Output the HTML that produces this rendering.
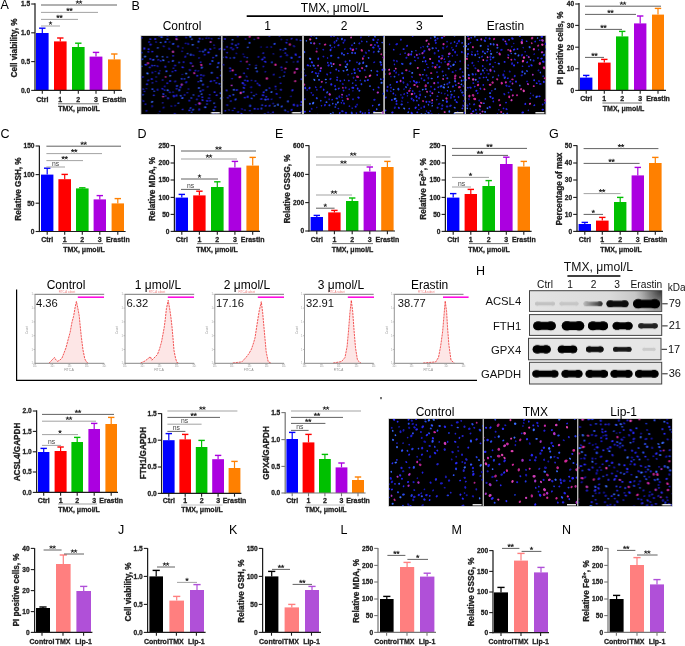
<!DOCTYPE html>
<html><head><meta charset="utf-8"><style>
html,body{margin:0;padding:0;background:#fff;overflow:hidden}
svg{display:block;font-family:"Liberation Sans",sans-serif;will-change:transform}
</style></head><body>
<svg width="685" height="646" viewBox="0 0 685 646" font-family="Liberation Sans, sans-serif"><defs><filter id="mb" x="-5%" y="-5%" width="110%" height="110%"><feGaussianBlur stdDeviation="0.3"/></filter><filter id="bl1" x="-30%" y="-80%" width="160%" height="260%"><feGaussianBlur stdDeviation="0.75"/></filter><filter id="bl2" x="-30%" y="-80%" width="160%" height="260%"><feGaussianBlur stdDeviation="1.4"/></filter><linearGradient id="acg" x1="0" y1="0" x2="1" y2="0"><stop offset="0" stop-color="#e4e4e4"/><stop offset="0.6" stop-color="#dadada"/><stop offset="1" stop-color="#b4b4b4"/></linearGradient><radialGradient id="acr" cx="661" cy="291" r="26" gradientUnits="userSpaceOnUse"><stop offset="0" stop-color="#303030" stop-opacity="0.95"/><stop offset="0.5" stop-color="#505050" stop-opacity="0.5"/><stop offset="1" stop-color="#808080" stop-opacity="0"/></radialGradient><linearGradient id="b2g" gradientUnits="userSpaceOnUse" x1="584" y1="0" x2="602" y2="0"><stop offset="0" stop-color="#b8b8b8"/><stop offset="1" stop-color="#303030"/></linearGradient></defs><rect x="36" y="33" width="12.6" height="57.4" fill="#0000ff"/>
<line x1="42.3" y1="33" x2="42.3" y2="28.2" stroke="#0000ff" stroke-width="1.2"/>
<line x1="39.1" y1="28.2" x2="45.5" y2="28.2" stroke="#0000ff" stroke-width="1.4"/>
<rect x="54" y="41.4" width="12.6" height="49" fill="#ff0000"/>
<line x1="60.3" y1="41.4" x2="60.3" y2="38" stroke="#ff0000" stroke-width="1.2"/>
<line x1="57.1" y1="38" x2="63.5" y2="38" stroke="#ff0000" stroke-width="1.4"/>
<rect x="72" y="47" width="12.6" height="43.4" fill="#00c000"/>
<line x1="78.3" y1="47" x2="78.3" y2="43.2" stroke="#00c000" stroke-width="1.2"/>
<line x1="75.1" y1="43.2" x2="81.5" y2="43.2" stroke="#00c000" stroke-width="1.4"/>
<rect x="89.6" y="56.6" width="12.8" height="33.8" fill="#ab00e0"/>
<line x1="96" y1="56.6" x2="96" y2="52.4" stroke="#ab00e0" stroke-width="1.2"/>
<line x1="92.8" y1="52.4" x2="99.2" y2="52.4" stroke="#ab00e0" stroke-width="1.4"/>
<rect x="108" y="59.4" width="12.6" height="31" fill="#ff8000"/>
<line x1="114.3" y1="59.4" x2="114.3" y2="54" stroke="#ff8000" stroke-width="1.2"/>
<line x1="111.1" y1="54" x2="117.5" y2="54" stroke="#ff8000" stroke-width="1.4"/>
<line x1="35" y1="3.3" x2="35" y2="91" stroke="#1e1e1e" stroke-width="1.25"/>
<line x1="34.4" y1="90.4" x2="122" y2="90.4" stroke="#1e1e1e" stroke-width="1.2"/>
<line x1="31.2" y1="4" x2="35" y2="4" stroke="#1e1e1e" stroke-width="1.1"/>
<text x="30.1" y="6.3" font-size="6.6" text-anchor="end" font-weight="bold" fill="#222" stroke="#222" stroke-width="0.28">1.5</text>
<line x1="31.2" y1="32.8" x2="35" y2="32.8" stroke="#1e1e1e" stroke-width="1.1"/>
<text x="30.1" y="35.1" font-size="6.6" text-anchor="end" font-weight="bold" fill="#222" stroke="#222" stroke-width="0.28">1.0</text>
<line x1="31.2" y1="61.6" x2="35" y2="61.6" stroke="#1e1e1e" stroke-width="1.1"/>
<text x="30.1" y="63.9" font-size="6.6" text-anchor="end" font-weight="bold" fill="#222" stroke="#222" stroke-width="0.28">0.5</text>
<line x1="31.2" y1="90.4" x2="35" y2="90.4" stroke="#1e1e1e" stroke-width="1.1"/>
<text x="30.1" y="92.7" font-size="6.6" text-anchor="end" font-weight="bold" fill="#222" stroke="#222" stroke-width="0.28">0.0</text>
<line x1="42.3" y1="90.4" x2="42.3" y2="93.7" stroke="#1e1e1e" stroke-width="1.1"/>
<line x1="60.3" y1="90.4" x2="60.3" y2="93.7" stroke="#1e1e1e" stroke-width="1.1"/>
<line x1="78.3" y1="90.4" x2="78.3" y2="93.7" stroke="#1e1e1e" stroke-width="1.1"/>
<line x1="96" y1="90.4" x2="96" y2="93.7" stroke="#1e1e1e" stroke-width="1.1"/>
<line x1="114.3" y1="90.4" x2="114.3" y2="93.7" stroke="#1e1e1e" stroke-width="1.1"/>
<text x="42.3" y="101.8" font-size="7" text-anchor="middle" font-weight="bold" fill="#222" stroke="#222" stroke-width="0.28">Ctrl</text>
<text x="60.3" y="101.8" font-size="7" text-anchor="middle" font-weight="bold" fill="#222" stroke="#222" stroke-width="0.28">1</text>
<text x="78.3" y="101.8" font-size="7" text-anchor="middle" font-weight="bold" fill="#222" stroke="#222" stroke-width="0.28">2</text>
<text x="96" y="101.8" font-size="7" text-anchor="middle" font-weight="bold" fill="#222" stroke="#222" stroke-width="0.28">3</text>
<text x="114.3" y="101.8" font-size="7" text-anchor="middle" font-weight="bold" fill="#222" stroke="#222" stroke-width="0.28">Erastin</text>
<line x1="41" y1="5" x2="117" y2="5" stroke="#505050" stroke-width="0.9"/>
<path d="M77.45 2.2 L77.45 0.85 M77.45 2.2 L78.73 1.78 M77.45 2.2 L76.17 1.78 M77.45 2.2 L76.66 3.29 M77.45 2.2 L78.24 3.29 " stroke="#2a2a2a" stroke-width="0.95" stroke-linecap="round" fill="none"/>
<path d="M80.55 2.2 L80.55 0.85 M80.55 2.2 L81.83 1.78 M80.55 2.2 L79.27 1.78 M80.55 2.2 L79.76 3.29 M80.55 2.2 L81.34 3.29 " stroke="#2a2a2a" stroke-width="0.95" stroke-linecap="round" fill="none"/>
<line x1="41" y1="12.4" x2="98" y2="12.4" stroke="#999" stroke-width="0.9"/>
<path d="M67.95 9.6 L67.95 8.25 M67.95 9.6 L69.23 9.18 M67.95 9.6 L66.67 9.18 M67.95 9.6 L67.16 10.69 M67.95 9.6 L68.74 10.69 " stroke="#2a2a2a" stroke-width="0.95" stroke-linecap="round" fill="none"/>
<path d="M71.05 9.6 L71.05 8.25 M71.05 9.6 L72.33 9.18 M71.05 9.6 L69.77 9.18 M71.05 9.6 L70.26 10.69 M71.05 9.6 L71.84 10.69 " stroke="#2a2a2a" stroke-width="0.95" stroke-linecap="round" fill="none"/>
<line x1="41" y1="19.4" x2="78" y2="19.4" stroke="#999" stroke-width="0.9"/>
<path d="M57.95 16.6 L57.95 15.25 M57.95 16.6 L59.23 16.18 M57.95 16.6 L56.67 16.18 M57.95 16.6 L57.16 17.69 M57.95 16.6 L58.74 17.69 " stroke="#2a2a2a" stroke-width="0.95" stroke-linecap="round" fill="none"/>
<path d="M61.05 16.6 L61.05 15.25 M61.05 16.6 L62.33 16.18 M61.05 16.6 L59.77 16.18 M61.05 16.6 L60.26 17.69 M61.05 16.6 L61.84 17.69 " stroke="#2a2a2a" stroke-width="0.95" stroke-linecap="round" fill="none"/>
<line x1="41" y1="26" x2="60" y2="26" stroke="#999" stroke-width="0.9"/>
<path d="M50.5 23.2 L50.5 21.85 M50.5 23.2 L51.78 22.78 M50.5 23.2 L49.22 22.78 M50.5 23.2 L49.71 24.29 M50.5 23.2 L51.29 24.29 " stroke="#2a2a2a" stroke-width="0.95" stroke-linecap="round" fill="none"/>
<line x1="58" y1="103.8" x2="99" y2="103.8" stroke="#666" stroke-width="0.9"/>
<text x="79" y="110.5" font-size="7" text-anchor="middle" font-weight="bold" fill="#222" stroke="#222" stroke-width="0.28">TMX, μmol/L</text>
<text x="16.5" y="48" font-size="8.2" text-anchor="middle" font-weight="bold" fill="#222" stroke="#222" stroke-width="0.3" transform="rotate(-90 16.5 48)">Cell viability, %</text>
<rect x="580" y="77.6" width="12.4" height="12.8" fill="#0000ff"/>
<line x1="586.2" y1="77.6" x2="586.2" y2="75.4" stroke="#0000ff" stroke-width="1.2"/>
<line x1="583" y1="75.4" x2="589.4" y2="75.4" stroke="#0000ff" stroke-width="1.4"/>
<rect x="598" y="62.6" width="12.6" height="27.8" fill="#ff0000"/>
<line x1="604.3" y1="62.6" x2="604.3" y2="59.4" stroke="#ff0000" stroke-width="1.2"/>
<line x1="601.1" y1="59.4" x2="607.5" y2="59.4" stroke="#ff0000" stroke-width="1.4"/>
<rect x="616" y="36.4" width="12.4" height="54" fill="#00c000"/>
<line x1="622.2" y1="36.4" x2="622.2" y2="31.4" stroke="#00c000" stroke-width="1.2"/>
<line x1="619" y1="31.4" x2="625.4" y2="31.4" stroke="#00c000" stroke-width="1.4"/>
<rect x="634" y="23.4" width="12.4" height="67" fill="#ab00e0"/>
<line x1="640.2" y1="23.4" x2="640.2" y2="16" stroke="#ab00e0" stroke-width="1.2"/>
<line x1="637" y1="16" x2="643.4" y2="16" stroke="#ab00e0" stroke-width="1.4"/>
<rect x="652" y="14.6" width="12" height="75.8" fill="#ff8000"/>
<line x1="658" y1="14.6" x2="658" y2="8.4" stroke="#ff8000" stroke-width="1.2"/>
<line x1="654.8" y1="8.4" x2="661.2" y2="8.4" stroke="#ff8000" stroke-width="1.4"/>
<line x1="579" y1="3.1" x2="579" y2="91" stroke="#1e1e1e" stroke-width="1.25"/>
<line x1="578.4" y1="90.4" x2="666" y2="90.4" stroke="#1e1e1e" stroke-width="1.2"/>
<line x1="575.2" y1="4" x2="579" y2="4" stroke="#1e1e1e" stroke-width="1.1"/>
<text x="574.1" y="6.3" font-size="6.6" text-anchor="end" font-weight="bold" fill="#222" stroke="#222" stroke-width="0.28">40</text>
<line x1="575.2" y1="25.4" x2="579" y2="25.4" stroke="#1e1e1e" stroke-width="1.1"/>
<text x="574.1" y="27.7" font-size="6.6" text-anchor="end" font-weight="bold" fill="#222" stroke="#222" stroke-width="0.28">30</text>
<line x1="575.2" y1="47.2" x2="579" y2="47.2" stroke="#1e1e1e" stroke-width="1.1"/>
<text x="574.1" y="49.5" font-size="6.6" text-anchor="end" font-weight="bold" fill="#222" stroke="#222" stroke-width="0.28">20</text>
<line x1="575.2" y1="68.8" x2="579" y2="68.8" stroke="#1e1e1e" stroke-width="1.1"/>
<text x="574.1" y="71.1" font-size="6.6" text-anchor="end" font-weight="bold" fill="#222" stroke="#222" stroke-width="0.28">10</text>
<line x1="575.2" y1="90.4" x2="579" y2="90.4" stroke="#1e1e1e" stroke-width="1.1"/>
<text x="574.1" y="92.7" font-size="6.6" text-anchor="end" font-weight="bold" fill="#222" stroke="#222" stroke-width="0.28">0</text>
<line x1="586.2" y1="90.4" x2="586.2" y2="93.7" stroke="#1e1e1e" stroke-width="1.1"/>
<line x1="604.3" y1="90.4" x2="604.3" y2="93.7" stroke="#1e1e1e" stroke-width="1.1"/>
<line x1="622.2" y1="90.4" x2="622.2" y2="93.7" stroke="#1e1e1e" stroke-width="1.1"/>
<line x1="640.2" y1="90.4" x2="640.2" y2="93.7" stroke="#1e1e1e" stroke-width="1.1"/>
<line x1="658" y1="90.4" x2="658" y2="93.7" stroke="#1e1e1e" stroke-width="1.1"/>
<text x="586.2" y="101.4" font-size="7" text-anchor="middle" font-weight="bold" fill="#222" stroke="#222" stroke-width="0.28">Ctrl</text>
<text x="604.3" y="101.4" font-size="7" text-anchor="middle" font-weight="bold" fill="#222" stroke="#222" stroke-width="0.28">1</text>
<text x="622.2" y="101.4" font-size="7" text-anchor="middle" font-weight="bold" fill="#222" stroke="#222" stroke-width="0.28">2</text>
<text x="640.2" y="101.4" font-size="7" text-anchor="middle" font-weight="bold" fill="#222" stroke="#222" stroke-width="0.28">3</text>
<text x="658" y="101.4" font-size="7" text-anchor="middle" font-weight="bold" fill="#222" stroke="#222" stroke-width="0.28">Erastin</text>
<line x1="585" y1="6.2" x2="661" y2="6.2" stroke="#505050" stroke-width="0.9"/>
<path d="M621.45 3.4 L621.45 2.05 M621.45 3.4 L622.73 2.98 M621.45 3.4 L620.17 2.98 M621.45 3.4 L620.66 4.49 M621.45 3.4 L622.24 4.49 " stroke="#2a2a2a" stroke-width="0.95" stroke-linecap="round" fill="none"/>
<path d="M624.55 3.4 L624.55 2.05 M624.55 3.4 L625.83 2.98 M624.55 3.4 L623.27 2.98 M624.55 3.4 L623.76 4.49 M624.55 3.4 L625.34 4.49 " stroke="#2a2a2a" stroke-width="0.95" stroke-linecap="round" fill="none"/>
<line x1="585" y1="14.4" x2="636" y2="14.4" stroke="#505050" stroke-width="0.9"/>
<path d="M608.95 11.6 L608.95 10.25 M608.95 11.6 L610.23 11.18 M608.95 11.6 L607.67 11.18 M608.95 11.6 L608.16 12.69 M608.95 11.6 L609.74 12.69 " stroke="#2a2a2a" stroke-width="0.95" stroke-linecap="round" fill="none"/>
<path d="M612.05 11.6 L612.05 10.25 M612.05 11.6 L613.33 11.18 M612.05 11.6 L610.77 11.18 M612.05 11.6 L611.26 12.69 M612.05 11.6 L612.84 12.69 " stroke="#2a2a2a" stroke-width="0.95" stroke-linecap="round" fill="none"/>
<line x1="585" y1="29.4" x2="622" y2="29.4" stroke="#505050" stroke-width="0.9"/>
<path d="M601.95 26.6 L601.95 25.25 M601.95 26.6 L603.23 26.18 M601.95 26.6 L600.67 26.18 M601.95 26.6 L601.16 27.69 M601.95 26.6 L602.74 27.69 " stroke="#2a2a2a" stroke-width="0.95" stroke-linecap="round" fill="none"/>
<path d="M605.05 26.6 L605.05 25.25 M605.05 26.6 L606.33 26.18 M605.05 26.6 L603.77 26.18 M605.05 26.6 L604.26 27.69 M605.05 26.6 L605.84 27.69 " stroke="#2a2a2a" stroke-width="0.95" stroke-linecap="round" fill="none"/>
<line x1="585" y1="57.4" x2="604" y2="57.4" stroke="#505050" stroke-width="0.9"/>
<path d="M592.95 54.6 L592.95 53.25 M592.95 54.6 L594.23 54.18 M592.95 54.6 L591.67 54.18 M592.95 54.6 L592.16 55.69 M592.95 54.6 L593.74 55.69 " stroke="#2a2a2a" stroke-width="0.95" stroke-linecap="round" fill="none"/>
<path d="M596.05 54.6 L596.05 53.25 M596.05 54.6 L597.33 54.18 M596.05 54.6 L594.77 54.18 M596.05 54.6 L595.26 55.69 M596.05 54.6 L596.84 55.69 " stroke="#2a2a2a" stroke-width="0.95" stroke-linecap="round" fill="none"/>
<line x1="602.4" y1="103" x2="642" y2="103" stroke="#666" stroke-width="0.9"/>
<text x="623.6" y="110.5" font-size="7" text-anchor="middle" font-weight="bold" fill="#222" stroke="#222" stroke-width="0.28">TMX, μmol/L</text>
<text x="562.9" y="48" font-size="8.2" text-anchor="middle" font-weight="bold" fill="#222" stroke="#222" stroke-width="0.3" transform="rotate(-90 562.9 48)">PI positive cells, %</text>
<rect x="41" y="174.6" width="12.4" height="56.9" fill="#0000ff"/>
<line x1="47.2" y1="174.6" x2="47.2" y2="168.2" stroke="#0000ff" stroke-width="1.2"/>
<line x1="44" y1="168.2" x2="50.4" y2="168.2" stroke="#0000ff" stroke-width="1.4"/>
<rect x="58.4" y="179.2" width="12.6" height="52.3" fill="#ff0000"/>
<line x1="64.7" y1="179.2" x2="64.7" y2="174.4" stroke="#ff0000" stroke-width="1.2"/>
<line x1="61.5" y1="174.4" x2="67.9" y2="174.4" stroke="#ff0000" stroke-width="1.4"/>
<rect x="76" y="188.4" width="12.6" height="43.1" fill="#00c000"/>
<line x1="82.3" y1="188.4" x2="82.3" y2="187.8" stroke="#00c000" stroke-width="1.2"/>
<line x1="79.1" y1="187.8" x2="85.5" y2="187.8" stroke="#00c000" stroke-width="1.4"/>
<rect x="93.6" y="199.4" width="12.4" height="32.1" fill="#ab00e0"/>
<line x1="99.8" y1="199.4" x2="99.8" y2="195.6" stroke="#ab00e0" stroke-width="1.2"/>
<line x1="96.6" y1="195.6" x2="103" y2="195.6" stroke="#ab00e0" stroke-width="1.4"/>
<rect x="111.6" y="203.4" width="12.4" height="28.1" fill="#ff8000"/>
<line x1="117.8" y1="203.4" x2="117.8" y2="198.6" stroke="#ff8000" stroke-width="1.2"/>
<line x1="114.6" y1="198.6" x2="121" y2="198.6" stroke="#ff8000" stroke-width="1.4"/>
<line x1="39.4" y1="145.7" x2="39.4" y2="232.1" stroke="#1e1e1e" stroke-width="1.25"/>
<line x1="38.8" y1="231.5" x2="125.6" y2="231.5" stroke="#1e1e1e" stroke-width="1.2"/>
<line x1="35.6" y1="146" x2="39.4" y2="146" stroke="#1e1e1e" stroke-width="1.1"/>
<text x="34.5" y="148.3" font-size="6.6" text-anchor="end" font-weight="bold" fill="#222" stroke="#222" stroke-width="0.28">150</text>
<line x1="35.6" y1="174.6" x2="39.4" y2="174.6" stroke="#1e1e1e" stroke-width="1.1"/>
<text x="34.5" y="176.9" font-size="6.6" text-anchor="end" font-weight="bold" fill="#222" stroke="#222" stroke-width="0.28">100</text>
<line x1="35.6" y1="203.2" x2="39.4" y2="203.2" stroke="#1e1e1e" stroke-width="1.1"/>
<text x="34.5" y="205.5" font-size="6.6" text-anchor="end" font-weight="bold" fill="#222" stroke="#222" stroke-width="0.28">50</text>
<line x1="35.6" y1="231.5" x2="39.4" y2="231.5" stroke="#1e1e1e" stroke-width="1.1"/>
<text x="34.5" y="233.8" font-size="6.6" text-anchor="end" font-weight="bold" fill="#222" stroke="#222" stroke-width="0.28">0</text>
<line x1="47.2" y1="231.5" x2="47.2" y2="234.8" stroke="#1e1e1e" stroke-width="1.1"/>
<line x1="64.7" y1="231.5" x2="64.7" y2="234.8" stroke="#1e1e1e" stroke-width="1.1"/>
<line x1="82.3" y1="231.5" x2="82.3" y2="234.8" stroke="#1e1e1e" stroke-width="1.1"/>
<line x1="99.8" y1="231.5" x2="99.8" y2="234.8" stroke="#1e1e1e" stroke-width="1.1"/>
<line x1="117.8" y1="231.5" x2="117.8" y2="234.8" stroke="#1e1e1e" stroke-width="1.1"/>
<text x="47.2" y="242.4" font-size="7" text-anchor="middle" font-weight="bold" fill="#222" stroke="#222" stroke-width="0.28">Ctrl</text>
<text x="64.7" y="242.4" font-size="7" text-anchor="middle" font-weight="bold" fill="#222" stroke="#222" stroke-width="0.28">1</text>
<text x="82.3" y="242.4" font-size="7" text-anchor="middle" font-weight="bold" fill="#222" stroke="#222" stroke-width="0.28">2</text>
<text x="99.8" y="242.4" font-size="7" text-anchor="middle" font-weight="bold" fill="#222" stroke="#222" stroke-width="0.28">3</text>
<text x="117.8" y="242.4" font-size="7" text-anchor="middle" font-weight="bold" fill="#222" stroke="#222" stroke-width="0.28">Erastin</text>
<line x1="46.4" y1="146.2" x2="121" y2="146.2" stroke="#505050" stroke-width="0.9"/>
<path d="M82.15 143.4 L82.15 142.05 M82.15 143.4 L83.43 142.98 M82.15 143.4 L80.87 142.98 M82.15 143.4 L81.36 144.49 M82.15 143.4 L82.94 144.49 " stroke="#2a2a2a" stroke-width="0.95" stroke-linecap="round" fill="none"/>
<path d="M85.25 143.4 L85.25 142.05 M85.25 143.4 L86.53 142.98 M85.25 143.4 L83.97 142.98 M85.25 143.4 L84.46 144.49 M85.25 143.4 L86.04 144.49 " stroke="#2a2a2a" stroke-width="0.95" stroke-linecap="round" fill="none"/>
<line x1="46.4" y1="153.6" x2="102" y2="153.6" stroke="#999" stroke-width="0.9"/>
<path d="M72.65 150.8 L72.65 149.45 M72.65 150.8 L73.93 150.38 M72.65 150.8 L71.37 150.38 M72.65 150.8 L71.86 151.89 M72.65 150.8 L73.44 151.89 " stroke="#2a2a2a" stroke-width="0.95" stroke-linecap="round" fill="none"/>
<path d="M75.75 150.8 L75.75 149.45 M75.75 150.8 L77.03 150.38 M75.75 150.8 L74.47 150.38 M75.75 150.8 L74.96 151.89 M75.75 150.8 L76.54 151.89 " stroke="#2a2a2a" stroke-width="0.95" stroke-linecap="round" fill="none"/>
<line x1="46.4" y1="160.6" x2="83" y2="160.6" stroke="#999" stroke-width="0.9"/>
<path d="M63.15 157.8 L63.15 156.45 M63.15 157.8 L64.43 157.38 M63.15 157.8 L61.87 157.38 M63.15 157.8 L62.36 158.89 M63.15 157.8 L63.94 158.89 " stroke="#2a2a2a" stroke-width="0.95" stroke-linecap="round" fill="none"/>
<path d="M66.25 157.8 L66.25 156.45 M66.25 157.8 L67.53 157.38 M66.25 157.8 L64.97 157.38 M66.25 157.8 L65.46 158.89 M66.25 157.8 L67.04 158.89 " stroke="#2a2a2a" stroke-width="0.95" stroke-linecap="round" fill="none"/>
<line x1="46.4" y1="167" x2="65" y2="167" stroke="#999" stroke-width="0.9"/>
<text x="55.7" y="166" font-size="6.8" text-anchor="middle" font-weight="normal" fill="#444">ns</text>
<line x1="62" y1="243.6" x2="103" y2="243.6" stroke="#666" stroke-width="0.9"/>
<text x="84" y="251.5" font-size="7" text-anchor="middle" font-weight="bold" fill="#222" stroke="#222" stroke-width="0.28">TMX, μmol/L</text>
<text x="20.5" y="189" font-size="8.2" text-anchor="middle" font-weight="bold" fill="#222" stroke="#222" stroke-width="0.3" transform="rotate(-90 20.5 189)">Relative GSH, %</text>
<rect x="175.6" y="197.6" width="12.4" height="33.8" fill="#0000ff"/>
<line x1="181.8" y1="197.6" x2="181.8" y2="194.4" stroke="#0000ff" stroke-width="1.2"/>
<line x1="178.6" y1="194.4" x2="185" y2="194.4" stroke="#0000ff" stroke-width="1.4"/>
<rect x="193.2" y="195.4" width="12.4" height="36" fill="#ff0000"/>
<line x1="199.4" y1="195.4" x2="199.4" y2="191.2" stroke="#ff0000" stroke-width="1.2"/>
<line x1="196.2" y1="191.2" x2="202.6" y2="191.2" stroke="#ff0000" stroke-width="1.4"/>
<rect x="211" y="187" width="12.6" height="44.4" fill="#00c000"/>
<line x1="217.3" y1="187" x2="217.3" y2="181.8" stroke="#00c000" stroke-width="1.2"/>
<line x1="214.1" y1="181.8" x2="220.5" y2="181.8" stroke="#00c000" stroke-width="1.4"/>
<rect x="228.6" y="167.6" width="12.6" height="63.8" fill="#ab00e0"/>
<line x1="234.9" y1="167.6" x2="234.9" y2="161.4" stroke="#ab00e0" stroke-width="1.2"/>
<line x1="231.7" y1="161.4" x2="238.1" y2="161.4" stroke="#ab00e0" stroke-width="1.4"/>
<rect x="246.4" y="165.6" width="12.6" height="65.8" fill="#ff8000"/>
<line x1="252.7" y1="165.6" x2="252.7" y2="157.4" stroke="#ff8000" stroke-width="1.2"/>
<line x1="249.5" y1="157.4" x2="255.9" y2="157.4" stroke="#ff8000" stroke-width="1.4"/>
<line x1="174.4" y1="145.3" x2="174.4" y2="232" stroke="#1e1e1e" stroke-width="1.25"/>
<line x1="173.8" y1="231.4" x2="260" y2="231.4" stroke="#1e1e1e" stroke-width="1.2"/>
<line x1="170.6" y1="145.6" x2="174.4" y2="145.6" stroke="#1e1e1e" stroke-width="1.1"/>
<text x="169.5" y="147.9" font-size="6.6" text-anchor="end" font-weight="bold" fill="#222" stroke="#222" stroke-width="0.28">250</text>
<line x1="170.6" y1="163" x2="174.4" y2="163" stroke="#1e1e1e" stroke-width="1.1"/>
<text x="169.5" y="165.3" font-size="6.6" text-anchor="end" font-weight="bold" fill="#222" stroke="#222" stroke-width="0.28">200</text>
<line x1="170.6" y1="180" x2="174.4" y2="180" stroke="#1e1e1e" stroke-width="1.1"/>
<text x="169.5" y="182.3" font-size="6.6" text-anchor="end" font-weight="bold" fill="#222" stroke="#222" stroke-width="0.28">150</text>
<line x1="170.6" y1="197.4" x2="174.4" y2="197.4" stroke="#1e1e1e" stroke-width="1.1"/>
<text x="169.5" y="199.7" font-size="6.6" text-anchor="end" font-weight="bold" fill="#222" stroke="#222" stroke-width="0.28">100</text>
<line x1="170.6" y1="214.4" x2="174.4" y2="214.4" stroke="#1e1e1e" stroke-width="1.1"/>
<text x="169.5" y="216.7" font-size="6.6" text-anchor="end" font-weight="bold" fill="#222" stroke="#222" stroke-width="0.28">50</text>
<line x1="170.6" y1="231.4" x2="174.4" y2="231.4" stroke="#1e1e1e" stroke-width="1.1"/>
<text x="169.5" y="233.7" font-size="6.6" text-anchor="end" font-weight="bold" fill="#222" stroke="#222" stroke-width="0.28">0</text>
<line x1="181.8" y1="231.4" x2="181.8" y2="234.7" stroke="#1e1e1e" stroke-width="1.1"/>
<line x1="199.4" y1="231.4" x2="199.4" y2="234.7" stroke="#1e1e1e" stroke-width="1.1"/>
<line x1="217.3" y1="231.4" x2="217.3" y2="234.7" stroke="#1e1e1e" stroke-width="1.1"/>
<line x1="234.9" y1="231.4" x2="234.9" y2="234.7" stroke="#1e1e1e" stroke-width="1.1"/>
<line x1="252.7" y1="231.4" x2="252.7" y2="234.7" stroke="#1e1e1e" stroke-width="1.1"/>
<text x="181.8" y="242.4" font-size="7" text-anchor="middle" font-weight="bold" fill="#222" stroke="#222" stroke-width="0.28">Ctrl</text>
<text x="199.4" y="242.4" font-size="7" text-anchor="middle" font-weight="bold" fill="#222" stroke="#222" stroke-width="0.28">1</text>
<text x="217.3" y="242.4" font-size="7" text-anchor="middle" font-weight="bold" fill="#222" stroke="#222" stroke-width="0.28">2</text>
<text x="234.9" y="242.4" font-size="7" text-anchor="middle" font-weight="bold" fill="#222" stroke="#222" stroke-width="0.28">3</text>
<text x="252.7" y="242.4" font-size="7" text-anchor="middle" font-weight="bold" fill="#222" stroke="#222" stroke-width="0.28">Erastin</text>
<line x1="181" y1="151" x2="256" y2="151" stroke="#505050" stroke-width="0.9"/>
<path d="M216.95 148.2 L216.95 146.85 M216.95 148.2 L218.23 147.78 M216.95 148.2 L215.67 147.78 M216.95 148.2 L216.16 149.29 M216.95 148.2 L217.74 149.29 " stroke="#2a2a2a" stroke-width="0.95" stroke-linecap="round" fill="none"/>
<path d="M220.05 148.2 L220.05 146.85 M220.05 148.2 L221.33 147.78 M220.05 148.2 L218.77 147.78 M220.05 148.2 L219.26 149.29 M220.05 148.2 L220.84 149.29 " stroke="#2a2a2a" stroke-width="0.95" stroke-linecap="round" fill="none"/>
<line x1="181" y1="159" x2="237" y2="159" stroke="#999" stroke-width="0.9"/>
<path d="M207.45 156.2 L207.45 154.85 M207.45 156.2 L208.73 155.78 M207.45 156.2 L206.17 155.78 M207.45 156.2 L206.66 157.29 M207.45 156.2 L208.24 157.29 " stroke="#2a2a2a" stroke-width="0.95" stroke-linecap="round" fill="none"/>
<path d="M210.55 156.2 L210.55 154.85 M210.55 156.2 L211.83 155.78 M210.55 156.2 L209.27 155.78 M210.55 156.2 L209.76 157.29 M210.55 156.2 L211.34 157.29 " stroke="#2a2a2a" stroke-width="0.95" stroke-linecap="round" fill="none"/>
<line x1="181" y1="179" x2="218" y2="179" stroke="#505050" stroke-width="0.9"/>
<path d="M199.5 176.2 L199.5 174.85 M199.5 176.2 L200.78 175.78 M199.5 176.2 L198.22 175.78 M199.5 176.2 L198.71 177.29 M199.5 176.2 L200.29 177.29 " stroke="#2a2a2a" stroke-width="0.95" stroke-linecap="round" fill="none"/>
<line x1="181" y1="189.4" x2="200" y2="189.4" stroke="#505050" stroke-width="0.9"/>
<text x="190.5" y="188.4" font-size="6.8" text-anchor="middle" font-weight="normal" fill="#444">ns</text>
<line x1="197" y1="243.6" x2="238" y2="243.6" stroke="#666" stroke-width="0.9"/>
<text x="217" y="251.5" font-size="7" text-anchor="middle" font-weight="bold" fill="#222" stroke="#222" stroke-width="0.28">TMX, μmol/L</text>
<text x="154.9" y="189" font-size="8.2" text-anchor="middle" font-weight="bold" fill="#222" stroke="#222" stroke-width="0.3" transform="rotate(-90 154.9 189)">Relative MDA, %</text>
<rect x="310.6" y="217" width="12.4" height="14" fill="#0000ff"/>
<line x1="316.8" y1="217" x2="316.8" y2="215.4" stroke="#0000ff" stroke-width="1.2"/>
<line x1="313.6" y1="215.4" x2="320" y2="215.4" stroke="#0000ff" stroke-width="1.4"/>
<rect x="328.2" y="212.4" width="12.4" height="18.6" fill="#ff0000"/>
<line x1="334.4" y1="212.4" x2="334.4" y2="210.4" stroke="#ff0000" stroke-width="1.2"/>
<line x1="331.2" y1="210.4" x2="337.6" y2="210.4" stroke="#ff0000" stroke-width="1.4"/>
<rect x="346" y="201" width="12.4" height="30" fill="#00c000"/>
<line x1="352.2" y1="201" x2="352.2" y2="198" stroke="#00c000" stroke-width="1.2"/>
<line x1="349" y1="198" x2="355.4" y2="198" stroke="#00c000" stroke-width="1.4"/>
<rect x="363.6" y="171.6" width="12.4" height="59.4" fill="#ab00e0"/>
<line x1="369.8" y1="171.6" x2="369.8" y2="167" stroke="#ab00e0" stroke-width="1.2"/>
<line x1="366.6" y1="167" x2="373" y2="167" stroke="#ab00e0" stroke-width="1.4"/>
<rect x="381.2" y="167" width="12.4" height="64" fill="#ff8000"/>
<line x1="387.4" y1="167" x2="387.4" y2="161.4" stroke="#ff8000" stroke-width="1.2"/>
<line x1="384.2" y1="161.4" x2="390.6" y2="161.4" stroke="#ff8000" stroke-width="1.4"/>
<line x1="309" y1="145.3" x2="309" y2="231.6" stroke="#1e1e1e" stroke-width="1.25"/>
<line x1="308.4" y1="231" x2="395" y2="231" stroke="#1e1e1e" stroke-width="1.2"/>
<line x1="305.2" y1="145.6" x2="309" y2="145.6" stroke="#1e1e1e" stroke-width="1.1"/>
<text x="304.1" y="147.9" font-size="6.6" text-anchor="end" font-weight="bold" fill="#222" stroke="#222" stroke-width="0.28">600</text>
<line x1="305.2" y1="174.4" x2="309" y2="174.4" stroke="#1e1e1e" stroke-width="1.1"/>
<text x="304.1" y="176.7" font-size="6.6" text-anchor="end" font-weight="bold" fill="#222" stroke="#222" stroke-width="0.28">400</text>
<line x1="305.2" y1="202.6" x2="309" y2="202.6" stroke="#1e1e1e" stroke-width="1.1"/>
<text x="304.1" y="204.9" font-size="6.6" text-anchor="end" font-weight="bold" fill="#222" stroke="#222" stroke-width="0.28">200</text>
<line x1="305.2" y1="231" x2="309" y2="231" stroke="#1e1e1e" stroke-width="1.1"/>
<text x="304.1" y="233.3" font-size="6.6" text-anchor="end" font-weight="bold" fill="#222" stroke="#222" stroke-width="0.28">0</text>
<line x1="316.8" y1="231" x2="316.8" y2="234.3" stroke="#1e1e1e" stroke-width="1.1"/>
<line x1="334.4" y1="231" x2="334.4" y2="234.3" stroke="#1e1e1e" stroke-width="1.1"/>
<line x1="352.2" y1="231" x2="352.2" y2="234.3" stroke="#1e1e1e" stroke-width="1.1"/>
<line x1="369.8" y1="231" x2="369.8" y2="234.3" stroke="#1e1e1e" stroke-width="1.1"/>
<line x1="387.4" y1="231" x2="387.4" y2="234.3" stroke="#1e1e1e" stroke-width="1.1"/>
<text x="316.8" y="242.4" font-size="7" text-anchor="middle" font-weight="bold" fill="#222" stroke="#222" stroke-width="0.28">Ctrl</text>
<text x="334.4" y="242.4" font-size="7" text-anchor="middle" font-weight="bold" fill="#222" stroke="#222" stroke-width="0.28">1</text>
<text x="352.2" y="242.4" font-size="7" text-anchor="middle" font-weight="bold" fill="#222" stroke="#222" stroke-width="0.28">2</text>
<text x="369.8" y="242.4" font-size="7" text-anchor="middle" font-weight="bold" fill="#222" stroke="#222" stroke-width="0.28">3</text>
<text x="387.4" y="242.4" font-size="7" text-anchor="middle" font-weight="bold" fill="#222" stroke="#222" stroke-width="0.28">Erastin</text>
<line x1="316" y1="157" x2="390.4" y2="157" stroke="#999" stroke-width="0.9"/>
<path d="M351.65 154.2 L351.65 152.85 M351.65 154.2 L352.93 153.78 M351.65 154.2 L350.37 153.78 M351.65 154.2 L350.86 155.29 M351.65 154.2 L352.44 155.29 " stroke="#2a2a2a" stroke-width="0.95" stroke-linecap="round" fill="none"/>
<path d="M354.75 154.2 L354.75 152.85 M354.75 154.2 L356.03 153.78 M354.75 154.2 L353.47 153.78 M354.75 154.2 L353.96 155.29 M354.75 154.2 L355.54 155.29 " stroke="#2a2a2a" stroke-width="0.95" stroke-linecap="round" fill="none"/>
<line x1="316" y1="165" x2="371" y2="165" stroke="#999" stroke-width="0.9"/>
<path d="M341.95 162.2 L341.95 160.85 M341.95 162.2 L343.23 161.78 M341.95 162.2 L340.67 161.78 M341.95 162.2 L341.16 163.29 M341.95 162.2 L342.74 163.29 " stroke="#2a2a2a" stroke-width="0.95" stroke-linecap="round" fill="none"/>
<path d="M345.05 162.2 L345.05 160.85 M345.05 162.2 L346.33 161.78 M345.05 162.2 L343.77 161.78 M345.05 162.2 L344.26 163.29 M345.05 162.2 L345.84 163.29 " stroke="#2a2a2a" stroke-width="0.95" stroke-linecap="round" fill="none"/>
<line x1="316" y1="195" x2="352" y2="195" stroke="#999" stroke-width="0.9"/>
<path d="M332.45 192.2 L332.45 190.85 M332.45 192.2 L333.73 191.78 M332.45 192.2 L331.17 191.78 M332.45 192.2 L331.66 193.29 M332.45 192.2 L333.24 193.29 " stroke="#2a2a2a" stroke-width="0.95" stroke-linecap="round" fill="none"/>
<path d="M335.55 192.2 L335.55 190.85 M335.55 192.2 L336.83 191.78 M335.55 192.2 L334.27 191.78 M335.55 192.2 L334.76 193.29 M335.55 192.2 L336.34 193.29 " stroke="#2a2a2a" stroke-width="0.95" stroke-linecap="round" fill="none"/>
<line x1="316" y1="208.2" x2="334.6" y2="208.2" stroke="#505050" stroke-width="0.9"/>
<path d="M325.3 205.4 L325.3 204.05 M325.3 205.4 L326.58 204.98 M325.3 205.4 L324.02 204.98 M325.3 205.4 L324.51 206.49 M325.3 205.4 L326.09 206.49 " stroke="#2a2a2a" stroke-width="0.95" stroke-linecap="round" fill="none"/>
<line x1="332" y1="243.6" x2="373" y2="243.6" stroke="#666" stroke-width="0.9"/>
<text x="352.5" y="251.5" font-size="7" text-anchor="middle" font-weight="bold" fill="#222" stroke="#222" stroke-width="0.28">TMX, μmol/L</text>
<text x="289.9" y="189" font-size="8.2" text-anchor="middle" font-weight="bold" fill="#222" stroke="#222" stroke-width="0.3" transform="rotate(-90 289.9 189)">Relative GSSG, %</text>
<rect x="447" y="197.6" width="12.4" height="33.8" fill="#0000ff"/>
<line x1="453.2" y1="197.6" x2="453.2" y2="193.6" stroke="#0000ff" stroke-width="1.2"/>
<line x1="450" y1="193.6" x2="456.4" y2="193.6" stroke="#0000ff" stroke-width="1.4"/>
<rect x="464.6" y="194" width="12.4" height="37.4" fill="#ff0000"/>
<line x1="470.8" y1="194" x2="470.8" y2="189.4" stroke="#ff0000" stroke-width="1.2"/>
<line x1="467.6" y1="189.4" x2="474" y2="189.4" stroke="#ff0000" stroke-width="1.4"/>
<rect x="482.4" y="186" width="12.6" height="45.4" fill="#00c000"/>
<line x1="488.7" y1="186" x2="488.7" y2="180.6" stroke="#00c000" stroke-width="1.2"/>
<line x1="485.5" y1="180.6" x2="491.9" y2="180.6" stroke="#00c000" stroke-width="1.4"/>
<rect x="500" y="164" width="12.6" height="67.4" fill="#ab00e0"/>
<line x1="506.3" y1="164" x2="506.3" y2="157.2" stroke="#ab00e0" stroke-width="1.2"/>
<line x1="503.1" y1="157.2" x2="509.5" y2="157.2" stroke="#ab00e0" stroke-width="1.4"/>
<rect x="517.6" y="166.6" width="12.4" height="64.8" fill="#ff8000"/>
<line x1="523.8" y1="166.6" x2="523.8" y2="161.4" stroke="#ff8000" stroke-width="1.2"/>
<line x1="520.6" y1="161.4" x2="527" y2="161.4" stroke="#ff8000" stroke-width="1.4"/>
<line x1="445.4" y1="145.3" x2="445.4" y2="232" stroke="#1e1e1e" stroke-width="1.25"/>
<line x1="444.8" y1="231.4" x2="531.6" y2="231.4" stroke="#1e1e1e" stroke-width="1.2"/>
<line x1="441.6" y1="145.6" x2="445.4" y2="145.6" stroke="#1e1e1e" stroke-width="1.1"/>
<text x="440.5" y="147.9" font-size="6.6" text-anchor="end" font-weight="bold" fill="#222" stroke="#222" stroke-width="0.28">250</text>
<line x1="441.6" y1="163" x2="445.4" y2="163" stroke="#1e1e1e" stroke-width="1.1"/>
<text x="440.5" y="165.3" font-size="6.6" text-anchor="end" font-weight="bold" fill="#222" stroke="#222" stroke-width="0.28">200</text>
<line x1="441.6" y1="180" x2="445.4" y2="180" stroke="#1e1e1e" stroke-width="1.1"/>
<text x="440.5" y="182.3" font-size="6.6" text-anchor="end" font-weight="bold" fill="#222" stroke="#222" stroke-width="0.28">150</text>
<line x1="441.6" y1="197.4" x2="445.4" y2="197.4" stroke="#1e1e1e" stroke-width="1.1"/>
<text x="440.5" y="199.7" font-size="6.6" text-anchor="end" font-weight="bold" fill="#222" stroke="#222" stroke-width="0.28">100</text>
<line x1="441.6" y1="214.4" x2="445.4" y2="214.4" stroke="#1e1e1e" stroke-width="1.1"/>
<text x="440.5" y="216.7" font-size="6.6" text-anchor="end" font-weight="bold" fill="#222" stroke="#222" stroke-width="0.28">50</text>
<line x1="441.6" y1="231.4" x2="445.4" y2="231.4" stroke="#1e1e1e" stroke-width="1.1"/>
<text x="440.5" y="233.7" font-size="6.6" text-anchor="end" font-weight="bold" fill="#222" stroke="#222" stroke-width="0.28">0</text>
<line x1="453.2" y1="231.4" x2="453.2" y2="234.7" stroke="#1e1e1e" stroke-width="1.1"/>
<line x1="470.8" y1="231.4" x2="470.8" y2="234.7" stroke="#1e1e1e" stroke-width="1.1"/>
<line x1="488.7" y1="231.4" x2="488.7" y2="234.7" stroke="#1e1e1e" stroke-width="1.1"/>
<line x1="506.3" y1="231.4" x2="506.3" y2="234.7" stroke="#1e1e1e" stroke-width="1.1"/>
<line x1="523.8" y1="231.4" x2="523.8" y2="234.7" stroke="#1e1e1e" stroke-width="1.1"/>
<text x="453.2" y="242.4" font-size="7" text-anchor="middle" font-weight="bold" fill="#222" stroke="#222" stroke-width="0.28">Ctrl</text>
<text x="470.8" y="242.4" font-size="7" text-anchor="middle" font-weight="bold" fill="#222" stroke="#222" stroke-width="0.28">1</text>
<text x="488.7" y="242.4" font-size="7" text-anchor="middle" font-weight="bold" fill="#222" stroke="#222" stroke-width="0.28">2</text>
<text x="506.3" y="242.4" font-size="7" text-anchor="middle" font-weight="bold" fill="#222" stroke="#222" stroke-width="0.28">3</text>
<text x="523.8" y="242.4" font-size="7" text-anchor="middle" font-weight="bold" fill="#222" stroke="#222" stroke-width="0.28">Erastin</text>
<line x1="452" y1="148.4" x2="527" y2="148.4" stroke="#505050" stroke-width="0.9"/>
<path d="M487.95 145.6 L487.95 144.25 M487.95 145.6 L489.23 145.18 M487.95 145.6 L486.67 145.18 M487.95 145.6 L487.16 146.69 M487.95 145.6 L488.74 146.69 " stroke="#2a2a2a" stroke-width="0.95" stroke-linecap="round" fill="none"/>
<path d="M491.05 145.6 L491.05 144.25 M491.05 145.6 L492.33 145.18 M491.05 145.6 L489.77 145.18 M491.05 145.6 L490.26 146.69 M491.05 145.6 L491.84 146.69 " stroke="#2a2a2a" stroke-width="0.95" stroke-linecap="round" fill="none"/>
<line x1="452" y1="155.4" x2="508" y2="155.4" stroke="#505050" stroke-width="0.9"/>
<path d="M478.45 152.6 L478.45 151.25 M478.45 152.6 L479.73 152.18 M478.45 152.6 L477.17 152.18 M478.45 152.6 L477.66 153.69 M478.45 152.6 L479.24 153.69 " stroke="#2a2a2a" stroke-width="0.95" stroke-linecap="round" fill="none"/>
<path d="M481.55 152.6 L481.55 151.25 M481.55 152.6 L482.83 152.18 M481.55 152.6 L480.27 152.18 M481.55 152.6 L480.76 153.69 M481.55 152.6 L482.34 153.69 " stroke="#2a2a2a" stroke-width="0.95" stroke-linecap="round" fill="none"/>
<line x1="452" y1="177.4" x2="489" y2="177.4" stroke="#999" stroke-width="0.9"/>
<path d="M470.5 174.6 L470.5 173.25 M470.5 174.6 L471.78 174.18 M470.5 174.6 L469.22 174.18 M470.5 174.6 L469.71 175.69 M470.5 174.6 L471.29 175.69 " stroke="#2a2a2a" stroke-width="0.95" stroke-linecap="round" fill="none"/>
<line x1="452" y1="187" x2="471" y2="187" stroke="#999" stroke-width="0.9"/>
<text x="461.5" y="186" font-size="6.8" text-anchor="middle" font-weight="normal" fill="#444">ns</text>
<line x1="469" y1="243.6" x2="509" y2="243.6" stroke="#666" stroke-width="0.9"/>
<text x="489" y="251.5" font-size="7" text-anchor="middle" font-weight="bold" fill="#222" stroke="#222" stroke-width="0.28">TMX, μmol/L</text>
<text x="425.9" y="189" font-size="8.2" text-anchor="middle" font-weight="bold" fill="#222" stroke="#222" stroke-width="0.3" transform="rotate(-90 425.9 189)">Relative Fe<tspan font-size="5.5" dy="-3">2+</tspan><tspan dy="3">, %</tspan></text>
<rect x="578.6" y="224" width="12.4" height="7.4" fill="#0000ff"/>
<line x1="584.8" y1="224" x2="584.8" y2="222.4" stroke="#0000ff" stroke-width="1.2"/>
<line x1="581.6" y1="222.4" x2="588" y2="222.4" stroke="#0000ff" stroke-width="1.4"/>
<rect x="596" y="220.6" width="12.6" height="10.8" fill="#ff0000"/>
<line x1="602.3" y1="220.6" x2="602.3" y2="217.4" stroke="#ff0000" stroke-width="1.2"/>
<line x1="599.1" y1="217.4" x2="605.5" y2="217.4" stroke="#ff0000" stroke-width="1.4"/>
<rect x="614" y="202" width="12.4" height="29.4" fill="#00c000"/>
<line x1="620.2" y1="202" x2="620.2" y2="197.4" stroke="#00c000" stroke-width="1.2"/>
<line x1="617" y1="197.4" x2="623.4" y2="197.4" stroke="#00c000" stroke-width="1.4"/>
<rect x="631.6" y="175.4" width="12.4" height="56" fill="#ab00e0"/>
<line x1="637.8" y1="175.4" x2="637.8" y2="167.4" stroke="#ab00e0" stroke-width="1.2"/>
<line x1="634.6" y1="167.4" x2="641" y2="167.4" stroke="#ab00e0" stroke-width="1.4"/>
<rect x="649" y="163" width="12.6" height="68.4" fill="#ff8000"/>
<line x1="655.3" y1="163" x2="655.3" y2="157.4" stroke="#ff8000" stroke-width="1.2"/>
<line x1="652.1" y1="157.4" x2="658.5" y2="157.4" stroke="#ff8000" stroke-width="1.4"/>
<line x1="577" y1="145.3" x2="577" y2="232" stroke="#1e1e1e" stroke-width="1.25"/>
<line x1="576.4" y1="231.4" x2="663" y2="231.4" stroke="#1e1e1e" stroke-width="1.2"/>
<line x1="573.2" y1="145.6" x2="577" y2="145.6" stroke="#1e1e1e" stroke-width="1.1"/>
<text x="572.1" y="147.9" font-size="6.6" text-anchor="end" font-weight="bold" fill="#222" stroke="#222" stroke-width="0.28">50</text>
<line x1="573.2" y1="163" x2="577" y2="163" stroke="#1e1e1e" stroke-width="1.1"/>
<text x="572.1" y="165.3" font-size="6.6" text-anchor="end" font-weight="bold" fill="#222" stroke="#222" stroke-width="0.28">40</text>
<line x1="573.2" y1="180" x2="577" y2="180" stroke="#1e1e1e" stroke-width="1.1"/>
<text x="572.1" y="182.3" font-size="6.6" text-anchor="end" font-weight="bold" fill="#222" stroke="#222" stroke-width="0.28">30</text>
<line x1="573.2" y1="197.4" x2="577" y2="197.4" stroke="#1e1e1e" stroke-width="1.1"/>
<text x="572.1" y="199.7" font-size="6.6" text-anchor="end" font-weight="bold" fill="#222" stroke="#222" stroke-width="0.28">20</text>
<line x1="573.2" y1="214.4" x2="577" y2="214.4" stroke="#1e1e1e" stroke-width="1.1"/>
<text x="572.1" y="216.7" font-size="6.6" text-anchor="end" font-weight="bold" fill="#222" stroke="#222" stroke-width="0.28">10</text>
<line x1="573.2" y1="231.4" x2="577" y2="231.4" stroke="#1e1e1e" stroke-width="1.1"/>
<text x="572.1" y="233.7" font-size="6.6" text-anchor="end" font-weight="bold" fill="#222" stroke="#222" stroke-width="0.28">0</text>
<line x1="584.8" y1="231.4" x2="584.8" y2="234.7" stroke="#1e1e1e" stroke-width="1.1"/>
<line x1="602.3" y1="231.4" x2="602.3" y2="234.7" stroke="#1e1e1e" stroke-width="1.1"/>
<line x1="620.2" y1="231.4" x2="620.2" y2="234.7" stroke="#1e1e1e" stroke-width="1.1"/>
<line x1="637.8" y1="231.4" x2="637.8" y2="234.7" stroke="#1e1e1e" stroke-width="1.1"/>
<line x1="655.3" y1="231.4" x2="655.3" y2="234.7" stroke="#1e1e1e" stroke-width="1.1"/>
<text x="584.8" y="242.4" font-size="7" text-anchor="middle" font-weight="bold" fill="#222" stroke="#222" stroke-width="0.28">Ctrl</text>
<text x="602.3" y="242.4" font-size="7" text-anchor="middle" font-weight="bold" fill="#222" stroke="#222" stroke-width="0.28">1</text>
<text x="620.2" y="242.4" font-size="7" text-anchor="middle" font-weight="bold" fill="#222" stroke="#222" stroke-width="0.28">2</text>
<text x="637.8" y="242.4" font-size="7" text-anchor="middle" font-weight="bold" fill="#222" stroke="#222" stroke-width="0.28">3</text>
<text x="655.3" y="242.4" font-size="7" text-anchor="middle" font-weight="bold" fill="#222" stroke="#222" stroke-width="0.28">Erastin</text>
<line x1="583.6" y1="148.6" x2="658.4" y2="148.6" stroke="#505050" stroke-width="0.9"/>
<path d="M619.45 145.8 L619.45 144.45 M619.45 145.8 L620.73 145.38 M619.45 145.8 L618.17 145.38 M619.45 145.8 L618.66 146.89 M619.45 145.8 L620.24 146.89 " stroke="#2a2a2a" stroke-width="0.95" stroke-linecap="round" fill="none"/>
<path d="M622.55 145.8 L622.55 144.45 M622.55 145.8 L623.83 145.38 M622.55 145.8 L621.27 145.38 M622.55 145.8 L621.76 146.89 M622.55 145.8 L623.34 146.89 " stroke="#2a2a2a" stroke-width="0.95" stroke-linecap="round" fill="none"/>
<line x1="583.6" y1="163.4" x2="639.6" y2="163.4" stroke="#505050" stroke-width="0.9"/>
<path d="M610.05 160.6 L610.05 159.25 M610.05 160.6 L611.33 160.18 M610.05 160.6 L608.77 160.18 M610.05 160.6 L609.26 161.69 M610.05 160.6 L610.84 161.69 " stroke="#2a2a2a" stroke-width="0.95" stroke-linecap="round" fill="none"/>
<path d="M613.15 160.6 L613.15 159.25 M613.15 160.6 L614.43 160.18 M613.15 160.6 L611.87 160.18 M613.15 160.6 L612.36 161.69 M613.15 160.6 L613.94 161.69 " stroke="#2a2a2a" stroke-width="0.95" stroke-linecap="round" fill="none"/>
<line x1="583.6" y1="193.6" x2="620.6" y2="193.6" stroke="#999" stroke-width="0.9"/>
<path d="M600.55 190.8 L600.55 189.45 M600.55 190.8 L601.83 190.38 M600.55 190.8 L599.27 190.38 M600.55 190.8 L599.76 191.89 M600.55 190.8 L601.34 191.89 " stroke="#2a2a2a" stroke-width="0.95" stroke-linecap="round" fill="none"/>
<path d="M603.65 190.8 L603.65 189.45 M603.65 190.8 L604.93 190.38 M603.65 190.8 L602.37 190.38 M603.65 190.8 L602.86 191.89 M603.65 190.8 L604.44 191.89 " stroke="#2a2a2a" stroke-width="0.95" stroke-linecap="round" fill="none"/>
<line x1="583.6" y1="214.4" x2="603" y2="214.4" stroke="#505050" stroke-width="0.9"/>
<path d="M593.3 211.6 L593.3 210.25 M593.3 211.6 L594.58 211.18 M593.3 211.6 L592.02 211.18 M593.3 211.6 L592.51 212.69 M593.3 211.6 L594.09 212.69 " stroke="#2a2a2a" stroke-width="0.95" stroke-linecap="round" fill="none"/>
<line x1="601" y1="243.6" x2="641" y2="243.6" stroke="#666" stroke-width="0.9"/>
<text x="621" y="251.5" font-size="7" text-anchor="middle" font-weight="bold" fill="#222" stroke="#222" stroke-width="0.28">TMX, μmol/L</text>
<text x="561.5" y="189" font-size="8.2" text-anchor="middle" font-weight="bold" fill="#222" stroke="#222" stroke-width="0.3" transform="rotate(-90 561.5 189)">Percentage of max</text>
<rect x="38" y="452" width="11.4" height="40.4" fill="#0000ff"/>
<line x1="43.7" y1="452" x2="43.7" y2="448.4" stroke="#0000ff" stroke-width="1.2"/>
<line x1="40.5" y1="448.4" x2="46.9" y2="448.4" stroke="#0000ff" stroke-width="1.4"/>
<rect x="54.6" y="451" width="12" height="41.4" fill="#ff0000"/>
<line x1="60.6" y1="451" x2="60.6" y2="447" stroke="#ff0000" stroke-width="1.2"/>
<line x1="57.4" y1="447" x2="63.8" y2="447" stroke="#ff0000" stroke-width="1.4"/>
<rect x="71.4" y="442" width="11.6" height="50.4" fill="#00c000"/>
<line x1="77.2" y1="442" x2="77.2" y2="437.4" stroke="#00c000" stroke-width="1.2"/>
<line x1="74" y1="437.4" x2="80.4" y2="437.4" stroke="#00c000" stroke-width="1.4"/>
<rect x="88.4" y="429" width="11.6" height="63.4" fill="#ab00e0"/>
<line x1="94.2" y1="429" x2="94.2" y2="423.4" stroke="#ab00e0" stroke-width="1.2"/>
<line x1="91" y1="423.4" x2="97.4" y2="423.4" stroke="#ab00e0" stroke-width="1.4"/>
<rect x="105.4" y="424" width="11.6" height="68.4" fill="#ff8000"/>
<line x1="111.2" y1="424" x2="111.2" y2="417.4" stroke="#ff8000" stroke-width="1.2"/>
<line x1="108" y1="417.4" x2="114.4" y2="417.4" stroke="#ff8000" stroke-width="1.4"/>
<line x1="36.6" y1="410.3" x2="36.6" y2="493" stroke="#1e1e1e" stroke-width="1.25"/>
<line x1="36" y1="492.4" x2="118" y2="492.4" stroke="#1e1e1e" stroke-width="1.2"/>
<line x1="32.8" y1="411" x2="36.6" y2="411" stroke="#1e1e1e" stroke-width="1.1"/>
<text x="31.7" y="413.3" font-size="6.6" text-anchor="end" font-weight="bold" fill="#222" stroke="#222" stroke-width="0.28">2.0</text>
<line x1="32.8" y1="431.4" x2="36.6" y2="431.4" stroke="#1e1e1e" stroke-width="1.1"/>
<text x="31.7" y="433.7" font-size="6.6" text-anchor="end" font-weight="bold" fill="#222" stroke="#222" stroke-width="0.28">1.5</text>
<line x1="32.8" y1="451.8" x2="36.6" y2="451.8" stroke="#1e1e1e" stroke-width="1.1"/>
<text x="31.7" y="454.1" font-size="6.6" text-anchor="end" font-weight="bold" fill="#222" stroke="#222" stroke-width="0.28">1.0</text>
<line x1="32.8" y1="472" x2="36.6" y2="472" stroke="#1e1e1e" stroke-width="1.1"/>
<text x="31.7" y="474.3" font-size="6.6" text-anchor="end" font-weight="bold" fill="#222" stroke="#222" stroke-width="0.28">0.5</text>
<line x1="32.8" y1="492.4" x2="36.6" y2="492.4" stroke="#1e1e1e" stroke-width="1.1"/>
<text x="31.7" y="494.7" font-size="6.6" text-anchor="end" font-weight="bold" fill="#222" stroke="#222" stroke-width="0.28">0.0</text>
<line x1="43.7" y1="492.4" x2="43.7" y2="495.7" stroke="#1e1e1e" stroke-width="1.1"/>
<line x1="60.6" y1="492.4" x2="60.6" y2="495.7" stroke="#1e1e1e" stroke-width="1.1"/>
<line x1="77.2" y1="492.4" x2="77.2" y2="495.7" stroke="#1e1e1e" stroke-width="1.1"/>
<line x1="94.2" y1="492.4" x2="94.2" y2="495.7" stroke="#1e1e1e" stroke-width="1.1"/>
<line x1="111.2" y1="492.4" x2="111.2" y2="495.7" stroke="#1e1e1e" stroke-width="1.1"/>
<text x="43.7" y="503" font-size="7" text-anchor="middle" font-weight="bold" fill="#222" stroke="#222" stroke-width="0.28">Ctrl</text>
<text x="60.6" y="503" font-size="7" text-anchor="middle" font-weight="bold" fill="#222" stroke="#222" stroke-width="0.28">1</text>
<text x="77.2" y="503" font-size="7" text-anchor="middle" font-weight="bold" fill="#222" stroke="#222" stroke-width="0.28">2</text>
<text x="94.2" y="503" font-size="7" text-anchor="middle" font-weight="bold" fill="#222" stroke="#222" stroke-width="0.28">3</text>
<text x="111.2" y="503" font-size="7" text-anchor="middle" font-weight="bold" fill="#222" stroke="#222" stroke-width="0.28">Erastin</text>
<line x1="42" y1="414.4" x2="114" y2="414.4" stroke="#505050" stroke-width="0.9"/>
<path d="M76.45 411.6 L76.45 410.25 M76.45 411.6 L77.73 411.18 M76.45 411.6 L75.17 411.18 M76.45 411.6 L75.66 412.69 M76.45 411.6 L77.24 412.69 " stroke="#2a2a2a" stroke-width="0.95" stroke-linecap="round" fill="none"/>
<path d="M79.55 411.6 L79.55 410.25 M79.55 411.6 L80.83 411.18 M79.55 411.6 L78.27 411.18 M79.55 411.6 L78.76 412.69 M79.55 411.6 L80.34 412.69 " stroke="#2a2a2a" stroke-width="0.95" stroke-linecap="round" fill="none"/>
<line x1="42" y1="421.2" x2="96" y2="421.2" stroke="#999" stroke-width="0.9"/>
<path d="M67.45 418.4 L67.45 417.05 M67.45 418.4 L68.73 417.98 M67.45 418.4 L66.17 417.98 M67.45 418.4 L66.66 419.49 M67.45 418.4 L68.24 419.49 " stroke="#2a2a2a" stroke-width="0.95" stroke-linecap="round" fill="none"/>
<path d="M70.55 418.4 L70.55 417.05 M70.55 418.4 L71.83 417.98 M70.55 418.4 L69.27 417.98 M70.55 418.4 L69.76 419.49 M70.55 418.4 L71.34 419.49 " stroke="#2a2a2a" stroke-width="0.95" stroke-linecap="round" fill="none"/>
<line x1="42" y1="434.6" x2="78" y2="434.6" stroke="#999" stroke-width="0.9"/>
<path d="M60 431.8 L60 430.45 M60 431.8 L61.28 431.38 M60 431.8 L58.72 431.38 M60 431.8 L59.21 432.89 M60 431.8 L60.79 432.89 " stroke="#2a2a2a" stroke-width="0.95" stroke-linecap="round" fill="none"/>
<line x1="42" y1="445.4" x2="61" y2="445.4" stroke="#999" stroke-width="0.9"/>
<text x="51.5" y="444.4" font-size="6.8" text-anchor="middle" font-weight="normal" fill="#444">ns</text>
<line x1="58" y1="504" x2="97" y2="504" stroke="#999" stroke-width="0.9"/>
<text x="79" y="511.5" font-size="7" text-anchor="middle" font-weight="bold" fill="#222" stroke="#222" stroke-width="0.28">TMX, μmol/L</text>
<text x="19.9" y="452" font-size="8.2" text-anchor="middle" font-weight="bold" fill="#222" stroke="#222" stroke-width="0.3" transform="rotate(-90 19.9 452)">ACSL4/GAPDH</text>
<rect x="163" y="440.2" width="11.6" height="53.2" fill="#0000ff"/>
<line x1="168.8" y1="440.2" x2="168.8" y2="433.6" stroke="#0000ff" stroke-width="1.2"/>
<line x1="165.6" y1="433.6" x2="172" y2="433.6" stroke="#0000ff" stroke-width="1.4"/>
<rect x="179.4" y="439.4" width="11.6" height="54" fill="#ff0000"/>
<line x1="185.2" y1="439.4" x2="185.2" y2="434.4" stroke="#ff0000" stroke-width="1.2"/>
<line x1="182" y1="434.4" x2="188.4" y2="434.4" stroke="#ff0000" stroke-width="1.4"/>
<rect x="195.8" y="447" width="11.6" height="46.4" fill="#00c000"/>
<line x1="201.6" y1="447" x2="201.6" y2="440.4" stroke="#00c000" stroke-width="1.2"/>
<line x1="198.4" y1="440.4" x2="204.8" y2="440.4" stroke="#00c000" stroke-width="1.4"/>
<rect x="212.2" y="459.2" width="11.8" height="34.2" fill="#ab00e0"/>
<line x1="218.1" y1="459.2" x2="218.1" y2="455.4" stroke="#ab00e0" stroke-width="1.2"/>
<line x1="214.9" y1="455.4" x2="221.3" y2="455.4" stroke="#ab00e0" stroke-width="1.4"/>
<rect x="228.6" y="468" width="11.8" height="25.4" fill="#ff8000"/>
<line x1="234.5" y1="468" x2="234.5" y2="461.4" stroke="#ff8000" stroke-width="1.2"/>
<line x1="231.3" y1="461.4" x2="237.7" y2="461.4" stroke="#ff8000" stroke-width="1.4"/>
<line x1="161.6" y1="413.3" x2="161.6" y2="494" stroke="#1e1e1e" stroke-width="1.25"/>
<line x1="161" y1="493.4" x2="241.4" y2="493.4" stroke="#1e1e1e" stroke-width="1.2"/>
<line x1="157.8" y1="413.6" x2="161.6" y2="413.6" stroke="#1e1e1e" stroke-width="1.1"/>
<text x="156.7" y="415.9" font-size="6.6" text-anchor="end" font-weight="bold" fill="#222" stroke="#222" stroke-width="0.28">1.5</text>
<line x1="157.8" y1="440.2" x2="161.6" y2="440.2" stroke="#1e1e1e" stroke-width="1.1"/>
<text x="156.7" y="442.5" font-size="6.6" text-anchor="end" font-weight="bold" fill="#222" stroke="#222" stroke-width="0.28">1.0</text>
<line x1="157.8" y1="467" x2="161.6" y2="467" stroke="#1e1e1e" stroke-width="1.1"/>
<text x="156.7" y="469.3" font-size="6.6" text-anchor="end" font-weight="bold" fill="#222" stroke="#222" stroke-width="0.28">0.5</text>
<line x1="157.8" y1="493.4" x2="161.6" y2="493.4" stroke="#1e1e1e" stroke-width="1.1"/>
<text x="156.7" y="495.7" font-size="6.6" text-anchor="end" font-weight="bold" fill="#222" stroke="#222" stroke-width="0.28">0.0</text>
<line x1="168.8" y1="493.4" x2="168.8" y2="496.7" stroke="#1e1e1e" stroke-width="1.1"/>
<line x1="185.2" y1="493.4" x2="185.2" y2="496.7" stroke="#1e1e1e" stroke-width="1.1"/>
<line x1="201.6" y1="493.4" x2="201.6" y2="496.7" stroke="#1e1e1e" stroke-width="1.1"/>
<line x1="218.1" y1="493.4" x2="218.1" y2="496.7" stroke="#1e1e1e" stroke-width="1.1"/>
<line x1="234.5" y1="493.4" x2="234.5" y2="496.7" stroke="#1e1e1e" stroke-width="1.1"/>
<text x="168.8" y="503.4" font-size="7" text-anchor="middle" font-weight="bold" fill="#222" stroke="#222" stroke-width="0.28">Ctrl</text>
<text x="185.2" y="503.4" font-size="7" text-anchor="middle" font-weight="bold" fill="#222" stroke="#222" stroke-width="0.28">1</text>
<text x="201.6" y="503.4" font-size="7" text-anchor="middle" font-weight="bold" fill="#222" stroke="#222" stroke-width="0.28">2</text>
<text x="218.1" y="503.4" font-size="7" text-anchor="middle" font-weight="bold" fill="#222" stroke="#222" stroke-width="0.28">3</text>
<text x="234.5" y="503.4" font-size="7" text-anchor="middle" font-weight="bold" fill="#222" stroke="#222" stroke-width="0.28">Erastin</text>
<line x1="167.4" y1="411" x2="237.4" y2="411" stroke="#999" stroke-width="0.9"/>
<path d="M200.85 408.2 L200.85 406.85 M200.85 408.2 L202.13 407.78 M200.85 408.2 L199.57 407.78 M200.85 408.2 L200.06 409.29 M200.85 408.2 L201.64 409.29 " stroke="#2a2a2a" stroke-width="0.95" stroke-linecap="round" fill="none"/>
<path d="M203.95 408.2 L203.95 406.85 M203.95 408.2 L205.23 407.78 M203.95 408.2 L202.67 407.78 M203.95 408.2 L203.16 409.29 M203.95 408.2 L204.74 409.29 " stroke="#2a2a2a" stroke-width="0.95" stroke-linecap="round" fill="none"/>
<line x1="167.4" y1="417.4" x2="220" y2="417.4" stroke="#505050" stroke-width="0.9"/>
<path d="M192.15 414.6 L192.15 413.25 M192.15 414.6 L193.43 414.18 M192.15 414.6 L190.87 414.18 M192.15 414.6 L191.36 415.69 M192.15 414.6 L192.94 415.69 " stroke="#2a2a2a" stroke-width="0.95" stroke-linecap="round" fill="none"/>
<path d="M195.25 414.6 L195.25 413.25 M195.25 414.6 L196.53 414.18 M195.25 414.6 L193.97 414.18 M195.25 414.6 L194.46 415.69 M195.25 414.6 L196.04 415.69 " stroke="#2a2a2a" stroke-width="0.95" stroke-linecap="round" fill="none"/>
<line x1="167.4" y1="424.2" x2="201.6" y2="424.2" stroke="#999" stroke-width="0.9"/>
<text x="184.5" y="423.2" font-size="6.8" text-anchor="middle" font-weight="normal" fill="#444">ns</text>
<line x1="167.4" y1="431.4" x2="185.4" y2="431.4" stroke="#505050" stroke-width="0.9"/>
<text x="176.4" y="430.4" font-size="6.8" text-anchor="middle" font-weight="normal" fill="#444">ns</text>
<line x1="181" y1="505" x2="222.6" y2="505" stroke="#bbb" stroke-width="0.9"/>
<text x="202" y="511.9" font-size="7" text-anchor="middle" font-weight="bold" fill="#222" stroke="#222" stroke-width="0.28">TMX, μmol/L</text>
<text x="145.9" y="453" font-size="8.2" text-anchor="middle" font-weight="bold" fill="#222" stroke="#222" stroke-width="0.3" transform="rotate(-90 145.9 453)">FTH1/GAPDH</text>
<rect x="286.4" y="439" width="11.6" height="54" fill="#0000ff"/>
<line x1="292.2" y1="439" x2="292.2" y2="432.4" stroke="#0000ff" stroke-width="1.2"/>
<line x1="289" y1="432.4" x2="295.4" y2="432.4" stroke="#0000ff" stroke-width="1.4"/>
<rect x="302.6" y="442.4" width="11.8" height="50.6" fill="#ff0000"/>
<line x1="308.5" y1="442.4" x2="308.5" y2="434.4" stroke="#ff0000" stroke-width="1.2"/>
<line x1="305.3" y1="434.4" x2="311.7" y2="434.4" stroke="#ff0000" stroke-width="1.4"/>
<rect x="319" y="459" width="11.8" height="34" fill="#00c000"/>
<line x1="324.9" y1="459" x2="324.9" y2="454.4" stroke="#00c000" stroke-width="1.2"/>
<line x1="321.7" y1="454.4" x2="328.1" y2="454.4" stroke="#00c000" stroke-width="1.4"/>
<rect x="335.6" y="467.4" width="11.8" height="25.6" fill="#ab00e0"/>
<line x1="341.5" y1="467.4" x2="341.5" y2="463" stroke="#ab00e0" stroke-width="1.2"/>
<line x1="338.3" y1="463" x2="344.7" y2="463" stroke="#ab00e0" stroke-width="1.4"/>
<rect x="352" y="480" width="12" height="13" fill="#ff8000"/>
<line x1="358" y1="480" x2="358" y2="477" stroke="#ff8000" stroke-width="1.2"/>
<line x1="354.8" y1="477" x2="361.2" y2="477" stroke="#ff8000" stroke-width="1.4"/>
<line x1="285.2" y1="412.3" x2="285.2" y2="493.6" stroke="#777" stroke-width="1.25"/>
<line x1="284.6" y1="493" x2="365.6" y2="493" stroke="#777" stroke-width="1.2"/>
<line x1="281.4" y1="412.6" x2="285.2" y2="412.6" stroke="#777" stroke-width="1.1"/>
<text x="280.3" y="414.9" font-size="6.6" text-anchor="end" font-weight="bold" fill="#222" stroke="#222" stroke-width="0.28">1.5</text>
<line x1="281.4" y1="439.6" x2="285.2" y2="439.6" stroke="#777" stroke-width="1.1"/>
<text x="280.3" y="441.9" font-size="6.6" text-anchor="end" font-weight="bold" fill="#222" stroke="#222" stroke-width="0.28">1.0</text>
<line x1="281.4" y1="466.4" x2="285.2" y2="466.4" stroke="#777" stroke-width="1.1"/>
<text x="280.3" y="468.7" font-size="6.6" text-anchor="end" font-weight="bold" fill="#222" stroke="#222" stroke-width="0.28">0.5</text>
<line x1="281.4" y1="493" x2="285.2" y2="493" stroke="#777" stroke-width="1.1"/>
<text x="280.3" y="495.3" font-size="6.6" text-anchor="end" font-weight="bold" fill="#222" stroke="#222" stroke-width="0.28">0.0</text>
<line x1="292.2" y1="493" x2="292.2" y2="496.3" stroke="#777" stroke-width="1.1"/>
<line x1="308.5" y1="493" x2="308.5" y2="496.3" stroke="#777" stroke-width="1.1"/>
<line x1="324.9" y1="493" x2="324.9" y2="496.3" stroke="#777" stroke-width="1.1"/>
<line x1="341.5" y1="493" x2="341.5" y2="496.3" stroke="#777" stroke-width="1.1"/>
<line x1="358" y1="493" x2="358" y2="496.3" stroke="#777" stroke-width="1.1"/>
<text x="292.2" y="503.4" font-size="7" text-anchor="middle" font-weight="bold" fill="#222" stroke="#222" stroke-width="0.28">Ctrl</text>
<text x="308.5" y="503.4" font-size="7" text-anchor="middle" font-weight="bold" fill="#222" stroke="#222" stroke-width="0.28">1</text>
<text x="324.9" y="503.4" font-size="7" text-anchor="middle" font-weight="bold" fill="#222" stroke="#222" stroke-width="0.28">2</text>
<text x="341.5" y="503.4" font-size="7" text-anchor="middle" font-weight="bold" fill="#222" stroke="#222" stroke-width="0.28">3</text>
<text x="358" y="503.4" font-size="7" text-anchor="middle" font-weight="bold" fill="#222" stroke="#222" stroke-width="0.28">Erastin</text>
<line x1="291" y1="411" x2="361" y2="411" stroke="#999" stroke-width="0.9"/>
<path d="M324.45 408.2 L324.45 406.85 M324.45 408.2 L325.73 407.78 M324.45 408.2 L323.17 407.78 M324.45 408.2 L323.66 409.29 M324.45 408.2 L325.24 409.29 " stroke="#2a2a2a" stroke-width="0.95" stroke-linecap="round" fill="none"/>
<path d="M327.55 408.2 L327.55 406.85 M327.55 408.2 L328.83 407.78 M327.55 408.2 L326.27 407.78 M327.55 408.2 L326.76 409.29 M327.55 408.2 L328.34 409.29 " stroke="#2a2a2a" stroke-width="0.95" stroke-linecap="round" fill="none"/>
<line x1="291" y1="417.4" x2="343" y2="417.4" stroke="#505050" stroke-width="0.9"/>
<path d="M315.45 414.6 L315.45 413.25 M315.45 414.6 L316.73 414.18 M315.45 414.6 L314.17 414.18 M315.45 414.6 L314.66 415.69 M315.45 414.6 L316.24 415.69 " stroke="#2a2a2a" stroke-width="0.95" stroke-linecap="round" fill="none"/>
<path d="M318.55 414.6 L318.55 413.25 M318.55 414.6 L319.83 414.18 M318.55 414.6 L317.27 414.18 M318.55 414.6 L317.76 415.69 M318.55 414.6 L319.34 415.69 " stroke="#2a2a2a" stroke-width="0.95" stroke-linecap="round" fill="none"/>
<line x1="291" y1="423.4" x2="325.4" y2="423.4" stroke="#505050" stroke-width="0.9"/>
<path d="M306.65 420.6 L306.65 419.25 M306.65 420.6 L307.93 420.18 M306.65 420.6 L305.37 420.18 M306.65 420.6 L305.86 421.69 M306.65 420.6 L307.44 421.69 " stroke="#2a2a2a" stroke-width="0.95" stroke-linecap="round" fill="none"/>
<path d="M309.75 420.6 L309.75 419.25 M309.75 420.6 L311.03 420.18 M309.75 420.6 L308.47 420.18 M309.75 420.6 L308.96 421.69 M309.75 420.6 L310.54 421.69 " stroke="#2a2a2a" stroke-width="0.95" stroke-linecap="round" fill="none"/>
<line x1="291" y1="430.4" x2="308.6" y2="430.4" stroke="#505050" stroke-width="0.9"/>
<text x="299.8" y="429.4" font-size="6.8" text-anchor="middle" font-weight="normal" fill="#444">ns</text>
<line x1="305.7" y1="505" x2="345" y2="505" stroke="#bbb" stroke-width="0.9"/>
<text x="325.8" y="511.9" font-size="7" text-anchor="middle" font-weight="bold" fill="#222" stroke="#222" stroke-width="0.28">TMX, μmol/L</text>
<text x="268.9" y="453" font-size="8.2" text-anchor="middle" font-weight="bold" fill="#222" stroke="#222" stroke-width="0.3" transform="rotate(-90 268.9 453)">GPX4/GAPDH</text>
<rect x="36" y="608" width="14" height="24.4" fill="#000000"/>
<line x1="43" y1="608" x2="43" y2="607" stroke="#000000" stroke-width="1.2"/>
<line x1="39.4" y1="607" x2="46.6" y2="607" stroke="#000000" stroke-width="1.4"/>
<rect x="56" y="564" width="14.6" height="68.4" fill="#ff7f7f"/>
<line x1="63.3" y1="564" x2="63.3" y2="555" stroke="#ff7f7f" stroke-width="1.2"/>
<line x1="59.7" y1="555" x2="66.9" y2="555" stroke="#ff7f7f" stroke-width="1.4"/>
<rect x="76.4" y="591" width="14.6" height="41.4" fill="#b050d8"/>
<line x1="83.7" y1="591" x2="83.7" y2="586.4" stroke="#b050d8" stroke-width="1.2"/>
<line x1="80.1" y1="586.4" x2="87.3" y2="586.4" stroke="#b050d8" stroke-width="1.4"/>
<line x1="34.6" y1="548.1" x2="34.6" y2="633" stroke="#1e1e1e" stroke-width="1.25"/>
<line x1="34" y1="632.4" x2="92.4" y2="632.4" stroke="#1e1e1e" stroke-width="1.2"/>
<line x1="30.8" y1="548.4" x2="34.6" y2="548.4" stroke="#1e1e1e" stroke-width="1.1"/>
<text x="29.7" y="550.7" font-size="6.6" text-anchor="end" font-weight="bold" fill="#222" stroke="#222" stroke-width="0.28">40</text>
<line x1="30.8" y1="569.6" x2="34.6" y2="569.6" stroke="#1e1e1e" stroke-width="1.1"/>
<text x="29.7" y="571.9" font-size="6.6" text-anchor="end" font-weight="bold" fill="#222" stroke="#222" stroke-width="0.28">30</text>
<line x1="30.8" y1="590.6" x2="34.6" y2="590.6" stroke="#1e1e1e" stroke-width="1.1"/>
<text x="29.7" y="592.9" font-size="6.6" text-anchor="end" font-weight="bold" fill="#222" stroke="#222" stroke-width="0.28">20</text>
<line x1="30.8" y1="611.6" x2="34.6" y2="611.6" stroke="#1e1e1e" stroke-width="1.1"/>
<text x="29.7" y="613.9" font-size="6.6" text-anchor="end" font-weight="bold" fill="#222" stroke="#222" stroke-width="0.28">10</text>
<line x1="30.8" y1="632.4" x2="34.6" y2="632.4" stroke="#1e1e1e" stroke-width="1.1"/>
<text x="29.7" y="634.7" font-size="6.6" text-anchor="end" font-weight="bold" fill="#222" stroke="#222" stroke-width="0.28">0</text>
<line x1="42" y1="632.4" x2="42" y2="635.7" stroke="#1e1e1e" stroke-width="1.1"/>
<line x1="63" y1="632.4" x2="63" y2="635.7" stroke="#1e1e1e" stroke-width="1.1"/>
<line x1="83.6" y1="632.4" x2="83.6" y2="635.7" stroke="#1e1e1e" stroke-width="1.1"/>
<text x="42" y="643.8" font-size="7" text-anchor="middle" font-weight="bold" fill="#222" stroke="#222" stroke-width="0.28">Control</text>
<text x="63" y="643.8" font-size="7" text-anchor="middle" font-weight="bold" fill="#222" stroke="#222" stroke-width="0.28">TMX</text>
<text x="83.6" y="643.8" font-size="7" text-anchor="middle" font-weight="bold" fill="#222" stroke="#222" stroke-width="0.28">Lip-1</text>
<line x1="43.6" y1="550" x2="61.6" y2="550" stroke="#505050" stroke-width="0.9"/>
<path d="M51.05 547.2 L51.05 545.85 M51.05 547.2 L52.33 546.78 M51.05 547.2 L49.77 546.78 M51.05 547.2 L50.26 548.29 M51.05 547.2 L51.84 548.29 " stroke="#2a2a2a" stroke-width="0.95" stroke-linecap="round" fill="none"/>
<path d="M54.15 547.2 L54.15 545.85 M54.15 547.2 L55.43 546.78 M54.15 547.2 L52.87 546.78 M54.15 547.2 L53.36 548.29 M54.15 547.2 L54.94 548.29 " stroke="#2a2a2a" stroke-width="0.95" stroke-linecap="round" fill="none"/>
<line x1="64" y1="554" x2="84" y2="554" stroke="#505050" stroke-width="0.9"/>
<path d="M72.45 551.2 L72.45 549.85 M72.45 551.2 L73.73 550.78 M72.45 551.2 L71.17 550.78 M72.45 551.2 L71.66 552.29 M72.45 551.2 L73.24 552.29 " stroke="#2a2a2a" stroke-width="0.95" stroke-linecap="round" fill="none"/>
<path d="M75.55 551.2 L75.55 549.85 M75.55 551.2 L76.83 550.78 M75.55 551.2 L74.27 550.78 M75.55 551.2 L74.76 552.29 M75.55 551.2 L76.34 552.29 " stroke="#2a2a2a" stroke-width="0.95" stroke-linecap="round" fill="none"/>
<text x="18.9" y="590" font-size="8.2" text-anchor="middle" font-weight="bold" fill="#222" stroke="#222" stroke-width="0.3" transform="rotate(-90 18.9 590)">PI positive cells, %</text>
<rect x="149.4" y="576.4" width="13.6" height="56" fill="#000000"/>
<line x1="156.2" y1="576.4" x2="156.2" y2="570.4" stroke="#000000" stroke-width="1.2"/>
<line x1="152.6" y1="570.4" x2="159.8" y2="570.4" stroke="#000000" stroke-width="1.4"/>
<rect x="169.4" y="600.6" width="14.6" height="31.8" fill="#ff7f7f"/>
<line x1="176.7" y1="600.6" x2="176.7" y2="596.4" stroke="#ff7f7f" stroke-width="1.2"/>
<line x1="173.1" y1="596.4" x2="180.3" y2="596.4" stroke="#ff7f7f" stroke-width="1.4"/>
<rect x="190" y="590" width="14" height="42.4" fill="#b050d8"/>
<line x1="197" y1="590" x2="197" y2="584.6" stroke="#b050d8" stroke-width="1.2"/>
<line x1="193.4" y1="584.6" x2="200.6" y2="584.6" stroke="#b050d8" stroke-width="1.4"/>
<line x1="147.6" y1="548.1" x2="147.6" y2="633" stroke="#1e1e1e" stroke-width="1.25"/>
<line x1="147" y1="632.4" x2="205.6" y2="632.4" stroke="#1e1e1e" stroke-width="1.2"/>
<line x1="143.8" y1="548.4" x2="147.6" y2="548.4" stroke="#1e1e1e" stroke-width="1.1"/>
<text x="142.7" y="550.7" font-size="6.6" text-anchor="end" font-weight="bold" fill="#222" stroke="#222" stroke-width="0.28">1.5</text>
<line x1="143.8" y1="576.4" x2="147.6" y2="576.4" stroke="#1e1e1e" stroke-width="1.1"/>
<text x="142.7" y="578.7" font-size="6.6" text-anchor="end" font-weight="bold" fill="#222" stroke="#222" stroke-width="0.28">1.0</text>
<line x1="143.8" y1="604.4" x2="147.6" y2="604.4" stroke="#1e1e1e" stroke-width="1.1"/>
<text x="142.7" y="606.7" font-size="6.6" text-anchor="end" font-weight="bold" fill="#222" stroke="#222" stroke-width="0.28">0.5</text>
<line x1="143.8" y1="632.4" x2="147.6" y2="632.4" stroke="#1e1e1e" stroke-width="1.1"/>
<text x="142.7" y="634.7" font-size="6.6" text-anchor="end" font-weight="bold" fill="#222" stroke="#222" stroke-width="0.28">0.0</text>
<line x1="156.4" y1="632.4" x2="156.4" y2="635.7" stroke="#1e1e1e" stroke-width="1.1"/>
<line x1="176.4" y1="632.4" x2="176.4" y2="635.7" stroke="#1e1e1e" stroke-width="1.1"/>
<line x1="196.4" y1="632.4" x2="196.4" y2="635.7" stroke="#1e1e1e" stroke-width="1.1"/>
<text x="156.4" y="643.8" font-size="7" text-anchor="middle" font-weight="bold" fill="#222" stroke="#222" stroke-width="0.28">Control</text>
<text x="176.4" y="643.8" font-size="7" text-anchor="middle" font-weight="bold" fill="#222" stroke="#222" stroke-width="0.28">TMX</text>
<text x="196.4" y="643.8" font-size="7" text-anchor="middle" font-weight="bold" fill="#222" stroke="#222" stroke-width="0.28">Lip-1</text>
<line x1="157" y1="567" x2="175" y2="567" stroke="#505050" stroke-width="0.9"/>
<path d="M164.45 564.2 L164.45 562.85 M164.45 564.2 L165.73 563.78 M164.45 564.2 L163.17 563.78 M164.45 564.2 L163.66 565.29 M164.45 564.2 L165.24 565.29 " stroke="#2a2a2a" stroke-width="0.95" stroke-linecap="round" fill="none"/>
<path d="M167.55 564.2 L167.55 562.85 M167.55 564.2 L168.83 563.78 M167.55 564.2 L166.27 563.78 M167.55 564.2 L166.76 565.29 M167.55 564.2 L168.34 565.29 " stroke="#2a2a2a" stroke-width="0.95" stroke-linecap="round" fill="none"/>
<line x1="177" y1="582.4" x2="197" y2="582.4" stroke="#999" stroke-width="0.9"/>
<path d="M187 579.6 L187 578.25 M187 579.6 L188.28 579.18 M187 579.6 L185.72 579.18 M187 579.6 L186.21 580.69 M187 579.6 L187.79 580.69 " stroke="#2a2a2a" stroke-width="0.95" stroke-linecap="round" fill="none"/>
<text x="131.3" y="592" font-size="8.2" text-anchor="middle" font-weight="bold" fill="#222" stroke="#222" stroke-width="0.3" transform="rotate(-90 131.3 592)">Cell viability, %</text>
<rect x="265" y="576.4" width="13.4" height="56" fill="#000000"/>
<line x1="271.7" y1="576.4" x2="271.7" y2="571.4" stroke="#000000" stroke-width="1.2"/>
<line x1="268.1" y1="571.4" x2="275.3" y2="571.4" stroke="#000000" stroke-width="1.4"/>
<rect x="284.6" y="607.4" width="14.4" height="25" fill="#ff7f7f"/>
<line x1="291.8" y1="607.4" x2="291.8" y2="604.4" stroke="#ff7f7f" stroke-width="1.2"/>
<line x1="288.2" y1="604.4" x2="295.4" y2="604.4" stroke="#ff7f7f" stroke-width="1.4"/>
<rect x="305" y="590" width="14" height="42.4" fill="#b050d8"/>
<line x1="312" y1="590" x2="312" y2="586.4" stroke="#b050d8" stroke-width="1.2"/>
<line x1="308.4" y1="586.4" x2="315.6" y2="586.4" stroke="#b050d8" stroke-width="1.4"/>
<line x1="262.6" y1="548.1" x2="262.6" y2="633" stroke="#1e1e1e" stroke-width="1.25"/>
<line x1="262" y1="632.4" x2="321" y2="632.4" stroke="#1e1e1e" stroke-width="1.2"/>
<line x1="258.8" y1="548.4" x2="262.6" y2="548.4" stroke="#1e1e1e" stroke-width="1.1"/>
<text x="257.7" y="550.7" font-size="6.6" text-anchor="end" font-weight="bold" fill="#222" stroke="#222" stroke-width="0.28">150</text>
<line x1="258.8" y1="576.4" x2="262.6" y2="576.4" stroke="#1e1e1e" stroke-width="1.1"/>
<text x="257.7" y="578.7" font-size="6.6" text-anchor="end" font-weight="bold" fill="#222" stroke="#222" stroke-width="0.28">100</text>
<line x1="258.8" y1="604.4" x2="262.6" y2="604.4" stroke="#1e1e1e" stroke-width="1.1"/>
<text x="257.7" y="606.7" font-size="6.6" text-anchor="end" font-weight="bold" fill="#222" stroke="#222" stroke-width="0.28">50</text>
<line x1="258.8" y1="632.4" x2="262.6" y2="632.4" stroke="#1e1e1e" stroke-width="1.1"/>
<text x="257.7" y="634.7" font-size="6.6" text-anchor="end" font-weight="bold" fill="#222" stroke="#222" stroke-width="0.28">0</text>
<line x1="271.5" y1="632.4" x2="271.5" y2="635.7" stroke="#1e1e1e" stroke-width="1.1"/>
<line x1="291.5" y1="632.4" x2="291.5" y2="635.7" stroke="#1e1e1e" stroke-width="1.1"/>
<line x1="311.5" y1="632.4" x2="311.5" y2="635.7" stroke="#1e1e1e" stroke-width="1.1"/>
<text x="271.5" y="643.8" font-size="7" text-anchor="middle" font-weight="bold" fill="#222" stroke="#222" stroke-width="0.28">Control</text>
<text x="291.5" y="643.8" font-size="7" text-anchor="middle" font-weight="bold" fill="#222" stroke="#222" stroke-width="0.28">TMX</text>
<text x="311.5" y="643.8" font-size="7" text-anchor="middle" font-weight="bold" fill="#222" stroke="#222" stroke-width="0.28">Lip-1</text>
<line x1="272" y1="569.4" x2="290" y2="569.4" stroke="#505050" stroke-width="0.9"/>
<path d="M279.45 566.6 L279.45 565.25 M279.45 566.6 L280.73 566.18 M279.45 566.6 L278.17 566.18 M279.45 566.6 L278.66 567.69 M279.45 566.6 L280.24 567.69 " stroke="#2a2a2a" stroke-width="0.95" stroke-linecap="round" fill="none"/>
<path d="M282.55 566.6 L282.55 565.25 M282.55 566.6 L283.83 566.18 M282.55 566.6 L281.27 566.18 M282.55 566.6 L281.76 567.69 M282.55 566.6 L283.34 567.69 " stroke="#2a2a2a" stroke-width="0.95" stroke-linecap="round" fill="none"/>
<line x1="292.6" y1="584.4" x2="312" y2="584.4" stroke="#505050" stroke-width="0.9"/>
<path d="M300.75 581.6 L300.75 580.25 M300.75 581.6 L302.03 581.18 M300.75 581.6 L299.47 581.18 M300.75 581.6 L299.96 582.69 M300.75 581.6 L301.54 582.69 " stroke="#2a2a2a" stroke-width="0.95" stroke-linecap="round" fill="none"/>
<path d="M303.85 581.6 L303.85 580.25 M303.85 581.6 L305.13 581.18 M303.85 581.6 L302.57 581.18 M303.85 581.6 L303.06 582.69 M303.85 581.6 L304.64 582.69 " stroke="#2a2a2a" stroke-width="0.95" stroke-linecap="round" fill="none"/>
<text x="243.9" y="591" font-size="8.2" text-anchor="middle" font-weight="bold" fill="#222" stroke="#222" stroke-width="0.3" transform="rotate(-90 243.9 591)">Relative GSH, %</text>
<rect x="380" y="599" width="13.6" height="33.4" fill="#000000"/>
<line x1="386.8" y1="599" x2="386.8" y2="596.4" stroke="#000000" stroke-width="1.2"/>
<line x1="383.2" y1="596.4" x2="390.4" y2="596.4" stroke="#000000" stroke-width="1.4"/>
<rect x="400" y="567" width="14.2" height="65.4" fill="#ff7f7f"/>
<line x1="407.1" y1="567" x2="407.1" y2="562.4" stroke="#ff7f7f" stroke-width="1.2"/>
<line x1="403.5" y1="562.4" x2="410.7" y2="562.4" stroke="#ff7f7f" stroke-width="1.4"/>
<rect x="420" y="576.6" width="14.4" height="55.8" fill="#b050d8"/>
<line x1="427.2" y1="576.6" x2="427.2" y2="573.2" stroke="#b050d8" stroke-width="1.2"/>
<line x1="423.6" y1="573.2" x2="430.8" y2="573.2" stroke="#b050d8" stroke-width="1.4"/>
<line x1="378" y1="548.1" x2="378" y2="633" stroke="#777" stroke-width="1.25"/>
<line x1="377.4" y1="632.4" x2="436" y2="632.4" stroke="#777" stroke-width="1.2"/>
<line x1="374.2" y1="548.4" x2="378" y2="548.4" stroke="#777" stroke-width="1.1"/>
<text x="373.1" y="550.7" font-size="6.6" text-anchor="end" font-weight="bold" fill="#222" stroke="#222" stroke-width="0.28">250</text>
<line x1="374.2" y1="565.4" x2="378" y2="565.4" stroke="#777" stroke-width="1.1"/>
<text x="373.1" y="567.7" font-size="6.6" text-anchor="end" font-weight="bold" fill="#222" stroke="#222" stroke-width="0.28">200</text>
<line x1="374.2" y1="582" x2="378" y2="582" stroke="#777" stroke-width="1.1"/>
<text x="373.1" y="584.3" font-size="6.6" text-anchor="end" font-weight="bold" fill="#222" stroke="#222" stroke-width="0.28">150</text>
<line x1="374.2" y1="599" x2="378" y2="599" stroke="#777" stroke-width="1.1"/>
<text x="373.1" y="601.3" font-size="6.6" text-anchor="end" font-weight="bold" fill="#222" stroke="#222" stroke-width="0.28">100</text>
<line x1="374.2" y1="615.6" x2="378" y2="615.6" stroke="#777" stroke-width="1.1"/>
<text x="373.1" y="617.9" font-size="6.6" text-anchor="end" font-weight="bold" fill="#222" stroke="#222" stroke-width="0.28">50</text>
<line x1="374.2" y1="632.4" x2="378" y2="632.4" stroke="#777" stroke-width="1.1"/>
<text x="373.1" y="634.7" font-size="6.6" text-anchor="end" font-weight="bold" fill="#222" stroke="#222" stroke-width="0.28">0</text>
<line x1="386.6" y1="632.4" x2="386.6" y2="635.7" stroke="#777" stroke-width="1.1"/>
<line x1="407" y1="632.4" x2="407" y2="635.7" stroke="#777" stroke-width="1.1"/>
<line x1="427" y1="632.4" x2="427" y2="635.7" stroke="#777" stroke-width="1.1"/>
<text x="386.6" y="643.8" font-size="7" text-anchor="middle" font-weight="bold" fill="#222" stroke="#222" stroke-width="0.28">Control</text>
<text x="407" y="643.8" font-size="7" text-anchor="middle" font-weight="bold" fill="#222" stroke="#222" stroke-width="0.28">TMX</text>
<text x="427" y="643.8" font-size="7" text-anchor="middle" font-weight="bold" fill="#222" stroke="#222" stroke-width="0.28">Lip-1</text>
<line x1="387.4" y1="555.4" x2="405.4" y2="555.4" stroke="#505050" stroke-width="0.9"/>
<path d="M394.85 552.6 L394.85 551.25 M394.85 552.6 L396.13 552.18 M394.85 552.6 L393.57 552.18 M394.85 552.6 L394.06 553.69 M394.85 552.6 L395.64 553.69 " stroke="#2a2a2a" stroke-width="0.95" stroke-linecap="round" fill="none"/>
<path d="M397.95 552.6 L397.95 551.25 M397.95 552.6 L399.23 552.18 M397.95 552.6 L396.67 552.18 M397.95 552.6 L397.16 553.69 M397.95 552.6 L398.74 553.69 " stroke="#2a2a2a" stroke-width="0.95" stroke-linecap="round" fill="none"/>
<line x1="407.4" y1="559.4" x2="428" y2="559.4" stroke="#505050" stroke-width="0.9"/>
<path d="M417.7 556.6 L417.7 555.25 M417.7 556.6 L418.98 556.18 M417.7 556.6 L416.42 556.18 M417.7 556.6 L416.91 557.69 M417.7 556.6 L418.49 557.69 " stroke="#2a2a2a" stroke-width="0.95" stroke-linecap="round" fill="none"/>
<text x="358.9" y="591" font-size="8.2" text-anchor="middle" font-weight="bold" fill="#222" stroke="#222" stroke-width="0.3" transform="rotate(-90 358.9 591)">Relative MDA, %</text>
<rect x="494" y="592.4" width="14" height="40.2" fill="#000000"/>
<line x1="501" y1="592.4" x2="501" y2="587.4" stroke="#000000" stroke-width="1.2"/>
<line x1="497.4" y1="587.4" x2="504.6" y2="587.4" stroke="#000000" stroke-width="1.4"/>
<rect x="514" y="560.6" width="14" height="72" fill="#ff7f7f"/>
<line x1="521" y1="560.6" x2="521" y2="553.4" stroke="#ff7f7f" stroke-width="1.2"/>
<line x1="517.4" y1="553.4" x2="524.6" y2="553.4" stroke="#ff7f7f" stroke-width="1.4"/>
<rect x="534" y="572.4" width="14" height="60.2" fill="#b050d8"/>
<line x1="541" y1="572.4" x2="541" y2="567.4" stroke="#b050d8" stroke-width="1.2"/>
<line x1="537.4" y1="567.4" x2="544.6" y2="567.4" stroke="#b050d8" stroke-width="1.4"/>
<line x1="493" y1="550.3" x2="493" y2="633.2" stroke="#1e1e1e" stroke-width="1.25"/>
<line x1="492.4" y1="632.6" x2="549" y2="632.6" stroke="#1e1e1e" stroke-width="1.2"/>
<line x1="489.2" y1="550.6" x2="493" y2="550.6" stroke="#1e1e1e" stroke-width="1.1"/>
<text x="488.1" y="552.9" font-size="6.6" text-anchor="end" font-weight="bold" fill="#222" stroke="#222" stroke-width="0.28">200</text>
<line x1="489.2" y1="571.4" x2="493" y2="571.4" stroke="#1e1e1e" stroke-width="1.1"/>
<text x="488.1" y="573.7" font-size="6.6" text-anchor="end" font-weight="bold" fill="#222" stroke="#222" stroke-width="0.28">150</text>
<line x1="489.2" y1="592" x2="493" y2="592" stroke="#1e1e1e" stroke-width="1.1"/>
<text x="488.1" y="594.3" font-size="6.6" text-anchor="end" font-weight="bold" fill="#222" stroke="#222" stroke-width="0.28">100</text>
<line x1="489.2" y1="612.6" x2="493" y2="612.6" stroke="#1e1e1e" stroke-width="1.1"/>
<text x="488.1" y="614.9" font-size="6.6" text-anchor="end" font-weight="bold" fill="#222" stroke="#222" stroke-width="0.28">50</text>
<line x1="489.2" y1="632.6" x2="493" y2="632.6" stroke="#1e1e1e" stroke-width="1.1"/>
<text x="488.1" y="634.9" font-size="6.6" text-anchor="end" font-weight="bold" fill="#222" stroke="#222" stroke-width="0.28">0</text>
<line x1="501" y1="632.6" x2="501" y2="635.9" stroke="#1e1e1e" stroke-width="1.1"/>
<line x1="521" y1="632.6" x2="521" y2="635.9" stroke="#1e1e1e" stroke-width="1.1"/>
<line x1="540.6" y1="632.6" x2="540.6" y2="635.9" stroke="#1e1e1e" stroke-width="1.1"/>
<text x="501" y="643.8" font-size="7" text-anchor="middle" font-weight="bold" fill="#222" stroke="#222" stroke-width="0.28">Control</text>
<text x="521" y="643.8" font-size="7" text-anchor="middle" font-weight="bold" fill="#222" stroke="#222" stroke-width="0.28">TMX</text>
<text x="540.6" y="643.8" font-size="7" text-anchor="middle" font-weight="bold" fill="#222" stroke="#222" stroke-width="0.28">Lip-1</text>
<line x1="502" y1="548.4" x2="519.4" y2="548.4" stroke="#505050" stroke-width="0.9"/>
<path d="M509.15 545.6 L509.15 544.25 M509.15 545.6 L510.43 545.18 M509.15 545.6 L507.87 545.18 M509.15 545.6 L508.36 546.69 M509.15 545.6 L509.94 546.69 " stroke="#2a2a2a" stroke-width="0.95" stroke-linecap="round" fill="none"/>
<path d="M512.25 545.6 L512.25 544.25 M512.25 545.6 L513.53 545.18 M512.25 545.6 L510.97 545.18 M512.25 545.6 L511.46 546.69 M512.25 545.6 L513.04 546.69 " stroke="#2a2a2a" stroke-width="0.95" stroke-linecap="round" fill="none"/>
<line x1="521.6" y1="551.4" x2="541.4" y2="551.4" stroke="#505050" stroke-width="0.9"/>
<path d="M531.5 548.6 L531.5 547.25 M531.5 548.6 L532.78 548.18 M531.5 548.6 L530.22 548.18 M531.5 548.6 L530.71 549.69 M531.5 548.6 L532.29 549.69 " stroke="#2a2a2a" stroke-width="0.95" stroke-linecap="round" fill="none"/>
<text x="473.9" y="592" font-size="8.2" text-anchor="middle" font-weight="bold" fill="#222" stroke="#222" stroke-width="0.3" transform="rotate(-90 473.9 592)">Relative GSSG, %</text>
<rect x="609.6" y="599" width="14" height="33.4" fill="#000000"/>
<line x1="616.6" y1="599" x2="616.6" y2="595.4" stroke="#000000" stroke-width="1.2"/>
<line x1="613" y1="595.4" x2="620.2" y2="595.4" stroke="#000000" stroke-width="1.4"/>
<rect x="630" y="565" width="14" height="67.4" fill="#ff7f7f"/>
<line x1="637" y1="565" x2="637" y2="557.6" stroke="#ff7f7f" stroke-width="1.2"/>
<line x1="633.4" y1="557.6" x2="640.6" y2="557.6" stroke="#ff7f7f" stroke-width="1.4"/>
<rect x="650" y="584.4" width="14" height="48" fill="#b050d8"/>
<line x1="657" y1="584.4" x2="657" y2="579.6" stroke="#b050d8" stroke-width="1.2"/>
<line x1="653.4" y1="579.6" x2="660.6" y2="579.6" stroke="#b050d8" stroke-width="1.4"/>
<line x1="608" y1="548.1" x2="608" y2="633" stroke="#777" stroke-width="1.25"/>
<line x1="607.4" y1="632.4" x2="666" y2="632.4" stroke="#777" stroke-width="1.2"/>
<line x1="604.2" y1="548.4" x2="608" y2="548.4" stroke="#777" stroke-width="1.1"/>
<text x="603.1" y="550.7" font-size="6.6" text-anchor="end" font-weight="bold" fill="#222" stroke="#222" stroke-width="0.28">250</text>
<line x1="604.2" y1="565.4" x2="608" y2="565.4" stroke="#777" stroke-width="1.1"/>
<text x="603.1" y="567.7" font-size="6.6" text-anchor="end" font-weight="bold" fill="#222" stroke="#222" stroke-width="0.28">200</text>
<line x1="604.2" y1="582" x2="608" y2="582" stroke="#777" stroke-width="1.1"/>
<text x="603.1" y="584.3" font-size="6.6" text-anchor="end" font-weight="bold" fill="#222" stroke="#222" stroke-width="0.28">150</text>
<line x1="604.2" y1="599" x2="608" y2="599" stroke="#777" stroke-width="1.1"/>
<text x="603.1" y="601.3" font-size="6.6" text-anchor="end" font-weight="bold" fill="#222" stroke="#222" stroke-width="0.28">100</text>
<line x1="604.2" y1="615.6" x2="608" y2="615.6" stroke="#777" stroke-width="1.1"/>
<text x="603.1" y="617.9" font-size="6.6" text-anchor="end" font-weight="bold" fill="#222" stroke="#222" stroke-width="0.28">50</text>
<line x1="604.2" y1="632.4" x2="608" y2="632.4" stroke="#777" stroke-width="1.1"/>
<text x="603.1" y="634.7" font-size="6.6" text-anchor="end" font-weight="bold" fill="#222" stroke="#222" stroke-width="0.28">0</text>
<line x1="616.4" y1="632.4" x2="616.4" y2="635.7" stroke="#777" stroke-width="1.1"/>
<line x1="637" y1="632.4" x2="637" y2="635.7" stroke="#777" stroke-width="1.1"/>
<line x1="657" y1="632.4" x2="657" y2="635.7" stroke="#777" stroke-width="1.1"/>
<text x="616.4" y="643.8" font-size="7" text-anchor="middle" font-weight="bold" fill="#222" stroke="#222" stroke-width="0.28">Control</text>
<text x="637" y="643.8" font-size="7" text-anchor="middle" font-weight="bold" fill="#222" stroke="#222" stroke-width="0.28">TMX</text>
<text x="657" y="643.8" font-size="7" text-anchor="middle" font-weight="bold" fill="#222" stroke="#222" stroke-width="0.28">Lip-1</text>
<line x1="617" y1="550.4" x2="635.4" y2="550.4" stroke="#505050" stroke-width="0.9"/>
<path d="M624.65 547.6 L624.65 546.25 M624.65 547.6 L625.93 547.18 M624.65 547.6 L623.37 547.18 M624.65 547.6 L623.86 548.69 M624.65 547.6 L625.44 548.69 " stroke="#2a2a2a" stroke-width="0.95" stroke-linecap="round" fill="none"/>
<path d="M627.75 547.6 L627.75 546.25 M627.75 547.6 L629.03 547.18 M627.75 547.6 L626.47 547.18 M627.75 547.6 L626.96 548.69 M627.75 547.6 L628.54 548.69 " stroke="#2a2a2a" stroke-width="0.95" stroke-linecap="round" fill="none"/>
<line x1="637" y1="555" x2="657.6" y2="555" stroke="#505050" stroke-width="0.9"/>
<path d="M645.75 552.2 L645.75 550.85 M645.75 552.2 L647.03 551.78 M645.75 552.2 L644.47 551.78 M645.75 552.2 L644.96 553.29 M645.75 552.2 L646.54 553.29 " stroke="#2a2a2a" stroke-width="0.95" stroke-linecap="round" fill="none"/>
<path d="M648.85 552.2 L648.85 550.85 M648.85 552.2 L650.13 551.78 M648.85 552.2 L647.57 551.78 M648.85 552.2 L648.06 553.29 M648.85 552.2 L649.64 553.29 " stroke="#2a2a2a" stroke-width="0.95" stroke-linecap="round" fill="none"/>
<text x="588.9" y="591" font-size="8.2" text-anchor="middle" font-weight="bold" fill="#222" stroke="#222" stroke-width="0.3" transform="rotate(-90 588.9 591)">Relative Fe<tspan font-size="5.5" dy="-3">2+</tspan><tspan dy="3">, %</tspan></text>
<text x="0.4" y="9.2" font-size="12.5" text-anchor="start" font-weight="normal" fill="#000">A</text>
<text x="131.6" y="10" font-size="12.5" text-anchor="start" font-weight="normal" fill="#000">B</text>
<text x="0.6" y="138" font-size="12.5" text-anchor="start" font-weight="normal" fill="#000">C</text>
<text x="137.6" y="138.4" font-size="12.5" text-anchor="start" font-weight="normal" fill="#000">D</text>
<text x="275" y="138.4" font-size="12.5" text-anchor="start" font-weight="normal" fill="#000">E</text>
<text x="412.6" y="138" font-size="12.5" text-anchor="start" font-weight="normal" fill="#000">F</text>
<text x="549" y="138" font-size="12.5" text-anchor="start" font-weight="normal" fill="#000">G</text>
<text x="476" y="275" font-size="12.5" text-anchor="start" font-weight="normal" fill="#000">H</text>
<text x="118" y="534.4" font-size="12.5" text-anchor="start" font-weight="normal" fill="#000">J</text>
<text x="229" y="534.4" font-size="12.5" text-anchor="start" font-weight="normal" fill="#000">K</text>
<text x="340.6" y="534.4" font-size="12.5" text-anchor="start" font-weight="normal" fill="#000">L</text>
<text x="451.6" y="534" font-size="12.5" text-anchor="start" font-weight="normal" fill="#000">M</text>
<text x="562" y="534" font-size="12.5" text-anchor="start" font-weight="normal" fill="#000">N</text>
<rect x="380.2" y="397" width="1.6" height="2.2" fill="#555"/>
<rect x="140.6" y="35.4" width="405.6" height="79.2" fill="#b4b4b4"/>
<rect x="141.4" y="36" width="79.6" height="78" fill="#000"/>
<svg x="141.4" y="36" width="79.6" height="78" overflow="hidden"><g filter="url(#mb)">
<ellipse cx="18.36" cy="34.86" rx="0.74" ry="0.77" fill="#1616b0" transform="rotate(10 18.36 34.86)"/>
<ellipse cx="72.63" cy="9.13" rx="0.77" ry="0.79" fill="#2020e0" transform="rotate(29 72.63 9.13)"/>
<ellipse cx="78.03" cy="47.73" rx="0.9" ry="1.13" fill="#2038e0" transform="rotate(120 78.03 47.73)"/>
<ellipse cx="62.24" cy="39.57" rx="1.03" ry="1.23" fill="#1212a0" transform="rotate(64 62.24 39.57)"/>
<ellipse cx="47.17" cy="41.25" rx="0.83" ry="1.13" fill="#3050f8" transform="rotate(45 47.17 41.25)"/>
<ellipse cx="68.7" cy="28.04" rx="0.86" ry="0.95" fill="#2c2cf8" transform="rotate(1 68.7 28.04)"/>
<ellipse cx="61.14" cy="64.11" rx="0.9" ry="1.1" fill="#2c2cf8" transform="rotate(129 61.14 64.11)"/>
<ellipse cx="52.16" cy="19.2" rx="0.88" ry="1.2" fill="#1212a0" transform="rotate(122 52.16 19.2)"/>
<ellipse cx="73.2" cy="56.18" rx="0.87" ry="1.01" fill="#2c2cf8" transform="rotate(112 73.2 56.18)"/>
<ellipse cx="40.91" cy="38.48" rx="0.74" ry="0.86" fill="#1212a0" transform="rotate(43 40.91 38.48)"/>
<ellipse cx="11.01" cy="53.08" rx="0.84" ry="1.06" fill="#2848e8" transform="rotate(79 11.01 53.08)"/>
<ellipse cx="12.44" cy="59.31" rx="0.8" ry="0.91" fill="#2a2aff" transform="rotate(77 12.44 59.31)"/>
<ellipse cx="8.87" cy="3.06" rx="0.87" ry="1.12" fill="#2222c8" transform="rotate(108 8.87 3.06)"/>
<ellipse cx="16.88" cy="23.79" rx="0.73" ry="0.97" fill="#2020e0" transform="rotate(50 16.88 23.79)"/>
<ellipse cx="52.11" cy="58.9" rx="0.82" ry="0.84" fill="#2848e8" transform="rotate(113 52.11 58.9)"/>
<ellipse cx="26.23" cy="0" rx="0.88" ry="1.13" fill="#1212a0" transform="rotate(23 26.23 0)"/>
<ellipse cx="14.73" cy="41.02" rx="0.79" ry="1.03" fill="#1818a8" transform="rotate(95 14.73 41.02)"/>
<ellipse cx="16.07" cy="30.19" rx="0.97" ry="1.31" fill="#1212a0" transform="rotate(116 16.07 30.19)"/>
<ellipse cx="31.69" cy="56.06" rx="0.76" ry="0.93" fill="#1a1ac0" transform="rotate(179 31.69 56.06)"/>
<ellipse cx="52.83" cy="37.14" rx="0.99" ry="1.13" fill="#c828a8" transform="rotate(141 52.83 37.14)"/>
<ellipse cx="56.19" cy="11.89" rx="0.75" ry="0.93" fill="#1818a8" transform="rotate(166 56.19 11.89)"/>
<ellipse cx="70.23" cy="2.77" rx="0.92" ry="1.02" fill="#1212a0" transform="rotate(113 70.23 2.77)"/>
<ellipse cx="19.3" cy="6.55" rx="0.79" ry="0.87" fill="#3a6aff" transform="rotate(97 19.3 6.55)"/>
<ellipse cx="51.34" cy="8.84" rx="0.84" ry="1.13" fill="#3a6aff" transform="rotate(91 51.34 8.84)"/>
<ellipse cx="76.18" cy="31.16" rx="0.85" ry="1.09" fill="#2848e8" transform="rotate(38 76.18 31.16)"/>
<ellipse cx="37.69" cy="26.49" rx="0.84" ry="0.96" fill="#2038e0" transform="rotate(1 37.69 26.49)"/>
<ellipse cx="14.85" cy="45.38" rx="0.78" ry="1" fill="#1818a8" transform="rotate(150 14.85 45.38)"/>
<ellipse cx="10.86" cy="15.69" rx="0.85" ry="1.1" fill="#2020e0" transform="rotate(94 10.86 15.69)"/>
<ellipse cx="74.92" cy="46.83" rx="0.85" ry="0.87" fill="#2a2aff" transform="rotate(51 74.92 46.83)"/>
<ellipse cx="31.7" cy="19.84" rx="0.9" ry="0.94" fill="#2c2cf8" transform="rotate(166 31.7 19.84)"/>
<ellipse cx="14.54" cy="78.85" rx="0.84" ry="0.91" fill="#1818a8" transform="rotate(44 14.54 78.85)"/>
<ellipse cx="21.15" cy="20.7" rx="0.72" ry="0.86" fill="#3a6aff" transform="rotate(155 21.15 20.7)"/>
<ellipse cx="75.44" cy="78.37" rx="0.9" ry="1.2" fill="#2020e0" transform="rotate(153 75.44 78.37)"/>
<ellipse cx="17.93" cy="-0.22" rx="0.93" ry="1.02" fill="#2a2aff" transform="rotate(78 17.93 -0.22)"/>
<ellipse cx="23.32" cy="50.42" rx="0.88" ry="1.11" fill="#1616b0" transform="rotate(159 23.32 50.42)"/>
<ellipse cx="68.63" cy="64.68" rx="0.86" ry="1.2" fill="#1a1ac0" transform="rotate(65 68.63 64.68)"/>
<ellipse cx="53.98" cy="34.55" rx="1" ry="1.21" fill="#1818a8" transform="rotate(58 53.98 34.55)"/>
<ellipse cx="49.4" cy="27.2" rx="1.02" ry="1.39" fill="#2222c8" transform="rotate(122 49.4 27.2)"/>
<ellipse cx="10.72" cy="70.27" rx="0.9" ry="1.2" fill="#1818a8" transform="rotate(7 10.72 70.27)"/>
<ellipse cx="58.99" cy="55.28" rx="1.04" ry="1.15" fill="#2038e0" transform="rotate(2 58.99 55.28)"/>
<ellipse cx="13.24" cy="29.57" rx="0.74" ry="0.75" fill="#3050f8" transform="rotate(25 13.24 29.57)"/>
<ellipse cx="16.35" cy="11.88" rx="0.8" ry="1.06" fill="#3050f8" transform="rotate(66 16.35 11.88)"/>
<ellipse cx="43.85" cy="20.66" rx="0.96" ry="1.3" fill="#1a1ac0" transform="rotate(26 43.85 20.66)"/>
<ellipse cx="46.69" cy="7.88" rx="1" ry="1.39" fill="#1212a0" transform="rotate(153 46.69 7.88)"/>
<ellipse cx="69.44" cy="45.32" rx="0.95" ry="1.25" fill="#2626ee" transform="rotate(69 69.44 45.32)"/>
<ellipse cx="31.11" cy="35.67" rx="0.88" ry="0.95" fill="#1a1ac0" transform="rotate(68 31.11 35.67)"/>
<ellipse cx="69.24" cy="6" rx="0.99" ry="1.03" fill="#a030c0" transform="rotate(138 69.24 6)"/>
<ellipse cx="35.03" cy="0.6" rx="0.89" ry="1.21" fill="#1212a0" transform="rotate(103 35.03 0.6)"/>
<ellipse cx="7.67" cy="6.08" rx="0.78" ry="1.08" fill="#2020e0" transform="rotate(22 7.67 6.08)"/>
<ellipse cx="6.79" cy="44.33" rx="0.91" ry="1.26" fill="#1a1ac0" transform="rotate(44 6.79 44.33)"/>
<ellipse cx="29.96" cy="70.07" rx="0.77" ry="0.93" fill="#1a1ac0" transform="rotate(125 29.96 70.07)"/>
<ellipse cx="21.97" cy="58.07" rx="0.98" ry="1.11" fill="#2038e0" transform="rotate(153 21.97 58.07)"/>
<ellipse cx="40.34" cy="42.84" rx="0.93" ry="1.04" fill="#2038e0" transform="rotate(138 40.34 42.84)"/>
<ellipse cx="50.49" cy="3.17" rx="0.78" ry="1.01" fill="#3050f8" transform="rotate(16 50.49 3.17)"/>
<ellipse cx="40.67" cy="15.28" rx="0.82" ry="0.94" fill="#1818a8" transform="rotate(52 40.67 15.28)"/>
<ellipse cx="72.69" cy="67.2" rx="0.75" ry="0.94" fill="#3050f8" transform="rotate(25 72.69 67.2)"/>
<ellipse cx="1.4" cy="41.03" rx="0.97" ry="1.12" fill="#1616b0" transform="rotate(79 1.4 41.03)"/>
<ellipse cx="61.59" cy="54.08" rx="1.04" ry="1.17" fill="#1818a8" transform="rotate(43 61.59 54.08)"/>
<ellipse cx="46.19" cy="17.61" rx="0.81" ry="0.83" fill="#2848e8" transform="rotate(10 46.19 17.61)"/>
<ellipse cx="-0.11" cy="16.82" rx="0.97" ry="1.24" fill="#2038e0" transform="rotate(52 -0.11 16.82)"/>
<ellipse cx="8.8" cy="23" rx="0.98" ry="1.13" fill="#1c1cd0" transform="rotate(174 8.8 23)"/>
<ellipse cx="14.67" cy="6.06" rx="0.9" ry="0.95" fill="#1818a8" transform="rotate(15 14.67 6.06)"/>
<ellipse cx="61.52" cy="48.53" rx="1.01" ry="1.14" fill="#2038e0" transform="rotate(7 61.52 48.53)"/>
<ellipse cx="57.17" cy="5.55" rx="1.03" ry="1.15" fill="#2848e8" transform="rotate(9 57.17 5.55)"/>
<ellipse cx="15.62" cy="20.42" rx="0.88" ry="1.11" fill="#3050f8" transform="rotate(24 15.62 20.42)"/>
<ellipse cx="35.2" cy="59.53" rx="0.88" ry="1.17" fill="#2020e0" transform="rotate(8 35.2 59.53)"/>
<ellipse cx="73.16" cy="11.98" rx="0.84" ry="0.99" fill="#1212a0" transform="rotate(93 73.16 11.98)"/>
<ellipse cx="78.56" cy="-0.41" rx="0.76" ry="0.93" fill="#2848e8" transform="rotate(24 78.56 -0.41)"/>
<ellipse cx="33.7" cy="29.52" rx="1.03" ry="1.16" fill="#1a1ac0" transform="rotate(89 33.7 29.52)"/>
<ellipse cx="20.2" cy="1.2" rx="0.92" ry="1.29" fill="#2848e8" transform="rotate(96 20.2 1.2)"/>
<ellipse cx="68.9" cy="13.08" rx="0.85" ry="1.09" fill="#2a2aff" transform="rotate(151 68.9 13.08)"/>
<ellipse cx="6.58" cy="27.19" rx="1.19" ry="1.27" fill="#b02088" transform="rotate(135 6.58 27.19)"/>
<ellipse cx="41.28" cy="31.3" rx="0.91" ry="1.26" fill="#2a2aff" transform="rotate(119 41.28 31.3)"/>
<ellipse cx="67.43" cy="2.13" rx="0.79" ry="0.82" fill="#1818a8" transform="rotate(48 67.43 2.13)"/>
<ellipse cx="79.61" cy="62.25" rx="0.93" ry="1.14" fill="#3a6aff" transform="rotate(22 79.61 62.25)"/>
<ellipse cx="74.87" cy="19.66" rx="1" ry="1.01" fill="#3050f8" transform="rotate(159 74.87 19.66)"/>
<ellipse cx="45.95" cy="56.68" rx="0.72" ry="0.87" fill="#2020e0" transform="rotate(89 45.95 56.68)"/>
<ellipse cx="31.45" cy="24.96" rx="0.92" ry="1.1" fill="#3050f8" transform="rotate(33 31.45 24.96)"/>
<ellipse cx="59.22" cy="26.19" rx="0.74" ry="0.8" fill="#2a2aff" transform="rotate(38 59.22 26.19)"/>
<ellipse cx="49.41" cy="18.75" rx="1" ry="1.25" fill="#2848e8" transform="rotate(179 49.41 18.75)"/>
<ellipse cx="6.97" cy="15.91" rx="0.84" ry="0.99" fill="#2020e0" transform="rotate(126 6.97 15.91)"/>
<ellipse cx="5.59" cy="48.24" rx="0.95" ry="0.95" fill="#2c2cf8" transform="rotate(137 5.59 48.24)"/>
<ellipse cx="67.11" cy="16.53" rx="0.94" ry="1.24" fill="#2a2aff" transform="rotate(82 67.11 16.53)"/>
<ellipse cx="26.33" cy="54.31" rx="0.98" ry="1.02" fill="#3a6aff" transform="rotate(157 26.33 54.31)"/>
<ellipse cx="37.85" cy="54.16" rx="0.99" ry="1.24" fill="#2848e8" transform="rotate(10 37.85 54.16)"/>
<ellipse cx="55.79" cy="39.73" rx="0.99" ry="1.02" fill="#2626ee" transform="rotate(98 55.79 39.73)"/>
<ellipse cx="59.88" cy="28.95" rx="1.04" ry="1.23" fill="#d02898" transform="rotate(138 59.88 28.95)"/>
<ellipse cx="75.92" cy="41.83" rx="0.97" ry="1.11" fill="#1c1cd0" transform="rotate(125 75.92 41.83)"/>
<ellipse cx="50.24" cy="76.23" rx="0.76" ry="0.89" fill="#2038e0" transform="rotate(92 50.24 76.23)"/>
<ellipse cx="21.67" cy="60.58" rx="0.86" ry="1.03" fill="#d03cb8" transform="rotate(87 21.67 60.58)"/>
<ellipse cx="39.03" cy="51.27" rx="0.87" ry="1.22" fill="#2020e0" transform="rotate(19 39.03 51.27)"/>
<ellipse cx="42.22" cy="26.11" rx="0.94" ry="1.13" fill="#1a1ac0" transform="rotate(171 42.22 26.11)"/>
<ellipse cx="79.63" cy="39.51" rx="0.87" ry="1.01" fill="#2626ee" transform="rotate(146 79.63 39.51)"/>
<ellipse cx="78.06" cy="13.2" rx="0.97" ry="1.16" fill="#1616b0" transform="rotate(13 78.06 13.2)"/>
<ellipse cx="67.51" cy="62.24" rx="0.99" ry="1.24" fill="#1616b0" transform="rotate(113 67.51 62.24)"/>
<ellipse cx="-0.87" cy="32.88" rx="0.73" ry="0.99" fill="#1212a0" transform="rotate(145 -0.87 32.88)"/>
<ellipse cx="57.59" cy="22" rx="0.77" ry="0.96" fill="#1a1ac0" transform="rotate(20 57.59 22)"/>
<ellipse cx="35.55" cy="49.89" rx="0.95" ry="1.17" fill="#2038e0" transform="rotate(38 35.55 49.89)"/>
<ellipse cx="70.38" cy="36.82" rx="1.02" ry="1.08" fill="#2848e8" transform="rotate(83 70.38 36.82)"/>
<ellipse cx="51.39" cy="30.15" rx="0.85" ry="0.91" fill="#b030c8" transform="rotate(52 51.39 30.15)"/>
<ellipse cx="31.73" cy="7.86" rx="1.01" ry="1.27" fill="#2848e8" transform="rotate(58 31.73 7.86)"/>
<ellipse cx="10.67" cy="65.84" rx="0.94" ry="1.15" fill="#3a6aff" transform="rotate(46 10.67 65.84)"/>
<ellipse cx="24.24" cy="40.95" rx="0.93" ry="0.99" fill="#b02088" transform="rotate(23 24.24 40.95)"/>
<ellipse cx="1.63" cy="58.76" rx="0.77" ry="0.95" fill="#2038e0" transform="rotate(21 1.63 58.76)"/>
<ellipse cx="5.07" cy="52.61" rx="0.78" ry="0.93" fill="#1212a0" transform="rotate(112 5.07 52.61)"/>
<ellipse cx="41.36" cy="12.02" rx="0.73" ry="0.78" fill="#1c1cd0" transform="rotate(167 41.36 12.02)"/>
<ellipse cx="75.3" cy="59.21" rx="0.86" ry="1.03" fill="#2c2cf8" transform="rotate(67 75.3 59.21)"/>
<ellipse cx="77.16" cy="27.02" rx="0.98" ry="1.24" fill="#2038e0" transform="rotate(42 77.16 27.02)"/>
<ellipse cx="33.45" cy="77.8" rx="0.89" ry="1.18" fill="#1a1ac0" transform="rotate(146 33.45 77.8)"/>
<ellipse cx="39.34" cy="59.86" rx="0.83" ry="1.01" fill="#3050f8" transform="rotate(143 39.34 59.86)"/>
<ellipse cx="-0.08" cy="30.32" rx="0.87" ry="1.07" fill="#3a6aff" transform="rotate(104 -0.08 30.32)"/>
<ellipse cx="31.56" cy="15.78" rx="1.05" ry="1.3" fill="#d03cb8" transform="rotate(172 31.56 15.78)"/>
<ellipse cx="3.05" cy="55.49" rx="0.79" ry="0.87" fill="#1c1cd0" transform="rotate(164 3.05 55.49)"/>
<ellipse cx="65.58" cy="68.08" rx="0.8" ry="0.89" fill="#2038e0" transform="rotate(76 65.58 68.08)"/>
<ellipse cx="63.81" cy="71.23" rx="1" ry="1.27" fill="#3050f8" transform="rotate(104 63.81 71.23)"/>
<ellipse cx="68.31" cy="58.71" rx="0.75" ry="0.92" fill="#1c1cd0" transform="rotate(117 68.31 58.71)"/>
<ellipse cx="41.28" cy="73.49" rx="0.79" ry="0.92" fill="#2626ee" transform="rotate(57 41.28 73.49)"/>
<ellipse cx="51.62" cy="73.72" rx="0.89" ry="1.2" fill="#2848e8" transform="rotate(38 51.62 73.72)"/>
<ellipse cx="11.79" cy="23.85" rx="0.92" ry="1.23" fill="#3050f8" transform="rotate(70 11.79 23.85)"/>
<ellipse cx="10.96" cy="36.66" rx="1" ry="1.04" fill="#1616b0" transform="rotate(175 10.96 36.66)"/>
<ellipse cx="27.78" cy="12.79" rx="1.02" ry="1.34" fill="#1212a0" transform="rotate(152 27.78 12.79)"/>
<ellipse cx="22.2" cy="71.54" rx="0.92" ry="1.19" fill="#1212a0" transform="rotate(53 22.2 71.54)"/>
<ellipse cx="44.81" cy="46.21" rx="1.04" ry="1.33" fill="#1a1ac0" transform="rotate(43 44.81 46.21)"/>
<ellipse cx="26.63" cy="62.27" rx="1.01" ry="1.17" fill="#2222c8" transform="rotate(150 26.63 62.27)"/>
<ellipse cx="44.75" cy="37.56" rx="0.91" ry="0.98" fill="#3a6aff" transform="rotate(149 44.75 37.56)"/>
<ellipse cx="25.78" cy="21.14" rx="0.79" ry="0.86" fill="#2038e0" transform="rotate(100 25.78 21.14)"/>
<ellipse cx="33.74" cy="45.4" rx="1.03" ry="1.17" fill="#1818a8" transform="rotate(48 33.74 45.4)"/>
<ellipse cx="9.2" cy="8.53" rx="1.04" ry="1.25" fill="#1c1cd0" transform="rotate(63 9.2 8.53)"/>
<ellipse cx="23.92" cy="30.68" rx="1.04" ry="1.15" fill="#2222c8" transform="rotate(154 23.92 30.68)"/>
<ellipse cx="59.59" cy="44.69" rx="0.95" ry="1.26" fill="#3a6aff" transform="rotate(147 59.59 44.69)"/>
<ellipse cx="0.31" cy="1.8" rx="0.8" ry="0.85" fill="#2626ee" transform="rotate(138 0.31 1.8)"/>
<ellipse cx="44.21" cy="7.41" rx="0.8" ry="1.02" fill="#1818a8" transform="rotate(46 44.21 7.41)"/>
<ellipse cx="58.06" cy="67.49" rx="1.2" ry="1.46" fill="#b030c8" transform="rotate(105 58.06 67.49)"/>
<ellipse cx="48.9" cy="0.78" rx="0.96" ry="1.15" fill="#3a6aff" transform="rotate(86 48.9 0.78)"/>
<ellipse cx="13.82" cy="3.01" rx="0.97" ry="1.04" fill="#2a2aff" transform="rotate(168 13.82 3.01)"/>
<ellipse cx="43.1" cy="42.84" rx="0.82" ry="0.9" fill="#2038e0" transform="rotate(24 43.1 42.84)"/>
<ellipse cx="59.65" cy="38.99" rx="0.98" ry="1" fill="#2222c8" transform="rotate(67 59.65 38.99)"/>
<ellipse cx="79.34" cy="57.26" rx="0.91" ry="1.27" fill="#2848e8" transform="rotate(117 79.34 57.26)"/>
<ellipse cx="-0.98" cy="63.77" rx="0.96" ry="1.27" fill="#3050f8" transform="rotate(103 -0.98 63.77)"/>
<ellipse cx="72.98" cy="44.61" rx="0.76" ry="0.86" fill="#2a2aff" transform="rotate(158 72.98 44.61)"/>
<ellipse cx="56.94" cy="45.72" rx="0.77" ry="0.87" fill="#2c2cf8" transform="rotate(112 56.94 45.72)"/>
<ellipse cx="72.08" cy="77.09" rx="1.03" ry="1.43" fill="#1616b0" transform="rotate(2 72.08 77.09)"/>
<ellipse cx="26.01" cy="3.19" rx="0.86" ry="0.9" fill="#2848e8" transform="rotate(177 26.01 3.19)"/>
<ellipse cx="1.92" cy="53.21" rx="0.83" ry="0.98" fill="#2222c8" transform="rotate(149 1.92 53.21)"/>
<ellipse cx="60.2" cy="58.15" rx="0.73" ry="0.96" fill="#3a6aff" transform="rotate(30 60.2 58.15)"/>
<ellipse cx="4.1" cy="68.19" rx="0.83" ry="1.03" fill="#1c1cd0" transform="rotate(9 4.1 68.19)"/>
<ellipse cx="36.94" cy="67.2" rx="0.77" ry="0.96" fill="#3050f8" transform="rotate(68 36.94 67.2)"/>
<ellipse cx="66.34" cy="50.85" rx="0.89" ry="1.2" fill="#1212a0" transform="rotate(34 66.34 50.85)"/>
<ellipse cx="2.89" cy="12.48" rx="0.97" ry="1.33" fill="#2c2cf8" transform="rotate(1 2.89 12.48)"/>
<ellipse cx="28.44" cy="56.36" rx="0.81" ry="1.12" fill="#2222c8" transform="rotate(127 28.44 56.36)"/>
<ellipse cx="1.98" cy="65.07" rx="0.84" ry="1.15" fill="#1212a0" transform="rotate(123 1.98 65.07)"/>
<ellipse cx="34.06" cy="34.53" rx="0.87" ry="1.2" fill="#1c1cd0" transform="rotate(86 34.06 34.53)"/>
<ellipse cx="47.07" cy="53.1" rx="0.76" ry="0.96" fill="#1616b0" transform="rotate(96 47.07 53.1)"/>
<ellipse cx="4.39" cy="28.67" rx="1.02" ry="1.41" fill="#2c2cf8" transform="rotate(97 4.39 28.67)"/>
<ellipse cx="16.17" cy="53.82" rx="1.04" ry="1.28" fill="#1818a8" transform="rotate(177 16.17 53.82)"/>
<ellipse cx="56.82" cy="34.89" rx="0.76" ry="0.95" fill="#1616b0" transform="rotate(34 56.82 34.89)"/>
<ellipse cx="65.68" cy="64.88" rx="1.05" ry="1.07" fill="#2020e0" transform="rotate(120 65.68 64.88)"/>
<ellipse cx="65.03" cy="-0.84" rx="0.92" ry="1.27" fill="#3a6aff" transform="rotate(132 65.03 -0.84)"/>
<ellipse cx="48.48" cy="33.98" rx="1.02" ry="1.36" fill="#1616b0" transform="rotate(157 48.48 33.98)"/>
<ellipse cx="23.19" cy="54.13" rx="0.81" ry="0.85" fill="#2020e0" transform="rotate(171 23.19 54.13)"/>
<ellipse cx="28.75" cy="39.75" rx="0.94" ry="0.97" fill="#3a6aff" transform="rotate(40 28.75 39.75)"/>
<ellipse cx="19.24" cy="24.82" rx="0.75" ry="0.97" fill="#2020e0" transform="rotate(125 19.24 24.82)"/>
<ellipse cx="7.22" cy="13.2" rx="0.99" ry="1" fill="#2a2aff" transform="rotate(112 7.22 13.2)"/>
<ellipse cx="73.76" cy="70.95" rx="0.92" ry="0.93" fill="#2626ee" transform="rotate(126 73.76 70.95)"/>
<ellipse cx="25.86" cy="47.14" rx="0.9" ry="0.99" fill="#2020e0" transform="rotate(0 25.86 47.14)"/>
<ellipse cx="70.96" cy="24.97" rx="0.94" ry="1.09" fill="#2848e8" transform="rotate(133 70.96 24.97)"/>
<ellipse cx="25.07" cy="35.31" rx="0.97" ry="1.06" fill="#2848e8" transform="rotate(83 25.07 35.31)"/>
<ellipse cx="32.04" cy="32.19" rx="0.78" ry="0.82" fill="#2020e0" transform="rotate(165 32.04 32.19)"/>
<ellipse cx="57.5" cy="52.04" rx="1.02" ry="1.02" fill="#3050f8" transform="rotate(109 57.5 52.04)"/>
<ellipse cx="40.92" cy="62.04" rx="0.95" ry="1.23" fill="#3050f8" transform="rotate(65 40.92 62.04)"/>
<ellipse cx="35.29" cy="52.73" rx="1.02" ry="1.11" fill="#1818a8" transform="rotate(85 35.29 52.73)"/>
<ellipse cx="11.06" cy="46.89" rx="0.75" ry="0.77" fill="#2c2cf8" transform="rotate(67 11.06 46.89)"/>
<ellipse cx="5.16" cy="74.82" rx="0.89" ry="1.13" fill="#1212a0" transform="rotate(53 5.16 74.82)"/>
<ellipse cx="32.5" cy="60.08" rx="1.04" ry="1.4" fill="#2c2cf8" transform="rotate(162 32.5 60.08)"/>
<ellipse cx="21.28" cy="43.98" rx="0.96" ry="1.01" fill="#1818a8" transform="rotate(59 21.28 43.98)"/>
<ellipse cx="12.85" cy="-0.64" rx="0.8" ry="1.03" fill="#2020e0" transform="rotate(96 12.85 -0.64)"/>
<ellipse cx="14.04" cy="35.51" rx="0.82" ry="0.82" fill="#1616b0" transform="rotate(23 14.04 35.51)"/>
<ellipse cx="63.7" cy="13.83" rx="0.97" ry="1.32" fill="#2038e0" transform="rotate(25 63.7 13.83)"/>
<ellipse cx="49.92" cy="62.01" rx="0.84" ry="0.97" fill="#2038e0" transform="rotate(147 49.92 62.01)"/>
<ellipse cx="60.89" cy="61.32" rx="1" ry="1.05" fill="#2020e0" transform="rotate(179 60.89 61.32)"/>
<ellipse cx="17.48" cy="37.39" rx="0.87" ry="1.08" fill="#2848e8" transform="rotate(177 17.48 37.39)"/>
<ellipse cx="47.87" cy="64.63" rx="0.95" ry="1.14" fill="#1a1ac0" transform="rotate(33 47.87 64.63)"/>
<ellipse cx="10.4" cy="43" rx="0.93" ry="1.12" fill="#2a2aff" transform="rotate(123 10.4 43)"/>
<ellipse cx="24.05" cy="5.93" rx="0.95" ry="1.14" fill="#2038e0" transform="rotate(18 24.05 5.93)"/>
<ellipse cx="62.08" cy="78.9" rx="0.99" ry="1.03" fill="#2222c8" transform="rotate(165 62.08 78.9)"/>
<ellipse cx="57.42" cy="59.98" rx="0.92" ry="1.05" fill="#1c1cd0" transform="rotate(47 57.42 59.98)"/>
<ellipse cx="49.13" cy="71.97" rx="0.88" ry="1.1" fill="#2038e0" transform="rotate(39 49.13 71.97)"/>
<ellipse cx="58.39" cy="15.36" rx="0.9" ry="1.07" fill="#1616b0" transform="rotate(78 58.39 15.36)"/>
<ellipse cx="77.47" cy="2.55" rx="0.78" ry="0.88" fill="#3050f8" transform="rotate(75 77.47 2.55)"/>
<ellipse cx="21" cy="52.78" rx="0.9" ry="1.22" fill="#1c1cd0" transform="rotate(121 21 52.78)"/>
<ellipse cx="61.58" cy="15.55" rx="0.85" ry="1.16" fill="#2848e8" transform="rotate(138 61.58 15.55)"/>
<ellipse cx="0.94" cy="23.28" rx="0.87" ry="1.09" fill="#2038e0" transform="rotate(22 0.94 23.28)"/>
<ellipse cx="80.45" cy="2.62" rx="0.91" ry="1.03" fill="#1c1cd0" transform="rotate(159 80.45 2.62)"/>
<ellipse cx="44.74" cy="1.57" rx="0.96" ry="1.1" fill="#1212a0" transform="rotate(154 44.74 1.57)"/>
<ellipse cx="36.66" cy="10.4" rx="0.94" ry="1.08" fill="#2222c8" transform="rotate(15 36.66 10.4)"/>
<ellipse cx="10.73" cy="29.61" rx="0.91" ry="1.05" fill="#2626ee" transform="rotate(132 10.73 29.61)"/>
<ellipse cx="28.23" cy="6.01" rx="0.77" ry="1.02" fill="#1212a0" transform="rotate(94 28.23 6.01)"/>
<ellipse cx="47.87" cy="74.32" rx="0.91" ry="1.05" fill="#2c2cf8" transform="rotate(49 47.87 74.32)"/>
<ellipse cx="8.38" cy="31.35" rx="0.98" ry="0.99" fill="#2020e0" transform="rotate(47 8.38 31.35)"/>
<ellipse cx="18.34" cy="75.39" rx="0.75" ry="0.96" fill="#1212a0" transform="rotate(179 18.34 75.39)"/>
<ellipse cx="45.4" cy="78.37" rx="0.73" ry="0.86" fill="#1a1ac0" transform="rotate(147 45.4 78.37)"/>
<ellipse cx="59.56" cy="42.14" rx="0.81" ry="1" fill="#1a1ac0" transform="rotate(85 59.56 42.14)"/>
<ellipse cx="21.38" cy="66.81" rx="0.73" ry="0.88" fill="#2222c8" transform="rotate(45 21.38 66.81)"/>
<ellipse cx="22.38" cy="10.27" rx="0.88" ry="1.15" fill="#1a1ac0" transform="rotate(133 22.38 10.27)"/>
<ellipse cx="24.25" cy="60.09" rx="0.74" ry="0.78" fill="#2626ee" transform="rotate(90 24.25 60.09)"/>
<ellipse cx="63.33" cy="18.69" rx="0.99" ry="1.02" fill="#1a1ac0" transform="rotate(131 63.33 18.69)"/>
<ellipse cx="71.69" cy="21.66" rx="0.79" ry="0.88" fill="#2c2cf8" transform="rotate(49 71.69 21.66)"/>
<ellipse cx="57.76" cy="73.42" rx="0.93" ry="1.29" fill="#2020e0" transform="rotate(15 57.76 73.42)"/>
<ellipse cx="33.76" cy="69.62" rx="0.95" ry="1" fill="#1212a0" transform="rotate(166 33.76 69.62)"/>
<ellipse cx="3.66" cy="20.57" rx="0.97" ry="1.1" fill="#3a6aff" transform="rotate(56 3.66 20.57)"/>
<ellipse cx="17.09" cy="78.59" rx="0.93" ry="1.02" fill="#2038e0" transform="rotate(165 17.09 78.59)"/>
<ellipse cx="72.44" cy="73.9" rx="0.99" ry="1.15" fill="#2848e8" transform="rotate(124 72.44 73.9)"/>
<ellipse cx="28.7" cy="45.09" rx="0.9" ry="1.01" fill="#2c2cf8" transform="rotate(174 28.7 45.09)"/>
<ellipse cx="80.13" cy="50.61" rx="0.88" ry="0.89" fill="#2038e0" transform="rotate(161 80.13 50.61)"/>
<ellipse cx="6.03" cy="37.39" rx="1.02" ry="1.19" fill="#3a6aff" transform="rotate(118 6.03 37.39)"/>
<ellipse cx="21.86" cy="24.26" rx="0.9" ry="1.12" fill="#3a6aff" transform="rotate(126 21.86 24.26)"/>
<ellipse cx="35.13" cy="3.19" rx="1.01" ry="1.28" fill="#a030c0" transform="rotate(110 35.13 3.19)"/>
<ellipse cx="80.55" cy="53.34" rx="0.76" ry="0.85" fill="#1818a8" transform="rotate(165 80.55 53.34)"/>
<ellipse cx="55.51" cy="63.38" rx="0.92" ry="1.04" fill="#2222c8" transform="rotate(160 55.51 63.38)"/>
<ellipse cx="58.31" cy="2.62" rx="0.85" ry="1.02" fill="#2c2cf8" transform="rotate(146 58.31 2.62)"/>
<ellipse cx="60.42" cy="31.63" rx="0.94" ry="1.23" fill="#3050f8" transform="rotate(35 60.42 31.63)"/>
<ellipse cx="40.34" cy="48.62" rx="1.13" ry="1.33" fill="#a030c0" transform="rotate(22 40.34 48.62)"/>
<ellipse cx="12.72" cy="55.25" rx="0.73" ry="0.86" fill="#2848e8" transform="rotate(116 12.72 55.25)"/>
<ellipse cx="80.08" cy="34.19" rx="0.72" ry="0.92" fill="#2c2cf8" transform="rotate(62 80.08 34.19)"/>
<ellipse cx="54.44" cy="68.66" rx="0.81" ry="0.89" fill="#1616b0" transform="rotate(112 54.44 68.66)"/>
<ellipse cx="27.29" cy="25.92" rx="0.77" ry="0.91" fill="#2222c8" transform="rotate(126 27.29 25.92)"/>
<ellipse cx="64.89" cy="2.14" rx="0.76" ry="0.85" fill="#1c1cd0" transform="rotate(41 64.89 2.14)"/>
<ellipse cx="80.41" cy="12.3" rx="1.03" ry="1.21" fill="#2c2cf8" transform="rotate(36 80.41 12.3)"/>
<ellipse cx="61.25" cy="3.03" rx="0.82" ry="0.85" fill="#1818a8" transform="rotate(97 61.25 3.03)"/>
<ellipse cx="43.18" cy="58.94" rx="0.95" ry="1.06" fill="#1818a8" transform="rotate(169 43.18 58.94)"/>
</g><rect x="69.6" y="76" width="9" height="1.5" fill="#ddd"/>
</svg>
<rect x="222.6" y="36" width="79.4" height="78" fill="#000"/>
<svg x="222.6" y="36" width="79.4" height="78" overflow="hidden"><g filter="url(#mb)">
<ellipse cx="27.12" cy="0.75" rx="1.03" ry="1.11" fill="#c02890" transform="rotate(80 27.12 0.75)"/>
<ellipse cx="-0.23" cy="44.15" rx="0.72" ry="0.83" fill="#1212a0" transform="rotate(80 -0.23 44.15)"/>
<ellipse cx="1.81" cy="13.47" rx="0.85" ry="0.93" fill="#2c2cf8" transform="rotate(40 1.81 13.47)"/>
<ellipse cx="11.27" cy="53.79" rx="0.92" ry="1.05" fill="#3a6aff" transform="rotate(166 11.27 53.79)"/>
<ellipse cx="28.53" cy="51.19" rx="0.98" ry="1.22" fill="#1212a0" transform="rotate(40 28.53 51.19)"/>
<ellipse cx="39.57" cy="69.07" rx="0.92" ry="0.94" fill="#2038e0" transform="rotate(85 39.57 69.07)"/>
<ellipse cx="69.82" cy="54.29" rx="0.98" ry="1.31" fill="#2626ee" transform="rotate(31 69.82 54.29)"/>
<ellipse cx="-0.52" cy="5.72" rx="0.74" ry="1.03" fill="#2038e0" transform="rotate(65 -0.52 5.72)"/>
<ellipse cx="27.15" cy="74.69" rx="0.76" ry="0.8" fill="#2626ee" transform="rotate(39 27.15 74.69)"/>
<ellipse cx="67.26" cy="8.51" rx="1.1" ry="1.28" fill="#c02890" transform="rotate(169 67.26 8.51)"/>
<ellipse cx="10.42" cy="13.31" rx="1.04" ry="1.39" fill="#1818a8" transform="rotate(68 10.42 13.31)"/>
<ellipse cx="59.09" cy="70.4" rx="0.89" ry="1.24" fill="#2848e8" transform="rotate(36 59.09 70.4)"/>
<ellipse cx="71.41" cy="10.15" rx="1" ry="1.36" fill="#1818a8" transform="rotate(134 71.41 10.15)"/>
<ellipse cx="71" cy="26" rx="0.75" ry="0.8" fill="#1818a8" transform="rotate(170 71 26)"/>
<ellipse cx="43.65" cy="54.14" rx="1.02" ry="1.1" fill="#2848e8" transform="rotate(69 43.65 54.14)"/>
<ellipse cx="3.68" cy="21.29" rx="0.99" ry="1.3" fill="#2020e0" transform="rotate(124 3.68 21.29)"/>
<ellipse cx="6.38" cy="73.98" rx="0.74" ry="0.95" fill="#1818a8" transform="rotate(139 6.38 73.98)"/>
<ellipse cx="15.64" cy="7.98" rx="1" ry="1.33" fill="#1818a8" transform="rotate(11 15.64 7.98)"/>
<ellipse cx="52.18" cy="70.01" rx="0.75" ry="0.96" fill="#3a6aff" transform="rotate(44 52.18 70.01)"/>
<ellipse cx="50.53" cy="67.54" rx="0.92" ry="0.96" fill="#1818a8" transform="rotate(129 50.53 67.54)"/>
<ellipse cx="45.35" cy="63.34" rx="0.96" ry="1.03" fill="#2a2aff" transform="rotate(6 45.35 63.34)"/>
<ellipse cx="21.24" cy="51.83" rx="0.97" ry="1.24" fill="#2626ee" transform="rotate(135 21.24 51.83)"/>
<ellipse cx="42.58" cy="25.75" rx="0.93" ry="1.3" fill="#2a2aff" transform="rotate(124 42.58 25.75)"/>
<ellipse cx="31.62" cy="3.35" rx="0.81" ry="0.93" fill="#1818a8" transform="rotate(19 31.62 3.35)"/>
<ellipse cx="4.4" cy="10.85" rx="0.93" ry="1.18" fill="#1a1ac0" transform="rotate(2 4.4 10.85)"/>
<ellipse cx="26.88" cy="28.59" rx="0.81" ry="0.89" fill="#2222c8" transform="rotate(134 26.88 28.59)"/>
<ellipse cx="53.14" cy="53.14" rx="0.72" ry="0.84" fill="#1212a0" transform="rotate(121 53.14 53.14)"/>
<ellipse cx="9.38" cy="42.67" rx="0.79" ry="0.92" fill="#2020e0" transform="rotate(84 9.38 42.67)"/>
<ellipse cx="54.02" cy="57.78" rx="1.03" ry="1.21" fill="#1a1ac0" transform="rotate(124 54.02 57.78)"/>
<ellipse cx="34.42" cy="35.39" rx="0.89" ry="1.01" fill="#2848e8" transform="rotate(11 34.42 35.39)"/>
<ellipse cx="2.3" cy="2.97" rx="0.98" ry="1.01" fill="#2626ee" transform="rotate(177 2.3 2.97)"/>
<ellipse cx="59.23" cy="34.1" rx="0.72" ry="0.81" fill="#1616b0" transform="rotate(62 59.23 34.1)"/>
<ellipse cx="20.9" cy="55.83" rx="0.99" ry="1.14" fill="#2038e0" transform="rotate(58 20.9 55.83)"/>
<ellipse cx="61.94" cy="36.21" rx="1" ry="1.01" fill="#1212a0" transform="rotate(164 61.94 36.21)"/>
<ellipse cx="74.06" cy="3.66" rx="0.86" ry="1.14" fill="#1c1cd0" transform="rotate(157 74.06 3.66)"/>
<ellipse cx="35.8" cy="20.93" rx="0.95" ry="1.13" fill="#1818a8" transform="rotate(24 35.8 20.93)"/>
<ellipse cx="10.68" cy="58.77" rx="0.83" ry="1" fill="#3050f8" transform="rotate(53 10.68 58.77)"/>
<ellipse cx="4.01" cy="54.37" rx="0.87" ry="1.18" fill="#2020e0" transform="rotate(170 4.01 54.37)"/>
<ellipse cx="63.96" cy="26.12" rx="0.74" ry="0.76" fill="#2038e0" transform="rotate(138 63.96 26.12)"/>
<ellipse cx="20.59" cy="18.08" rx="0.78" ry="0.94" fill="#1212a0" transform="rotate(118 20.59 18.08)"/>
<ellipse cx="63.82" cy="6.69" rx="0.91" ry="1.08" fill="#2020e0" transform="rotate(124 63.82 6.69)"/>
<ellipse cx="14.65" cy="11.64" rx="0.8" ry="0.88" fill="#2a2aff" transform="rotate(44 14.65 11.64)"/>
<ellipse cx="46.81" cy="52.18" rx="0.89" ry="1.11" fill="#1a1ac0" transform="rotate(161 46.81 52.18)"/>
<ellipse cx="35.53" cy="2.03" rx="1.1" ry="1.13" fill="#b02088" transform="rotate(162 35.53 2.03)"/>
<ellipse cx="41.05" cy="56.22" rx="0.9" ry="1.05" fill="#2a2aff" transform="rotate(29 41.05 56.22)"/>
<ellipse cx="40.61" cy="17.14" rx="0.86" ry="1.1" fill="#2222c8" transform="rotate(49 40.61 17.14)"/>
<ellipse cx="75.09" cy="25.64" rx="0.92" ry="1.18" fill="#2222c8" transform="rotate(21 75.09 25.64)"/>
<ellipse cx="72.57" cy="45.15" rx="1.09" ry="1.16" fill="#c02890" transform="rotate(39 72.57 45.15)"/>
<ellipse cx="9.49" cy="7.84" rx="0.99" ry="1.1" fill="#2222c8" transform="rotate(169 9.49 7.84)"/>
<ellipse cx="48.77" cy="56.02" rx="0.86" ry="0.98" fill="#3a6aff" transform="rotate(48 48.77 56.02)"/>
<ellipse cx="48.04" cy="78.5" rx="0.98" ry="1.29" fill="#1212a0" transform="rotate(175 48.04 78.5)"/>
<ellipse cx="9.9" cy="3.77" rx="0.8" ry="0.92" fill="#3a6aff" transform="rotate(72 9.9 3.77)"/>
<ellipse cx="42.2" cy="77.9" rx="0.73" ry="0.99" fill="#2038e0" transform="rotate(95 42.2 77.9)"/>
<ellipse cx="18.14" cy="56.86" rx="1.12" ry="1.28" fill="#d03cb8" transform="rotate(30 18.14 56.86)"/>
<ellipse cx="44.45" cy="11.11" rx="0.91" ry="1" fill="#1212a0" transform="rotate(103 44.45 11.11)"/>
<ellipse cx="72.08" cy="36.55" rx="1.09" ry="1.48" fill="#b02088" transform="rotate(27 72.08 36.55)"/>
<ellipse cx="60.55" cy="14.27" rx="0.78" ry="0.86" fill="#1818a8" transform="rotate(109 60.55 14.27)"/>
<ellipse cx="17.24" cy="41.05" rx="1.1" ry="1.47" fill="#d02898" transform="rotate(64 17.24 41.05)"/>
<ellipse cx="52.9" cy="50.52" rx="0.89" ry="1.06" fill="#2020e0" transform="rotate(168 52.9 50.52)"/>
<ellipse cx="29.06" cy="62.38" rx="0.9" ry="1.07" fill="#2038e0" transform="rotate(132 29.06 62.38)"/>
<ellipse cx="52.83" cy="28.7" rx="1.17" ry="1.25" fill="#d02898" transform="rotate(9 52.83 28.7)"/>
<ellipse cx="2.64" cy="74.72" rx="0.87" ry="0.93" fill="#1c1cd0" transform="rotate(37 2.64 74.72)"/>
<ellipse cx="3.62" cy="-0.79" rx="0.92" ry="1.27" fill="#2c2cf8" transform="rotate(119 3.62 -0.79)"/>
<ellipse cx="14.17" cy="54.01" rx="0.99" ry="1.36" fill="#1c1cd0" transform="rotate(80 14.17 54.01)"/>
<ellipse cx="58.17" cy="20.57" rx="0.89" ry="1.21" fill="#1a1ac0" transform="rotate(66 58.17 20.57)"/>
<ellipse cx="58.28" cy="53.75" rx="1.04" ry="1.1" fill="#2222c8" transform="rotate(130 58.28 53.75)"/>
<ellipse cx="31.34" cy="59.63" rx="0.85" ry="1.05" fill="#2848e8" transform="rotate(120 31.34 59.63)"/>
<ellipse cx="38.72" cy="72.58" rx="0.9" ry="1.21" fill="#2038e0" transform="rotate(173 38.72 72.58)"/>
<ellipse cx="68.92" cy="2.74" rx="0.74" ry="0.99" fill="#2c2cf8" transform="rotate(25 68.92 2.74)"/>
<ellipse cx="57.04" cy="-0.14" rx="0.81" ry="1.04" fill="#2020e0" transform="rotate(59 57.04 -0.14)"/>
<ellipse cx="22.28" cy="49.05" rx="0.98" ry="1.28" fill="#1212a0" transform="rotate(84 22.28 49.05)"/>
<ellipse cx="10.11" cy="74.5" rx="0.77" ry="0.86" fill="#2020e0" transform="rotate(69 10.11 74.5)"/>
<ellipse cx="10.11" cy="34.42" rx="1.16" ry="1.18" fill="#d02898" transform="rotate(98 10.11 34.42)"/>
<ellipse cx="7.24" cy="59.92" rx="0.93" ry="1.14" fill="#2020e0" transform="rotate(137 7.24 59.92)"/>
<ellipse cx="43.06" cy="69.84" rx="0.85" ry="1.04" fill="#2626ee" transform="rotate(43 43.06 69.84)"/>
<ellipse cx="65.3" cy="65.42" rx="0.88" ry="1.21" fill="#3050f8" transform="rotate(6 65.3 65.42)"/>
<ellipse cx="5.23" cy="61.74" rx="1.04" ry="1.15" fill="#1818a8" transform="rotate(74 5.23 61.74)"/>
<ellipse cx="46.56" cy="0.02" rx="0.9" ry="1.09" fill="#2222c8" transform="rotate(141 46.56 0.02)"/>
<ellipse cx="57.28" cy="41.33" rx="0.79" ry="0.82" fill="#2038e0" transform="rotate(161 57.28 41.33)"/>
<ellipse cx="22.39" cy="44.35" rx="0.92" ry="0.94" fill="#2626ee" transform="rotate(122 22.39 44.35)"/>
<ellipse cx="78.77" cy="43.19" rx="0.85" ry="1" fill="#2c2cf8" transform="rotate(5 78.77 43.19)"/>
<ellipse cx="39.69" cy="23.4" rx="0.94" ry="1.31" fill="#2a2aff" transform="rotate(42 39.69 23.4)"/>
<ellipse cx="12.95" cy="63.47" rx="0.98" ry="1.35" fill="#2038e0" transform="rotate(40 12.95 63.47)"/>
<ellipse cx="25.22" cy="11.36" rx="0.8" ry="0.91" fill="#2848e8" transform="rotate(70 25.22 11.36)"/>
<ellipse cx="73.09" cy="18.69" rx="0.97" ry="1.34" fill="#2626ee" transform="rotate(157 73.09 18.69)"/>
<ellipse cx="25.09" cy="60.82" rx="1.02" ry="1.33" fill="#2020e0" transform="rotate(179 25.09 60.82)"/>
<ellipse cx="27.53" cy="69.89" rx="1.04" ry="1.41" fill="#2038e0" transform="rotate(179 27.53 69.89)"/>
<ellipse cx="24.98" cy="44.87" rx="1.02" ry="1.19" fill="#2020e0" transform="rotate(0 24.98 44.87)"/>
<ellipse cx="22.26" cy="74.07" rx="0.82" ry="0.86" fill="#1a1ac0" transform="rotate(144 22.26 74.07)"/>
<ellipse cx="11.85" cy="72.32" rx="0.8" ry="0.84" fill="#2626ee" transform="rotate(108 11.85 72.32)"/>
<ellipse cx="71.24" cy="68.89" rx="1.04" ry="1.34" fill="#2626ee" transform="rotate(158 71.24 68.89)"/>
<ellipse cx="35.26" cy="73.02" rx="0.9" ry="1" fill="#1c1cd0" transform="rotate(54 35.26 73.02)"/>
<ellipse cx="7.52" cy="32.19" rx="0.89" ry="1.02" fill="#2626ee" transform="rotate(124 7.52 32.19)"/>
<ellipse cx="13.28" cy="9.27" rx="0.91" ry="1.01" fill="#2038e0" transform="rotate(155 13.28 9.27)"/>
<ellipse cx="32.03" cy="72.79" rx="0.94" ry="0.94" fill="#2a2aff" transform="rotate(13 32.03 72.79)"/>
<ellipse cx="62.69" cy="12.8" rx="0.93" ry="1.16" fill="#3050f8" transform="rotate(115 62.69 12.8)"/>
<ellipse cx="28.71" cy="56.35" rx="0.73" ry="0.87" fill="#2222c8" transform="rotate(53 28.71 56.35)"/>
<ellipse cx="38.41" cy="11.04" rx="0.75" ry="0.88" fill="#1212a0" transform="rotate(21 38.41 11.04)"/>
<ellipse cx="13.06" cy="38.68" rx="0.91" ry="0.98" fill="#2a2aff" transform="rotate(152 13.06 38.68)"/>
<ellipse cx="50.73" cy="17.87" rx="0.76" ry="0.91" fill="#1818a8" transform="rotate(115 50.73 17.87)"/>
<ellipse cx="25.1" cy="32.62" rx="0.74" ry="0.96" fill="#2a2aff" transform="rotate(117 25.1 32.62)"/>
<ellipse cx="38.7" cy="63.07" rx="0.99" ry="1.2" fill="#1c1cd0" transform="rotate(74 38.7 63.07)"/>
<ellipse cx="45.5" cy="76.41" rx="0.87" ry="0.94" fill="#1818a8" transform="rotate(65 45.5 76.41)"/>
<ellipse cx="15.49" cy="75.98" rx="0.86" ry="1.13" fill="#1a1ac0" transform="rotate(62 15.49 75.98)"/>
<ellipse cx="22.21" cy="61.65" rx="0.85" ry="1.15" fill="#2020e0" transform="rotate(80 22.21 61.65)"/>
<ellipse cx="24.49" cy="21.61" rx="0.78" ry="0.87" fill="#2038e0" transform="rotate(122 24.49 21.61)"/>
<ellipse cx="62.65" cy="17.09" rx="0.91" ry="0.92" fill="#2222c8" transform="rotate(44 62.65 17.09)"/>
<ellipse cx="0.92" cy="28.67" rx="0.78" ry="1.02" fill="#1616b0" transform="rotate(161 0.92 28.67)"/>
<ellipse cx="18.15" cy="25.46" rx="0.85" ry="0.86" fill="#1a1ac0" transform="rotate(88 18.15 25.46)"/>
<ellipse cx="78.31" cy="69.09" rx="0.86" ry="0.96" fill="#2c2cf8" transform="rotate(18 78.31 69.09)"/>
<ellipse cx="26.87" cy="6.85" rx="0.96" ry="1.12" fill="#2848e8" transform="rotate(4 26.87 6.85)"/>
<ellipse cx="32.81" cy="45.02" rx="0.93" ry="1.03" fill="#1818a8" transform="rotate(77 32.81 45.02)"/>
<ellipse cx="43.54" cy="60.79" rx="0.89" ry="0.94" fill="#2626ee" transform="rotate(126 43.54 60.79)"/>
<ellipse cx="15.18" cy="0.63" rx="0.74" ry="0.96" fill="#1212a0" transform="rotate(54 15.18 0.63)"/>
<ellipse cx="41.8" cy="21.56" rx="0.96" ry="1.18" fill="#2222c8" transform="rotate(130 41.8 21.56)"/>
<ellipse cx="65.38" cy="75.75" rx="0.89" ry="0.99" fill="#1818a8" transform="rotate(106 65.38 75.75)"/>
<ellipse cx="78.79" cy="75.65" rx="0.85" ry="0.99" fill="#1616b0" transform="rotate(69 78.79 75.65)"/>
<ellipse cx="57.76" cy="13.67" rx="0.78" ry="0.82" fill="#2c2cf8" transform="rotate(13 57.76 13.67)"/>
<ellipse cx="58.69" cy="3.46" rx="0.8" ry="0.96" fill="#1212a0" transform="rotate(164 58.69 3.46)"/>
<ellipse cx="74.8" cy="69.67" rx="1.02" ry="1.32" fill="#1c1cd0" transform="rotate(176 74.8 69.67)"/>
<ellipse cx="33.47" cy="29.42" rx="0.84" ry="1.06" fill="#1818a8" transform="rotate(62 33.47 29.42)"/>
<ellipse cx="48.9" cy="63.31" rx="0.74" ry="0.9" fill="#1c1cd0" transform="rotate(40 48.9 63.31)"/>
<ellipse cx="61.29" cy="40.1" rx="0.73" ry="1" fill="#2848e8" transform="rotate(34 61.29 40.1)"/>
<ellipse cx="42.64" cy="35.8" rx="0.86" ry="0.98" fill="#1818a8" transform="rotate(41 42.64 35.8)"/>
<ellipse cx="7.59" cy="35.07" rx="0.97" ry="1.14" fill="#1212a0" transform="rotate(46 7.59 35.07)"/>
<ellipse cx="58" cy="47.28" rx="0.84" ry="0.98" fill="#1a1ac0" transform="rotate(79 58 47.28)"/>
<ellipse cx="24.25" cy="25.69" rx="0.88" ry="1.16" fill="#b02088" transform="rotate(40 24.25 25.69)"/>
<ellipse cx="8.99" cy="49.38" rx="0.93" ry="0.94" fill="#b030c8" transform="rotate(143 8.99 49.38)"/>
<ellipse cx="51.15" cy="38.55" rx="0.87" ry="1.15" fill="#1a1ac0" transform="rotate(14 51.15 38.55)"/>
<ellipse cx="8.21" cy="65.15" rx="1.01" ry="1.02" fill="#1818a8" transform="rotate(173 8.21 65.15)"/>
<ellipse cx="68.3" cy="60.39" rx="0.81" ry="0.87" fill="#1818a8" transform="rotate(27 68.3 60.39)"/>
<ellipse cx="22.93" cy="3.08" rx="0.74" ry="0.76" fill="#2626ee" transform="rotate(98 22.93 3.08)"/>
<ellipse cx="68.98" cy="73.93" rx="0.98" ry="1.23" fill="#2020e0" transform="rotate(24 68.98 73.93)"/>
<ellipse cx="4.56" cy="69.12" rx="1.02" ry="1.11" fill="#1818a8" transform="rotate(118 4.56 69.12)"/>
<ellipse cx="68.87" cy="21.8" rx="1.05" ry="1.24" fill="#2038e0" transform="rotate(138 68.87 21.8)"/>
<ellipse cx="64.41" cy="3.89" rx="0.77" ry="0.98" fill="#1616b0" transform="rotate(111 64.41 3.89)"/>
<ellipse cx="51.92" cy="7.82" rx="0.99" ry="1.16" fill="#2848e8" transform="rotate(68 51.92 7.82)"/>
<ellipse cx="34.79" cy="47.45" rx="0.84" ry="1.07" fill="#1c1cd0" transform="rotate(175 34.79 47.45)"/>
<ellipse cx="33.63" cy="58.28" rx="0.78" ry="0.85" fill="#1a1ac0" transform="rotate(64 33.63 58.28)"/>
<ellipse cx="44.24" cy="42.49" rx="1.18" ry="1.24" fill="#d02898" transform="rotate(79 44.24 42.49)"/>
<ellipse cx="33.3" cy="32.09" rx="0.88" ry="1.01" fill="#3a6aff" transform="rotate(27 33.3 32.09)"/>
<ellipse cx="13.68" cy="17.55" rx="0.76" ry="1.02" fill="#1212a0" transform="rotate(138 13.68 17.55)"/>
<ellipse cx="64.42" cy="19.15" rx="1.02" ry="1.2" fill="#1818a8" transform="rotate(0 64.42 19.15)"/>
<ellipse cx="74.32" cy="32.9" rx="1.17" ry="1.39" fill="#b030c8" transform="rotate(74 74.32 32.9)"/>
<ellipse cx="19.39" cy="73.03" rx="0.91" ry="1.06" fill="#1212a0" transform="rotate(156 19.39 73.03)"/>
<ellipse cx="-0.27" cy="21.41" rx="0.83" ry="0.96" fill="#3a6aff" transform="rotate(76 -0.27 21.41)"/>
<ellipse cx="42.74" cy="63.58" rx="1.05" ry="1.19" fill="#3050f8" transform="rotate(116 42.74 63.58)"/>
<ellipse cx="62.53" cy="74.39" rx="0.88" ry="1.12" fill="#2038e0" transform="rotate(159 62.53 74.39)"/>
<ellipse cx="7.62" cy="22.08" rx="0.77" ry="0.78" fill="#2038e0" transform="rotate(172 7.62 22.08)"/>
<ellipse cx="77.87" cy="4.4" rx="0.78" ry="0.84" fill="#2038e0" transform="rotate(99 77.87 4.4)"/>
<ellipse cx="36.79" cy="49.23" rx="0.99" ry="1.28" fill="#1c1cd0" transform="rotate(124 36.79 49.23)"/>
<ellipse cx="76.84" cy="21.03" rx="0.94" ry="1.16" fill="#2020e0" transform="rotate(68 76.84 21.03)"/>
<ellipse cx="49.28" cy="26.28" rx="0.84" ry="1.15" fill="#2038e0" transform="rotate(5 49.28 26.28)"/>
<ellipse cx="18.91" cy="77.87" rx="0.94" ry="1.22" fill="#2626ee" transform="rotate(149 18.91 77.87)"/>
<ellipse cx="21.39" cy="37.29" rx="0.74" ry="0.92" fill="#2c2cf8" transform="rotate(152 21.39 37.29)"/>
<ellipse cx="29.07" cy="78.36" rx="0.94" ry="0.95" fill="#1616b0" transform="rotate(173 29.07 78.36)"/>
<ellipse cx="57.45" cy="61.53" rx="0.8" ry="0.82" fill="#2626ee" transform="rotate(38 57.45 61.53)"/>
<ellipse cx="23.96" cy="40.55" rx="0.84" ry="1.13" fill="#1616b0" transform="rotate(147 23.96 40.55)"/>
<ellipse cx="80.12" cy="36.15" rx="0.87" ry="0.91" fill="#1c1cd0" transform="rotate(81 80.12 36.15)"/>
<ellipse cx="28.82" cy="44.39" rx="0.79" ry="0.91" fill="#1818a8" transform="rotate(32 28.82 44.39)"/>
<ellipse cx="11.5" cy="21.77" rx="1" ry="1.03" fill="#2038e0" transform="rotate(27 11.5 21.77)"/>
<ellipse cx="40.75" cy="30.46" rx="0.83" ry="0.91" fill="#1c1cd0" transform="rotate(42 40.75 30.46)"/>
<ellipse cx="40.38" cy="59.26" rx="1.01" ry="1.33" fill="#2020e0" transform="rotate(101 40.38 59.26)"/>
<ellipse cx="58.72" cy="31.29" rx="1.02" ry="1.1" fill="#1c1cd0" transform="rotate(126 58.72 31.29)"/>
<ellipse cx="-0.4" cy="61.98" rx="0.94" ry="1.09" fill="#1616b0" transform="rotate(23 -0.4 61.98)"/>
<ellipse cx="50.39" cy="76.28" rx="0.8" ry="0.9" fill="#2a2aff" transform="rotate(19 50.39 76.28)"/>
<ellipse cx="46.94" cy="69.71" rx="0.94" ry="1.19" fill="#2222c8" transform="rotate(56 46.94 69.71)"/>
<ellipse cx="78.88" cy="66.03" rx="0.97" ry="1.26" fill="#2a2aff" transform="rotate(177 78.88 66.03)"/>
<ellipse cx="55.27" cy="68.7" rx="0.85" ry="1.18" fill="#3a6aff" transform="rotate(175 55.27 68.7)"/>
<ellipse cx="8.4" cy="11.72" rx="0.92" ry="1.24" fill="#1a1ac0" transform="rotate(59 8.4 11.72)"/>
<ellipse cx="62.73" cy="32.57" rx="0.99" ry="1.11" fill="#d02898" transform="rotate(78 62.73 32.57)"/>
<ellipse cx="4.41" cy="16.72" rx="0.83" ry="0.84" fill="#2c2cf8" transform="rotate(39 4.41 16.72)"/>
<ellipse cx="48.56" cy="11.01" rx="0.77" ry="0.83" fill="#1c1cd0" transform="rotate(122 48.56 11.01)"/>
<ellipse cx="21.75" cy="20.75" rx="0.96" ry="1.1" fill="#1212a0" transform="rotate(159 21.75 20.75)"/>
<ellipse cx="20.22" cy="47.17" rx="1.04" ry="1.38" fill="#2c2cf8" transform="rotate(121 20.22 47.17)"/>
</g><rect x="69.4" y="76" width="9" height="1.5" fill="#ddd"/>
</svg>
<rect x="304" y="36" width="79.2" height="78" fill="#000"/>
<svg x="304" y="36" width="79.2" height="78" overflow="hidden"><g filter="url(#mb)">
<ellipse cx="12.56" cy="15.59" rx="1" ry="1.06" fill="#b02088" transform="rotate(92 12.56 15.59)"/>
<ellipse cx="50.27" cy="33.63" rx="1" ry="1.3" fill="#2626ee" transform="rotate(155 50.27 33.63)"/>
<ellipse cx="34.78" cy="52.49" rx="0.8" ry="1.06" fill="#2626ee" transform="rotate(64 34.78 52.49)"/>
<ellipse cx="65.99" cy="50.14" rx="0.8" ry="0.91" fill="#2848e8" transform="rotate(100 65.99 50.14)"/>
<ellipse cx="69.52" cy="53.67" rx="0.78" ry="0.9" fill="#2c2cf8" transform="rotate(137 69.52 53.67)"/>
<ellipse cx="49.59" cy="41.69" rx="0.91" ry="1.09" fill="#1818a8" transform="rotate(166 49.59 41.69)"/>
<ellipse cx="41.84" cy="30.87" rx="1.04" ry="1.18" fill="#3a6aff" transform="rotate(120 41.84 30.87)"/>
<ellipse cx="75.66" cy="12.76" rx="0.95" ry="1.04" fill="#2c2cf8" transform="rotate(51 75.66 12.76)"/>
<ellipse cx="68.67" cy="69.62" rx="0.74" ry="0.85" fill="#2c2cf8" transform="rotate(51 68.67 69.62)"/>
<ellipse cx="19.68" cy="53.76" rx="0.89" ry="1.14" fill="#2626ee" transform="rotate(14 19.68 53.76)"/>
<ellipse cx="16.3" cy="34.83" rx="1" ry="1.17" fill="#2a2aff" transform="rotate(173 16.3 34.83)"/>
<ellipse cx="16.93" cy="32.19" rx="1.06" ry="1.16" fill="#a030c0" transform="rotate(48 16.93 32.19)"/>
<ellipse cx="37.95" cy="17.39" rx="1.03" ry="1.24" fill="#2038e0" transform="rotate(165 37.95 17.39)"/>
<ellipse cx="30.6" cy="11.02" rx="0.84" ry="0.89" fill="#1616b0" transform="rotate(14 30.6 11.02)"/>
<ellipse cx="11.23" cy="32.42" rx="0.82" ry="0.95" fill="#1a1ac0" transform="rotate(65 11.23 32.42)"/>
<ellipse cx="58.14" cy="32.15" rx="1.01" ry="1.15" fill="#c02890" transform="rotate(114 58.14 32.15)"/>
<ellipse cx="14.27" cy="22.77" rx="0.88" ry="1.23" fill="#2626ee" transform="rotate(1 14.27 22.77)"/>
<ellipse cx="51.16" cy="17.15" rx="0.99" ry="1.1" fill="#2038e0" transform="rotate(9 51.16 17.15)"/>
<ellipse cx="12.81" cy="62.21" rx="0.96" ry="1.12" fill="#2038e0" transform="rotate(133 12.81 62.21)"/>
<ellipse cx="37.1" cy="-0.39" rx="0.8" ry="0.81" fill="#1616b0" transform="rotate(118 37.1 -0.39)"/>
<ellipse cx="16.78" cy="50.92" rx="1.01" ry="1.33" fill="#1818a8" transform="rotate(51 16.78 50.92)"/>
<ellipse cx="50.81" cy="36.98" rx="1.01" ry="1.11" fill="#2038e0" transform="rotate(115 50.81 36.98)"/>
<ellipse cx="21.25" cy="61.28" rx="0.92" ry="1.11" fill="#1212a0" transform="rotate(91 21.25 61.28)"/>
<ellipse cx="69.39" cy="3.83" rx="1.05" ry="1.24" fill="#2c2cf8" transform="rotate(146 69.39 3.83)"/>
<ellipse cx="47.86" cy="37.57" rx="0.73" ry="0.83" fill="#2020e0" transform="rotate(35 47.86 37.57)"/>
<ellipse cx="76.58" cy="26.31" rx="1.02" ry="1.32" fill="#3050f8" transform="rotate(139 76.58 26.31)"/>
<ellipse cx="73.26" cy="35.29" rx="0.89" ry="1.19" fill="#2038e0" transform="rotate(121 73.26 35.29)"/>
<ellipse cx="10.23" cy="-0.28" rx="0.82" ry="0.9" fill="#1616b0" transform="rotate(73 10.23 -0.28)"/>
<ellipse cx="21.82" cy="43.51" rx="0.81" ry="1.09" fill="#3a6aff" transform="rotate(93 21.82 43.51)"/>
<ellipse cx="38.33" cy="75.27" rx="0.99" ry="1.36" fill="#2222c8" transform="rotate(107 38.33 75.27)"/>
<ellipse cx="1.51" cy="39.53" rx="0.88" ry="1.12" fill="#1818a8" transform="rotate(62 1.51 39.53)"/>
<ellipse cx="76.89" cy="43.28" rx="0.79" ry="1.02" fill="#3050f8" transform="rotate(161 76.89 43.28)"/>
<ellipse cx="55.35" cy="7.39" rx="1" ry="1.01" fill="#1a1ac0" transform="rotate(165 55.35 7.39)"/>
<ellipse cx="17.51" cy="69.72" rx="0.75" ry="0.76" fill="#2020e0" transform="rotate(54 17.51 69.72)"/>
<ellipse cx="26.5" cy="36.78" rx="0.96" ry="0.96" fill="#1a1ac0" transform="rotate(85 26.5 36.78)"/>
<ellipse cx="77.31" cy="18.21" rx="0.9" ry="0.92" fill="#c02890" transform="rotate(125 77.31 18.21)"/>
<ellipse cx="15.66" cy="7.73" rx="0.75" ry="0.96" fill="#2222c8" transform="rotate(120 15.66 7.73)"/>
<ellipse cx="6.21" cy="3.36" rx="1.08" ry="1.17" fill="#e040b0" transform="rotate(144 6.21 3.36)"/>
<ellipse cx="79.69" cy="0.48" rx="0.83" ry="0.88" fill="#3050f8" transform="rotate(86 79.69 0.48)"/>
<ellipse cx="41.97" cy="76.74" rx="1.04" ry="1.25" fill="#1c1cd0" transform="rotate(86 41.97 76.74)"/>
<ellipse cx="37.32" cy="66.83" rx="0.74" ry="0.81" fill="#2020e0" transform="rotate(28 37.32 66.83)"/>
<ellipse cx="34.78" cy="34.92" rx="0.74" ry="1" fill="#2c2cf8" transform="rotate(132 34.78 34.92)"/>
<ellipse cx="65.01" cy="76.82" rx="1.03" ry="1.07" fill="#2626ee" transform="rotate(96 65.01 76.82)"/>
<ellipse cx="25.18" cy="63.31" rx="0.9" ry="1.03" fill="#1616b0" transform="rotate(154 25.18 63.31)"/>
<ellipse cx="5.91" cy="67.8" rx="0.94" ry="1.03" fill="#3050f8" transform="rotate(31 5.91 67.8)"/>
<ellipse cx="74.56" cy="15.54" rx="1.02" ry="1.06" fill="#3a6aff" transform="rotate(108 74.56 15.54)"/>
<ellipse cx="78.45" cy="76.78" rx="1.16" ry="1.56" fill="#a030c0" transform="rotate(12 78.45 76.78)"/>
<ellipse cx="73.83" cy="56.52" rx="0.96" ry="1.18" fill="#b030c8" transform="rotate(72 73.83 56.52)"/>
<ellipse cx="46.53" cy="12.64" rx="0.92" ry="1.22" fill="#2626ee" transform="rotate(138 46.53 12.64)"/>
<ellipse cx="65.02" cy="-0.21" rx="0.73" ry="0.96" fill="#3050f8" transform="rotate(51 65.02 -0.21)"/>
<ellipse cx="34.38" cy="21.64" rx="0.85" ry="1.15" fill="#2038e0" transform="rotate(102 34.38 21.64)"/>
<ellipse cx="41.5" cy="25.68" rx="1.04" ry="1.09" fill="#1a1ac0" transform="rotate(150 41.5 25.68)"/>
<ellipse cx="31.6" cy="53.35" rx="0.94" ry="0.98" fill="#2848e8" transform="rotate(48 31.6 53.35)"/>
<ellipse cx="62.76" cy="5.66" rx="0.74" ry="0.92" fill="#2038e0" transform="rotate(4 62.76 5.66)"/>
<ellipse cx="28.77" cy="67.59" rx="0.8" ry="0.96" fill="#2848e8" transform="rotate(11 28.77 67.59)"/>
<ellipse cx="58.86" cy="22.54" rx="0.98" ry="1.37" fill="#d02898" transform="rotate(176 58.86 22.54)"/>
<ellipse cx="65.98" cy="39.79" rx="1.08" ry="1.41" fill="#e040b0" transform="rotate(49 65.98 39.79)"/>
<ellipse cx="57.78" cy="14.34" rx="1.04" ry="1.34" fill="#c02890" transform="rotate(145 57.78 14.34)"/>
<ellipse cx="21.99" cy="46.66" rx="0.72" ry="0.75" fill="#3050f8" transform="rotate(40 21.99 46.66)"/>
<ellipse cx="59.21" cy="26.75" rx="0.97" ry="1.24" fill="#3050f8" transform="rotate(21 59.21 26.75)"/>
<ellipse cx="43.18" cy="28.44" rx="1.02" ry="1.13" fill="#3050f8" transform="rotate(38 43.18 28.44)"/>
<ellipse cx="51.68" cy="70.7" rx="1.02" ry="1.04" fill="#2020e0" transform="rotate(142 51.68 70.7)"/>
<ellipse cx="27.9" cy="11.66" rx="0.8" ry="0.86" fill="#1616b0" transform="rotate(57 27.9 11.66)"/>
<ellipse cx="30.54" cy="6.49" rx="1.03" ry="1.39" fill="#1616b0" transform="rotate(170 30.54 6.49)"/>
<ellipse cx="58.6" cy="77.37" rx="0.87" ry="1.07" fill="#2020e0" transform="rotate(15 58.6 77.37)"/>
<ellipse cx="29.07" cy="76.72" rx="0.74" ry="0.93" fill="#2848e8" transform="rotate(156 29.07 76.72)"/>
<ellipse cx="25.46" cy="69.35" rx="1" ry="1.03" fill="#2038e0" transform="rotate(102 25.46 69.35)"/>
<ellipse cx="13.6" cy="78.42" rx="0.79" ry="0.85" fill="#2626ee" transform="rotate(90 13.6 78.42)"/>
<ellipse cx="48.69" cy="47.12" rx="0.73" ry="0.89" fill="#2038e0" transform="rotate(65 48.69 47.12)"/>
<ellipse cx="12.71" cy="71.45" rx="0.73" ry="0.87" fill="#1212a0" transform="rotate(47 12.71 71.45)"/>
<ellipse cx="36.09" cy="28.98" rx="1.04" ry="1.25" fill="#b02088" transform="rotate(107 36.09 28.98)"/>
<ellipse cx="26.24" cy="9.44" rx="0.92" ry="1.03" fill="#2848e8" transform="rotate(141 26.24 9.44)"/>
<ellipse cx="70.24" cy="75.79" rx="0.85" ry="1.18" fill="#2020e0" transform="rotate(100 70.24 75.79)"/>
<ellipse cx="40.85" cy="13.06" rx="0.84" ry="1.05" fill="#1616b0" transform="rotate(39 40.85 13.06)"/>
<ellipse cx="25.75" cy="58.37" rx="1.17" ry="1.24" fill="#b030c8" transform="rotate(123 25.75 58.37)"/>
<ellipse cx="38.88" cy="51.77" rx="0.87" ry="1.01" fill="#b02088" transform="rotate(144 38.88 51.77)"/>
<ellipse cx="22.49" cy="66.17" rx="0.93" ry="0.99" fill="#3050f8" transform="rotate(91 22.49 66.17)"/>
<ellipse cx="27.3" cy="48.42" rx="1.04" ry="1.18" fill="#2c2cf8" transform="rotate(166 27.3 48.42)"/>
<ellipse cx="55.38" cy="54.68" rx="0.97" ry="1.01" fill="#3050f8" transform="rotate(71 55.38 54.68)"/>
<ellipse cx="7.64" cy="72.8" rx="0.93" ry="1.03" fill="#1616b0" transform="rotate(153 7.64 72.8)"/>
<ellipse cx="26.44" cy="42.92" rx="1.03" ry="1.26" fill="#2222c8" transform="rotate(41 26.44 42.92)"/>
<ellipse cx="45.44" cy="70.13" rx="0.9" ry="0.97" fill="#1a1ac0" transform="rotate(134 45.44 70.13)"/>
<ellipse cx="67.91" cy="78.18" rx="0.82" ry="0.82" fill="#1616b0" transform="rotate(159 67.91 78.18)"/>
<ellipse cx="9.04" cy="59.01" rx="0.92" ry="1.01" fill="#1a1ac0" transform="rotate(63 9.04 59.01)"/>
<ellipse cx="9.13" cy="67.13" rx="1" ry="1.32" fill="#3a6aff" transform="rotate(37 9.13 67.13)"/>
<ellipse cx="32.75" cy="62.44" rx="0.92" ry="1.27" fill="#2038e0" transform="rotate(108 32.75 62.44)"/>
<ellipse cx="38.09" cy="58.67" rx="0.84" ry="1.04" fill="#a030c0" transform="rotate(104 38.09 58.67)"/>
<ellipse cx="14.44" cy="37.48" rx="0.89" ry="1.1" fill="#1a1ac0" transform="rotate(49 14.44 37.48)"/>
<ellipse cx="73.18" cy="6.53" rx="0.87" ry="1.05" fill="#2c2cf8" transform="rotate(133 73.18 6.53)"/>
<ellipse cx="23.15" cy="38.39" rx="0.89" ry="1.08" fill="#1a1ac0" transform="rotate(138 23.15 38.39)"/>
<ellipse cx="63.83" cy="44.05" rx="0.9" ry="1.13" fill="#2c2cf8" transform="rotate(69 63.83 44.05)"/>
<ellipse cx="57.84" cy="5.39" rx="0.85" ry="0.95" fill="#2222c8" transform="rotate(155 57.84 5.39)"/>
<ellipse cx="48.8" cy="51.77" rx="1.05" ry="1.46" fill="#2c2cf8" transform="rotate(95 48.8 51.77)"/>
<ellipse cx="38.6" cy="64.57" rx="0.83" ry="0.88" fill="#2626ee" transform="rotate(78 38.6 64.57)"/>
<ellipse cx="19.28" cy="13.67" rx="0.85" ry="0.99" fill="#1a1ac0" transform="rotate(108 19.28 13.67)"/>
<ellipse cx="69.8" cy="15.94" rx="0.97" ry="1.23" fill="#1818a8" transform="rotate(34 69.8 15.94)"/>
<ellipse cx="41.69" cy="51.64" rx="0.98" ry="1.05" fill="#2222c8" transform="rotate(165 41.69 51.64)"/>
<ellipse cx="52.34" cy="12.77" rx="0.89" ry="1.02" fill="#1818a8" transform="rotate(57 52.34 12.77)"/>
<ellipse cx="14.04" cy="29.59" rx="0.93" ry="0.93" fill="#b030c8" transform="rotate(49 14.04 29.59)"/>
<ellipse cx="51.94" cy="49.27" rx="0.89" ry="1.16" fill="#1a1ac0" transform="rotate(88 51.94 49.27)"/>
<ellipse cx="2.4" cy="4.81" rx="0.72" ry="0.77" fill="#3a6aff" transform="rotate(120 2.4 4.81)"/>
<ellipse cx="45.79" cy="24.82" rx="0.89" ry="0.92" fill="#2c2cf8" transform="rotate(31 45.79 24.82)"/>
<ellipse cx="55.75" cy="34.9" rx="0.96" ry="1.19" fill="#2626ee" transform="rotate(117 55.75 34.9)"/>
<ellipse cx="75.08" cy="68.79" rx="0.91" ry="1.26" fill="#3050f8" transform="rotate(51 75.08 68.79)"/>
<ellipse cx="61.88" cy="16.65" rx="1.01" ry="1.3" fill="#1818a8" transform="rotate(141 61.88 16.65)"/>
<ellipse cx="79.63" cy="57.81" rx="0.99" ry="1.21" fill="#2848e8" transform="rotate(145 79.63 57.81)"/>
<ellipse cx="43.15" cy="33.96" rx="0.86" ry="1.2" fill="#3a6aff" transform="rotate(46 43.15 33.96)"/>
<ellipse cx="70.43" cy="63.85" rx="1.01" ry="1.28" fill="#1a1ac0" transform="rotate(78 70.43 63.85)"/>
<ellipse cx="31.3" cy="71.03" rx="0.82" ry="0.95" fill="#2038e0" transform="rotate(82 31.3 71.03)"/>
<ellipse cx="45.1" cy="58.71" rx="0.96" ry="0.99" fill="#1616b0" transform="rotate(104 45.1 58.71)"/>
<ellipse cx="32.23" cy="33.5" rx="0.99" ry="1.01" fill="#2c2cf8" transform="rotate(1 32.23 33.5)"/>
<ellipse cx="16.81" cy="64.72" rx="0.82" ry="0.91" fill="#2038e0" transform="rotate(52 16.81 64.72)"/>
<ellipse cx="61.8" cy="40.97" rx="0.96" ry="1" fill="#c02890" transform="rotate(58 61.8 40.97)"/>
<ellipse cx="19.4" cy="20.56" rx="0.79" ry="1.01" fill="#1a1ac0" transform="rotate(117 19.4 20.56)"/>
<ellipse cx="79.63" cy="21.29" rx="1.02" ry="1.27" fill="#a030c0" transform="rotate(36 79.63 21.29)"/>
<ellipse cx="52.44" cy="77.06" rx="0.86" ry="0.86" fill="#2020e0" transform="rotate(178 52.44 77.06)"/>
<ellipse cx="17.78" cy="45.77" rx="0.92" ry="1.08" fill="#c828a8" transform="rotate(73 17.78 45.77)"/>
<ellipse cx="36.32" cy="44.81" rx="0.98" ry="1.05" fill="#2222c8" transform="rotate(143 36.32 44.81)"/>
<ellipse cx="29.62" cy="28.02" rx="1" ry="1.07" fill="#d03cb8" transform="rotate(51 29.62 28.02)"/>
<ellipse cx="31.24" cy="78.98" rx="0.85" ry="1.15" fill="#2038e0" transform="rotate(122 31.24 78.98)"/>
<ellipse cx="39.54" cy="34.85" rx="0.81" ry="1.09" fill="#3050f8" transform="rotate(118 39.54 34.85)"/>
<ellipse cx="27.76" cy="30.2" rx="0.75" ry="0.89" fill="#3a6aff" transform="rotate(76 27.76 30.2)"/>
<ellipse cx="64.97" cy="14.71" rx="0.86" ry="0.91" fill="#2c2cf8" transform="rotate(132 64.97 14.71)"/>
<ellipse cx="27.04" cy="27.43" rx="1.02" ry="1.34" fill="#2038e0" transform="rotate(149 27.04 27.43)"/>
<ellipse cx="34.38" cy="72.48" rx="0.82" ry="0.98" fill="#1a1ac0" transform="rotate(105 34.38 72.48)"/>
<ellipse cx="49" cy="63.23" rx="0.91" ry="1.09" fill="#1a1ac0" transform="rotate(15 49 63.23)"/>
<ellipse cx="-0.06" cy="48.64" rx="1.07" ry="1.4" fill="#b02088" transform="rotate(95 -0.06 48.64)"/>
<ellipse cx="28.15" cy="63.69" rx="0.79" ry="0.93" fill="#2020e0" transform="rotate(39 28.15 63.69)"/>
<ellipse cx="6.4" cy="29.99" rx="0.82" ry="0.87" fill="#2038e0" transform="rotate(16 6.4 29.99)"/>
<ellipse cx="23.21" cy="56.34" rx="0.97" ry="1.21" fill="#2848e8" transform="rotate(28 23.21 56.34)"/>
<ellipse cx="20.94" cy="69.06" rx="0.92" ry="1.26" fill="#1c1cd0" transform="rotate(24 20.94 69.06)"/>
<ellipse cx="67.28" cy="34.62" rx="0.76" ry="0.84" fill="#3a6aff" transform="rotate(28 67.28 34.62)"/>
<ellipse cx="70.92" cy="0.63" rx="0.86" ry="1.06" fill="#2848e8" transform="rotate(104 70.92 0.63)"/>
<ellipse cx="10.34" cy="43.79" rx="0.91" ry="1.18" fill="#3a6aff" transform="rotate(141 10.34 43.79)"/>
<ellipse cx="-0.6" cy="60.07" rx="0.95" ry="1.05" fill="#1212a0" transform="rotate(157 -0.6 60.07)"/>
<ellipse cx="31.06" cy="49.93" rx="0.96" ry="1.24" fill="#1a1ac0" transform="rotate(178 31.06 49.93)"/>
<ellipse cx="32.5" cy="4.71" rx="0.87" ry="0.97" fill="#2038e0" transform="rotate(22 32.5 4.71)"/>
<ellipse cx="33.94" cy="66.43" rx="0.89" ry="1.17" fill="#3a6aff" transform="rotate(28 33.94 66.43)"/>
<ellipse cx="44.88" cy="44.68" rx="0.82" ry="0.83" fill="#2c2cf8" transform="rotate(5 44.88 44.68)"/>
<ellipse cx="21.07" cy="8.57" rx="0.96" ry="1.29" fill="#c02890" transform="rotate(72 21.07 8.57)"/>
<ellipse cx="48.17" cy="16.94" rx="0.89" ry="1.16" fill="#2848e8" transform="rotate(104 48.17 16.94)"/>
<ellipse cx="69.33" cy="11.47" rx="1" ry="1.21" fill="#2c2cf8" transform="rotate(114 69.33 11.47)"/>
<ellipse cx="3.91" cy="29.3" rx="0.97" ry="1.3" fill="#2626ee" transform="rotate(108 3.91 29.3)"/>
<ellipse cx="51.72" cy="44.33" rx="0.81" ry="0.92" fill="#1c1cd0" transform="rotate(140 51.72 44.33)"/>
<ellipse cx="12.42" cy="2.22" rx="0.92" ry="0.98" fill="#3a6aff" transform="rotate(114 12.42 2.22)"/>
<ellipse cx="78.17" cy="6.53" rx="0.78" ry="0.84" fill="#3050f8" transform="rotate(135 78.17 6.53)"/>
<ellipse cx="10.24" cy="7.44" rx="1.09" ry="1.09" fill="#a030c0" transform="rotate(54 10.24 7.44)"/>
<ellipse cx="44.03" cy="38.65" rx="0.86" ry="0.86" fill="#1616b0" transform="rotate(25 44.03 38.65)"/>
<ellipse cx="7.88" cy="26.35" rx="1.04" ry="1.18" fill="#2a2aff" transform="rotate(135 7.88 26.35)"/>
<ellipse cx="7.37" cy="56.81" rx="0.86" ry="0.92" fill="#1616b0" transform="rotate(58 7.37 56.81)"/>
<ellipse cx="73.98" cy="3.81" rx="0.75" ry="0.94" fill="#2020e0" transform="rotate(56 73.98 3.81)"/>
<ellipse cx="35.33" cy="60.67" rx="0.99" ry="1.39" fill="#1616b0" transform="rotate(175 35.33 60.67)"/>
<ellipse cx="67.11" cy="8.98" rx="1.08" ry="1.35" fill="#b02088" transform="rotate(83 67.11 8.98)"/>
<ellipse cx="3.24" cy="54.04" rx="0.76" ry="0.91" fill="#1616b0" transform="rotate(83 3.24 54.04)"/>
<ellipse cx="24.59" cy="29.42" rx="1.03" ry="1.2" fill="#2020e0" transform="rotate(59 24.59 29.42)"/>
<ellipse cx="70.25" cy="26.25" rx="0.85" ry="1.13" fill="#1616b0" transform="rotate(69 70.25 26.25)"/>
<ellipse cx="39.4" cy="6.71" rx="0.95" ry="0.95" fill="#1a1ac0" transform="rotate(178 39.4 6.71)"/>
<ellipse cx="77.25" cy="28.78" rx="0.88" ry="0.98" fill="#2c2cf8" transform="rotate(99 77.25 28.78)"/>
<ellipse cx="48.29" cy="72.2" rx="0.87" ry="0.91" fill="#1818a8" transform="rotate(117 48.29 72.2)"/>
<ellipse cx="79.54" cy="43" rx="0.76" ry="0.83" fill="#2626ee" transform="rotate(33 79.54 43)"/>
<ellipse cx="60.69" cy="34.18" rx="0.95" ry="1.12" fill="#1818a8" transform="rotate(147 60.69 34.18)"/>
<ellipse cx="48.83" cy="13.79" rx="1.19" ry="1.41" fill="#c828a8" transform="rotate(47 48.83 13.79)"/>
<ellipse cx="27.08" cy="0.45" rx="0.91" ry="1.11" fill="#1212a0" transform="rotate(99 27.08 0.45)"/>
<ellipse cx="6.16" cy="22.71" rx="0.99" ry="1.26" fill="#3a6aff" transform="rotate(129 6.16 22.71)"/>
<ellipse cx="0.77" cy="63.26" rx="1.01" ry="1.28" fill="#1212a0" transform="rotate(89 0.77 63.26)"/>
<ellipse cx="56.41" cy="75.8" rx="0.9" ry="1.01" fill="#2c2cf8" transform="rotate(23 56.41 75.8)"/>
<ellipse cx="5.77" cy="75.28" rx="0.8" ry="0.89" fill="#2a2aff" transform="rotate(73 5.77 75.28)"/>
<ellipse cx="8.31" cy="35.97" rx="0.86" ry="1.2" fill="#2c2cf8" transform="rotate(48 8.31 35.97)"/>
<ellipse cx="47.09" cy="1.44" rx="0.87" ry="0.99" fill="#d03cb8" transform="rotate(17 47.09 1.44)"/>
<ellipse cx="12.86" cy="12.52" rx="0.8" ry="0.94" fill="#1818a8" transform="rotate(32 12.86 12.52)"/>
<ellipse cx="62.46" cy="30.15" rx="1.03" ry="1.17" fill="#3a6aff" transform="rotate(56 62.46 30.15)"/>
<ellipse cx="53.55" cy="40.81" rx="1.18" ry="1.64" fill="#b02088" transform="rotate(111 53.55 40.81)"/>
<ellipse cx="37.97" cy="3.03" rx="1" ry="1.31" fill="#2848e8" transform="rotate(12 37.97 3.03)"/>
<ellipse cx="39.94" cy="67.41" rx="0.96" ry="1.24" fill="#1a1ac0" transform="rotate(122 39.94 67.41)"/>
<ellipse cx="55.44" cy="27.58" rx="1" ry="1.35" fill="#2848e8" transform="rotate(38 55.44 27.58)"/>
<ellipse cx="70.82" cy="8.91" rx="0.92" ry="1.02" fill="#1a1ac0" transform="rotate(118 70.82 8.91)"/>
<ellipse cx="74.54" cy="51.44" rx="0.8" ry="1.12" fill="#2c2cf8" transform="rotate(128 74.54 51.44)"/>
<ellipse cx="33.08" cy="44.05" rx="0.88" ry="0.99" fill="#2626ee" transform="rotate(160 33.08 44.05)"/>
<ellipse cx="40.66" cy="4.38" rx="1" ry="1.36" fill="#1616b0" transform="rotate(30 40.66 4.38)"/>
<ellipse cx="-0.15" cy="33.29" rx="0.88" ry="0.88" fill="#2038e0" transform="rotate(117 -0.15 33.29)"/>
<ellipse cx="61.1" cy="77.01" rx="0.8" ry="0.88" fill="#2c2cf8" transform="rotate(164 61.1 77.01)"/>
<ellipse cx="54.49" cy="61.59" rx="1.01" ry="1.28" fill="#2626ee" transform="rotate(113 54.49 61.59)"/>
<ellipse cx="43.72" cy="17.46" rx="0.74" ry="0.99" fill="#2c2cf8" transform="rotate(96 43.72 17.46)"/>
<ellipse cx="52.95" cy="26.31" rx="0.9" ry="0.99" fill="#1616b0" transform="rotate(73 52.95 26.31)"/>
<ellipse cx="33.8" cy="2.51" rx="0.91" ry="1.21" fill="#1212a0" transform="rotate(144 33.8 2.51)"/>
<ellipse cx="39.97" cy="18.88" rx="0.81" ry="1" fill="#3050f8" transform="rotate(94 39.97 18.88)"/>
<ellipse cx="54.14" cy="32.8" rx="0.84" ry="0.96" fill="#1c1cd0" transform="rotate(71 54.14 32.8)"/>
<ellipse cx="50.43" cy="7.15" rx="0.83" ry="0.85" fill="#3a6aff" transform="rotate(31 50.43 7.15)"/>
<ellipse cx="9.72" cy="29.66" rx="0.95" ry="1.3" fill="#3050f8" transform="rotate(120 9.72 29.66)"/>
<ellipse cx="7.08" cy="-0.04" rx="0.98" ry="1.21" fill="#1616b0" transform="rotate(119 7.08 -0.04)"/>
<ellipse cx="40.39" cy="44.1" rx="0.77" ry="0.83" fill="#2c2cf8" transform="rotate(115 40.39 44.1)"/>
<ellipse cx="0.9" cy="75.71" rx="0.93" ry="1.03" fill="#2a2aff" transform="rotate(76 0.9 75.71)"/>
<ellipse cx="42.68" cy="60.05" rx="0.96" ry="0.99" fill="#1616b0" transform="rotate(61 42.68 60.05)"/>
<ellipse cx="53.11" cy="68.6" rx="1" ry="1.03" fill="#1212a0" transform="rotate(158 53.11 68.6)"/>
<ellipse cx="11.76" cy="51.27" rx="0.75" ry="1.03" fill="#2020e0" transform="rotate(134 11.76 51.27)"/>
<ellipse cx="73.18" cy="39" rx="0.82" ry="0.93" fill="#2a2aff" transform="rotate(176 73.18 39)"/>
<ellipse cx="38.74" cy="47.96" rx="0.96" ry="1.14" fill="#1212a0" transform="rotate(128 38.74 47.96)"/>
<ellipse cx="48.91" cy="54.83" rx="0.73" ry="0.8" fill="#1212a0" transform="rotate(10 48.91 54.83)"/>
<ellipse cx="34.47" cy="9.26" rx="0.93" ry="1.19" fill="#2626ee" transform="rotate(66 34.47 9.26)"/>
<ellipse cx="39.51" cy="54.52" rx="0.81" ry="1.09" fill="#2020e0" transform="rotate(140 39.51 54.52)"/>
<ellipse cx="26.79" cy="78.02" rx="0.91" ry="1.14" fill="#3a6aff" transform="rotate(110 26.79 78.02)"/>
<ellipse cx="30" cy="-0.29" rx="0.98" ry="1.28" fill="#2a2aff" transform="rotate(89 30 -0.29)"/>
<ellipse cx="56.95" cy="1.44" rx="0.84" ry="1.07" fill="#1a1ac0" transform="rotate(20 56.95 1.44)"/>
<ellipse cx="15.06" cy="43.9" rx="0.82" ry="0.99" fill="#3050f8" transform="rotate(94 15.06 43.9)"/>
<ellipse cx="33.25" cy="41.41" rx="0.76" ry="0.98" fill="#2020e0" transform="rotate(103 33.25 41.41)"/>
<ellipse cx="31.93" cy="68.46" rx="0.94" ry="1.1" fill="#2038e0" transform="rotate(156 31.93 68.46)"/>
<ellipse cx="26.55" cy="13.97" rx="0.96" ry="1.33" fill="#2c2cf8" transform="rotate(14 26.55 13.97)"/>
<ellipse cx="60.93" cy="44.85" rx="0.82" ry="1.03" fill="#2848e8" transform="rotate(165 60.93 44.85)"/>
<ellipse cx="57.42" cy="48.18" rx="0.91" ry="1.09" fill="#2038e0" transform="rotate(159 57.42 48.18)"/>
<ellipse cx="12.91" cy="53.84" rx="0.94" ry="1" fill="#1616b0" transform="rotate(16 12.91 53.84)"/>
<ellipse cx="11.92" cy="37.25" rx="0.98" ry="1.28" fill="#1c1cd0" transform="rotate(133 11.92 37.25)"/>
<ellipse cx="64.61" cy="21.95" rx="0.85" ry="0.93" fill="#3050f8" transform="rotate(134 64.61 21.95)"/>
<ellipse cx="64.88" cy="74.04" rx="0.85" ry="0.87" fill="#1818a8" transform="rotate(152 64.88 74.04)"/>
<ellipse cx="74.28" cy="10.16" rx="1" ry="1.26" fill="#2020e0" transform="rotate(4 74.28 10.16)"/>
<ellipse cx="47.76" cy="76.94" rx="0.99" ry="1.36" fill="#2038e0" transform="rotate(162 47.76 76.94)"/>
<ellipse cx="53.69" cy="52.59" rx="0.92" ry="1.2" fill="#2a2aff" transform="rotate(179 53.69 52.59)"/>
<ellipse cx="7.01" cy="6.95" rx="0.9" ry="1.04" fill="#2848e8" transform="rotate(131 7.01 6.95)"/>
<ellipse cx="13.66" cy="40.05" rx="0.86" ry="0.92" fill="#3a6aff" transform="rotate(13 13.66 40.05)"/>
<ellipse cx="37.95" cy="61.32" rx="0.85" ry="1.12" fill="#1212a0" transform="rotate(80 37.95 61.32)"/>
<ellipse cx="-0.29" cy="36.85" rx="0.76" ry="0.84" fill="#2222c8" transform="rotate(162 -0.29 36.85)"/>
<ellipse cx="77.59" cy="46.86" rx="0.99" ry="1.09" fill="#3a6aff" transform="rotate(85 77.59 46.86)"/>
<ellipse cx="43.77" cy="62.96" rx="1.1" ry="1.23" fill="#c02890" transform="rotate(134 43.77 62.96)"/>
<ellipse cx="72.74" cy="73.26" rx="0.84" ry="0.91" fill="#3050f8" transform="rotate(169 72.74 73.26)"/>
<ellipse cx="35.73" cy="76.97" rx="0.84" ry="1.03" fill="#2a2aff" transform="rotate(28 35.73 76.97)"/>
<ellipse cx="0.37" cy="16.03" rx="0.95" ry="1.1" fill="#2848e8" transform="rotate(171 0.37 16.03)"/>
<ellipse cx="1.29" cy="52.03" rx="1" ry="1.3" fill="#2626ee" transform="rotate(176 1.29 52.03)"/>
<ellipse cx="56.36" cy="44.47" rx="0.77" ry="0.91" fill="#1a1ac0" transform="rotate(47 56.36 44.47)"/>
<ellipse cx="23.57" cy="21.92" rx="0.76" ry="0.81" fill="#1c1cd0" transform="rotate(158 23.57 21.92)"/>
<ellipse cx="5.54" cy="52.08" rx="0.94" ry="1.27" fill="#2c2cf8" transform="rotate(36 5.54 52.08)"/>
<ellipse cx="27.22" cy="19.73" rx="1" ry="1.23" fill="#2038e0" transform="rotate(65 27.22 19.73)"/>
<ellipse cx="78.53" cy="33.75" rx="1.01" ry="1.05" fill="#2a2aff" transform="rotate(168 78.53 33.75)"/>
<ellipse cx="45.2" cy="53.25" rx="0.83" ry="0.88" fill="#1a1ac0" transform="rotate(30 45.2 53.25)"/>
<ellipse cx="47.98" cy="9.18" rx="0.87" ry="0.97" fill="#1c1cd0" transform="rotate(53 47.98 9.18)"/>
<ellipse cx="23.82" cy="26.75" rx="0.8" ry="0.86" fill="#2c2cf8" transform="rotate(21 23.82 26.75)"/>
<ellipse cx="59.99" cy="20.12" rx="0.82" ry="1.05" fill="#1616b0" transform="rotate(73 59.99 20.12)"/>
</g><rect x="69.2" y="76" width="9" height="1.5" fill="#ddd"/>
</svg>
<rect x="385" y="36" width="79.4" height="78" fill="#000"/>
<svg x="385" y="36" width="79.4" height="78" overflow="hidden"><g filter="url(#mb)">
<ellipse cx="42.03" cy="55.67" rx="0.85" ry="1.04" fill="#d03cb8" transform="rotate(162 42.03 55.67)"/>
<ellipse cx="38.2" cy="10.64" rx="0.76" ry="1.05" fill="#1818a8" transform="rotate(120 38.2 10.64)"/>
<ellipse cx="6.87" cy="64.03" rx="0.91" ry="0.98" fill="#2626ee" transform="rotate(11 6.87 64.03)"/>
<ellipse cx="79.33" cy="44.06" rx="0.84" ry="1.13" fill="#2848e8" transform="rotate(17 79.33 44.06)"/>
<ellipse cx="56.69" cy="22.34" rx="1.03" ry="1.41" fill="#c02890" transform="rotate(66 56.69 22.34)"/>
<ellipse cx="47.59" cy="30.52" rx="0.91" ry="1.06" fill="#1616b0" transform="rotate(122 47.59 30.52)"/>
<ellipse cx="35.16" cy="58.96" rx="1" ry="1.39" fill="#1a1ac0" transform="rotate(5 35.16 58.96)"/>
<ellipse cx="70.03" cy="42.48" rx="1.16" ry="1.17" fill="#b02088" transform="rotate(90 70.03 42.48)"/>
<ellipse cx="49.67" cy="17.32" rx="1.04" ry="1.23" fill="#1818a8" transform="rotate(179 49.67 17.32)"/>
<ellipse cx="46.09" cy="50.7" rx="1.01" ry="1.09" fill="#1818a8" transform="rotate(82 46.09 50.7)"/>
<ellipse cx="37.86" cy="25.46" rx="0.73" ry="0.83" fill="#3a6aff" transform="rotate(7 37.86 25.46)"/>
<ellipse cx="54.02" cy="25.22" rx="1.01" ry="1.41" fill="#2626ee" transform="rotate(162 54.02 25.22)"/>
<ellipse cx="24.19" cy="72.57" rx="0.79" ry="0.82" fill="#2a2aff" transform="rotate(4 24.19 72.57)"/>
<ellipse cx="28.58" cy="64.35" rx="1.02" ry="1.25" fill="#2020e0" transform="rotate(144 28.58 64.35)"/>
<ellipse cx="50.37" cy="4.34" rx="1.02" ry="1.15" fill="#2c2cf8" transform="rotate(25 50.37 4.34)"/>
<ellipse cx="70.77" cy="49.15" rx="0.85" ry="0.98" fill="#2626ee" transform="rotate(86 70.77 49.15)"/>
<ellipse cx="22.3" cy="56.95" rx="0.82" ry="1.09" fill="#2c2cf8" transform="rotate(139 22.3 56.95)"/>
<ellipse cx="31.54" cy="46.52" rx="1.04" ry="1.39" fill="#2a2aff" transform="rotate(65 31.54 46.52)"/>
<ellipse cx="63.67" cy="32.62" rx="0.94" ry="1.03" fill="#3050f8" transform="rotate(91 63.67 32.62)"/>
<ellipse cx="62.05" cy="70.6" rx="0.99" ry="1.32" fill="#1a1ac0" transform="rotate(97 62.05 70.6)"/>
<ellipse cx="43.49" cy="68.74" rx="0.77" ry="0.91" fill="#2038e0" transform="rotate(174 43.49 68.74)"/>
<ellipse cx="-0.25" cy="38.02" rx="1.01" ry="1.07" fill="#1a1ac0" transform="rotate(37 -0.25 38.02)"/>
<ellipse cx="26.15" cy="18.35" rx="0.98" ry="1.16" fill="#2a2aff" transform="rotate(17 26.15 18.35)"/>
<ellipse cx="54.13" cy="67.87" rx="1.03" ry="1.39" fill="#1212a0" transform="rotate(65 54.13 67.87)"/>
<ellipse cx="43.8" cy="7.99" rx="0.9" ry="1.19" fill="#b02088" transform="rotate(151 43.8 7.99)"/>
<ellipse cx="75.04" cy="41.35" rx="0.85" ry="1.01" fill="#c02890" transform="rotate(137 75.04 41.35)"/>
<ellipse cx="62.79" cy="59.09" rx="0.78" ry="0.82" fill="#2626ee" transform="rotate(145 62.79 59.09)"/>
<ellipse cx="61.49" cy="62.54" rx="1.01" ry="1.21" fill="#d02898" transform="rotate(132 61.49 62.54)"/>
<ellipse cx="46.17" cy="37.14" rx="0.84" ry="1.15" fill="#b02088" transform="rotate(82 46.17 37.14)"/>
<ellipse cx="53.26" cy="51.29" rx="0.98" ry="0.99" fill="#2222c8" transform="rotate(34 53.26 51.29)"/>
<ellipse cx="41.48" cy="75.22" rx="0.82" ry="1" fill="#1212a0" transform="rotate(2 41.48 75.22)"/>
<ellipse cx="25.46" cy="27.53" rx="0.98" ry="1.32" fill="#2848e8" transform="rotate(43 25.46 27.53)"/>
<ellipse cx="24.55" cy="35.29" rx="0.81" ry="1.09" fill="#1818a8" transform="rotate(80 24.55 35.29)"/>
<ellipse cx="21.31" cy="34.18" rx="0.95" ry="1.19" fill="#c02890" transform="rotate(92 21.31 34.18)"/>
<ellipse cx="25.38" cy="52.3" rx="0.8" ry="0.82" fill="#2c2cf8" transform="rotate(105 25.38 52.3)"/>
<ellipse cx="23.25" cy="76.2" rx="0.78" ry="1" fill="#3050f8" transform="rotate(41 23.25 76.2)"/>
<ellipse cx="52.88" cy="40.9" rx="0.85" ry="1.17" fill="#2c2cf8" transform="rotate(26 52.88 40.9)"/>
<ellipse cx="56.04" cy="50.29" rx="1.05" ry="1.45" fill="#2038e0" transform="rotate(68 56.04 50.29)"/>
<ellipse cx="10.55" cy="59.07" rx="0.81" ry="0.96" fill="#1212a0" transform="rotate(130 10.55 59.07)"/>
<ellipse cx="78.42" cy="49.86" rx="0.99" ry="0.99" fill="#1616b0" transform="rotate(29 78.42 49.86)"/>
<ellipse cx="59.66" cy="76.05" rx="0.86" ry="1.07" fill="#e040b0" transform="rotate(87 59.66 76.05)"/>
<ellipse cx="75.33" cy="33.06" rx="0.97" ry="1.33" fill="#1c1cd0" transform="rotate(34 75.33 33.06)"/>
<ellipse cx="52.57" cy="2.47" rx="0.98" ry="1.08" fill="#1c1cd0" transform="rotate(46 52.57 2.47)"/>
<ellipse cx="36.49" cy="42.56" rx="0.8" ry="1.03" fill="#1c1cd0" transform="rotate(176 36.49 42.56)"/>
<ellipse cx="58.04" cy="64.47" rx="0.82" ry="0.99" fill="#3a6aff" transform="rotate(112 58.04 64.47)"/>
<ellipse cx="53.36" cy="14.78" rx="0.88" ry="0.9" fill="#2a2aff" transform="rotate(126 53.36 14.78)"/>
<ellipse cx="76.84" cy="16.07" rx="1.04" ry="1.16" fill="#2222c8" transform="rotate(165 76.84 16.07)"/>
<ellipse cx="16.72" cy="68.46" rx="0.97" ry="1.27" fill="#2038e0" transform="rotate(97 16.72 68.46)"/>
<ellipse cx="47.1" cy="67.08" rx="0.75" ry="1.04" fill="#2c2cf8" transform="rotate(59 47.1 67.08)"/>
<ellipse cx="73.56" cy="61.16" rx="0.81" ry="1.13" fill="#2020e0" transform="rotate(175 73.56 61.16)"/>
<ellipse cx="18.21" cy="41.98" rx="0.89" ry="1.17" fill="#2a2aff" transform="rotate(179 18.21 41.98)"/>
<ellipse cx="63.29" cy="51.18" rx="0.76" ry="0.92" fill="#3050f8" transform="rotate(4 63.29 51.18)"/>
<ellipse cx="47.32" cy="57.18" rx="0.92" ry="1.02" fill="#b030c8" transform="rotate(107 47.32 57.18)"/>
<ellipse cx="8.9" cy="24.5" rx="0.91" ry="1.14" fill="#1616b0" transform="rotate(102 8.9 24.5)"/>
<ellipse cx="59.02" cy="-0.1" rx="0.97" ry="1.27" fill="#b02088" transform="rotate(105 59.02 -0.1)"/>
<ellipse cx="80.32" cy="54.67" rx="0.79" ry="1.07" fill="#2848e8" transform="rotate(27 80.32 54.67)"/>
<ellipse cx="15.26" cy="18.23" rx="0.75" ry="0.84" fill="#1a1ac0" transform="rotate(111 15.26 18.23)"/>
<ellipse cx="41.72" cy="28.26" rx="0.77" ry="0.84" fill="#1c1cd0" transform="rotate(122 41.72 28.26)"/>
<ellipse cx="74.42" cy="51.21" rx="1.14" ry="1.41" fill="#c02890" transform="rotate(83 74.42 51.21)"/>
<ellipse cx="4.13" cy="33.68" rx="0.88" ry="1.04" fill="#e040b0" transform="rotate(33 4.13 33.68)"/>
<ellipse cx="50.33" cy="31.23" rx="1.2" ry="1.26" fill="#d02898" transform="rotate(34 50.33 31.23)"/>
<ellipse cx="45.07" cy="22.95" rx="0.99" ry="1.11" fill="#d03cb8" transform="rotate(115 45.07 22.95)"/>
<ellipse cx="29.08" cy="45.2" rx="0.97" ry="1.35" fill="#2626ee" transform="rotate(136 29.08 45.2)"/>
<ellipse cx="29.59" cy="57.55" rx="0.92" ry="0.93" fill="#1c1cd0" transform="rotate(3 29.59 57.55)"/>
<ellipse cx="66.59" cy="58.73" rx="1.01" ry="1.1" fill="#2038e0" transform="rotate(67 66.59 58.73)"/>
<ellipse cx="11.54" cy="67.89" rx="1.05" ry="1.12" fill="#1a1ac0" transform="rotate(152 11.54 67.89)"/>
<ellipse cx="13.85" cy="71.91" rx="0.97" ry="1.1" fill="#2c2cf8" transform="rotate(137 13.85 71.91)"/>
<ellipse cx="64.3" cy="17.69" rx="1.1" ry="1.46" fill="#a030c0" transform="rotate(63 64.3 17.69)"/>
<ellipse cx="2.09" cy="54.71" rx="1.01" ry="1.38" fill="#1a1ac0" transform="rotate(160 2.09 54.71)"/>
<ellipse cx="69.76" cy="71.65" rx="0.8" ry="1.12" fill="#3050f8" transform="rotate(107 69.76 71.65)"/>
<ellipse cx="67.66" cy="36.1" rx="0.98" ry="1.09" fill="#1a1ac0" transform="rotate(92 67.66 36.1)"/>
<ellipse cx="31.9" cy="64.59" rx="0.77" ry="0.87" fill="#3050f8" transform="rotate(168 31.9 64.59)"/>
<ellipse cx="11.97" cy="45.99" rx="0.96" ry="1.18" fill="#2c2cf8" transform="rotate(69 11.97 45.99)"/>
<ellipse cx="62.37" cy="42.27" rx="1.01" ry="1.04" fill="#2038e0" transform="rotate(106 62.37 42.27)"/>
<ellipse cx="52.51" cy="60.24" rx="0.8" ry="1.1" fill="#2222c8" transform="rotate(91 52.51 60.24)"/>
<ellipse cx="47.7" cy="26.97" rx="0.88" ry="1.18" fill="#2a2aff" transform="rotate(117 47.7 26.97)"/>
<ellipse cx="26.74" cy="77.09" rx="1.01" ry="1.37" fill="#2626ee" transform="rotate(147 26.74 77.09)"/>
<ellipse cx="40.4" cy="60.81" rx="0.81" ry="0.83" fill="#2848e8" transform="rotate(147 40.4 60.81)"/>
<ellipse cx="47.67" cy="12.18" rx="0.96" ry="1.19" fill="#2848e8" transform="rotate(99 47.67 12.18)"/>
<ellipse cx="49.28" cy="47.14" rx="1.05" ry="1.17" fill="#b030c8" transform="rotate(7 49.28 47.14)"/>
<ellipse cx="9.54" cy="40.6" rx="0.9" ry="0.93" fill="#2848e8" transform="rotate(64 9.54 40.6)"/>
<ellipse cx="26.65" cy="62.59" rx="0.89" ry="1.18" fill="#2020e0" transform="rotate(40 26.65 62.59)"/>
<ellipse cx="58.14" cy="42.95" rx="0.92" ry="0.97" fill="#d03cb8" transform="rotate(145 58.14 42.95)"/>
<ellipse cx="77.66" cy="36.17" rx="0.87" ry="0.89" fill="#1818a8" transform="rotate(157 77.66 36.17)"/>
<ellipse cx="67.95" cy="50.42" rx="1.01" ry="1.13" fill="#2038e0" transform="rotate(48 67.95 50.42)"/>
<ellipse cx="25.3" cy="45.62" rx="0.77" ry="0.95" fill="#1212a0" transform="rotate(137 25.3 45.62)"/>
<ellipse cx="70.81" cy="34.74" rx="0.76" ry="0.91" fill="#1212a0" transform="rotate(85 70.81 34.74)"/>
<ellipse cx="58.21" cy="12.11" rx="1.03" ry="1.35" fill="#1818a8" transform="rotate(160 58.21 12.11)"/>
<ellipse cx="13.67" cy="38.64" rx="0.93" ry="0.97" fill="#1212a0" transform="rotate(15 13.67 38.64)"/>
<ellipse cx="72.76" cy="75.99" rx="0.84" ry="1.1" fill="#1212a0" transform="rotate(144 72.76 75.99)"/>
<ellipse cx="68.5" cy="28.79" rx="1" ry="1.35" fill="#3a6aff" transform="rotate(58 68.5 28.79)"/>
<ellipse cx="71.32" cy="10.02" rx="0.89" ry="1.1" fill="#1c1cd0" transform="rotate(21 71.32 10.02)"/>
<ellipse cx="5.29" cy="48.85" rx="0.76" ry="0.97" fill="#2038e0" transform="rotate(51 5.29 48.85)"/>
<ellipse cx="17.53" cy="61.69" rx="1.04" ry="1.27" fill="#1616b0" transform="rotate(9 17.53 61.69)"/>
<ellipse cx="7.36" cy="76.44" rx="0.96" ry="1.2" fill="#2c2cf8" transform="rotate(81 7.36 76.44)"/>
<ellipse cx="62.39" cy="54.72" rx="0.72" ry="0.79" fill="#2a2aff" transform="rotate(13 62.39 54.72)"/>
<ellipse cx="29.57" cy="21" rx="0.83" ry="0.93" fill="#1c1cd0" transform="rotate(177 29.57 21)"/>
<ellipse cx="49.76" cy="0.84" rx="1.03" ry="1.35" fill="#3a6aff" transform="rotate(165 49.76 0.84)"/>
<ellipse cx="78.16" cy="40.22" rx="0.87" ry="1.12" fill="#2a2aff" transform="rotate(122 78.16 40.22)"/>
<ellipse cx="33.66" cy="69.04" rx="0.82" ry="1.09" fill="#2626ee" transform="rotate(171 33.66 69.04)"/>
<ellipse cx="70.09" cy="64.01" rx="0.82" ry="1.02" fill="#2038e0" transform="rotate(62 70.09 64.01)"/>
<ellipse cx="35.85" cy="11.57" rx="0.75" ry="0.93" fill="#1a1ac0" transform="rotate(169 35.85 11.57)"/>
<ellipse cx="17.25" cy="27.87" rx="1.03" ry="1.33" fill="#2038e0" transform="rotate(112 17.25 27.87)"/>
<ellipse cx="9.3" cy="34.8" rx="0.87" ry="1.01" fill="#2a2aff" transform="rotate(92 9.3 34.8)"/>
<ellipse cx="36.24" cy="72.03" rx="0.84" ry="0.97" fill="#1212a0" transform="rotate(98 36.24 72.03)"/>
<ellipse cx="59.89" cy="57.65" rx="0.72" ry="0.9" fill="#1212a0" transform="rotate(51 59.89 57.65)"/>
<ellipse cx="0.75" cy="61.6" rx="0.91" ry="1.21" fill="#1a1ac0" transform="rotate(70 0.75 61.6)"/>
<ellipse cx="19.19" cy="72.42" rx="0.81" ry="1.13" fill="#3a6aff" transform="rotate(130 19.19 72.42)"/>
<ellipse cx="56.5" cy="57.14" rx="0.86" ry="0.88" fill="#1818a8" transform="rotate(9 56.5 57.14)"/>
<ellipse cx="60.84" cy="39.04" rx="0.78" ry="1.07" fill="#1616b0" transform="rotate(168 60.84 39.04)"/>
<ellipse cx="37.73" cy="53.55" rx="0.78" ry="1" fill="#3a6aff" transform="rotate(59 37.73 53.55)"/>
<ellipse cx="63.46" cy="20.52" rx="0.82" ry="0.86" fill="#2626ee" transform="rotate(46 63.46 20.52)"/>
<ellipse cx="67.41" cy="19.87" rx="0.78" ry="0.85" fill="#1616b0" transform="rotate(100 67.41 19.87)"/>
<ellipse cx="22.1" cy="9.83" rx="0.9" ry="1.12" fill="#2626ee" transform="rotate(33 22.1 9.83)"/>
<ellipse cx="-0.81" cy="16.56" rx="1.04" ry="1.04" fill="#2c2cf8" transform="rotate(163 -0.81 16.56)"/>
<ellipse cx="4.59" cy="8.38" rx="0.79" ry="0.92" fill="#1212a0" transform="rotate(17 4.59 8.38)"/>
<ellipse cx="66.8" cy="11.73" rx="0.82" ry="0.86" fill="#1212a0" transform="rotate(66 66.8 11.73)"/>
<ellipse cx="62.01" cy="10.6" rx="0.95" ry="1.15" fill="#1212a0" transform="rotate(47 62.01 10.6)"/>
<ellipse cx="41.37" cy="65.85" rx="0.99" ry="1" fill="#2c2cf8" transform="rotate(132 41.37 65.85)"/>
<ellipse cx="30.92" cy="14.7" rx="0.73" ry="0.9" fill="#2222c8" transform="rotate(118 30.92 14.7)"/>
<ellipse cx="38.1" cy="65.11" rx="0.95" ry="1.03" fill="#b02088" transform="rotate(137 38.1 65.11)"/>
<ellipse cx="9.76" cy="71.68" rx="1.02" ry="1.27" fill="#1818a8" transform="rotate(31 9.76 71.68)"/>
<ellipse cx="20.08" cy="17.24" rx="0.75" ry="0.88" fill="#2020e0" transform="rotate(33 20.08 17.24)"/>
<ellipse cx="57" cy="1.66" rx="1.01" ry="1.22" fill="#2c2cf8" transform="rotate(89 57 1.66)"/>
<ellipse cx="8.36" cy="57.51" rx="0.84" ry="0.96" fill="#2a2aff" transform="rotate(1 8.36 57.51)"/>
<ellipse cx="57.61" cy="35.53" rx="0.98" ry="1.04" fill="#2222c8" transform="rotate(5 57.61 35.53)"/>
<ellipse cx="30.12" cy="24.64" rx="0.81" ry="1.06" fill="#1c1cd0" transform="rotate(116 30.12 24.64)"/>
<ellipse cx="76.41" cy="48.32" rx="0.79" ry="0.93" fill="#3a6aff" transform="rotate(60 76.41 48.32)"/>
<ellipse cx="65.94" cy="61.5" rx="1.05" ry="1.38" fill="#1212a0" transform="rotate(171 65.94 61.5)"/>
<ellipse cx="36.51" cy="78.19" rx="0.91" ry="1.07" fill="#3050f8" transform="rotate(105 36.51 78.19)"/>
<ellipse cx="77.37" cy="72.4" rx="0.91" ry="0.92" fill="#2a2aff" transform="rotate(21 77.37 72.4)"/>
<ellipse cx="18.66" cy="13.08" rx="0.88" ry="1.12" fill="#2c2cf8" transform="rotate(91 18.66 13.08)"/>
<ellipse cx="61.87" cy="65.64" rx="1.04" ry="1.27" fill="#2c2cf8" transform="rotate(17 61.87 65.64)"/>
<ellipse cx="59.35" cy="23.19" rx="0.77" ry="0.93" fill="#2020e0" transform="rotate(23 59.35 23.19)"/>
<ellipse cx="56.2" cy="26.59" rx="0.8" ry="0.88" fill="#1616b0" transform="rotate(120 56.2 26.59)"/>
<ellipse cx="69.41" cy="54.88" rx="0.76" ry="0.89" fill="#2848e8" transform="rotate(64 69.41 54.88)"/>
<ellipse cx="11.13" cy="36.57" rx="0.87" ry="1.19" fill="#1a1ac0" transform="rotate(15 11.13 36.57)"/>
<ellipse cx="23.52" cy="18.61" rx="1.17" ry="1.36" fill="#b030c8" transform="rotate(19 23.52 18.61)"/>
<ellipse cx="21.03" cy="51.16" rx="0.8" ry="1.1" fill="#3050f8" transform="rotate(151 21.03 51.16)"/>
<ellipse cx="52.11" cy="28.94" rx="0.91" ry="1.01" fill="#1616b0" transform="rotate(76 52.11 28.94)"/>
<ellipse cx="13.36" cy="53.2" rx="1.04" ry="1.39" fill="#2848e8" transform="rotate(162 13.36 53.2)"/>
<ellipse cx="31.4" cy="60.57" rx="1.04" ry="1.43" fill="#2626ee" transform="rotate(168 31.4 60.57)"/>
<ellipse cx="63.13" cy="28.31" rx="1.2" ry="1.47" fill="#d02898" transform="rotate(58 63.13 28.31)"/>
<ellipse cx="39.06" cy="21.57" rx="1.05" ry="1.07" fill="#2020e0" transform="rotate(169 39.06 21.57)"/>
<ellipse cx="32.43" cy="50.6" rx="0.93" ry="1" fill="#c02890" transform="rotate(21 32.43 50.6)"/>
<ellipse cx="39.63" cy="33.92" rx="0.83" ry="0.85" fill="#2a2aff" transform="rotate(160 39.63 33.92)"/>
<ellipse cx="65.71" cy="30.26" rx="0.88" ry="1.1" fill="#2222c8" transform="rotate(127 65.71 30.26)"/>
<ellipse cx="64.44" cy="46.46" rx="0.93" ry="1.03" fill="#2038e0" transform="rotate(166 64.44 46.46)"/>
<ellipse cx="22.59" cy="48.66" rx="1.02" ry="1.41" fill="#1616b0" transform="rotate(165 22.59 48.66)"/>
<ellipse cx="9.47" cy="28.4" rx="0.72" ry="0.88" fill="#2020e0" transform="rotate(162 9.47 28.4)"/>
<ellipse cx="78.58" cy="59.36" rx="0.95" ry="1.32" fill="#2020e0" transform="rotate(118 78.58 59.36)"/>
<ellipse cx="52.62" cy="71.66" rx="0.93" ry="1.06" fill="#2222c8" transform="rotate(62 52.62 71.66)"/>
<ellipse cx="52" cy="36.22" rx="0.92" ry="0.94" fill="#1818a8" transform="rotate(94 52 36.22)"/>
<ellipse cx="54.05" cy="20.76" rx="1.03" ry="1.05" fill="#2a2aff" transform="rotate(96 54.05 20.76)"/>
<ellipse cx="43.36" cy="42.14" rx="0.96" ry="1.29" fill="#1212a0" transform="rotate(1 43.36 42.14)"/>
<ellipse cx="75.14" cy="25.31" rx="0.83" ry="1.05" fill="#1a1ac0" transform="rotate(12 75.14 25.31)"/>
<ellipse cx="27.7" cy="55.18" rx="0.85" ry="1.1" fill="#1c1cd0" transform="rotate(157 27.7 55.18)"/>
<ellipse cx="44.28" cy="13.45" rx="1.14" ry="1.27" fill="#a030c0" transform="rotate(148 44.28 13.45)"/>
<ellipse cx="40.72" cy="49.82" rx="1.18" ry="1.47" fill="#b02088" transform="rotate(7 40.72 49.82)"/>
<ellipse cx="11.5" cy="65.1" rx="0.91" ry="1.24" fill="#2c2cf8" transform="rotate(17 11.5 65.1)"/>
<ellipse cx="73.98" cy="5.09" rx="1.02" ry="1.32" fill="#1c1cd0" transform="rotate(19 73.98 5.09)"/>
<ellipse cx="4.78" cy="37.62" rx="1.09" ry="1.4" fill="#b02088" transform="rotate(35 4.78 37.62)"/>
<ellipse cx="71.69" cy="66.14" rx="0.97" ry="1.3" fill="#2626ee" transform="rotate(133 71.69 66.14)"/>
<ellipse cx="46.74" cy="42.48" rx="0.81" ry="1.13" fill="#3050f8" transform="rotate(97 46.74 42.48)"/>
<ellipse cx="34.17" cy="62.12" rx="1.01" ry="1.31" fill="#1a1ac0" transform="rotate(21 34.17 62.12)"/>
<ellipse cx="65.48" cy="69.78" rx="1.02" ry="1.41" fill="#2222c8" transform="rotate(54 65.48 69.78)"/>
<ellipse cx="65.91" cy="7.27" rx="0.82" ry="1.12" fill="#1616b0" transform="rotate(52 65.91 7.27)"/>
<ellipse cx="17.23" cy="37.3" rx="0.96" ry="1.2" fill="#2038e0" transform="rotate(87 17.23 37.3)"/>
<ellipse cx="37.52" cy="17.13" rx="1.04" ry="1.25" fill="#a030c0" transform="rotate(35 37.52 17.13)"/>
<ellipse cx="49.66" cy="53.28" rx="0.97" ry="0.98" fill="#2c2cf8" transform="rotate(126 49.66 53.28)"/>
<ellipse cx="70.13" cy="16.13" rx="1.02" ry="1.37" fill="#1c1cd0" transform="rotate(174 70.13 16.13)"/>
<ellipse cx="40.53" cy="25.21" rx="0.94" ry="1.29" fill="#2a2aff" transform="rotate(13 40.53 25.21)"/>
<ellipse cx="24.36" cy="54.78" rx="1.07" ry="1.41" fill="#b02088" transform="rotate(44 24.36 54.78)"/>
<ellipse cx="45.77" cy="2.09" rx="0.86" ry="0.86" fill="#1818a8" transform="rotate(162 45.77 2.09)"/>
<ellipse cx="54.43" cy="31.01" rx="0.95" ry="1.3" fill="#2626ee" transform="rotate(52 54.43 31.01)"/>
<ellipse cx="10.07" cy="62.82" rx="1.02" ry="1.42" fill="#3a6aff" transform="rotate(77 10.07 62.82)"/>
<ellipse cx="27.24" cy="36.93" rx="0.85" ry="1.02" fill="#3a6aff" transform="rotate(73 27.24 36.93)"/>
<ellipse cx="35.08" cy="38.77" rx="0.97" ry="1.35" fill="#b02088" transform="rotate(114 35.08 38.77)"/>
<ellipse cx="69.53" cy="6.01" rx="0.89" ry="0.9" fill="#2038e0" transform="rotate(68 69.53 6.01)"/>
<ellipse cx="44.51" cy="65.8" rx="0.91" ry="1.24" fill="#2222c8" transform="rotate(114 44.51 65.8)"/>
<ellipse cx="53.8" cy="56.28" rx="0.78" ry="0.82" fill="#3050f8" transform="rotate(125 53.8 56.28)"/>
<ellipse cx="5.83" cy="55.19" rx="0.76" ry="0.93" fill="#1a1ac0" transform="rotate(132 5.83 55.19)"/>
<ellipse cx="43.53" cy="76.75" rx="0.93" ry="1.26" fill="#3050f8" transform="rotate(114 43.53 76.75)"/>
<ellipse cx="39.3" cy="44.19" rx="0.95" ry="1.15" fill="#2020e0" transform="rotate(80 39.3 44.19)"/>
<ellipse cx="16.92" cy="65.31" rx="0.76" ry="1.02" fill="#1212a0" transform="rotate(154 16.92 65.31)"/>
<ellipse cx="8.62" cy="53.47" rx="0.79" ry="0.88" fill="#3a6aff" transform="rotate(86 8.62 53.47)"/>
<ellipse cx="45.42" cy="59.63" rx="0.86" ry="0.94" fill="#2038e0" transform="rotate(154 45.42 59.63)"/>
<ellipse cx="65.68" cy="55.5" rx="0.72" ry="0.84" fill="#3050f8" transform="rotate(3 65.68 55.5)"/>
<ellipse cx="34.5" cy="18.11" rx="0.85" ry="0.97" fill="#1a1ac0" transform="rotate(92 34.5 18.11)"/>
<ellipse cx="29.54" cy="49.09" rx="0.99" ry="1.19" fill="#d02898" transform="rotate(84 29.54 49.09)"/>
<ellipse cx="47.2" cy="69.76" rx="0.77" ry="0.82" fill="#3a6aff" transform="rotate(30 47.2 69.76)"/>
<ellipse cx="53.09" cy="46.67" rx="1.03" ry="1.16" fill="#1616b0" transform="rotate(144 53.09 46.67)"/>
<ellipse cx="56.84" cy="72.73" rx="0.99" ry="1.27" fill="#1a1ac0" transform="rotate(81 56.84 72.73)"/>
<ellipse cx="27.66" cy="-0.09" rx="0.91" ry="1.17" fill="#2020e0" transform="rotate(179 27.66 -0.09)"/>
<ellipse cx="18.99" cy="53.16" rx="0.78" ry="1.02" fill="#1212a0" transform="rotate(30 18.99 53.16)"/>
<ellipse cx="41.62" cy="4.66" rx="0.94" ry="1.28" fill="#d03cb8" transform="rotate(45 41.62 4.66)"/>
<ellipse cx="45.29" cy="55.49" rx="0.97" ry="1.01" fill="#1c1cd0" transform="rotate(83 45.29 55.49)"/>
<ellipse cx="78.78" cy="65" rx="0.92" ry="1.18" fill="#1212a0" transform="rotate(116 78.78 65)"/>
<ellipse cx="70.29" cy="39.99" rx="1.14" ry="1.54" fill="#b02088" transform="rotate(19 70.29 39.99)"/>
<ellipse cx="46.43" cy="77.8" rx="0.92" ry="1.1" fill="#1212a0" transform="rotate(75 46.43 77.8)"/>
<ellipse cx="64.47" cy="25.49" rx="0.98" ry="1.33" fill="#2222c8" transform="rotate(78 64.47 25.49)"/>
<ellipse cx="33.81" cy="73.47" rx="0.79" ry="1.04" fill="#1212a0" transform="rotate(83 33.81 73.47)"/>
<ellipse cx="15.6" cy="44.94" rx="0.93" ry="1.29" fill="#b030c8" transform="rotate(2 15.6 44.94)"/>
<ellipse cx="58.38" cy="39.8" rx="0.74" ry="0.74" fill="#3050f8" transform="rotate(83 58.38 39.8)"/>
<ellipse cx="42.98" cy="31.58" rx="0.74" ry="0.89" fill="#1a1ac0" transform="rotate(103 42.98 31.58)"/>
<ellipse cx="64.29" cy="75.49" rx="0.9" ry="1.2" fill="#3a6aff" transform="rotate(10 64.29 75.49)"/>
<ellipse cx="78.99" cy="10.37" rx="0.86" ry="1.09" fill="#2848e8" transform="rotate(76 78.99 10.37)"/>
<ellipse cx="41.54" cy="39.3" rx="0.98" ry="1.09" fill="#1616b0" transform="rotate(125 41.54 39.3)"/>
<ellipse cx="72.25" cy="7.47" rx="0.8" ry="1.08" fill="#1c1cd0" transform="rotate(52 72.25 7.47)"/>
<ellipse cx="72.16" cy="19.06" rx="0.83" ry="0.89" fill="#1616b0" transform="rotate(49 72.16 19.06)"/>
<ellipse cx="26.98" cy="58.1" rx="1.02" ry="1.23" fill="#e040b0" transform="rotate(83 26.98 58.1)"/>
<ellipse cx="59.42" cy="48.64" rx="0.79" ry="0.82" fill="#3a6aff" transform="rotate(87 59.42 48.64)"/>
<ellipse cx="57.33" cy="69.43" rx="0.97" ry="1.18" fill="#2222c8" transform="rotate(149 57.33 69.43)"/>
<ellipse cx="79.93" cy="26.27" rx="0.89" ry="1.09" fill="#c02890" transform="rotate(23 79.93 26.27)"/>
<ellipse cx="69.49" cy="77.61" rx="0.93" ry="1.08" fill="#2848e8" transform="rotate(152 69.49 77.61)"/>
<ellipse cx="39.28" cy="15.15" rx="1.04" ry="1.42" fill="#1c1cd0" transform="rotate(38 39.28 15.15)"/>
<ellipse cx="8.73" cy="13.7" rx="0.81" ry="0.89" fill="#2626ee" transform="rotate(121 8.73 13.7)"/>
<ellipse cx="22.41" cy="59.71" rx="0.78" ry="0.94" fill="#1212a0" transform="rotate(23 22.41 59.71)"/>
<ellipse cx="40.81" cy="53.17" rx="0.85" ry="1.05" fill="#3050f8" transform="rotate(86 40.81 53.17)"/>
<ellipse cx="51.73" cy="63.62" rx="0.83" ry="0.93" fill="#2222c8" transform="rotate(121 51.73 63.62)"/>
<ellipse cx="43.04" cy="46.92" rx="0.89" ry="0.97" fill="#2848e8" transform="rotate(42 43.04 46.92)"/>
<ellipse cx="11.88" cy="25.27" rx="0.9" ry="1.24" fill="#1616b0" transform="rotate(151 11.88 25.27)"/>
<ellipse cx="80.34" cy="4.43" rx="1.02" ry="1.02" fill="#3050f8" transform="rotate(23 80.34 4.43)"/>
<ellipse cx="70.12" cy="45.17" rx="1.02" ry="1.21" fill="#3050f8" transform="rotate(147 70.12 45.17)"/>
<ellipse cx="70.4" cy="25.99" rx="0.8" ry="0.94" fill="#1c1cd0" transform="rotate(146 70.4 25.99)"/>
<ellipse cx="26.97" cy="40.95" rx="0.86" ry="1.18" fill="#1818a8" transform="rotate(134 26.97 40.95)"/>
<ellipse cx="78.15" cy="69.73" rx="0.91" ry="1.24" fill="#1a1ac0" transform="rotate(137 78.15 69.73)"/>
<ellipse cx="34.25" cy="46.29" rx="0.8" ry="0.81" fill="#1616b0" transform="rotate(2 34.25 46.29)"/>
<ellipse cx="40.41" cy="78.13" rx="0.8" ry="1.03" fill="#3a6aff" transform="rotate(133 40.41 78.13)"/>
<ellipse cx="0.61" cy="78.44" rx="0.9" ry="1.07" fill="#1a1ac0" transform="rotate(92 0.61 78.44)"/>
<ellipse cx="58.56" cy="8.18" rx="1.09" ry="1.11" fill="#c828a8" transform="rotate(81 58.56 8.18)"/>
<ellipse cx="32.78" cy="31.98" rx="0.95" ry="0.97" fill="#e040b0" transform="rotate(22 32.78 31.98)"/>
<ellipse cx="69.43" cy="-0.52" rx="1" ry="1.18" fill="#2848e8" transform="rotate(150 69.43 -0.52)"/>
<ellipse cx="5.82" cy="40.7" rx="0.78" ry="0.83" fill="#1212a0" transform="rotate(100 5.82 40.7)"/>
<ellipse cx="10.74" cy="32.62" rx="0.83" ry="0.94" fill="#e040b0" transform="rotate(134 10.74 32.62)"/>
<ellipse cx="0.19" cy="74.53" rx="0.96" ry="1.22" fill="#2c2cf8" transform="rotate(67 0.19 74.53)"/>
<ellipse cx="51.05" cy="12.2" rx="0.81" ry="1.06" fill="#2222c8" transform="rotate(125 51.05 12.2)"/>
<ellipse cx="5.97" cy="51.7" rx="0.89" ry="1.06" fill="#1616b0" transform="rotate(31 5.97 51.7)"/>
<ellipse cx="77.32" cy="56.49" rx="0.96" ry="1.25" fill="#2848e8" transform="rotate(73 77.32 56.49)"/>
<ellipse cx="79.92" cy="76.69" rx="1" ry="1.08" fill="#2020e0" transform="rotate(47 79.92 76.69)"/>
<ellipse cx="69.23" cy="60.81" rx="0.87" ry="1.06" fill="#2020e0" transform="rotate(63 69.23 60.81)"/>
<ellipse cx="32.3" cy="76.37" rx="0.8" ry="0.99" fill="#2c2cf8" transform="rotate(85 32.3 76.37)"/>
<ellipse cx="31.82" cy="18.94" rx="0.89" ry="1.1" fill="#b030c8" transform="rotate(158 31.82 18.94)"/>
<ellipse cx="75.82" cy="54.35" rx="0.96" ry="1.04" fill="#1616b0" transform="rotate(33 75.82 54.35)"/>
<ellipse cx="47.23" cy="64.33" rx="0.88" ry="0.97" fill="#e040b0" transform="rotate(171 47.23 64.33)"/>
<ellipse cx="15.92" cy="58.83" rx="0.83" ry="0.89" fill="#1818a8" transform="rotate(173 15.92 58.83)"/>
<ellipse cx="33.08" cy="21.95" rx="0.96" ry="1.06" fill="#1616b0" transform="rotate(134 33.08 21.95)"/>
<ellipse cx="11.7" cy="8.16" rx="1.02" ry="1.38" fill="#1c1cd0" transform="rotate(68 11.7 8.16)"/>
<ellipse cx="2.56" cy="50.88" rx="0.91" ry="1.23" fill="#1c1cd0" transform="rotate(17 2.56 50.88)"/>
<ellipse cx="68.1" cy="13.93" rx="0.99" ry="1.1" fill="#2222c8" transform="rotate(65 68.1 13.93)"/>
<ellipse cx="45.39" cy="75.01" rx="0.77" ry="1.03" fill="#1616b0" transform="rotate(154 45.39 75.01)"/>
<ellipse cx="42.56" cy="10.48" rx="0.88" ry="0.96" fill="#3050f8" transform="rotate(127 42.56 10.48)"/>
<ellipse cx="18.43" cy="46.4" rx="0.97" ry="1.27" fill="#1a1ac0" transform="rotate(170 18.43 46.4)"/>
<ellipse cx="73.7" cy="47.23" rx="0.83" ry="1.06" fill="#c828a8" transform="rotate(82 73.7 47.23)"/>
<ellipse cx="39.22" cy="70.76" rx="0.93" ry="1.26" fill="#2020e0" transform="rotate(171 39.22 70.76)"/>
<ellipse cx="11.43" cy="-0.85" rx="0.82" ry="0.99" fill="#1c1cd0" transform="rotate(54 11.43 -0.85)"/>
<ellipse cx="77.1" cy="6.89" rx="0.9" ry="0.91" fill="#2038e0" transform="rotate(26 77.1 6.89)"/>
<ellipse cx="22.84" cy="66.47" rx="0.81" ry="0.85" fill="#1212a0" transform="rotate(46 22.84 66.47)"/>
<ellipse cx="0.18" cy="33.5" rx="1.02" ry="1.2" fill="#1818a8" transform="rotate(121 0.18 33.5)"/>
<ellipse cx="26.81" cy="15.69" rx="0.83" ry="0.87" fill="#3050f8" transform="rotate(167 26.81 15.69)"/>
<ellipse cx="21.44" cy="21.75" rx="0.91" ry="1.04" fill="#1c1cd0" transform="rotate(94 21.44 21.75)"/>
<ellipse cx="15.96" cy="3.66" rx="0.88" ry="1.04" fill="#2020e0" transform="rotate(21 15.96 3.66)"/>
<ellipse cx="34.66" cy="55.49" rx="0.83" ry="1.1" fill="#1616b0" transform="rotate(105 34.66 55.49)"/>
<ellipse cx="58.76" cy="51.41" rx="0.95" ry="1.26" fill="#3a6aff" transform="rotate(115 58.76 51.41)"/>
<ellipse cx="60.11" cy="25.85" rx="0.85" ry="0.97" fill="#1616b0" transform="rotate(85 60.11 25.85)"/>
<ellipse cx="37.87" cy="38.72" rx="0.81" ry="0.95" fill="#3050f8" transform="rotate(93 37.87 38.72)"/>
<ellipse cx="19.18" cy="58.16" rx="0.78" ry="1.09" fill="#1c1cd0" transform="rotate(29 19.18 58.16)"/>
<ellipse cx="53.58" cy="78.34" rx="0.79" ry="1.07" fill="#1818a8" transform="rotate(7 53.58 78.34)"/>
<ellipse cx="30.67" cy="71.72" rx="1.01" ry="1.34" fill="#2a2aff" transform="rotate(39 30.67 71.72)"/>
<ellipse cx="62.44" cy="47.97" rx="1.04" ry="1.39" fill="#1212a0" transform="rotate(40 62.44 47.97)"/>
<ellipse cx="79.65" cy="17.1" rx="0.78" ry="0.99" fill="#3050f8" transform="rotate(127 79.65 17.1)"/>
<ellipse cx="57.39" cy="19.75" rx="0.88" ry="1.14" fill="#1a1ac0" transform="rotate(113 57.39 19.75)"/>
<ellipse cx="62.1" cy="5.66" rx="0.82" ry="0.88" fill="#1a1ac0" transform="rotate(156 62.1 5.66)"/>
<ellipse cx="76.59" cy="44.65" rx="0.9" ry="1.06" fill="#3050f8" transform="rotate(21 76.59 44.65)"/>
<ellipse cx="50.91" cy="6.92" rx="0.95" ry="1.07" fill="#1c1cd0" transform="rotate(73 50.91 6.92)"/>
</g><rect x="69.4" y="76" width="9" height="1.5" fill="#ddd"/>
</svg>
<rect x="466" y="36" width="79.4" height="78" fill="#000"/>
<svg x="466" y="36" width="79.4" height="78" overflow="hidden"><g filter="url(#mb)">
<ellipse cx="80.1" cy="13.35" rx="0.95" ry="1.07" fill="#1a1ac0" transform="rotate(172 80.1 13.35)"/>
<ellipse cx="2.25" cy="29.28" rx="0.86" ry="1" fill="#1a1ac0" transform="rotate(160 2.25 29.28)"/>
<ellipse cx="12.04" cy="48.99" rx="1.07" ry="1.24" fill="#d02898" transform="rotate(65 12.04 48.99)"/>
<ellipse cx="18.84" cy="4.78" rx="1.03" ry="1.37" fill="#2038e0" transform="rotate(150 18.84 4.78)"/>
<ellipse cx="42.52" cy="56.57" rx="0.88" ry="0.89" fill="#1c1cd0" transform="rotate(166 42.52 56.57)"/>
<ellipse cx="1.27" cy="72.35" rx="0.79" ry="0.92" fill="#3a6aff" transform="rotate(162 1.27 72.35)"/>
<ellipse cx="38.43" cy="35.19" rx="0.77" ry="0.91" fill="#1212a0" transform="rotate(133 38.43 35.19)"/>
<ellipse cx="48.83" cy="23.53" rx="0.88" ry="1.13" fill="#2222c8" transform="rotate(138 48.83 23.53)"/>
<ellipse cx="-0.08" cy="54.17" rx="0.72" ry="0.81" fill="#2038e0" transform="rotate(22 -0.08 54.17)"/>
<ellipse cx="12.25" cy="25.5" rx="0.74" ry="0.75" fill="#1a1ac0" transform="rotate(152 12.25 25.5)"/>
<ellipse cx="5.98" cy="15.88" rx="0.73" ry="0.8" fill="#1a1ac0" transform="rotate(108 5.98 15.88)"/>
<ellipse cx="19.3" cy="62.91" rx="0.8" ry="0.86" fill="#2038e0" transform="rotate(77 19.3 62.91)"/>
<ellipse cx="15.29" cy="3.37" rx="0.93" ry="1.2" fill="#b030c8" transform="rotate(175 15.29 3.37)"/>
<ellipse cx="17.65" cy="41.46" rx="0.79" ry="0.94" fill="#2626ee" transform="rotate(79 17.65 41.46)"/>
<ellipse cx="15" cy="38.04" rx="0.94" ry="1.21" fill="#2222c8" transform="rotate(20 15 38.04)"/>
<ellipse cx="31.08" cy="16.35" rx="0.73" ry="0.77" fill="#2848e8" transform="rotate(61 31.08 16.35)"/>
<ellipse cx="61.99" cy="48.04" rx="0.91" ry="1.14" fill="#b030c8" transform="rotate(135 61.99 48.04)"/>
<ellipse cx="72.14" cy="9.67" rx="0.9" ry="1.16" fill="#b02088" transform="rotate(42 72.14 9.67)"/>
<ellipse cx="-0.09" cy="43.87" rx="0.95" ry="1.21" fill="#2222c8" transform="rotate(124 -0.09 43.87)"/>
<ellipse cx="2.05" cy="13.24" rx="0.95" ry="1.08" fill="#2848e8" transform="rotate(109 2.05 13.24)"/>
<ellipse cx="53.96" cy="-0.04" rx="0.99" ry="1.23" fill="#2c2cf8" transform="rotate(52 53.96 -0.04)"/>
<ellipse cx="8.69" cy="62.96" rx="1.19" ry="1.54" fill="#d02898" transform="rotate(89 8.69 62.96)"/>
<ellipse cx="4.55" cy="6.59" rx="0.75" ry="0.76" fill="#1a1ac0" transform="rotate(49 4.55 6.59)"/>
<ellipse cx="24.47" cy="34.27" rx="1.08" ry="1.5" fill="#a030c0" transform="rotate(166 24.47 34.27)"/>
<ellipse cx="49.33" cy="17.69" rx="0.83" ry="1.1" fill="#3a6aff" transform="rotate(82 49.33 17.69)"/>
<ellipse cx="12.02" cy="45.73" rx="0.89" ry="0.97" fill="#1a1ac0" transform="rotate(150 12.02 45.73)"/>
<ellipse cx="16.92" cy="15.63" rx="0.99" ry="1.04" fill="#2626ee" transform="rotate(169 16.92 15.63)"/>
<ellipse cx="45.79" cy="10.66" rx="0.74" ry="0.89" fill="#1818a8" transform="rotate(55 45.79 10.66)"/>
<ellipse cx="57.26" cy="-0.94" rx="0.84" ry="1.1" fill="#2c2cf8" transform="rotate(41 57.26 -0.94)"/>
<ellipse cx="48.1" cy="13.62" rx="0.99" ry="1.23" fill="#2c2cf8" transform="rotate(74 48.1 13.62)"/>
<ellipse cx="71.92" cy="21.97" rx="0.83" ry="1.01" fill="#1c1cd0" transform="rotate(55 71.92 21.97)"/>
<ellipse cx="1.86" cy="32.41" rx="0.81" ry="0.82" fill="#2038e0" transform="rotate(168 1.86 32.41)"/>
<ellipse cx="18.92" cy="32.36" rx="0.73" ry="0.73" fill="#2038e0" transform="rotate(62 18.92 32.36)"/>
<ellipse cx="41.24" cy="77.48" rx="0.86" ry="0.97" fill="#2038e0" transform="rotate(124 41.24 77.48)"/>
<ellipse cx="37.28" cy="3.62" rx="1.04" ry="1.06" fill="#2020e0" transform="rotate(161 37.28 3.62)"/>
<ellipse cx="43.25" cy="50.29" rx="0.88" ry="1.2" fill="#1a1ac0" transform="rotate(91 43.25 50.29)"/>
<ellipse cx="1.88" cy="0.19" rx="0.92" ry="0.98" fill="#2626ee" transform="rotate(170 1.88 0.19)"/>
<ellipse cx="25.87" cy="54.83" rx="0.79" ry="0.8" fill="#1616b0" transform="rotate(152 25.87 54.83)"/>
<ellipse cx="11.47" cy="15.25" rx="0.92" ry="0.99" fill="#2020e0" transform="rotate(34 11.47 15.25)"/>
<ellipse cx="1.34" cy="69.55" rx="1.03" ry="1.23" fill="#1616b0" transform="rotate(136 1.34 69.55)"/>
<ellipse cx="61.02" cy="35" rx="0.85" ry="1.08" fill="#2848e8" transform="rotate(140 61.02 35)"/>
<ellipse cx="31.37" cy="77.89" rx="0.73" ry="0.87" fill="#1a1ac0" transform="rotate(63 31.37 77.89)"/>
<ellipse cx="22.13" cy="13.25" rx="0.83" ry="1.04" fill="#3a6aff" transform="rotate(152 22.13 13.25)"/>
<ellipse cx="15.19" cy="66.87" rx="0.98" ry="1.29" fill="#d02898" transform="rotate(108 15.19 66.87)"/>
<ellipse cx="76.35" cy="8.72" rx="1.18" ry="1.21" fill="#e040b0" transform="rotate(135 76.35 8.72)"/>
<ellipse cx="25.15" cy="17.82" rx="0.97" ry="1.07" fill="#3a6aff" transform="rotate(111 25.15 17.82)"/>
<ellipse cx="39.34" cy="5.37" rx="0.88" ry="0.93" fill="#b030c8" transform="rotate(146 39.34 5.37)"/>
<ellipse cx="55.96" cy="19.14" rx="0.99" ry="1.33" fill="#1616b0" transform="rotate(37 55.96 19.14)"/>
<ellipse cx="72.6" cy="13.65" rx="0.78" ry="0.88" fill="#1212a0" transform="rotate(178 72.6 13.65)"/>
<ellipse cx="73.12" cy="45.2" rx="1.03" ry="1.3" fill="#1212a0" transform="rotate(116 73.12 45.2)"/>
<ellipse cx="40.48" cy="73.16" rx="0.93" ry="1.16" fill="#2020e0" transform="rotate(130 40.48 73.16)"/>
<ellipse cx="6.91" cy="11.12" rx="0.93" ry="1.21" fill="#d02898" transform="rotate(2 6.91 11.12)"/>
<ellipse cx="56.53" cy="30.22" rx="0.76" ry="0.89" fill="#2222c8" transform="rotate(118 56.53 30.22)"/>
<ellipse cx="56.1" cy="4.02" rx="0.89" ry="1.03" fill="#2222c8" transform="rotate(132 56.1 4.02)"/>
<ellipse cx="24.05" cy="57.08" rx="0.91" ry="1.15" fill="#3050f8" transform="rotate(92 24.05 57.08)"/>
<ellipse cx="31.22" cy="8.96" rx="0.9" ry="1.24" fill="#b030c8" transform="rotate(156 31.22 8.96)"/>
<ellipse cx="66.11" cy="2.18" rx="1.19" ry="1.41" fill="#b02088" transform="rotate(33 66.11 2.18)"/>
<ellipse cx="23.95" cy="28.16" rx="1" ry="1.17" fill="#2020e0" transform="rotate(49 23.95 28.16)"/>
<ellipse cx="22.05" cy="10.28" rx="1.04" ry="1.07" fill="#1212a0" transform="rotate(161 22.05 10.28)"/>
<ellipse cx="78.83" cy="42.25" rx="0.86" ry="1.17" fill="#c02890" transform="rotate(66 78.83 42.25)"/>
<ellipse cx="29.17" cy="26.57" rx="0.74" ry="0.89" fill="#1a1ac0" transform="rotate(91 29.17 26.57)"/>
<ellipse cx="78.96" cy="66.86" rx="0.8" ry="0.88" fill="#2a2aff" transform="rotate(20 78.96 66.86)"/>
<ellipse cx="43.23" cy="60.95" rx="1.01" ry="1.38" fill="#d02898" transform="rotate(5 43.23 60.95)"/>
<ellipse cx="48.06" cy="29.36" rx="0.99" ry="1.07" fill="#2a2aff" transform="rotate(146 48.06 29.36)"/>
<ellipse cx="73.76" cy="4.32" rx="0.8" ry="0.93" fill="#2222c8" transform="rotate(102 73.76 4.32)"/>
<ellipse cx="73.87" cy="27.57" rx="1.2" ry="1.45" fill="#c02890" transform="rotate(27 73.87 27.57)"/>
<ellipse cx="42.33" cy="19.13" rx="0.88" ry="1.13" fill="#2222c8" transform="rotate(135 42.33 19.13)"/>
<ellipse cx="5.96" cy="18.59" rx="0.83" ry="1.13" fill="#2a2aff" transform="rotate(128 5.96 18.59)"/>
<ellipse cx="17.28" cy="48.9" rx="0.84" ry="0.99" fill="#2020e0" transform="rotate(22 17.28 48.9)"/>
<ellipse cx="68.16" cy="44.2" rx="0.96" ry="0.98" fill="#2626ee" transform="rotate(15 68.16 44.2)"/>
<ellipse cx="27.35" cy="65.42" rx="0.84" ry="0.98" fill="#2020e0" transform="rotate(25 27.35 65.42)"/>
<ellipse cx="12.28" cy="34.64" rx="1.17" ry="1.53" fill="#d03cb8" transform="rotate(141 12.28 34.64)"/>
<ellipse cx="31.39" cy="11.68" rx="0.86" ry="1.1" fill="#2848e8" transform="rotate(64 31.39 11.68)"/>
<ellipse cx="-0.86" cy="7.63" rx="1.02" ry="1.36" fill="#1818a8" transform="rotate(78 -0.86 7.63)"/>
<ellipse cx="62.79" cy="21.07" rx="0.96" ry="1.08" fill="#a030c0" transform="rotate(138 62.79 21.07)"/>
<ellipse cx="16.94" cy="34.47" rx="0.94" ry="1.16" fill="#3050f8" transform="rotate(156 16.94 34.47)"/>
<ellipse cx="13.28" cy="64.45" rx="1.04" ry="1.06" fill="#1212a0" transform="rotate(91 13.28 64.45)"/>
<ellipse cx="26.6" cy="46.59" rx="1.16" ry="1.2" fill="#c02890" transform="rotate(43 26.6 46.59)"/>
<ellipse cx="38.8" cy="41.62" rx="1.04" ry="1.38" fill="#2038e0" transform="rotate(36 38.8 41.62)"/>
<ellipse cx="51.51" cy="13" rx="0.92" ry="1" fill="#2626ee" transform="rotate(60 51.51 13)"/>
<ellipse cx="52.49" cy="19.44" rx="0.87" ry="1.22" fill="#3050f8" transform="rotate(31 52.49 19.44)"/>
<ellipse cx="74.37" cy="36.55" rx="0.73" ry="1" fill="#3050f8" transform="rotate(0 74.37 36.55)"/>
<ellipse cx="59.13" cy="15.75" rx="0.79" ry="0.84" fill="#1a1ac0" transform="rotate(118 59.13 15.75)"/>
<ellipse cx="62.99" cy="30.41" rx="0.9" ry="1.13" fill="#1a1ac0" transform="rotate(80 62.99 30.41)"/>
<ellipse cx="27.19" cy="21.49" rx="0.96" ry="1.32" fill="#2848e8" transform="rotate(62 27.19 21.49)"/>
<ellipse cx="4.34" cy="72.83" rx="0.74" ry="0.99" fill="#1616b0" transform="rotate(147 4.34 72.83)"/>
<ellipse cx="9.48" cy="32.23" rx="0.89" ry="1.12" fill="#1616b0" transform="rotate(125 9.48 32.23)"/>
<ellipse cx="28.43" cy="35.21" rx="0.79" ry="1.07" fill="#2038e0" transform="rotate(156 28.43 35.21)"/>
<ellipse cx="24.15" cy="48.8" rx="1.13" ry="1.39" fill="#d02898" transform="rotate(90 24.15 48.8)"/>
<ellipse cx="73.5" cy="60.38" rx="0.93" ry="1.12" fill="#2c2cf8" transform="rotate(98 73.5 60.38)"/>
<ellipse cx="33.14" cy="64.1" rx="0.95" ry="1.09" fill="#b02088" transform="rotate(61 33.14 64.1)"/>
<ellipse cx="21.9" cy="44.1" rx="0.83" ry="1.06" fill="#2848e8" transform="rotate(161 21.9 44.1)"/>
<ellipse cx="72.49" cy="34.38" rx="0.85" ry="1.15" fill="#1818a8" transform="rotate(52 72.49 34.38)"/>
<ellipse cx="21.56" cy="21.26" rx="0.85" ry="0.9" fill="#d03cb8" transform="rotate(137 21.56 21.26)"/>
<ellipse cx="-0.98" cy="73.43" rx="0.88" ry="1.09" fill="#1c1cd0" transform="rotate(136 -0.98 73.43)"/>
<ellipse cx="56.34" cy="35.78" rx="1.02" ry="1.24" fill="#2038e0" transform="rotate(172 56.34 35.78)"/>
<ellipse cx="23.77" cy="71.06" rx="1.05" ry="1.21" fill="#2c2cf8" transform="rotate(118 23.77 71.06)"/>
<ellipse cx="7.14" cy="75.33" rx="0.94" ry="1.2" fill="#2626ee" transform="rotate(71 7.14 75.33)"/>
<ellipse cx="26.93" cy="30.78" rx="0.83" ry="1.05" fill="#2222c8" transform="rotate(82 26.93 30.78)"/>
<ellipse cx="11.72" cy="57.3" rx="0.82" ry="1" fill="#2020e0" transform="rotate(44 11.72 57.3)"/>
<ellipse cx="76.74" cy="73.65" rx="0.99" ry="1.28" fill="#2a2aff" transform="rotate(80 76.74 73.65)"/>
<ellipse cx="67.32" cy="78.95" rx="1.05" ry="1.45" fill="#e040b0" transform="rotate(91 67.32 78.95)"/>
<ellipse cx="79.96" cy="23.91" rx="0.76" ry="0.77" fill="#2a2aff" transform="rotate(22 79.96 23.91)"/>
<ellipse cx="20.31" cy="41.34" rx="0.83" ry="0.94" fill="#2a2aff" transform="rotate(161 20.31 41.34)"/>
<ellipse cx="43" cy="3.95" rx="0.91" ry="1.08" fill="#2020e0" transform="rotate(97 43 3.95)"/>
<ellipse cx="67.61" cy="24.56" rx="0.99" ry="1.02" fill="#2222c8" transform="rotate(172 67.61 24.56)"/>
<ellipse cx="77.83" cy="45.88" rx="0.99" ry="1.06" fill="#2c2cf8" transform="rotate(168 77.83 45.88)"/>
<ellipse cx="26.94" cy="41.29" rx="0.8" ry="1.09" fill="#2848e8" transform="rotate(21 26.94 41.29)"/>
<ellipse cx="38.36" cy="58.1" rx="0.94" ry="1.18" fill="#2222c8" transform="rotate(152 38.36 58.1)"/>
<ellipse cx="58.86" cy="37.49" rx="0.79" ry="1.08" fill="#3a6aff" transform="rotate(13 58.86 37.49)"/>
<ellipse cx="10.47" cy="77.17" rx="0.77" ry="1" fill="#2222c8" transform="rotate(90 10.47 77.17)"/>
<ellipse cx="28.09" cy="3.04" rx="0.98" ry="1.26" fill="#b02088" transform="rotate(47 28.09 3.04)"/>
<ellipse cx="2.96" cy="42.16" rx="1.11" ry="1.19" fill="#d02898" transform="rotate(123 2.96 42.16)"/>
<ellipse cx="71.59" cy="2.01" rx="0.74" ry="0.84" fill="#3a6aff" transform="rotate(6 71.59 2.01)"/>
<ellipse cx="6.73" cy="38.23" rx="0.98" ry="1.33" fill="#2038e0" transform="rotate(136 6.73 38.23)"/>
<ellipse cx="51.02" cy="59.23" rx="1.01" ry="1.1" fill="#b02088" transform="rotate(107 51.02 59.23)"/>
<ellipse cx="21.38" cy="15.79" rx="0.83" ry="0.91" fill="#2c2cf8" transform="rotate(62 21.38 15.79)"/>
<ellipse cx="79.37" cy="64.07" rx="1.04" ry="1.38" fill="#a030c0" transform="rotate(28 79.37 64.07)"/>
<ellipse cx="-0.21" cy="10.18" rx="1.04" ry="1.24" fill="#3a6aff" transform="rotate(71 -0.21 10.18)"/>
<ellipse cx="75.49" cy="22.58" rx="0.96" ry="1.2" fill="#2c2cf8" transform="rotate(77 75.49 22.58)"/>
<ellipse cx="2.73" cy="2.76" rx="1.05" ry="1.1" fill="#c828a8" transform="rotate(4 2.73 2.76)"/>
<ellipse cx="14.05" cy="77.87" rx="0.88" ry="1.15" fill="#b030c8" transform="rotate(50 14.05 77.87)"/>
<ellipse cx="7.04" cy="59.33" rx="1.2" ry="1.36" fill="#b02088" transform="rotate(126 7.04 59.33)"/>
<ellipse cx="64" cy="67.81" rx="0.92" ry="1.1" fill="#e040b0" transform="rotate(51 64 67.81)"/>
<ellipse cx="18.63" cy="78.93" rx="0.74" ry="0.75" fill="#1212a0" transform="rotate(98 18.63 78.93)"/>
<ellipse cx="13.35" cy="21.45" rx="0.74" ry="0.89" fill="#3050f8" transform="rotate(104 13.35 21.45)"/>
<ellipse cx="5.24" cy="1.67" rx="0.88" ry="1.03" fill="#2020e0" transform="rotate(155 5.24 1.67)"/>
<ellipse cx="37.54" cy="72.36" rx="0.87" ry="0.91" fill="#1c1cd0" transform="rotate(139 37.54 72.36)"/>
<ellipse cx="46.4" cy="43.39" rx="0.94" ry="1.23" fill="#b02088" transform="rotate(91 46.4 43.39)"/>
<ellipse cx="27.64" cy="8.35" rx="0.94" ry="1.19" fill="#2848e8" transform="rotate(162 27.64 8.35)"/>
<ellipse cx="43.78" cy="35.54" rx="0.94" ry="1.09" fill="#1212a0" transform="rotate(111 43.78 35.54)"/>
<ellipse cx="61.17" cy="26.25" rx="0.83" ry="1.1" fill="#2a2aff" transform="rotate(40 61.17 26.25)"/>
<ellipse cx="46.82" cy="59.43" rx="1.04" ry="1.06" fill="#c828a8" transform="rotate(40 46.82 59.43)"/>
<ellipse cx="32.51" cy="39.6" rx="0.75" ry="0.98" fill="#2222c8" transform="rotate(179 32.51 39.6)"/>
<ellipse cx="35.42" cy="13.87" rx="1.04" ry="1.37" fill="#1a1ac0" transform="rotate(69 35.42 13.87)"/>
<ellipse cx="64.53" cy="23.8" rx="0.81" ry="0.85" fill="#3a6aff" transform="rotate(128 64.53 23.8)"/>
<ellipse cx="21.01" cy="34.26" rx="0.81" ry="1" fill="#1a1ac0" transform="rotate(158 21.01 34.26)"/>
<ellipse cx="39.85" cy="46.3" rx="1.09" ry="1.1" fill="#c828a8" transform="rotate(169 39.85 46.3)"/>
<ellipse cx="4.43" cy="51.57" rx="0.95" ry="1.32" fill="#2020e0" transform="rotate(113 4.43 51.57)"/>
<ellipse cx="9.88" cy="73.84" rx="0.89" ry="0.94" fill="#2c2cf8" transform="rotate(62 9.88 73.84)"/>
<ellipse cx="9.22" cy="19" rx="0.89" ry="1.24" fill="#3050f8" transform="rotate(14 9.22 19)"/>
<ellipse cx="68.32" cy="69.24" rx="0.86" ry="1.05" fill="#2626ee" transform="rotate(45 68.32 69.24)"/>
<ellipse cx="55.77" cy="39.32" rx="0.91" ry="1.17" fill="#1a1ac0" transform="rotate(65 55.77 39.32)"/>
<ellipse cx="48.74" cy="39.97" rx="0.97" ry="1.34" fill="#2222c8" transform="rotate(13 48.74 39.97)"/>
<ellipse cx="47.75" cy="7.45" rx="0.72" ry="0.81" fill="#1212a0" transform="rotate(73 47.75 7.45)"/>
<ellipse cx="63.22" cy="-0.94" rx="0.73" ry="0.89" fill="#2222c8" transform="rotate(138 63.22 -0.94)"/>
<ellipse cx="32.87" cy="73.73" rx="0.81" ry="0.82" fill="#1818a8" transform="rotate(111 32.87 73.73)"/>
<ellipse cx="7.8" cy="29.47" rx="0.81" ry="1.04" fill="#1212a0" transform="rotate(41 7.8 29.47)"/>
<ellipse cx="49.97" cy="45.64" rx="0.91" ry="1.05" fill="#2a2aff" transform="rotate(2 49.97 45.64)"/>
<ellipse cx="17.87" cy="67.22" rx="0.81" ry="1.09" fill="#3050f8" transform="rotate(90 17.87 67.22)"/>
<ellipse cx="8.13" cy="68.28" rx="0.92" ry="1.18" fill="#2222c8" transform="rotate(70 8.13 68.28)"/>
<ellipse cx="7.33" cy="47.14" rx="0.91" ry="1.01" fill="#1c1cd0" transform="rotate(81 7.33 47.14)"/>
<ellipse cx="45.53" cy="64.2" rx="0.98" ry="1.1" fill="#d03cb8" transform="rotate(50 45.53 64.2)"/>
<ellipse cx="32.81" cy="27.59" rx="0.9" ry="1.16" fill="#3050f8" transform="rotate(105 32.81 27.59)"/>
<ellipse cx="19.05" cy="75.92" rx="0.98" ry="1.01" fill="#3a6aff" transform="rotate(20 19.05 75.92)"/>
<ellipse cx="17.28" cy="24.04" rx="0.88" ry="0.99" fill="#e040b0" transform="rotate(149 17.28 24.04)"/>
<ellipse cx="31.19" cy="43.31" rx="0.96" ry="1.12" fill="#c02890" transform="rotate(128 31.19 43.31)"/>
<ellipse cx="60.67" cy="5.24" rx="0.75" ry="0.98" fill="#2c2cf8" transform="rotate(113 60.67 5.24)"/>
<ellipse cx="3.65" cy="67.96" rx="0.74" ry="0.79" fill="#2a2aff" transform="rotate(154 3.65 67.96)"/>
<ellipse cx="13.9" cy="70.18" rx="1.12" ry="1.43" fill="#d03cb8" transform="rotate(142 13.9 70.18)"/>
<ellipse cx="45.3" cy="23.68" rx="0.97" ry="0.99" fill="#c02890" transform="rotate(79 45.3 23.68)"/>
<ellipse cx="58" cy="21.56" rx="1.14" ry="1.23" fill="#e040b0" transform="rotate(148 58 21.56)"/>
<ellipse cx="77.96" cy="31.78" rx="1.14" ry="1.46" fill="#c828a8" transform="rotate(164 77.96 31.78)"/>
<ellipse cx="37.37" cy="38.99" rx="1.03" ry="1.44" fill="#1a1ac0" transform="rotate(172 37.37 38.99)"/>
<ellipse cx="42.13" cy="13.85" rx="0.84" ry="0.88" fill="#c02890" transform="rotate(140 42.13 13.85)"/>
<ellipse cx="46.4" cy="2.52" rx="1.04" ry="1.41" fill="#2626ee" transform="rotate(133 46.4 2.52)"/>
<ellipse cx="62.34" cy="74.37" rx="0.74" ry="0.89" fill="#2222c8" transform="rotate(13 62.34 74.37)"/>
<ellipse cx="41.85" cy="42.28" rx="0.8" ry="1.06" fill="#2020e0" transform="rotate(66 41.85 42.28)"/>
<ellipse cx="53.86" cy="49.55" rx="0.72" ry="0.94" fill="#3a6aff" transform="rotate(167 53.86 49.55)"/>
<ellipse cx="66.83" cy="38.73" rx="0.93" ry="1" fill="#a030c0" transform="rotate(172 66.83 38.73)"/>
<ellipse cx="34.05" cy="69.17" rx="1.01" ry="1.08" fill="#c828a8" transform="rotate(69 34.05 69.17)"/>
<ellipse cx="8.78" cy="50.59" rx="0.82" ry="1.05" fill="#2020e0" transform="rotate(68 8.78 50.59)"/>
<ellipse cx="56.99" cy="25.11" rx="1.15" ry="1.28" fill="#e040b0" transform="rotate(35 56.99 25.11)"/>
<ellipse cx="14.68" cy="9.87" rx="0.96" ry="1.05" fill="#3a6aff" transform="rotate(71 14.68 9.87)"/>
<ellipse cx="69.16" cy="5.55" rx="0.84" ry="0.96" fill="#2020e0" transform="rotate(33 69.16 5.55)"/>
<ellipse cx="37.34" cy="77.76" rx="0.87" ry="1.03" fill="#3050f8" transform="rotate(35 37.34 77.76)"/>
<ellipse cx="3.36" cy="60.13" rx="1.06" ry="1.3" fill="#c02890" transform="rotate(14 3.36 60.13)"/>
<ellipse cx="20.95" cy="24.54" rx="1" ry="1.22" fill="#1616b0" transform="rotate(81 20.95 24.54)"/>
<ellipse cx="57.76" cy="54.85" rx="1.16" ry="1.37" fill="#e040b0" transform="rotate(158 57.76 54.85)"/>
<ellipse cx="57.21" cy="11.58" rx="0.78" ry="0.91" fill="#1818a8" transform="rotate(140 57.21 11.58)"/>
<ellipse cx="5.58" cy="78.05" rx="1.08" ry="1.39" fill="#b030c8" transform="rotate(141 5.58 78.05)"/>
<ellipse cx="70.74" cy="47.19" rx="0.83" ry="1.05" fill="#2626ee" transform="rotate(107 70.74 47.19)"/>
<ellipse cx="0.8" cy="22.95" rx="0.9" ry="1.23" fill="#d02898" transform="rotate(99 0.8 22.95)"/>
<ellipse cx="79.51" cy="7.84" rx="0.96" ry="1.2" fill="#1a1ac0" transform="rotate(4 79.51 7.84)"/>
<ellipse cx="19.02" cy="17.3" rx="0.85" ry="1.02" fill="#3a6aff" transform="rotate(128 19.02 17.3)"/>
<ellipse cx="40.37" cy="7.85" rx="1.04" ry="1.35" fill="#1c1cd0" transform="rotate(140 40.37 7.85)"/>
<ellipse cx="35.78" cy="47.15" rx="1.13" ry="1.35" fill="#d02898" transform="rotate(154 35.78 47.15)"/>
<ellipse cx="24.7" cy="8.07" rx="0.96" ry="1.08" fill="#3050f8" transform="rotate(152 24.7 8.07)"/>
<ellipse cx="16.67" cy="30.02" rx="0.84" ry="1.15" fill="#2020e0" transform="rotate(162 16.67 30.02)"/>
<ellipse cx="33.66" cy="18.04" rx="1.07" ry="1.47" fill="#c828a8" transform="rotate(148 33.66 18.04)"/>
<ellipse cx="63.64" cy="11.12" rx="0.94" ry="1.21" fill="#3050f8" transform="rotate(143 63.64 11.12)"/>
<ellipse cx="59.31" cy="67.97" rx="0.95" ry="1.11" fill="#2626ee" transform="rotate(165 59.31 67.97)"/>
<ellipse cx="21.45" cy="72.21" rx="0.83" ry="0.97" fill="#3a6aff" transform="rotate(128 21.45 72.21)"/>
<ellipse cx="45.19" cy="53.71" rx="0.92" ry="1.17" fill="#2848e8" transform="rotate(128 45.19 53.71)"/>
<ellipse cx="26.81" cy="62.21" rx="0.87" ry="1.12" fill="#2a2aff" transform="rotate(62 26.81 62.21)"/>
<ellipse cx="-0.97" cy="51.8" rx="1.05" ry="1.23" fill="#3050f8" transform="rotate(28 -0.97 51.8)"/>
<ellipse cx="40.06" cy="66.6" rx="0.82" ry="0.99" fill="#2020e0" transform="rotate(66 40.06 66.6)"/>
<ellipse cx="16.52" cy="75.5" rx="0.94" ry="1.1" fill="#a030c0" transform="rotate(57 16.52 75.5)"/>
<ellipse cx="9.78" cy="43.82" rx="0.93" ry="1" fill="#3a6aff" transform="rotate(55 9.78 43.82)"/>
<ellipse cx="44.31" cy="45.5" rx="1.02" ry="1.06" fill="#1c1cd0" transform="rotate(81 44.31 45.5)"/>
<ellipse cx="-0.73" cy="62.08" rx="0.9" ry="1.13" fill="#2020e0" transform="rotate(143 -0.73 62.08)"/>
<ellipse cx="11.84" cy="17.97" rx="0.83" ry="1.09" fill="#1616b0" transform="rotate(13 11.84 17.97)"/>
<ellipse cx="55.81" cy="6.67" rx="1.19" ry="1.62" fill="#d03cb8" transform="rotate(173 55.81 6.67)"/>
<ellipse cx="75.81" cy="0.74" rx="0.93" ry="1.29" fill="#2a2aff" transform="rotate(88 75.81 0.74)"/>
<ellipse cx="24.55" cy="23.53" rx="0.84" ry="1.01" fill="#2626ee" transform="rotate(12 24.55 23.53)"/>
<ellipse cx="6.32" cy="26.96" rx="0.95" ry="1.23" fill="#1a1ac0" transform="rotate(23 6.32 26.96)"/>
<ellipse cx="56.73" cy="76.54" rx="1.01" ry="1.36" fill="#2626ee" transform="rotate(73 56.73 76.54)"/>
<ellipse cx="11.28" cy="4.02" rx="1.03" ry="1.07" fill="#2a2aff" transform="rotate(160 11.28 4.02)"/>
<ellipse cx="74.33" cy="47.95" rx="0.92" ry="1.26" fill="#2020e0" transform="rotate(92 74.33 47.95)"/>
<ellipse cx="-0.74" cy="31.82" rx="0.95" ry="1.19" fill="#a030c0" transform="rotate(99 -0.74 31.82)"/>
<ellipse cx="45.3" cy="17.61" rx="0.75" ry="0.8" fill="#2848e8" transform="rotate(89 45.3 17.61)"/>
<ellipse cx="24.43" cy="20.93" rx="1.01" ry="1.4" fill="#1616b0" transform="rotate(8 24.43 20.93)"/>
<ellipse cx="23.75" cy="-0.92" rx="0.86" ry="1.2" fill="#2222c8" transform="rotate(175 23.75 -0.92)"/>
<ellipse cx="65.5" cy="29.27" rx="0.92" ry="1.27" fill="#2a2aff" transform="rotate(127 65.5 29.27)"/>
<ellipse cx="67.87" cy="13.22" rx="1.1" ry="1.14" fill="#d03cb8" transform="rotate(58 67.87 13.22)"/>
<ellipse cx="18.44" cy="53.24" rx="0.97" ry="1.07" fill="#d02898" transform="rotate(126 18.44 53.24)"/>
<ellipse cx="42.21" cy="21.68" rx="0.86" ry="0.97" fill="#d02898" transform="rotate(151 42.21 21.68)"/>
<ellipse cx="10.43" cy="54.76" rx="0.9" ry="1.14" fill="#2a2aff" transform="rotate(48 10.43 54.76)"/>
<ellipse cx="2.95" cy="63.18" rx="0.9" ry="1.19" fill="#1212a0" transform="rotate(164 2.95 63.18)"/>
<ellipse cx="55.06" cy="53.18" rx="1.01" ry="1.17" fill="#c02890" transform="rotate(38 55.06 53.18)"/>
<ellipse cx="67.24" cy="59.42" rx="0.77" ry="0.97" fill="#1616b0" transform="rotate(157 67.24 59.42)"/>
<ellipse cx="29.21" cy="53.1" rx="0.75" ry="0.94" fill="#3a6aff" transform="rotate(88 29.21 53.1)"/>
<ellipse cx="24.49" cy="14.98" rx="0.73" ry="0.77" fill="#2a2aff" transform="rotate(26 24.49 14.98)"/>
<ellipse cx="64.61" cy="57.38" rx="0.73" ry="0.74" fill="#1818a8" transform="rotate(69 64.61 57.38)"/>
<ellipse cx="8.86" cy="0.68" rx="0.75" ry="0.8" fill="#3a6aff" transform="rotate(18 8.86 0.68)"/>
<ellipse cx="46.1" cy="27.63" rx="1.03" ry="1.32" fill="#1a1ac0" transform="rotate(10 46.1 27.63)"/>
<ellipse cx="60.81" cy="19.51" rx="0.83" ry="0.88" fill="#2222c8" transform="rotate(101 60.81 19.51)"/>
<ellipse cx="65.75" cy="7.17" rx="0.86" ry="0.96" fill="#c02890" transform="rotate(149 65.75 7.17)"/>
<ellipse cx="76.68" cy="68.52" rx="0.94" ry="1.07" fill="#1a1ac0" transform="rotate(14 76.68 68.52)"/>
<ellipse cx="13.8" cy="73.59" rx="0.88" ry="1.15" fill="#2222c8" transform="rotate(162 13.8 73.59)"/>
<ellipse cx="77.13" cy="40.19" rx="0.83" ry="1.02" fill="#1616b0" transform="rotate(58 77.13 40.19)"/>
<ellipse cx="68.24" cy="18.04" rx="0.79" ry="1.02" fill="#1212a0" transform="rotate(55 68.24 18.04)"/>
<ellipse cx="22.51" cy="37.88" rx="0.81" ry="1.12" fill="#1616b0" transform="rotate(94 22.51 37.88)"/>
<ellipse cx="2.02" cy="17.94" rx="0.97" ry="1.07" fill="#2a2aff" transform="rotate(43 2.02 17.94)"/>
<ellipse cx="1.9" cy="51.67" rx="0.83" ry="0.9" fill="#2c2cf8" transform="rotate(36 1.9 51.67)"/>
<ellipse cx="35.17" cy="75.97" rx="0.93" ry="1.07" fill="#d02898" transform="rotate(120 35.17 75.97)"/>
<ellipse cx="9.66" cy="38.31" rx="0.89" ry="1.09" fill="#2222c8" transform="rotate(178 9.66 38.31)"/>
<ellipse cx="64.25" cy="62.34" rx="0.78" ry="0.92" fill="#2020e0" transform="rotate(45 64.25 62.34)"/>
<ellipse cx="44.47" cy="14.88" rx="1.04" ry="1.37" fill="#e040b0" transform="rotate(159 44.47 14.88)"/>
<ellipse cx="24.4" cy="60.76" rx="1.03" ry="1.15" fill="#2c2cf8" transform="rotate(124 24.4 60.76)"/>
<ellipse cx="-0.86" cy="58.1" rx="0.76" ry="1.03" fill="#2848e8" transform="rotate(177 -0.86 58.1)"/>
<ellipse cx="51.68" cy="26.68" rx="0.79" ry="0.87" fill="#2a2aff" transform="rotate(37 51.68 26.68)"/>
<ellipse cx="40.46" cy="49.64" rx="0.99" ry="1.21" fill="#1c1cd0" transform="rotate(130 40.46 49.64)"/>
<ellipse cx="1.14" cy="20.38" rx="0.97" ry="1.03" fill="#1818a8" transform="rotate(149 1.14 20.38)"/>
<ellipse cx="14.39" cy="52.69" rx="0.89" ry="1.1" fill="#2626ee" transform="rotate(151 14.39 52.69)"/>
<ellipse cx="16" cy="20.53" rx="0.83" ry="1.02" fill="#2020e0" transform="rotate(47 16 20.53)"/>
<ellipse cx="18.24" cy="37.02" rx="0.75" ry="1" fill="#1212a0" transform="rotate(166 18.24 37.02)"/>
<ellipse cx="77.27" cy="25.71" rx="1.05" ry="1.3" fill="#2a2aff" transform="rotate(110 77.27 25.71)"/>
<ellipse cx="2.51" cy="8.07" rx="0.83" ry="1.07" fill="#2c2cf8" transform="rotate(46 2.51 8.07)"/>
<ellipse cx="60.83" cy="78.88" rx="0.91" ry="0.98" fill="#2848e8" transform="rotate(94 60.83 78.88)"/>
<ellipse cx="23.65" cy="2.56" rx="1.03" ry="1.07" fill="#2626ee" transform="rotate(9 23.65 2.56)"/>
<ellipse cx="7.18" cy="43.42" rx="1.16" ry="1.26" fill="#d03cb8" transform="rotate(177 7.18 43.42)"/>
<ellipse cx="73.61" cy="-0.86" rx="0.76" ry="0.91" fill="#3050f8" transform="rotate(67 73.61 -0.86)"/>
<ellipse cx="67.77" cy="50.11" rx="0.93" ry="1.01" fill="#c828a8" transform="rotate(114 67.77 50.11)"/>
<ellipse cx="76.13" cy="16.36" rx="1.01" ry="1.27" fill="#b030c8" transform="rotate(86 76.13 16.36)"/>
<ellipse cx="13.64" cy="42.02" rx="0.98" ry="1.22" fill="#1616b0" transform="rotate(103 13.64 42.02)"/>
<ellipse cx="2.85" cy="39.1" rx="0.96" ry="1.12" fill="#3050f8" transform="rotate(154 2.85 39.1)"/>
<ellipse cx="-0.93" cy="67.66" rx="1.01" ry="1.17" fill="#2c2cf8" transform="rotate(120 -0.93 67.66)"/>
<ellipse cx="46.53" cy="47.57" rx="0.88" ry="0.96" fill="#a030c0" transform="rotate(175 46.53 47.57)"/>
<ellipse cx="77.96" cy="18.9" rx="1.04" ry="1.29" fill="#2038e0" transform="rotate(34 77.96 18.9)"/>
<ellipse cx="38.58" cy="25.85" rx="0.91" ry="1.02" fill="#2626ee" transform="rotate(111 38.58 25.85)"/>
<ellipse cx="70.63" cy="60.81" rx="1.02" ry="1.42" fill="#3050f8" transform="rotate(46 70.63 60.81)"/>
<ellipse cx="61.11" cy="45.47" rx="0.95" ry="1.01" fill="#1212a0" transform="rotate(40 61.11 45.47)"/>
<ellipse cx="76.47" cy="4.39" rx="1.16" ry="1.53" fill="#a030c0" transform="rotate(130 76.47 4.39)"/>
<ellipse cx="19.84" cy="1.93" rx="0.95" ry="1.08" fill="#1212a0" transform="rotate(23 19.84 1.93)"/>
</g><rect x="69.4" y="76" width="9" height="1.5" fill="#ddd"/>
</svg>
<text x="182" y="29.9" font-size="12" text-anchor="middle" font-weight="normal" fill="#000">Control</text>
<text x="267.6" y="29.9" font-size="12" text-anchor="middle" font-weight="normal" fill="#000">1</text>
<text x="344.2" y="29.9" font-size="12" text-anchor="middle" font-weight="normal" fill="#000">2</text>
<text x="419.3" y="29.9" font-size="12" text-anchor="middle" font-weight="normal" fill="#000">3</text>
<text x="505.4" y="29.9" font-size="12" text-anchor="middle" font-weight="normal" fill="#000">Erastin</text>
<text x="335" y="12" font-size="12" text-anchor="middle" font-weight="normal" fill="#000">TMX, μmol/L</text>
<line x1="246.7" y1="16.2" x2="443" y2="16.2" stroke="#000" stroke-width="1.8"/>
<rect x="388.4" y="418.4" width="284.2" height="88.2" fill="#b4b4b4"/>
<rect x="389" y="419" width="93.6" height="87" fill="#000"/>
<svg x="389" y="419" width="93.6" height="87" overflow="hidden"><g filter="url(#mb)">
<ellipse cx="73.93" cy="86.76" rx="1.15" ry="1.57" fill="#2222c8" transform="rotate(75 73.93 86.76)"/>
<ellipse cx="76.85" cy="62.59" rx="0.85" ry="1.07" fill="#2222c8" transform="rotate(60 76.85 62.59)"/>
<ellipse cx="48.26" cy="-0.83" rx="1.15" ry="1.53" fill="#2020e0" transform="rotate(65 48.26 -0.83)"/>
<ellipse cx="28.42" cy="59.11" rx="0.85" ry="0.94" fill="#1616b0" transform="rotate(15 28.42 59.11)"/>
<ellipse cx="41.82" cy="9.48" rx="0.81" ry="1.13" fill="#2848e8" transform="rotate(120 41.82 9.48)"/>
<ellipse cx="33.73" cy="7.8" rx="1.13" ry="1.52" fill="#2626ee" transform="rotate(43 33.73 7.8)"/>
<ellipse cx="19.26" cy="85.49" rx="0.99" ry="1.37" fill="#1818a8" transform="rotate(152 19.26 85.49)"/>
<ellipse cx="3.43" cy="44.29" rx="0.8" ry="1.01" fill="#2a2aff" transform="rotate(48 3.43 44.29)"/>
<ellipse cx="5.56" cy="80.87" rx="0.95" ry="1.32" fill="#c02890" transform="rotate(149 5.56 80.87)"/>
<ellipse cx="36.53" cy="2.53" rx="0.88" ry="1.19" fill="#2848e8" transform="rotate(113 36.53 2.53)"/>
<ellipse cx="3.74" cy="11.78" rx="0.82" ry="0.95" fill="#3a6aff" transform="rotate(153 3.74 11.78)"/>
<ellipse cx="0.08" cy="69.9" rx="1.07" ry="1.09" fill="#2222c8" transform="rotate(28 0.08 69.9)"/>
<ellipse cx="48.58" cy="45.16" rx="1.05" ry="1.37" fill="#2222c8" transform="rotate(57 48.58 45.16)"/>
<ellipse cx="75.45" cy="7.71" rx="1.08" ry="1.18" fill="#2222c8" transform="rotate(11 75.45 7.71)"/>
<ellipse cx="68.71" cy="8.51" rx="0.84" ry="1.15" fill="#3050f8" transform="rotate(87 68.71 8.51)"/>
<ellipse cx="93.5" cy="60.67" rx="1.05" ry="1.11" fill="#2222c8" transform="rotate(76 93.5 60.67)"/>
<ellipse cx="2.75" cy="8.81" rx="0.9" ry="1.06" fill="#1616b0" transform="rotate(33 2.75 8.81)"/>
<ellipse cx="58.85" cy="76.4" rx="0.91" ry="1.26" fill="#2038e0" transform="rotate(98 58.85 76.4)"/>
<ellipse cx="73.04" cy="35.7" rx="0.97" ry="1.31" fill="#1c1cd0" transform="rotate(5 73.04 35.7)"/>
<ellipse cx="31.91" cy="13.07" rx="0.96" ry="1.02" fill="#1c1cd0" transform="rotate(0 31.91 13.07)"/>
<ellipse cx="72.2" cy="1.86" rx="0.85" ry="0.96" fill="#2222c8" transform="rotate(130 72.2 1.86)"/>
<ellipse cx="14.49" cy="11.37" rx="1.05" ry="1.35" fill="#1818a8" transform="rotate(12 14.49 11.37)"/>
<ellipse cx="55.72" cy="30.57" rx="1.15" ry="1.32" fill="#2222c8" transform="rotate(156 55.72 30.57)"/>
<ellipse cx="41.11" cy="37.66" rx="1.05" ry="1.44" fill="#1616b0" transform="rotate(31 41.11 37.66)"/>
<ellipse cx="2.91" cy="62.82" rx="1.12" ry="1.41" fill="#1a1ac0" transform="rotate(34 2.91 62.82)"/>
<ellipse cx="13.14" cy="31.57" rx="1.05" ry="1.32" fill="#3050f8" transform="rotate(30 13.14 31.57)"/>
<ellipse cx="74.75" cy="51.63" rx="1.13" ry="1.26" fill="#2222c8" transform="rotate(179 74.75 51.63)"/>
<ellipse cx="33.16" cy="29.12" rx="1.14" ry="1.48" fill="#2020e0" transform="rotate(179 33.16 29.12)"/>
<ellipse cx="14.58" cy="67.23" rx="0.81" ry="0.99" fill="#2626ee" transform="rotate(36 14.58 67.23)"/>
<ellipse cx="90.88" cy="11.04" rx="1.08" ry="1.43" fill="#2038e0" transform="rotate(141 90.88 11.04)"/>
<ellipse cx="25.29" cy="71.08" rx="0.98" ry="1.05" fill="#1a1ac0" transform="rotate(107 25.29 71.08)"/>
<ellipse cx="45.8" cy="27.82" rx="0.86" ry="1.12" fill="#2038e0" transform="rotate(161 45.8 27.82)"/>
<ellipse cx="58.66" cy="22.86" rx="0.84" ry="1.14" fill="#1c1cd0" transform="rotate(176 58.66 22.86)"/>
<ellipse cx="40.76" cy="76.82" rx="0.81" ry="0.98" fill="#2c2cf8" transform="rotate(54 40.76 76.82)"/>
<ellipse cx="83.47" cy="5.21" rx="1.04" ry="1.33" fill="#2848e8" transform="rotate(149 83.47 5.21)"/>
<ellipse cx="84.01" cy="52.46" rx="0.87" ry="0.93" fill="#2038e0" transform="rotate(57 84.01 52.46)"/>
<ellipse cx="87.64" cy="38.07" rx="0.89" ry="1.21" fill="#2038e0" transform="rotate(138 87.64 38.07)"/>
<ellipse cx="69.03" cy="28.04" rx="0.8" ry="0.91" fill="#2222c8" transform="rotate(77 69.03 28.04)"/>
<ellipse cx="41.57" cy="63.6" rx="1.04" ry="1.16" fill="#1c1cd0" transform="rotate(158 41.57 63.6)"/>
<ellipse cx="70.43" cy="18.87" rx="0.86" ry="1.08" fill="#2c2cf8" transform="rotate(27 70.43 18.87)"/>
<ellipse cx="50.64" cy="6.92" rx="1.01" ry="1.26" fill="#3050f8" transform="rotate(96 50.64 6.92)"/>
<ellipse cx="59.94" cy="13.99" rx="0.87" ry="0.96" fill="#2038e0" transform="rotate(13 59.94 13.99)"/>
<ellipse cx="23.91" cy="14.29" rx="0.96" ry="1.09" fill="#3050f8" transform="rotate(33 23.91 14.29)"/>
<ellipse cx="19.04" cy="63.04" rx="0.93" ry="1.12" fill="#2a2aff" transform="rotate(60 19.04 63.04)"/>
<ellipse cx="28.15" cy="37.7" rx="0.91" ry="0.93" fill="#1818a8" transform="rotate(28 28.15 37.7)"/>
<ellipse cx="37.46" cy="76.09" rx="1.06" ry="1.36" fill="#2020e0" transform="rotate(80 37.46 76.09)"/>
<ellipse cx="48.49" cy="11.66" rx="0.9" ry="1.17" fill="#3050f8" transform="rotate(13 48.49 11.66)"/>
<ellipse cx="39.96" cy="1.28" rx="1.11" ry="1.23" fill="#3a6aff" transform="rotate(43 39.96 1.28)"/>
<ellipse cx="89.97" cy="41.02" rx="0.81" ry="1.09" fill="#3a6aff" transform="rotate(106 89.97 41.02)"/>
<ellipse cx="6.7" cy="43.58" rx="0.95" ry="1.27" fill="#3a6aff" transform="rotate(78 6.7 43.58)"/>
<ellipse cx="35.47" cy="70.4" rx="0.83" ry="0.92" fill="#1616b0" transform="rotate(28 35.47 70.4)"/>
<ellipse cx="85.54" cy="63.72" rx="1" ry="1.03" fill="#b02088" transform="rotate(20 85.54 63.72)"/>
<ellipse cx="1.84" cy="59.37" rx="1.07" ry="1.46" fill="#1c1cd0" transform="rotate(163 1.84 59.37)"/>
<ellipse cx="63.59" cy="33.06" rx="1.07" ry="1.37" fill="#1a1ac0" transform="rotate(124 63.59 33.06)"/>
<ellipse cx="91.5" cy="24.36" rx="0.85" ry="0.97" fill="#2626ee" transform="rotate(83 91.5 24.36)"/>
<ellipse cx="37.96" cy="16.04" rx="1" ry="1.4" fill="#2a2aff" transform="rotate(53 37.96 16.04)"/>
<ellipse cx="32.18" cy="74.32" rx="0.88" ry="1.13" fill="#1818a8" transform="rotate(29 32.18 74.32)"/>
<ellipse cx="77.72" cy="76.21" rx="0.96" ry="1.09" fill="#1212a0" transform="rotate(89 77.72 76.21)"/>
<ellipse cx="73.61" cy="17" rx="1.03" ry="1.18" fill="#2222c8" transform="rotate(76 73.61 17)"/>
<ellipse cx="77.37" cy="40.48" rx="1.07" ry="1.5" fill="#2222c8" transform="rotate(135 77.37 40.48)"/>
<ellipse cx="47.79" cy="77.27" rx="1.02" ry="1.3" fill="#2020e0" transform="rotate(35 47.79 77.27)"/>
<ellipse cx="6.44" cy="16.23" rx="0.8" ry="0.92" fill="#3a6aff" transform="rotate(159 6.44 16.23)"/>
<ellipse cx="8.61" cy="2.63" rx="0.92" ry="0.97" fill="#2a2aff" transform="rotate(27 8.61 2.63)"/>
<ellipse cx="62.68" cy="40.4" rx="0.86" ry="1.04" fill="#1818a8" transform="rotate(140 62.68 40.4)"/>
<ellipse cx="75.55" cy="74.05" rx="0.84" ry="0.91" fill="#1a1ac0" transform="rotate(74 75.55 74.05)"/>
<ellipse cx="33.01" cy="35.66" rx="1.03" ry="1.15" fill="#2020e0" transform="rotate(66 33.01 35.66)"/>
<ellipse cx="20.18" cy="35.64" rx="0.89" ry="1.1" fill="#2626ee" transform="rotate(46 20.18 35.64)"/>
<ellipse cx="76.03" cy="44.01" rx="0.9" ry="1.17" fill="#2222c8" transform="rotate(17 76.03 44.01)"/>
<ellipse cx="43.61" cy="22.31" rx="1.15" ry="1.49" fill="#3050f8" transform="rotate(19 43.61 22.31)"/>
<ellipse cx="24.85" cy="48.35" rx="1.12" ry="1.46" fill="#3050f8" transform="rotate(9 24.85 48.35)"/>
<ellipse cx="35.77" cy="22.74" rx="1.09" ry="1.5" fill="#1212a0" transform="rotate(109 35.77 22.74)"/>
<ellipse cx="61.73" cy="73.66" rx="0.87" ry="0.98" fill="#2222c8" transform="rotate(134 61.73 73.66)"/>
<ellipse cx="19.52" cy="66.7" rx="0.99" ry="1.22" fill="#a030c0" transform="rotate(44 19.52 66.7)"/>
<ellipse cx="48.31" cy="31.59" rx="0.94" ry="0.98" fill="#2626ee" transform="rotate(146 48.31 31.59)"/>
<ellipse cx="93.97" cy="6.94" rx="0.82" ry="0.93" fill="#2848e8" transform="rotate(44 93.97 6.94)"/>
<ellipse cx="66.41" cy="14.63" rx="0.84" ry="1" fill="#2222c8" transform="rotate(173 66.41 14.63)"/>
<ellipse cx="69.37" cy="31.93" rx="0.81" ry="1.11" fill="#1a1ac0" transform="rotate(98 69.37 31.93)"/>
<ellipse cx="11.48" cy="12.74" rx="1.08" ry="1.45" fill="#1a1ac0" transform="rotate(175 11.48 12.74)"/>
<ellipse cx="35.44" cy="80.54" rx="1.09" ry="1.27" fill="#2626ee" transform="rotate(128 35.44 80.54)"/>
<ellipse cx="38.32" cy="31.94" rx="0.85" ry="0.95" fill="#2c2cf8" transform="rotate(160 38.32 31.94)"/>
<ellipse cx="75.67" cy="58.84" rx="1.08" ry="1.2" fill="#1c1cd0" transform="rotate(114 75.67 58.84)"/>
<ellipse cx="73.37" cy="43" rx="1" ry="1.02" fill="#1818a8" transform="rotate(106 73.37 43)"/>
<ellipse cx="29.48" cy="29.59" rx="0.82" ry="0.91" fill="#2848e8" transform="rotate(161 29.48 29.59)"/>
<ellipse cx="56.87" cy="57.92" rx="1.06" ry="1.37" fill="#1818a8" transform="rotate(1 56.87 57.92)"/>
<ellipse cx="71.43" cy="75.69" rx="1.01" ry="1.06" fill="#2c2cf8" transform="rotate(24 71.43 75.69)"/>
<ellipse cx="24.58" cy="63.16" rx="1.06" ry="1.1" fill="#1a1ac0" transform="rotate(141 24.58 63.16)"/>
<ellipse cx="4.97" cy="0.6" rx="0.99" ry="1.35" fill="#2c2cf8" transform="rotate(126 4.97 0.6)"/>
<ellipse cx="4.06" cy="20.88" rx="1.01" ry="1.13" fill="#3a6aff" transform="rotate(101 4.06 20.88)"/>
<ellipse cx="8.01" cy="28.14" rx="0.92" ry="1.17" fill="#3a6aff" transform="rotate(176 8.01 28.14)"/>
<ellipse cx="62.74" cy="6.4" rx="0.83" ry="1.13" fill="#1a1ac0" transform="rotate(108 62.74 6.4)"/>
<ellipse cx="76.25" cy="68.47" rx="1.02" ry="1.4" fill="#1c1cd0" transform="rotate(160 76.25 68.47)"/>
<ellipse cx="43.9" cy="19.23" rx="1.08" ry="1.27" fill="#2a2aff" transform="rotate(145 43.9 19.23)"/>
<ellipse cx="7.88" cy="40.86" rx="0.83" ry="0.89" fill="#2626ee" transform="rotate(109 7.88 40.86)"/>
<ellipse cx="60.07" cy="61.54" rx="1.1" ry="1.17" fill="#1a1ac0" transform="rotate(57 60.07 61.54)"/>
<ellipse cx="87.32" cy="70.4" rx="0.98" ry="1.1" fill="#1a1ac0" transform="rotate(167 87.32 70.4)"/>
<ellipse cx="18.6" cy="18.61" rx="0.81" ry="0.85" fill="#1a1ac0" transform="rotate(94 18.6 18.61)"/>
<ellipse cx="28.22" cy="42.93" rx="0.99" ry="1.21" fill="#c828a8" transform="rotate(2 28.22 42.93)"/>
<ellipse cx="66.22" cy="22.82" rx="0.94" ry="1.22" fill="#2c2cf8" transform="rotate(112 66.22 22.82)"/>
<ellipse cx="5.96" cy="64.86" rx="0.84" ry="0.85" fill="#2c2cf8" transform="rotate(169 5.96 64.86)"/>
<ellipse cx="21.59" cy="87.04" rx="1.07" ry="1.16" fill="#2626ee" transform="rotate(66 21.59 87.04)"/>
<ellipse cx="64.69" cy="56.18" rx="0.87" ry="0.93" fill="#3050f8" transform="rotate(93 64.69 56.18)"/>
<ellipse cx="22.3" cy="16.87" rx="1.08" ry="1.46" fill="#1c1cd0" transform="rotate(29 22.3 16.87)"/>
<ellipse cx="12.51" cy="48.92" rx="1.11" ry="1.24" fill="#2020e0" transform="rotate(161 12.51 48.92)"/>
<ellipse cx="40.64" cy="26.96" rx="0.92" ry="1.19" fill="#2020e0" transform="rotate(98 40.64 26.96)"/>
<ellipse cx="29.78" cy="75.96" rx="1.08" ry="1.23" fill="#2020e0" transform="rotate(25 29.78 75.96)"/>
<ellipse cx="17.33" cy="43.07" rx="0.84" ry="1.11" fill="#2626ee" transform="rotate(129 17.33 43.07)"/>
<ellipse cx="14.25" cy="52.27" rx="0.96" ry="1.18" fill="#1818a8" transform="rotate(71 14.25 52.27)"/>
<ellipse cx="84.33" cy="55.34" rx="1.12" ry="1.54" fill="#2626ee" transform="rotate(31 84.33 55.34)"/>
<ellipse cx="27.63" cy="10.49" rx="1.02" ry="1.34" fill="#2a2aff" transform="rotate(67 27.63 10.49)"/>
<ellipse cx="23.75" cy="4.95" rx="1.06" ry="1.26" fill="#1818a8" transform="rotate(66 23.75 4.95)"/>
<ellipse cx="20.23" cy="25.68" rx="0.83" ry="0.92" fill="#1c1cd0" transform="rotate(116 20.23 25.68)"/>
<ellipse cx="92.92" cy="53.16" rx="0.94" ry="1.25" fill="#1818a8" transform="rotate(123 92.92 53.16)"/>
<ellipse cx="2.56" cy="76.76" rx="0.93" ry="1.14" fill="#a030c0" transform="rotate(14 2.56 76.76)"/>
<ellipse cx="10.17" cy="7.83" rx="0.84" ry="1.01" fill="#1212a0" transform="rotate(71 10.17 7.83)"/>
<ellipse cx="56.02" cy="24.46" rx="1.29" ry="1.63" fill="#d03cb8" transform="rotate(159 56.02 24.46)"/>
<ellipse cx="2.23" cy="52.83" rx="0.83" ry="1" fill="#3a6aff" transform="rotate(160 2.23 52.83)"/>
<ellipse cx="87.7" cy="3.68" rx="0.94" ry="0.97" fill="#b02088" transform="rotate(12 87.7 3.68)"/>
<ellipse cx="87.61" cy="20.3" rx="0.97" ry="1.24" fill="#2c2cf8" transform="rotate(62 87.61 20.3)"/>
<ellipse cx="46.96" cy="60.48" rx="1.08" ry="1.41" fill="#2626ee" transform="rotate(20 46.96 60.48)"/>
<ellipse cx="14.11" cy="24.1" rx="0.82" ry="0.98" fill="#1818a8" transform="rotate(53 14.11 24.1)"/>
<ellipse cx="67.04" cy="49.85" rx="1.1" ry="1.29" fill="#2038e0" transform="rotate(172 67.04 49.85)"/>
<ellipse cx="67.23" cy="44.06" rx="1.15" ry="1.45" fill="#2626ee" transform="rotate(51 67.23 44.06)"/>
<ellipse cx="42.91" cy="6.43" rx="1.04" ry="1.36" fill="#3050f8" transform="rotate(128 42.91 6.43)"/>
<ellipse cx="27.2" cy="-0.13" rx="1.1" ry="1.16" fill="#2a2aff" transform="rotate(10 27.2 -0.13)"/>
<ellipse cx="40.09" cy="14.23" rx="0.93" ry="1.12" fill="#2848e8" transform="rotate(114 40.09 14.23)"/>
<ellipse cx="25.36" cy="77.93" rx="1.13" ry="1.28" fill="#2222c8" transform="rotate(76 25.36 77.93)"/>
<ellipse cx="13.89" cy="86.69" rx="0.91" ry="1.03" fill="#2038e0" transform="rotate(18 13.89 86.69)"/>
<ellipse cx="68.27" cy="3.32" rx="1.1" ry="1.53" fill="#1c1cd0" transform="rotate(80 68.27 3.32)"/>
<ellipse cx="55.96" cy="7.79" rx="1.08" ry="1.33" fill="#2626ee" transform="rotate(141 55.96 7.79)"/>
<ellipse cx="8.97" cy="73.21" rx="0.95" ry="1.01" fill="#3050f8" transform="rotate(177 8.97 73.21)"/>
<ellipse cx="81.47" cy="14.42" rx="0.87" ry="1.09" fill="#1a1ac0" transform="rotate(57 81.47 14.42)"/>
<ellipse cx="52.42" cy="64.42" rx="1.14" ry="1.59" fill="#1a1ac0" transform="rotate(87 52.42 64.42)"/>
<ellipse cx="11.36" cy="78.27" rx="1.04" ry="1.11" fill="#3a6aff" transform="rotate(111 11.36 78.27)"/>
<ellipse cx="22.81" cy="1.6" rx="1.12" ry="1.15" fill="#1616b0" transform="rotate(123 22.81 1.6)"/>
<ellipse cx="33.63" cy="86.2" rx="1.06" ry="1.39" fill="#1212a0" transform="rotate(47 33.63 86.2)"/>
<ellipse cx="8.54" cy="57.74" rx="1.03" ry="1.04" fill="#b030c8" transform="rotate(160 8.54 57.74)"/>
<ellipse cx="3.66" cy="84.75" rx="1.04" ry="1.08" fill="#3a6aff" transform="rotate(78 3.66 84.75)"/>
<ellipse cx="83.91" cy="77.33" rx="1.04" ry="1.22" fill="#1616b0" transform="rotate(106 83.91 77.33)"/>
<ellipse cx="55.69" cy="68.72" rx="0.84" ry="1.12" fill="#1212a0" transform="rotate(99 55.69 68.72)"/>
<ellipse cx="22.63" cy="76.52" rx="1.11" ry="1.53" fill="#2038e0" transform="rotate(29 22.63 76.52)"/>
<ellipse cx="36.19" cy="-0.6" rx="0.98" ry="1.35" fill="#2848e8" transform="rotate(7 36.19 -0.6)"/>
<ellipse cx="10.15" cy="64.77" rx="0.92" ry="1.01" fill="#3050f8" transform="rotate(91 10.15 64.77)"/>
<ellipse cx="40.61" cy="81.09" rx="0.8" ry="1.01" fill="#2a2aff" transform="rotate(42 40.61 81.09)"/>
<ellipse cx="79.28" cy="28.63" rx="0.97" ry="1.03" fill="#2626ee" transform="rotate(27 79.28 28.63)"/>
<ellipse cx="82.12" cy="45.54" rx="1.04" ry="1.21" fill="#3050f8" transform="rotate(65 82.12 45.54)"/>
<ellipse cx="33.56" cy="53.58" rx="0.9" ry="1.09" fill="#2020e0" transform="rotate(16 33.56 53.58)"/>
<ellipse cx="90.67" cy="79.3" rx="0.81" ry="1.12" fill="#3a6aff" transform="rotate(173 90.67 79.3)"/>
<ellipse cx="11.17" cy="56.4" rx="1.09" ry="1.16" fill="#2c2cf8" transform="rotate(159 11.17 56.4)"/>
<ellipse cx="81.95" cy="22.04" rx="1.12" ry="1.54" fill="#3050f8" transform="rotate(174 81.95 22.04)"/>
<ellipse cx="24.27" cy="80.98" rx="1.15" ry="1.39" fill="#1212a0" transform="rotate(179 24.27 80.98)"/>
<ellipse cx="67.21" cy="37.67" rx="0.93" ry="0.94" fill="#1818a8" transform="rotate(146 67.21 37.67)"/>
<ellipse cx="85.31" cy="8.74" rx="0.93" ry="1.07" fill="#1a1ac0" transform="rotate(114 85.31 8.74)"/>
<ellipse cx="-0.43" cy="78.59" rx="0.82" ry="1.13" fill="#2a2aff" transform="rotate(59 -0.43 78.59)"/>
<ellipse cx="73.82" cy="79.68" rx="0.9" ry="1.22" fill="#2a2aff" transform="rotate(140 73.82 79.68)"/>
<ellipse cx="20.36" cy="55.42" rx="1.07" ry="1.49" fill="#b030c8" transform="rotate(44 20.36 55.42)"/>
<ellipse cx="46.03" cy="34.08" rx="1.04" ry="1.35" fill="#2626ee" transform="rotate(128 46.03 34.08)"/>
<ellipse cx="71.17" cy="61.51" rx="0.81" ry="1.01" fill="#2c2cf8" transform="rotate(67 71.17 61.51)"/>
<ellipse cx="-0.34" cy="65.04" rx="1.05" ry="1.15" fill="#1a1ac0" transform="rotate(165 -0.34 65.04)"/>
<ellipse cx="27.28" cy="5.87" rx="0.85" ry="1.05" fill="#1c1cd0" transform="rotate(153 27.28 5.87)"/>
<ellipse cx="80.31" cy="9.7" rx="1.15" ry="1.35" fill="#1c1cd0" transform="rotate(66 80.31 9.7)"/>
<ellipse cx="44.11" cy="71.35" rx="0.87" ry="1.04" fill="#1616b0" transform="rotate(41 44.11 71.35)"/>
<ellipse cx="50.2" cy="22.97" rx="0.8" ry="0.94" fill="#2222c8" transform="rotate(19 50.2 22.97)"/>
<ellipse cx="23.39" cy="30.01" rx="1.06" ry="1.32" fill="#2038e0" transform="rotate(60 23.39 30.01)"/>
<ellipse cx="18.44" cy="31.81" rx="0.81" ry="1.09" fill="#2848e8" transform="rotate(147 18.44 31.81)"/>
<ellipse cx="83.93" cy="49.08" rx="1.12" ry="1.27" fill="#1c1cd0" transform="rotate(9 83.93 49.08)"/>
<ellipse cx="29.42" cy="63.48" rx="1.12" ry="1.22" fill="#b030c8" transform="rotate(126 29.42 63.48)"/>
<ellipse cx="25.52" cy="8.46" rx="1.04" ry="1.27" fill="#1c1cd0" transform="rotate(113 25.52 8.46)"/>
<ellipse cx="89.7" cy="87.78" rx="0.81" ry="1" fill="#2020e0" transform="rotate(139 89.7 87.78)"/>
<ellipse cx="20.39" cy="48.61" rx="0.84" ry="1.02" fill="#2020e0" transform="rotate(93 20.39 48.61)"/>
<ellipse cx="30.99" cy="40.72" rx="1.03" ry="1.28" fill="#1212a0" transform="rotate(90 30.99 40.72)"/>
<ellipse cx="91.7" cy="46.36" rx="1.05" ry="1.42" fill="#3a6aff" transform="rotate(41 91.7 46.36)"/>
<ellipse cx="91.32" cy="56.91" rx="0.8" ry="1.08" fill="#1616b0" transform="rotate(76 91.32 56.91)"/>
<ellipse cx="2.9" cy="70.52" rx="0.85" ry="1.14" fill="#2c2cf8" transform="rotate(58 2.9 70.52)"/>
<ellipse cx="32.73" cy="18.94" rx="0.96" ry="1.07" fill="#1a1ac0" transform="rotate(35 32.73 18.94)"/>
<ellipse cx="19.73" cy="4.71" rx="1.04" ry="1.08" fill="#2848e8" transform="rotate(166 19.73 4.71)"/>
<ellipse cx="14.49" cy="75.57" rx="1.11" ry="1.44" fill="#2848e8" transform="rotate(71 14.49 75.57)"/>
<ellipse cx="44.72" cy="0.72" rx="0.97" ry="1.28" fill="#3a6aff" transform="rotate(127 44.72 0.72)"/>
<ellipse cx="19.62" cy="0.44" rx="0.95" ry="1.22" fill="#2c2cf8" transform="rotate(26 19.62 0.44)"/>
<ellipse cx="45.69" cy="13.16" rx="1.04" ry="1.4" fill="#d02898" transform="rotate(100 45.69 13.16)"/>
<ellipse cx="75.79" cy="48.43" rx="1.03" ry="1.23" fill="#3a6aff" transform="rotate(59 75.79 48.43)"/>
<ellipse cx="31.16" cy="45.81" rx="1.24" ry="1.41" fill="#b02088" transform="rotate(124 31.16 45.81)"/>
<ellipse cx="32.83" cy="77.28" rx="1.02" ry="1.09" fill="#3050f8" transform="rotate(76 32.83 77.28)"/>
<ellipse cx="7.98" cy="24.1" rx="0.83" ry="0.89" fill="#1a1ac0" transform="rotate(46 7.98 24.1)"/>
<ellipse cx="20.21" cy="8.73" rx="1.05" ry="1.29" fill="#1212a0" transform="rotate(142 20.21 8.73)"/>
<ellipse cx="12.98" cy="59.77" rx="1.05" ry="1.06" fill="#2020e0" transform="rotate(176 12.98 59.77)"/>
</g><rect x="83.6" y="85" width="9" height="1.5" fill="#ddd"/>
</svg>
<rect x="484" y="419" width="93" height="87" fill="#000"/>
<svg x="484" y="419" width="93" height="87" overflow="hidden"><g filter="url(#mb)">
<ellipse cx="83.84" cy="77.47" rx="1.1" ry="1.13" fill="#d02898" transform="rotate(106 83.84 77.47)"/>
<ellipse cx="90.78" cy="0.19" rx="0.87" ry="0.91" fill="#2038e0" transform="rotate(84 90.78 0.19)"/>
<ellipse cx="79.07" cy="83.4" rx="1.1" ry="1.32" fill="#2020e0" transform="rotate(109 79.07 83.4)"/>
<ellipse cx="22.92" cy="51.65" rx="1.09" ry="1.37" fill="#d02898" transform="rotate(165 22.92 51.65)"/>
<ellipse cx="65.17" cy="29.47" rx="1.19" ry="1.38" fill="#3a6aff" transform="rotate(165 65.17 29.47)"/>
<ellipse cx="54.82" cy="67.64" rx="0.89" ry="0.9" fill="#2020e0" transform="rotate(64 54.82 67.64)"/>
<ellipse cx="55.32" cy="49.78" rx="0.89" ry="1.22" fill="#2222c8" transform="rotate(41 55.32 49.78)"/>
<ellipse cx="2.55" cy="63.8" rx="1.09" ry="1.12" fill="#1616b0" transform="rotate(86 2.55 63.8)"/>
<ellipse cx="-0.77" cy="18.48" rx="1.19" ry="1.22" fill="#d03cb8" transform="rotate(119 -0.77 18.48)"/>
<ellipse cx="40.2" cy="0.82" rx="0.93" ry="1.28" fill="#2626ee" transform="rotate(35 40.2 0.82)"/>
<ellipse cx="31.36" cy="26.16" rx="0.89" ry="1.13" fill="#1616b0" transform="rotate(3 31.36 26.16)"/>
<ellipse cx="3.67" cy="52.34" rx="0.98" ry="1.14" fill="#1a1ac0" transform="rotate(131 3.67 52.34)"/>
<ellipse cx="16.72" cy="66.33" rx="0.87" ry="0.94" fill="#2626ee" transform="rotate(153 16.72 66.33)"/>
<ellipse cx="92.95" cy="58.55" rx="1.02" ry="1.37" fill="#2020e0" transform="rotate(72 92.95 58.55)"/>
<ellipse cx="14.79" cy="30.32" rx="1.35" ry="1.44" fill="#c02890" transform="rotate(143 14.79 30.32)"/>
<ellipse cx="49.79" cy="10.87" rx="1.15" ry="1.34" fill="#3a6aff" transform="rotate(12 49.79 10.87)"/>
<ellipse cx="51.2" cy="62" rx="1.15" ry="1.49" fill="#a030c0" transform="rotate(9 51.2 62)"/>
<ellipse cx="66.15" cy="32.52" rx="1.04" ry="1.12" fill="#3050f8" transform="rotate(1 66.15 32.52)"/>
<ellipse cx="12.74" cy="61.6" rx="0.84" ry="0.93" fill="#2c2cf8" transform="rotate(118 12.74 61.6)"/>
<ellipse cx="49.34" cy="6.38" rx="0.99" ry="0.99" fill="#2c2cf8" transform="rotate(82 49.34 6.38)"/>
<ellipse cx="45.2" cy="8.6" rx="1" ry="1.04" fill="#e040b0" transform="rotate(128 45.2 8.6)"/>
<ellipse cx="75.41" cy="0.23" rx="1.08" ry="1.47" fill="#3a6aff" transform="rotate(31 75.41 0.23)"/>
<ellipse cx="30.5" cy="18.57" rx="1.01" ry="1.03" fill="#3a6aff" transform="rotate(140 30.5 18.57)"/>
<ellipse cx="71.6" cy="60.75" rx="1" ry="1.19" fill="#3a6aff" transform="rotate(131 71.6 60.75)"/>
<ellipse cx="28.87" cy="45.74" rx="0.97" ry="1.3" fill="#d02898" transform="rotate(49 28.87 45.74)"/>
<ellipse cx="28.08" cy="32.18" rx="1.13" ry="1.51" fill="#e040b0" transform="rotate(90 28.08 32.18)"/>
<ellipse cx="56.42" cy="34.53" rx="1.18" ry="1.26" fill="#1c1cd0" transform="rotate(175 56.42 34.53)"/>
<ellipse cx="31.16" cy="4.72" rx="1.19" ry="1.28" fill="#3a6aff" transform="rotate(95 31.16 4.72)"/>
<ellipse cx="51.25" cy="85.46" rx="1.05" ry="1.26" fill="#2a2aff" transform="rotate(33 51.25 85.46)"/>
<ellipse cx="42.02" cy="50.86" rx="0.9" ry="1.01" fill="#1c1cd0" transform="rotate(128 42.02 50.86)"/>
<ellipse cx="69.07" cy="26.99" rx="0.92" ry="1.25" fill="#2a2aff" transform="rotate(124 69.07 26.99)"/>
<ellipse cx="67.57" cy="24.08" rx="1.13" ry="1.32" fill="#1c1cd0" transform="rotate(39 67.57 24.08)"/>
<ellipse cx="67.88" cy="11.07" rx="0.95" ry="1.09" fill="#2c2cf8" transform="rotate(63 67.88 11.07)"/>
<ellipse cx="14.14" cy="6.25" rx="1.27" ry="1.76" fill="#b02088" transform="rotate(38 14.14 6.25)"/>
<ellipse cx="78.03" cy="78.4" rx="1.01" ry="1.38" fill="#3050f8" transform="rotate(138 78.03 78.4)"/>
<ellipse cx="70.32" cy="14.65" rx="1.31" ry="1.54" fill="#b030c8" transform="rotate(157 70.32 14.65)"/>
<ellipse cx="43.02" cy="20.14" rx="1.11" ry="1.19" fill="#2a2aff" transform="rotate(50 43.02 20.14)"/>
<ellipse cx="70.09" cy="67.35" rx="0.88" ry="0.89" fill="#2038e0" transform="rotate(80 70.09 67.35)"/>
<ellipse cx="86.03" cy="62.06" rx="1.08" ry="1.11" fill="#1616b0" transform="rotate(150 86.03 62.06)"/>
<ellipse cx="89.77" cy="31.35" rx="1.29" ry="1.42" fill="#d02898" transform="rotate(85 89.77 31.35)"/>
<ellipse cx="47.86" cy="76.87" rx="1.24" ry="1.68" fill="#b02088" transform="rotate(175 47.86 76.87)"/>
<ellipse cx="36.21" cy="20.98" rx="1.06" ry="1.43" fill="#b02088" transform="rotate(39 36.21 20.98)"/>
<ellipse cx="2.05" cy="8.76" rx="0.98" ry="1.08" fill="#2a2aff" transform="rotate(101 2.05 8.76)"/>
<ellipse cx="87.59" cy="67.94" rx="1.03" ry="1.28" fill="#c02890" transform="rotate(32 87.59 67.94)"/>
<ellipse cx="27.14" cy="19.59" rx="0.99" ry="1.01" fill="#e040b0" transform="rotate(158 27.14 19.59)"/>
<ellipse cx="39.67" cy="3.97" rx="0.83" ry="1.17" fill="#1212a0" transform="rotate(158 39.67 3.97)"/>
<ellipse cx="72.24" cy="6.05" rx="1.23" ry="1.34" fill="#d03cb8" transform="rotate(86 72.24 6.05)"/>
<ellipse cx="45.92" cy="41.13" rx="0.87" ry="1.2" fill="#2222c8" transform="rotate(84 45.92 41.13)"/>
<ellipse cx="91.58" cy="67.36" rx="1.16" ry="1.28" fill="#b02088" transform="rotate(31 91.58 67.36)"/>
<ellipse cx="60.1" cy="40.82" rx="1.06" ry="1.21" fill="#1616b0" transform="rotate(165 60.1 40.82)"/>
<ellipse cx="56.61" cy="22.55" rx="1.11" ry="1.34" fill="#a030c0" transform="rotate(21 56.61 22.55)"/>
<ellipse cx="72.52" cy="79.3" rx="1.11" ry="1.31" fill="#d02898" transform="rotate(27 72.52 79.3)"/>
<ellipse cx="51.75" cy="68.85" rx="0.84" ry="0.99" fill="#2626ee" transform="rotate(152 51.75 68.85)"/>
<ellipse cx="85.27" cy="80.1" rx="0.85" ry="1.05" fill="#2c2cf8" transform="rotate(151 85.27 80.1)"/>
<ellipse cx="60.41" cy="11.67" rx="1.09" ry="1.14" fill="#1c1cd0" transform="rotate(149 60.41 11.67)"/>
<ellipse cx="40.65" cy="14.36" rx="1.38" ry="1.43" fill="#e040b0" transform="rotate(152 40.65 14.36)"/>
<ellipse cx="11.63" cy="12.76" rx="1.03" ry="1.06" fill="#1a1ac0" transform="rotate(15 11.63 12.76)"/>
<ellipse cx="50.09" cy="57.3" rx="1.33" ry="1.63" fill="#d03cb8" transform="rotate(91 50.09 57.3)"/>
<ellipse cx="93.02" cy="83.51" rx="1.39" ry="1.68" fill="#b030c8" transform="rotate(143 93.02 83.51)"/>
<ellipse cx="6.44" cy="8.63" rx="1.01" ry="1.36" fill="#2a2aff" transform="rotate(45 6.44 8.63)"/>
<ellipse cx="88.71" cy="59.2" rx="1.2" ry="1.42" fill="#2a2aff" transform="rotate(79 88.71 59.2)"/>
<ellipse cx="6.12" cy="65.66" rx="1.38" ry="1.62" fill="#a030c0" transform="rotate(139 6.12 65.66)"/>
<ellipse cx="-0.5" cy="21.6" rx="1.18" ry="1.24" fill="#2038e0" transform="rotate(58 -0.5 21.6)"/>
<ellipse cx="18.15" cy="35.94" rx="1.2" ry="1.21" fill="#e040b0" transform="rotate(152 18.15 35.94)"/>
<ellipse cx="3.98" cy="39.09" rx="1.09" ry="1.29" fill="#c828a8" transform="rotate(166 3.98 39.09)"/>
<ellipse cx="84.85" cy="18.15" rx="1.01" ry="1.19" fill="#2222c8" transform="rotate(156 84.85 18.15)"/>
<ellipse cx="67.94" cy="72.46" rx="0.91" ry="1.17" fill="#2020e0" transform="rotate(24 67.94 72.46)"/>
<ellipse cx="92.59" cy="50.78" rx="1.23" ry="1.41" fill="#c02890" transform="rotate(150 92.59 50.78)"/>
<ellipse cx="81.92" cy="41.96" rx="1.36" ry="1.84" fill="#d02898" transform="rotate(60 81.92 41.96)"/>
<ellipse cx="17.67" cy="55.65" rx="1.19" ry="1.36" fill="#1a1ac0" transform="rotate(52 17.67 55.65)"/>
<ellipse cx="63.22" cy="78.69" rx="1.15" ry="1.15" fill="#d02898" transform="rotate(65 63.22 78.69)"/>
<ellipse cx="10.67" cy="83.78" rx="0.97" ry="1.02" fill="#2848e8" transform="rotate(101 10.67 83.78)"/>
<ellipse cx="31.77" cy="22.23" rx="0.83" ry="1.1" fill="#1818a8" transform="rotate(165 31.77 22.23)"/>
<ellipse cx="59.61" cy="60.83" rx="1.03" ry="1.1" fill="#2020e0" transform="rotate(140 59.61 60.83)"/>
<ellipse cx="73.63" cy="48.78" rx="1.3" ry="1.4" fill="#c02890" transform="rotate(148 73.63 48.78)"/>
<ellipse cx="4.65" cy="46.59" rx="1.21" ry="1.67" fill="#2020e0" transform="rotate(26 4.65 46.59)"/>
<ellipse cx="30.96" cy="75.84" rx="0.85" ry="0.87" fill="#2038e0" transform="rotate(51 30.96 75.84)"/>
<ellipse cx="3.59" cy="21.01" rx="1.15" ry="1.34" fill="#2c2cf8" transform="rotate(54 3.59 21.01)"/>
<ellipse cx="65.39" cy="60.75" rx="1.17" ry="1.46" fill="#d03cb8" transform="rotate(64 65.39 60.75)"/>
<ellipse cx="80.15" cy="61.74" rx="1.15" ry="1.57" fill="#1818a8" transform="rotate(81 80.15 61.74)"/>
<ellipse cx="37.72" cy="14.35" rx="0.88" ry="0.88" fill="#2222c8" transform="rotate(28 37.72 14.35)"/>
<ellipse cx="23.41" cy="24.94" rx="1.39" ry="1.46" fill="#c828a8" transform="rotate(140 23.41 24.94)"/>
<ellipse cx="51.12" cy="41.26" rx="1.12" ry="1.27" fill="#1a1ac0" transform="rotate(117 51.12 41.26)"/>
<ellipse cx="11.24" cy="0.49" rx="0.92" ry="1.27" fill="#2848e8" transform="rotate(166 11.24 0.49)"/>
<ellipse cx="53.3" cy="3.88" rx="1.07" ry="1.24" fill="#1c1cd0" transform="rotate(144 53.3 3.88)"/>
<ellipse cx="59.89" cy="28.68" rx="1.18" ry="1.2" fill="#2626ee" transform="rotate(151 59.89 28.68)"/>
<ellipse cx="51.91" cy="38.45" rx="1.07" ry="1.15" fill="#1c1cd0" transform="rotate(15 51.91 38.45)"/>
<ellipse cx="28.51" cy="62.46" rx="1.13" ry="1.46" fill="#e040b0" transform="rotate(32 28.51 62.46)"/>
<ellipse cx="75.32" cy="67.52" rx="0.89" ry="1.02" fill="#2020e0" transform="rotate(61 75.32 67.52)"/>
<ellipse cx="-0.64" cy="40.98" rx="1.18" ry="1.53" fill="#d02898" transform="rotate(122 -0.64 40.98)"/>
<ellipse cx="74.49" cy="16.57" rx="0.97" ry="1.3" fill="#2848e8" transform="rotate(81 74.49 16.57)"/>
<ellipse cx="60.75" cy="52.68" rx="1.08" ry="1.39" fill="#3a6aff" transform="rotate(106 60.75 52.68)"/>
<ellipse cx="86.24" cy="50.68" rx="0.97" ry="1.35" fill="#1818a8" transform="rotate(63 86.24 50.68)"/>
<ellipse cx="1.99" cy="44.81" rx="1.2" ry="1.57" fill="#e040b0" transform="rotate(150 1.99 44.81)"/>
<ellipse cx="75.07" cy="26.02" rx="1.19" ry="1.26" fill="#d03cb8" transform="rotate(45 75.07 26.02)"/>
<ellipse cx="18.96" cy="9.8" rx="1.17" ry="1.2" fill="#2c2cf8" transform="rotate(135 18.96 9.8)"/>
<ellipse cx="34.81" cy="50.8" rx="1.21" ry="1.65" fill="#c02890" transform="rotate(10 34.81 50.8)"/>
<ellipse cx="33.15" cy="63.25" rx="0.92" ry="1.04" fill="#2020e0" transform="rotate(100 33.15 63.25)"/>
<ellipse cx="60.23" cy="75.61" rx="1.29" ry="1.5" fill="#b02088" transform="rotate(52 60.23 75.61)"/>
<ellipse cx="76.55" cy="60.87" rx="1.04" ry="1.33" fill="#2626ee" transform="rotate(168 76.55 60.87)"/>
<ellipse cx="8.22" cy="79.39" rx="1.17" ry="1.58" fill="#2a2aff" transform="rotate(58 8.22 79.39)"/>
<ellipse cx="60.89" cy="6.72" rx="1.09" ry="1.19" fill="#c828a8" transform="rotate(16 60.89 6.72)"/>
<ellipse cx="42.15" cy="56.18" rx="1.11" ry="1.43" fill="#1818a8" transform="rotate(170 42.15 56.18)"/>
<ellipse cx="84.55" cy="68.58" rx="0.94" ry="1.01" fill="#2038e0" transform="rotate(89 84.55 68.58)"/>
<ellipse cx="93.98" cy="65.67" rx="1.02" ry="1.4" fill="#2a2aff" transform="rotate(167 93.98 65.67)"/>
<ellipse cx="7.07" cy="22.46" rx="1.01" ry="1.39" fill="#2848e8" transform="rotate(42 7.07 22.46)"/>
<ellipse cx="38.87" cy="7.09" rx="0.86" ry="0.98" fill="#1616b0" transform="rotate(165 38.87 7.09)"/>
<ellipse cx="47.87" cy="36.2" rx="1.17" ry="1.34" fill="#2626ee" transform="rotate(0 47.87 36.2)"/>
<ellipse cx="85.17" cy="57.7" rx="0.97" ry="1.06" fill="#2c2cf8" transform="rotate(113 85.17 57.7)"/>
<ellipse cx="71.09" cy="43.55" rx="0.87" ry="1.07" fill="#2222c8" transform="rotate(148 71.09 43.55)"/>
<ellipse cx="63.4" cy="55.99" rx="1.15" ry="1.58" fill="#b02088" transform="rotate(125 63.4 55.99)"/>
<ellipse cx="35.87" cy="82.8" rx="1.04" ry="1.36" fill="#c02890" transform="rotate(44 35.87 82.8)"/>
<ellipse cx="93.03" cy="45.59" rx="0.94" ry="0.97" fill="#2626ee" transform="rotate(1 93.03 45.59)"/>
<ellipse cx="80.71" cy="74.07" rx="1.17" ry="1.4" fill="#2626ee" transform="rotate(130 80.71 74.07)"/>
<ellipse cx="20.63" cy="41.87" rx="1.15" ry="1.6" fill="#2020e0" transform="rotate(39 20.63 41.87)"/>
<ellipse cx="66.89" cy="38.28" rx="1.07" ry="1.24" fill="#3a6aff" transform="rotate(24 66.89 38.28)"/>
<ellipse cx="42.11" cy="78.88" rx="1.14" ry="1.18" fill="#d03cb8" transform="rotate(176 42.11 78.88)"/>
<ellipse cx="54.51" cy="72.63" rx="0.89" ry="0.93" fill="#2020e0" transform="rotate(26 54.51 72.63)"/>
<ellipse cx="83.08" cy="4.49" rx="0.86" ry="1" fill="#2020e0" transform="rotate(70 83.08 4.49)"/>
<ellipse cx="60.52" cy="70.67" rx="1.38" ry="1.58" fill="#d03cb8" transform="rotate(132 60.52 70.67)"/>
<ellipse cx="73.85" cy="83.53" rx="0.94" ry="1.1" fill="#2020e0" transform="rotate(155 73.85 83.53)"/>
<ellipse cx="93.9" cy="40.7" rx="0.88" ry="1.11" fill="#2038e0" transform="rotate(71 93.9 40.7)"/>
<ellipse cx="70.37" cy="37.78" rx="0.89" ry="1.13" fill="#1818a8" transform="rotate(82 70.37 37.78)"/>
<ellipse cx="22.38" cy="82.11" rx="0.96" ry="1.14" fill="#2a2aff" transform="rotate(148 22.38 82.11)"/>
<ellipse cx="8.61" cy="50.18" rx="0.86" ry="0.9" fill="#3a6aff" transform="rotate(136 8.61 50.18)"/>
<ellipse cx="8.5" cy="31.32" rx="0.93" ry="0.96" fill="#2020e0" transform="rotate(164 8.5 31.32)"/>
<ellipse cx="1.17" cy="32.85" rx="1.09" ry="1.32" fill="#2a2aff" transform="rotate(71 1.17 32.85)"/>
<ellipse cx="20.53" cy="38.89" rx="0.95" ry="1.32" fill="#e040b0" transform="rotate(143 20.53 38.89)"/>
<ellipse cx="14.67" cy="37.15" rx="1.38" ry="1.9" fill="#b02088" transform="rotate(98 14.67 37.15)"/>
<ellipse cx="-0.97" cy="87.95" rx="0.98" ry="1.01" fill="#3a6aff" transform="rotate(3 -0.97 87.95)"/>
<ellipse cx="73.05" cy="52.28" rx="0.9" ry="1.05" fill="#3a6aff" transform="rotate(156 73.05 52.28)"/>
<ellipse cx="77.08" cy="63.88" rx="1.12" ry="1.29" fill="#2222c8" transform="rotate(169 77.08 63.88)"/>
<ellipse cx="45.76" cy="24.59" rx="1" ry="1.33" fill="#1212a0" transform="rotate(168 45.76 24.59)"/>
<ellipse cx="38.53" cy="41.3" rx="1.28" ry="1.46" fill="#a030c0" transform="rotate(15 38.53 41.3)"/>
<ellipse cx="14.73" cy="17.56" rx="1.07" ry="1.26" fill="#3a6aff" transform="rotate(34 14.73 17.56)"/>
<ellipse cx="21.32" cy="6.26" rx="0.9" ry="1.07" fill="#1a1ac0" transform="rotate(107 21.32 6.26)"/>
<ellipse cx="73.76" cy="38.99" rx="0.92" ry="1.28" fill="#1a1ac0" transform="rotate(109 73.76 38.99)"/>
<ellipse cx="14.3" cy="80.56" rx="1.04" ry="1.11" fill="#e040b0" transform="rotate(117 14.3 80.56)"/>
<ellipse cx="83.02" cy="8.24" rx="1.05" ry="1.31" fill="#e040b0" transform="rotate(163 83.02 8.24)"/>
<ellipse cx="20.6" cy="26.74" rx="1.25" ry="1.59" fill="#d03cb8" transform="rotate(59 20.6 26.74)"/>
<ellipse cx="19.34" cy="21.43" rx="0.86" ry="1.09" fill="#3050f8" transform="rotate(50 19.34 21.43)"/>
<ellipse cx="56.11" cy="76.25" rx="1.18" ry="1.45" fill="#2a2aff" transform="rotate(144 56.11 76.25)"/>
<ellipse cx="6.11" cy="76.43" rx="1.36" ry="1.66" fill="#d03cb8" transform="rotate(55 6.11 76.43)"/>
<ellipse cx="64.29" cy="42.53" rx="0.96" ry="1.03" fill="#1212a0" transform="rotate(73 64.29 42.53)"/>
<ellipse cx="61.45" cy="48.76" rx="1.18" ry="1.53" fill="#1818a8" transform="rotate(103 61.45 48.76)"/>
<ellipse cx="79.7" cy="21.31" rx="0.87" ry="1.14" fill="#1818a8" transform="rotate(113 79.7 21.31)"/>
<ellipse cx="91.48" cy="17.2" rx="1.11" ry="1.14" fill="#2038e0" transform="rotate(134 91.48 17.2)"/>
<ellipse cx="44.81" cy="2.57" rx="0.88" ry="1.02" fill="#2a2aff" transform="rotate(176 44.81 2.57)"/>
<ellipse cx="52.58" cy="19.88" rx="0.89" ry="1.24" fill="#3a6aff" transform="rotate(98 52.58 19.88)"/>
<ellipse cx="45.75" cy="49.73" rx="0.98" ry="1.05" fill="#d02898" transform="rotate(63 45.75 49.73)"/>
<ellipse cx="11.5" cy="57.08" rx="1.22" ry="1.54" fill="#b02088" transform="rotate(44 11.5 57.08)"/>
<ellipse cx="68.22" cy="62.16" rx="1.1" ry="1.29" fill="#2222c8" transform="rotate(130 68.22 62.16)"/>
<ellipse cx="20.17" cy="53.47" rx="1.02" ry="1.28" fill="#2a2aff" transform="rotate(34 20.17 53.47)"/>
<ellipse cx="7" cy="37.75" rx="0.94" ry="0.95" fill="#3050f8" transform="rotate(49 7 37.75)"/>
<ellipse cx="15.38" cy="45.21" rx="1.04" ry="1.16" fill="#2c2cf8" transform="rotate(93 15.38 45.21)"/>
<ellipse cx="89.43" cy="44.01" rx="0.95" ry="1" fill="#2848e8" transform="rotate(97 89.43 44.01)"/>
<ellipse cx="36.41" cy="57.21" rx="0.89" ry="1.04" fill="#2626ee" transform="rotate(149 36.41 57.21)"/>
<ellipse cx="26.46" cy="1.14" rx="1.01" ry="1.04" fill="#e040b0" transform="rotate(169 26.46 1.14)"/>
<ellipse cx="75.24" cy="33.7" rx="1.05" ry="1.11" fill="#3050f8" transform="rotate(42 75.24 33.7)"/>
<ellipse cx="9.91" cy="41.33" rx="1.09" ry="1.45" fill="#2038e0" transform="rotate(15 9.91 41.33)"/>
<ellipse cx="57.81" cy="31.57" rx="1" ry="1.19" fill="#2c2cf8" transform="rotate(91 57.81 31.57)"/>
<ellipse cx="88.32" cy="34.92" rx="0.96" ry="1.01" fill="#2c2cf8" transform="rotate(152 88.32 34.92)"/>
<ellipse cx="11.02" cy="18.36" rx="0.87" ry="0.92" fill="#1212a0" transform="rotate(58 11.02 18.36)"/>
<ellipse cx="56.99" cy="62.95" rx="0.99" ry="1.25" fill="#d03cb8" transform="rotate(155 56.99 62.95)"/>
<ellipse cx="8.54" cy="57.97" rx="1.12" ry="1.3" fill="#1818a8" transform="rotate(83 8.54 57.97)"/>
<ellipse cx="63.14" cy="74.2" rx="1.21" ry="1.45" fill="#b030c8" transform="rotate(154 63.14 74.2)"/>
<ellipse cx="41.67" cy="62.42" rx="0.98" ry="1.17" fill="#2038e0" transform="rotate(9 41.67 62.42)"/>
<ellipse cx="86.01" cy="39.67" rx="0.86" ry="1.19" fill="#3a6aff" transform="rotate(130 86.01 39.67)"/>
<ellipse cx="53.95" cy="6.96" rx="0.85" ry="1.03" fill="#2020e0" transform="rotate(131 53.95 6.96)"/>
<ellipse cx="1.79" cy="74.7" rx="1.1" ry="1.29" fill="#a030c0" transform="rotate(16 1.79 74.7)"/>
</g><rect x="83" y="85" width="9" height="1.5" fill="#ddd"/>
</svg>
<rect x="578.4" y="419" width="93.6" height="87" fill="#000"/>
<svg x="578.4" y="419" width="93.6" height="87" overflow="hidden"><g filter="url(#mb)">
<ellipse cx="20.09" cy="69.4" rx="1.03" ry="1.39" fill="#2626ee" transform="rotate(139 20.09 69.4)"/>
<ellipse cx="17.34" cy="24.99" rx="0.83" ry="0.98" fill="#1212a0" transform="rotate(61 17.34 24.99)"/>
<ellipse cx="94.37" cy="20.57" rx="1.04" ry="1.18" fill="#2626ee" transform="rotate(2 94.37 20.57)"/>
<ellipse cx="4.49" cy="16.32" rx="1.01" ry="1.29" fill="#3a6aff" transform="rotate(158 4.49 16.32)"/>
<ellipse cx="48.82" cy="49.98" rx="1.14" ry="1.28" fill="#2a2aff" transform="rotate(154 48.82 49.98)"/>
<ellipse cx="14.11" cy="48.46" rx="1.08" ry="1.32" fill="#2222c8" transform="rotate(144 14.11 48.46)"/>
<ellipse cx="31.99" cy="85.62" rx="0.94" ry="1.11" fill="#1616b0" transform="rotate(28 31.99 85.62)"/>
<ellipse cx="36.28" cy="86.19" rx="0.95" ry="1.1" fill="#1818a8" transform="rotate(9 36.28 86.19)"/>
<ellipse cx="63.76" cy="84.29" rx="1.14" ry="1.44" fill="#2222c8" transform="rotate(63 63.76 84.29)"/>
<ellipse cx="4.21" cy="0.38" rx="1.29" ry="1.31" fill="#d03cb8" transform="rotate(126 4.21 0.38)"/>
<ellipse cx="61.14" cy="40.46" rx="0.94" ry="1.04" fill="#3050f8" transform="rotate(168 61.14 40.46)"/>
<ellipse cx="1.52" cy="8.01" rx="1" ry="1.22" fill="#1212a0" transform="rotate(97 1.52 8.01)"/>
<ellipse cx="13.99" cy="0.14" rx="1.06" ry="1.45" fill="#2038e0" transform="rotate(89 13.99 0.14)"/>
<ellipse cx="-0.4" cy="16.34" rx="1.03" ry="1.19" fill="#1818a8" transform="rotate(65 -0.4 16.34)"/>
<ellipse cx="2.47" cy="47.08" rx="1.01" ry="1.33" fill="#2626ee" transform="rotate(83 2.47 47.08)"/>
<ellipse cx="46.76" cy="68.89" rx="0.9" ry="1.24" fill="#2038e0" transform="rotate(0 46.76 68.89)"/>
<ellipse cx="5.96" cy="39.4" rx="1.07" ry="1.33" fill="#1a1ac0" transform="rotate(128 5.96 39.4)"/>
<ellipse cx="21.39" cy="48.3" rx="0.87" ry="1.06" fill="#1818a8" transform="rotate(55 21.39 48.3)"/>
<ellipse cx="38.96" cy="82.77" rx="1.08" ry="1.48" fill="#1a1ac0" transform="rotate(145 38.96 82.77)"/>
<ellipse cx="47.39" cy="76.53" rx="0.93" ry="1.17" fill="#2a2aff" transform="rotate(113 47.39 76.53)"/>
<ellipse cx="52.95" cy="42.39" rx="0.94" ry="1.14" fill="#2a2aff" transform="rotate(134 52.95 42.39)"/>
<ellipse cx="13.6" cy="15.95" rx="1.12" ry="1.24" fill="#1616b0" transform="rotate(35 13.6 15.95)"/>
<ellipse cx="50.37" cy="67.94" rx="1.2" ry="1.27" fill="#c02890" transform="rotate(147 50.37 67.94)"/>
<ellipse cx="35.76" cy="48.42" rx="1.04" ry="1.24" fill="#1212a0" transform="rotate(129 35.76 48.42)"/>
<ellipse cx="90.93" cy="55.54" rx="1.13" ry="1.26" fill="#1212a0" transform="rotate(137 90.93 55.54)"/>
<ellipse cx="46" cy="73.83" rx="0.88" ry="0.88" fill="#1a1ac0" transform="rotate(10 46 73.83)"/>
<ellipse cx="65.91" cy="77.09" rx="0.86" ry="1" fill="#1a1ac0" transform="rotate(53 65.91 77.09)"/>
<ellipse cx="34.12" cy="36.19" rx="1.03" ry="1.45" fill="#2222c8" transform="rotate(158 34.12 36.19)"/>
<ellipse cx="3.98" cy="51.64" rx="0.87" ry="1.05" fill="#2038e0" transform="rotate(25 3.98 51.64)"/>
<ellipse cx="69.62" cy="50.52" rx="0.95" ry="1.11" fill="#2848e8" transform="rotate(157 69.62 50.52)"/>
<ellipse cx="88.29" cy="59.83" rx="1.06" ry="1.15" fill="#2c2cf8" transform="rotate(45 88.29 59.83)"/>
<ellipse cx="17.52" cy="16.64" rx="1.04" ry="1.24" fill="#2222c8" transform="rotate(77 17.52 16.64)"/>
<ellipse cx="65.13" cy="71.29" rx="1.06" ry="1.17" fill="#1818a8" transform="rotate(58 65.13 71.29)"/>
<ellipse cx="18.3" cy="84.71" rx="0.9" ry="1.1" fill="#1c1cd0" transform="rotate(101 18.3 84.71)"/>
<ellipse cx="94.58" cy="34.25" rx="0.8" ry="0.81" fill="#2626ee" transform="rotate(156 94.58 34.25)"/>
<ellipse cx="27.77" cy="67.21" rx="1.02" ry="1.3" fill="#3a6aff" transform="rotate(135 27.77 67.21)"/>
<ellipse cx="12.33" cy="5.91" rx="0.89" ry="1.17" fill="#1a1ac0" transform="rotate(124 12.33 5.91)"/>
<ellipse cx="53.67" cy="31.64" rx="0.9" ry="1.16" fill="#2a2aff" transform="rotate(160 53.67 31.64)"/>
<ellipse cx="11.03" cy="24.29" rx="0.91" ry="1.27" fill="#1818a8" transform="rotate(75 11.03 24.29)"/>
<ellipse cx="30.12" cy="60.78" rx="1.09" ry="1.12" fill="#2222c8" transform="rotate(57 30.12 60.78)"/>
<ellipse cx="70.77" cy="58.07" rx="0.86" ry="1.11" fill="#1212a0" transform="rotate(15 70.77 58.07)"/>
<ellipse cx="58.99" cy="75.9" rx="1.09" ry="1.5" fill="#d02898" transform="rotate(52 58.99 75.9)"/>
<ellipse cx="86.38" cy="47.38" rx="1.15" ry="1.41" fill="#2848e8" transform="rotate(4 86.38 47.38)"/>
<ellipse cx="69.29" cy="81.45" rx="0.98" ry="1.35" fill="#2c2cf8" transform="rotate(145 69.29 81.45)"/>
<ellipse cx="67.46" cy="52.84" rx="1.06" ry="1.18" fill="#1818a8" transform="rotate(69 67.46 52.84)"/>
<ellipse cx="18.16" cy="54.44" rx="1.13" ry="1.38" fill="#1212a0" transform="rotate(12 18.16 54.44)"/>
<ellipse cx="41.75" cy="68" rx="0.87" ry="1.1" fill="#2020e0" transform="rotate(37 41.75 68)"/>
<ellipse cx="50.68" cy="16.21" rx="0.94" ry="1.31" fill="#1c1cd0" transform="rotate(162 50.68 16.21)"/>
<ellipse cx="62.62" cy="14.6" rx="0.91" ry="1.1" fill="#1818a8" transform="rotate(31 62.62 14.6)"/>
<ellipse cx="22.69" cy="51.02" rx="0.79" ry="1" fill="#1c1cd0" transform="rotate(71 22.69 51.02)"/>
<ellipse cx="-0.57" cy="83.44" rx="1.07" ry="1.18" fill="#2a2aff" transform="rotate(50 -0.57 83.44)"/>
<ellipse cx="76.42" cy="60.94" rx="1.02" ry="1.33" fill="#2038e0" transform="rotate(142 76.42 60.94)"/>
<ellipse cx="67.8" cy="4.55" rx="0.84" ry="0.92" fill="#2038e0" transform="rotate(111 67.8 4.55)"/>
<ellipse cx="40.74" cy="45.53" rx="0.96" ry="1.23" fill="#3050f8" transform="rotate(152 40.74 45.53)"/>
<ellipse cx="60.92" cy="0.48" rx="0.94" ry="1.09" fill="#c02890" transform="rotate(86 60.92 0.48)"/>
<ellipse cx="83.3" cy="73.61" rx="1.01" ry="1.27" fill="#2c2cf8" transform="rotate(146 83.3 73.61)"/>
<ellipse cx="58.2" cy="58.04" rx="1.05" ry="1.13" fill="#3a6aff" transform="rotate(69 58.2 58.04)"/>
<ellipse cx="45.32" cy="11" rx="0.84" ry="0.92" fill="#2a2aff" transform="rotate(54 45.32 11)"/>
<ellipse cx="45.7" cy="4.31" rx="0.92" ry="1.2" fill="#1c1cd0" transform="rotate(144 45.7 4.31)"/>
<ellipse cx="73.67" cy="75.45" rx="0.98" ry="1.14" fill="#2222c8" transform="rotate(60 73.67 75.45)"/>
<ellipse cx="7.03" cy="36.2" rx="0.93" ry="1.1" fill="#2038e0" transform="rotate(141 7.03 36.2)"/>
<ellipse cx="86.1" cy="14.71" rx="1" ry="1.08" fill="#2a2aff" transform="rotate(76 86.1 14.71)"/>
<ellipse cx="5.95" cy="21.68" rx="0.98" ry="1.13" fill="#2848e8" transform="rotate(7 5.95 21.68)"/>
<ellipse cx="66.66" cy="24.99" rx="1.04" ry="1.08" fill="#3050f8" transform="rotate(31 66.66 24.99)"/>
<ellipse cx="18.84" cy="51.43" rx="1.03" ry="1.31" fill="#1616b0" transform="rotate(164 18.84 51.43)"/>
<ellipse cx="89.27" cy="20.35" rx="0.98" ry="1.2" fill="#1a1ac0" transform="rotate(141 89.27 20.35)"/>
<ellipse cx="38.18" cy="14.02" rx="0.82" ry="0.83" fill="#1212a0" transform="rotate(22 38.18 14.02)"/>
<ellipse cx="75.32" cy="55.27" rx="1.17" ry="1.44" fill="#c02890" transform="rotate(174 75.32 55.27)"/>
<ellipse cx="55.5" cy="87.57" rx="1.09" ry="1.43" fill="#1212a0" transform="rotate(63 55.5 87.57)"/>
<ellipse cx="68.7" cy="10.94" rx="0.85" ry="1.08" fill="#1a1ac0" transform="rotate(145 68.7 10.94)"/>
<ellipse cx="10.6" cy="50.63" rx="1.03" ry="1.35" fill="#2c2cf8" transform="rotate(114 10.6 50.63)"/>
<ellipse cx="35.69" cy="75.28" rx="0.96" ry="1.06" fill="#3a6aff" transform="rotate(62 35.69 75.28)"/>
<ellipse cx="89.08" cy="64.7" rx="1.14" ry="1.48" fill="#d02898" transform="rotate(135 89.08 64.7)"/>
<ellipse cx="3.69" cy="59.19" rx="1.21" ry="1.67" fill="#c828a8" transform="rotate(108 3.69 59.19)"/>
<ellipse cx="57.16" cy="33.67" rx="1.11" ry="1.32" fill="#1c1cd0" transform="rotate(48 57.16 33.67)"/>
<ellipse cx="44.3" cy="26.59" rx="0.87" ry="1.19" fill="#2038e0" transform="rotate(143 44.3 26.59)"/>
<ellipse cx="58" cy="9.31" rx="1" ry="1.16" fill="#2038e0" transform="rotate(106 58 9.31)"/>
<ellipse cx="24.95" cy="31.28" rx="1.01" ry="1.01" fill="#2c2cf8" transform="rotate(69 24.95 31.28)"/>
<ellipse cx="81.7" cy="36.08" rx="1.04" ry="1.1" fill="#3a6aff" transform="rotate(93 81.7 36.08)"/>
<ellipse cx="55.42" cy="19.82" rx="1.09" ry="1.42" fill="#2222c8" transform="rotate(51 55.42 19.82)"/>
<ellipse cx="80.15" cy="65.95" rx="0.8" ry="1.02" fill="#1c1cd0" transform="rotate(3 80.15 65.95)"/>
<ellipse cx="20.47" cy="59.8" rx="1.12" ry="1.54" fill="#2020e0" transform="rotate(42 20.47 59.8)"/>
<ellipse cx="14.4" cy="25.97" rx="0.81" ry="0.96" fill="#1a1ac0" transform="rotate(23 14.4 25.97)"/>
<ellipse cx="55.94" cy="62.19" rx="0.95" ry="1.25" fill="#1616b0" transform="rotate(41 55.94 62.19)"/>
<ellipse cx="40.07" cy="76.32" rx="1" ry="1.01" fill="#3050f8" transform="rotate(4 40.07 76.32)"/>
<ellipse cx="45.51" cy="18.42" rx="0.88" ry="1.15" fill="#1616b0" transform="rotate(105 45.51 18.42)"/>
<ellipse cx="94.4" cy="74.53" rx="0.88" ry="1.13" fill="#2a2aff" transform="rotate(171 94.4 74.53)"/>
<ellipse cx="64.84" cy="33.58" rx="1.1" ry="1.22" fill="#2848e8" transform="rotate(151 64.84 33.58)"/>
<ellipse cx="60.19" cy="65.34" rx="0.91" ry="1.16" fill="#1212a0" transform="rotate(55 60.19 65.34)"/>
<ellipse cx="14.03" cy="42.68" rx="0.89" ry="1.21" fill="#3a6aff" transform="rotate(150 14.03 42.68)"/>
<ellipse cx="66.05" cy="57.38" rx="0.95" ry="1.03" fill="#2038e0" transform="rotate(112 66.05 57.38)"/>
<ellipse cx="61.52" cy="62.27" rx="1.14" ry="1.17" fill="#1212a0" transform="rotate(158 61.52 62.27)"/>
<ellipse cx="94.04" cy="13.14" rx="1.08" ry="1.36" fill="#2020e0" transform="rotate(103 94.04 13.14)"/>
<ellipse cx="73.39" cy="86.12" rx="1.1" ry="1.26" fill="#1616b0" transform="rotate(93 73.39 86.12)"/>
<ellipse cx="33.3" cy="77.07" rx="0.96" ry="1" fill="#2a2aff" transform="rotate(160 33.3 77.07)"/>
<ellipse cx="16.88" cy="67.85" rx="1.02" ry="1.24" fill="#3050f8" transform="rotate(146 16.88 67.85)"/>
<ellipse cx="84.53" cy="81.5" rx="1.04" ry="1.42" fill="#1a1ac0" transform="rotate(178 84.53 81.5)"/>
<ellipse cx="39.09" cy="26.56" rx="0.89" ry="0.97" fill="#2626ee" transform="rotate(13 39.09 26.56)"/>
<ellipse cx="81.38" cy="87.75" rx="0.87" ry="1.13" fill="#3050f8" transform="rotate(40 81.38 87.75)"/>
<ellipse cx="75.43" cy="79.04" rx="1.08" ry="1.17" fill="#1a1ac0" transform="rotate(112 75.43 79.04)"/>
<ellipse cx="13.98" cy="39.54" rx="0.94" ry="1.18" fill="#1a1ac0" transform="rotate(163 13.98 39.54)"/>
<ellipse cx="62.35" cy="18.23" rx="0.88" ry="1.2" fill="#3a6aff" transform="rotate(3 62.35 18.23)"/>
<ellipse cx="17.45" cy="44.76" rx="0.91" ry="1.17" fill="#1212a0" transform="rotate(49 17.45 44.76)"/>
<ellipse cx="52.21" cy="1.8" rx="1.33" ry="1.34" fill="#e040b0" transform="rotate(125 52.21 1.8)"/>
<ellipse cx="63.13" cy="53.52" rx="1.06" ry="1.39" fill="#3a6aff" transform="rotate(72 63.13 53.52)"/>
<ellipse cx="24.82" cy="16.84" rx="0.8" ry="1.02" fill="#1212a0" transform="rotate(59 24.82 16.84)"/>
<ellipse cx="22.64" cy="37.63" rx="0.99" ry="1.37" fill="#1c1cd0" transform="rotate(62 22.64 37.63)"/>
<ellipse cx="8.46" cy="67.85" rx="1.2" ry="1.41" fill="#d03cb8" transform="rotate(155 8.46 67.85)"/>
<ellipse cx="80.56" cy="68.95" rx="0.86" ry="0.86" fill="#2626ee" transform="rotate(118 80.56 68.95)"/>
<ellipse cx="86.91" cy="83.64" rx="0.97" ry="1.31" fill="#2038e0" transform="rotate(15 86.91 83.64)"/>
<ellipse cx="16.63" cy="71.41" rx="1.08" ry="1.49" fill="#2c2cf8" transform="rotate(42 16.63 71.41)"/>
<ellipse cx="17.37" cy="74.32" rx="0.92" ry="0.94" fill="#1212a0" transform="rotate(53 17.37 74.32)"/>
<ellipse cx="73.26" cy="19.55" rx="1.12" ry="1.12" fill="#1212a0" transform="rotate(71 73.26 19.55)"/>
<ellipse cx="35.5" cy="12.2" rx="0.79" ry="1.07" fill="#2848e8" transform="rotate(55 35.5 12.2)"/>
<ellipse cx="51.98" cy="45.35" rx="0.92" ry="1.07" fill="#1212a0" transform="rotate(59 51.98 45.35)"/>
<ellipse cx="46.65" cy="31.2" rx="0.9" ry="1.16" fill="#2222c8" transform="rotate(166 46.65 31.2)"/>
<ellipse cx="90.89" cy="42.2" rx="1.18" ry="1.22" fill="#c02890" transform="rotate(150 90.89 42.2)"/>
<ellipse cx="77.45" cy="84.88" rx="0.97" ry="1.26" fill="#2222c8" transform="rotate(94 77.45 84.88)"/>
<ellipse cx="22.29" cy="1.71" rx="1.14" ry="1.24" fill="#2020e0" transform="rotate(172 22.29 1.71)"/>
<ellipse cx="24.8" cy="57.39" rx="0.84" ry="1.01" fill="#2038e0" transform="rotate(95 24.8 57.39)"/>
<ellipse cx="43.76" cy="7.76" rx="0.86" ry="0.92" fill="#3050f8" transform="rotate(103 43.76 7.76)"/>
<ellipse cx="89.56" cy="71.02" rx="1.22" ry="1.25" fill="#c828a8" transform="rotate(58 89.56 71.02)"/>
<ellipse cx="84.02" cy="10.14" rx="1.1" ry="1.16" fill="#2222c8" transform="rotate(167 84.02 10.14)"/>
<ellipse cx="80.93" cy="28.02" rx="1.03" ry="1.33" fill="#3050f8" transform="rotate(115 80.93 28.02)"/>
<ellipse cx="68.71" cy="27.76" rx="1.13" ry="1.19" fill="#3050f8" transform="rotate(53 68.71 27.76)"/>
<ellipse cx="31.86" cy="28.34" rx="1.13" ry="1.42" fill="#2222c8" transform="rotate(121 31.86 28.34)"/>
<ellipse cx="13.31" cy="83.15" rx="1.07" ry="1.15" fill="#2020e0" transform="rotate(3 13.31 83.15)"/>
<ellipse cx="2.55" cy="26.21" rx="0.82" ry="1.07" fill="#2626ee" transform="rotate(135 2.55 26.21)"/>
<ellipse cx="9.59" cy="16.65" rx="1.1" ry="1.34" fill="#c02890" transform="rotate(118 9.59 16.65)"/>
<ellipse cx="52.28" cy="11.18" rx="1.14" ry="1.55" fill="#2020e0" transform="rotate(132 52.28 11.18)"/>
<ellipse cx="88.75" cy="0.43" rx="0.82" ry="1.08" fill="#1212a0" transform="rotate(170 88.75 0.43)"/>
<ellipse cx="4.86" cy="27.99" rx="1.26" ry="1.7" fill="#d02898" transform="rotate(74 4.86 27.99)"/>
<ellipse cx="85.94" cy="2.78" rx="0.95" ry="1.08" fill="#3a6aff" transform="rotate(176 85.94 2.78)"/>
<ellipse cx="15.88" cy="12.01" rx="0.91" ry="1.15" fill="#3050f8" transform="rotate(101 15.88 12.01)"/>
<ellipse cx="73.71" cy="28.82" rx="0.92" ry="1.28" fill="#1818a8" transform="rotate(157 73.71 28.82)"/>
<ellipse cx="91.24" cy="37.29" rx="0.94" ry="1.17" fill="#2038e0" transform="rotate(101 91.24 37.29)"/>
<ellipse cx="28.06" cy="19.62" rx="0.92" ry="1.13" fill="#2626ee" transform="rotate(58 28.06 19.62)"/>
<ellipse cx="27.94" cy="49.22" rx="1.1" ry="1.37" fill="#e040b0" transform="rotate(161 27.94 49.22)"/>
<ellipse cx="3.45" cy="32.98" rx="1.01" ry="1.15" fill="#3a6aff" transform="rotate(160 3.45 32.98)"/>
<ellipse cx="38.08" cy="67.48" rx="0.97" ry="1.09" fill="#2038e0" transform="rotate(22 38.08 67.48)"/>
<ellipse cx="66.94" cy="37.64" rx="0.81" ry="1.11" fill="#2c2cf8" transform="rotate(81 66.94 37.64)"/>
<ellipse cx="1.34" cy="29.05" rx="1.1" ry="1.37" fill="#3a6aff" transform="rotate(75 1.34 29.05)"/>
<ellipse cx="37.79" cy="5.91" rx="1.06" ry="1.33" fill="#3050f8" transform="rotate(107 37.79 5.91)"/>
<ellipse cx="15.4" cy="60.51" rx="1.08" ry="1.37" fill="#c02890" transform="rotate(18 15.4 60.51)"/>
<ellipse cx="89.04" cy="4.12" rx="0.92" ry="1.21" fill="#2020e0" transform="rotate(150 89.04 4.12)"/>
<ellipse cx="8.52" cy="71.56" rx="1.11" ry="1.26" fill="#1c1cd0" transform="rotate(51 8.52 71.56)"/>
<ellipse cx="88.47" cy="78.37" rx="0.9" ry="1.12" fill="#1c1cd0" transform="rotate(147 88.47 78.37)"/>
<ellipse cx="46.01" cy="46.24" rx="0.99" ry="1.17" fill="#2a2aff" transform="rotate(113 46.01 46.24)"/>
<ellipse cx="27.09" cy="12.53" rx="0.87" ry="1.17" fill="#2c2cf8" transform="rotate(61 27.09 12.53)"/>
<ellipse cx="77.34" cy="70.8" rx="1.2" ry="1.42" fill="#a030c0" transform="rotate(179 77.34 70.8)"/>
<ellipse cx="91.28" cy="31.1" rx="0.99" ry="1.22" fill="#2222c8" transform="rotate(39 91.28 31.1)"/>
<ellipse cx="89.44" cy="48.45" rx="1.08" ry="1.43" fill="#3a6aff" transform="rotate(157 89.44 48.45)"/>
<ellipse cx="52.12" cy="23.72" rx="0.8" ry="0.98" fill="#3a6aff" transform="rotate(109 52.12 23.72)"/>
<ellipse cx="33.9" cy="22.16" rx="1.03" ry="1.27" fill="#2a2aff" transform="rotate(82 33.9 22.16)"/>
<ellipse cx="82.15" cy="31.8" rx="0.92" ry="1.24" fill="#2020e0" transform="rotate(114 82.15 31.8)"/>
<ellipse cx="90.86" cy="7.85" rx="1.08" ry="1.13" fill="#2c2cf8" transform="rotate(74 90.86 7.85)"/>
<ellipse cx="43.47" cy="20.56" rx="1.14" ry="1.44" fill="#2222c8" transform="rotate(128 43.47 20.56)"/>
<ellipse cx="74.92" cy="37.23" rx="0.93" ry="1.06" fill="#1a1ac0" transform="rotate(2 74.92 37.23)"/>
<ellipse cx="90.46" cy="84.94" rx="1.02" ry="1.34" fill="#1a1ac0" transform="rotate(38 90.46 84.94)"/>
<ellipse cx="24.07" cy="13.15" rx="0.95" ry="1.27" fill="#2020e0" transform="rotate(132 24.07 13.15)"/>
<ellipse cx="36.26" cy="25.66" rx="1.03" ry="1.15" fill="#1c1cd0" transform="rotate(0 36.26 25.66)"/>
<ellipse cx="27.33" cy="76.77" rx="1.13" ry="1.28" fill="#1818a8" transform="rotate(56 27.33 76.77)"/>
<ellipse cx="54.97" cy="22.65" rx="0.83" ry="1.08" fill="#1c1cd0" transform="rotate(31 54.97 22.65)"/>
<ellipse cx="49.18" cy="38.51" rx="1.05" ry="1.27" fill="#3a6aff" transform="rotate(25 49.18 38.51)"/>
<ellipse cx="60.16" cy="29.09" rx="0.91" ry="1.07" fill="#2038e0" transform="rotate(116 60.16 29.09)"/>
<ellipse cx="26.57" cy="83.16" rx="1.07" ry="1.13" fill="#1212a0" transform="rotate(164 26.57 83.16)"/>
<ellipse cx="33.7" cy="43.8" rx="1.14" ry="1.28" fill="#2a2aff" transform="rotate(26 33.7 43.8)"/>
<ellipse cx="78.29" cy="39.87" rx="0.86" ry="1.02" fill="#2222c8" transform="rotate(146 78.29 39.87)"/>
<ellipse cx="79.99" cy="25" rx="0.81" ry="1.09" fill="#3a6aff" transform="rotate(132 79.99 25)"/>
<ellipse cx="2.7" cy="39.71" rx="0.88" ry="1.01" fill="#1818a8" transform="rotate(99 2.7 39.71)"/>
<ellipse cx="10.39" cy="0.32" rx="1.07" ry="1.44" fill="#2626ee" transform="rotate(77 10.39 0.32)"/>
<ellipse cx="38.81" cy="23.1" rx="0.97" ry="1.11" fill="#2848e8" transform="rotate(109 38.81 23.1)"/>
<ellipse cx="70.78" cy="15.01" rx="1.04" ry="1.05" fill="#3050f8" transform="rotate(161 70.78 15.01)"/>
<ellipse cx="45.76" cy="54.94" rx="0.87" ry="1.13" fill="#3050f8" transform="rotate(29 45.76 54.94)"/>
<ellipse cx="6.32" cy="45.58" rx="0.98" ry="1.34" fill="#2626ee" transform="rotate(98 6.32 45.58)"/>
<ellipse cx="16.24" cy="30.38" rx="0.83" ry="0.85" fill="#1818a8" transform="rotate(67 16.24 30.38)"/>
<ellipse cx="36.14" cy="60.4" rx="1.09" ry="1.51" fill="#2c2cf8" transform="rotate(45 36.14 60.4)"/>
<ellipse cx="28.55" cy="56.01" rx="0.91" ry="1.16" fill="#2222c8" transform="rotate(20 28.55 56.01)"/>
<ellipse cx="81.14" cy="-0.48" rx="0.83" ry="1.12" fill="#1818a8" transform="rotate(152 81.14 -0.48)"/>
<ellipse cx="70.65" cy="47.11" rx="1.01" ry="1.33" fill="#2848e8" transform="rotate(106 70.65 47.11)"/>
<ellipse cx="82.36" cy="78.22" rx="1.03" ry="1.05" fill="#a030c0" transform="rotate(15 82.36 78.22)"/>
<ellipse cx="53.02" cy="55.64" rx="0.84" ry="0.91" fill="#1c1cd0" transform="rotate(127 53.02 55.64)"/>
<ellipse cx="71.97" cy="83" rx="0.8" ry="1.03" fill="#2222c8" transform="rotate(144 71.97 83)"/>
<ellipse cx="36.39" cy="79.55" rx="0.86" ry="0.89" fill="#2626ee" transform="rotate(13 36.39 79.55)"/>
<ellipse cx="62.96" cy="80.57" rx="1.06" ry="1.14" fill="#1616b0" transform="rotate(140 62.96 80.57)"/>
<ellipse cx="24.22" cy="45.29" rx="0.89" ry="0.9" fill="#2020e0" transform="rotate(154 24.22 45.29)"/>
<ellipse cx="-0.8" cy="76.27" rx="0.84" ry="0.88" fill="#3050f8" transform="rotate(86 -0.8 76.27)"/>
<ellipse cx="18.39" cy="33.86" rx="1.12" ry="1.4" fill="#2848e8" transform="rotate(166 18.39 33.86)"/>
<ellipse cx="59.86" cy="79.92" rx="0.89" ry="1.11" fill="#2222c8" transform="rotate(101 59.86 79.92)"/>
<ellipse cx="27.23" cy="5.38" rx="0.99" ry="1.29" fill="#2222c8" transform="rotate(84 27.23 5.38)"/>
<ellipse cx="48.69" cy="53.1" rx="1.06" ry="1.3" fill="#1616b0" transform="rotate(73 48.69 53.1)"/>
<ellipse cx="87.85" cy="37.61" rx="1.09" ry="1.46" fill="#1212a0" transform="rotate(53 87.85 37.61)"/>
<ellipse cx="39.05" cy="52.23" rx="0.88" ry="1.04" fill="#1212a0" transform="rotate(152 39.05 52.23)"/>
<ellipse cx="18.87" cy="28.39" rx="1.07" ry="1.49" fill="#2c2cf8" transform="rotate(104 18.87 28.39)"/>
<ellipse cx="30.89" cy="32.16" rx="0.94" ry="1.3" fill="#3a6aff" transform="rotate(106 30.89 32.16)"/>
<ellipse cx="41.46" cy="60.84" rx="1.1" ry="1.3" fill="#b030c8" transform="rotate(119 41.46 60.84)"/>
<ellipse cx="62.54" cy="46.77" rx="0.94" ry="1.19" fill="#2626ee" transform="rotate(137 62.54 46.77)"/>
<ellipse cx="30.82" cy="46.58" rx="0.87" ry="0.87" fill="#2038e0" transform="rotate(97 30.82 46.58)"/>
<ellipse cx="3.33" cy="63.17" rx="1.08" ry="1.25" fill="#1212a0" transform="rotate(38 3.33 63.17)"/>
<ellipse cx="17.16" cy="39.68" rx="0.8" ry="0.88" fill="#1616b0" transform="rotate(44 17.16 39.68)"/>
<ellipse cx="45.04" cy="81.15" rx="0.86" ry="1.06" fill="#1818a8" transform="rotate(172 45.04 81.15)"/>
<ellipse cx="43.98" cy="62.92" rx="0.9" ry="1.19" fill="#2c2cf8" transform="rotate(96 43.98 62.92)"/>
<ellipse cx="29.39" cy="29.74" rx="1" ry="1.17" fill="#1c1cd0" transform="rotate(111 29.39 29.74)"/>
<ellipse cx="41.55" cy="13.57" rx="0.86" ry="0.88" fill="#2020e0" transform="rotate(49 41.55 13.57)"/>
<ellipse cx="6.68" cy="58.39" rx="0.87" ry="1.19" fill="#1a1ac0" transform="rotate(28 6.68 58.39)"/>
<ellipse cx="59.13" cy="37.52" rx="1.11" ry="1.39" fill="#2020e0" transform="rotate(96 59.13 37.52)"/>
<ellipse cx="20.68" cy="65.38" rx="0.84" ry="1.18" fill="#2020e0" transform="rotate(56 20.68 65.38)"/>
<ellipse cx="25.54" cy="73.68" rx="0.99" ry="1.16" fill="#1212a0" transform="rotate(7 25.54 73.68)"/>
<ellipse cx="49.1" cy="1.36" rx="1.14" ry="1.14" fill="#2222c8" transform="rotate(129 49.1 1.36)"/>
<ellipse cx="68.71" cy="86.3" rx="1.03" ry="1.39" fill="#1818a8" transform="rotate(70 68.71 86.3)"/>
<ellipse cx="80.68" cy="47.93" rx="0.81" ry="0.83" fill="#2020e0" transform="rotate(5 80.68 47.93)"/>
<ellipse cx="29.2" cy="86.63" rx="1.06" ry="1.45" fill="#1818a8" transform="rotate(132 29.2 86.63)"/>
<ellipse cx="17.26" cy="80.66" rx="0.8" ry="0.96" fill="#2020e0" transform="rotate(103 17.26 80.66)"/>
<ellipse cx="22.38" cy="5.36" rx="0.79" ry="1.07" fill="#2626ee" transform="rotate(157 22.38 5.36)"/>
<ellipse cx="79.9" cy="76.96" rx="0.96" ry="1.31" fill="#1818a8" transform="rotate(34 79.9 76.96)"/>
<ellipse cx="23.86" cy="10.36" rx="0.86" ry="1.06" fill="#2c2cf8" transform="rotate(178 23.86 10.36)"/>
<ellipse cx="91.79" cy="10.62" rx="0.9" ry="1.1" fill="#2848e8" transform="rotate(30 91.79 10.62)"/>
<ellipse cx="60.36" cy="52.3" rx="1.09" ry="1.37" fill="#1a1ac0" transform="rotate(123 60.36 52.3)"/>
<ellipse cx="-0.03" cy="48.79" rx="1.02" ry="1.13" fill="#c02890" transform="rotate(153 -0.03 48.79)"/>
<ellipse cx="0.48" cy="34.36" rx="1.03" ry="1.16" fill="#c02890" transform="rotate(146 0.48 34.36)"/>
<ellipse cx="20.87" cy="73.92" rx="1.02" ry="1.28" fill="#1212a0" transform="rotate(31 20.87 73.92)"/>
<ellipse cx="14.49" cy="76.99" rx="0.82" ry="1.11" fill="#3050f8" transform="rotate(10 14.49 76.99)"/>
<ellipse cx="33.6" cy="54.5" rx="0.95" ry="0.99" fill="#2020e0" transform="rotate(84 33.6 54.5)"/>
<ellipse cx="12.54" cy="87.02" rx="1.04" ry="1.44" fill="#3a6aff" transform="rotate(98 12.54 87.02)"/>
<ellipse cx="61.54" cy="68.9" rx="0.9" ry="0.91" fill="#2848e8" transform="rotate(82 61.54 68.9)"/>
<ellipse cx="27.62" cy="16.29" rx="1.12" ry="1.36" fill="#1a1ac0" transform="rotate(102 27.62 16.29)"/>
<ellipse cx="37.77" cy="57.06" rx="1.12" ry="1.23" fill="#2a2aff" transform="rotate(149 37.77 57.06)"/>
<ellipse cx="51" cy="73.6" rx="1.13" ry="1.45" fill="#2a2aff" transform="rotate(138 51 73.6)"/>
<ellipse cx="84.33" cy="23.8" rx="1.09" ry="1.49" fill="#3a6aff" transform="rotate(58 84.33 23.8)"/>
<ellipse cx="81.37" cy="63.05" rx="1.04" ry="1.22" fill="#1616b0" transform="rotate(172 81.37 63.05)"/>
<ellipse cx="51.89" cy="63.22" rx="1.13" ry="1.27" fill="#2a2aff" transform="rotate(87 51.89 63.22)"/>
<ellipse cx="70.89" cy="76.78" rx="1.04" ry="1.44" fill="#1212a0" transform="rotate(2 70.89 76.78)"/>
<ellipse cx="17.59" cy="4.9" rx="0.84" ry="1.17" fill="#2038e0" transform="rotate(97 17.59 4.9)"/>
<ellipse cx="69.51" cy="40.58" rx="0.92" ry="0.97" fill="#1616b0" transform="rotate(168 69.51 40.58)"/>
<ellipse cx="76.13" cy="1.32" rx="0.94" ry="1.13" fill="#3050f8" transform="rotate(7 76.13 1.32)"/>
<ellipse cx="55.66" cy="66.89" rx="1.11" ry="1.2" fill="#2038e0" transform="rotate(158 55.66 66.89)"/>
<ellipse cx="79.33" cy="60.4" rx="1.01" ry="1.09" fill="#3a6aff" transform="rotate(16 79.33 60.4)"/>
<ellipse cx="85.32" cy="31.49" rx="0.91" ry="0.95" fill="#c828a8" transform="rotate(95 85.32 31.49)"/>
<ellipse cx="28.27" cy="41.98" rx="1.09" ry="1.49" fill="#2a2aff" transform="rotate(63 28.27 41.98)"/>
<ellipse cx="89.29" cy="81.27" rx="0.92" ry="0.96" fill="#1a1ac0" transform="rotate(142 89.29 81.27)"/>
<ellipse cx="53.6" cy="38.51" rx="0.99" ry="1.19" fill="#1616b0" transform="rotate(130 53.6 38.51)"/>
<ellipse cx="67.77" cy="60.19" rx="0.9" ry="1.19" fill="#2848e8" transform="rotate(133 67.77 60.19)"/>
<ellipse cx="67.22" cy="48.23" rx="0.88" ry="1.2" fill="#2222c8" transform="rotate(82 67.22 48.23)"/>
<ellipse cx="71.51" cy="72.99" rx="0.95" ry="1.05" fill="#1818a8" transform="rotate(168 71.51 72.99)"/>
<ellipse cx="83.07" cy="50.11" rx="1.02" ry="1.03" fill="#a030c0" transform="rotate(170 83.07 50.11)"/>
<ellipse cx="78.95" cy="55.55" rx="1.28" ry="1.54" fill="#d02898" transform="rotate(155 78.95 55.55)"/>
<ellipse cx="39.05" cy="18.13" rx="1.17" ry="1.23" fill="#b02088" transform="rotate(148 39.05 18.13)"/>
<ellipse cx="91.22" cy="67.46" rx="0.88" ry="0.91" fill="#1c1cd0" transform="rotate(148 91.22 67.46)"/>
<ellipse cx="69.81" cy="64.23" rx="1.22" ry="1.49" fill="#c828a8" transform="rotate(120 69.81 64.23)"/>
<ellipse cx="54.93" cy="13.89" rx="1.14" ry="1.4" fill="#2626ee" transform="rotate(0 54.93 13.89)"/>
<ellipse cx="77.95" cy="52.71" rx="1.06" ry="1.24" fill="#3a6aff" transform="rotate(168 77.95 52.71)"/>
<ellipse cx="72.41" cy="52.44" rx="0.84" ry="1.11" fill="#2c2cf8" transform="rotate(167 72.41 52.44)"/>
<ellipse cx="-0.79" cy="79.96" rx="1.02" ry="1.4" fill="#c828a8" transform="rotate(107 -0.79 79.96)"/>
<ellipse cx="77.93" cy="34.58" rx="1.12" ry="1.42" fill="#2c2cf8" transform="rotate(44 77.93 34.58)"/>
<ellipse cx="23.08" cy="22.32" rx="0.97" ry="1.07" fill="#1a1ac0" transform="rotate(83 23.08 22.32)"/>
<ellipse cx="38.77" cy="71.59" rx="0.92" ry="0.93" fill="#2a2aff" transform="rotate(151 38.77 71.59)"/>
<ellipse cx="55.46" cy="40.76" rx="0.84" ry="0.87" fill="#2848e8" transform="rotate(105 55.46 40.76)"/>
<ellipse cx="56.26" cy="45.43" rx="1.12" ry="1.21" fill="#2626ee" transform="rotate(11 56.26 45.43)"/>
<ellipse cx="91.7" cy="51.45" rx="1.11" ry="1.25" fill="#2848e8" transform="rotate(100 91.7 51.45)"/>
<ellipse cx="-0.89" cy="44.08" rx="1" ry="1.01" fill="#2c2cf8" transform="rotate(117 -0.89 44.08)"/>
<ellipse cx="41.76" cy="24.38" rx="1.04" ry="1.2" fill="#2848e8" transform="rotate(65 41.76 24.38)"/>
<ellipse cx="93.29" cy="85.92" rx="0.9" ry="1.01" fill="#2020e0" transform="rotate(160 93.29 85.92)"/>
<ellipse cx="42.43" cy="53.85" rx="0.94" ry="1" fill="#2848e8" transform="rotate(170 42.43 53.85)"/>
<ellipse cx="22.69" cy="18.83" rx="0.89" ry="1.14" fill="#2626ee" transform="rotate(7 22.69 18.83)"/>
<ellipse cx="40.45" cy="1.46" rx="0.93" ry="1.29" fill="#1c1cd0" transform="rotate(178 40.45 1.46)"/>
<ellipse cx="41.59" cy="28" rx="1.08" ry="1.48" fill="#1212a0" transform="rotate(27 41.59 28)"/>
<ellipse cx="30.38" cy="5.36" rx="1.08" ry="1.34" fill="#1818a8" transform="rotate(29 30.38 5.36)"/>
<ellipse cx="29.86" cy="79.68" rx="0.86" ry="0.87" fill="#2848e8" transform="rotate(144 29.86 79.68)"/>
<ellipse cx="67.55" cy="20" rx="1.15" ry="1.6" fill="#1818a8" transform="rotate(68 67.55 20)"/>
<ellipse cx="42.39" cy="5.14" rx="1.06" ry="1.22" fill="#3a6aff" transform="rotate(120 42.39 5.14)"/>
</g><rect x="83.6" y="85" width="9" height="1.5" fill="#ddd"/>
</svg>
<text x="435" y="416.3" font-size="12" text-anchor="middle" font-weight="normal" fill="#000">Control</text>
<text x="535.4" y="416.3" font-size="12" text-anchor="middle" font-weight="normal" fill="#000">TMX</text>
<text x="623.7" y="416.3" font-size="12" text-anchor="middle" font-weight="normal" fill="#000">Lip-1</text>
<line x1="16.6" y1="289.5" x2="16.6" y2="380.9" stroke="#000" stroke-width="1.2"/>
<line x1="16" y1="380.4" x2="477" y2="380.4" stroke="#000" stroke-width="1.1"/>
<path d="M49.2 363.3 L49.2 363 L52 360 L54.5 357.4 L56 360 L57.6 361.3 L60 360 L62 358 L64 353 L66 347.7 L68 340 L70.1 332.4 L72 322 L73.6 316.3 L75 308 L76.4 301.4 L77.8 308 L79.2 315.6 L80.2 326 L81.3 336.5 L83 350 L84.8 358.8 L86.5 362 L88.2 363.2 L88.2 363.3 Z" fill="#fde6e6" stroke="none"/>
<path d="M49.2 363 L52 360 L54.5 357.4 L56 360 L57.6 361.3 L60 360 L62 358 L64 353 L66 347.7 L68 340 L70.1 332.4 L72 322 L73.6 316.3 L75 308 L76.4 301.4 L77.8 308 L79.2 315.6 L80.2 326 L81.3 336.5 L83 350 L84.8 358.8 L86.5 362 L88.2 363.2" fill="none" stroke="#f03030" stroke-width="0.8" stroke-dasharray="2.2 0.8"/>
<line x1="35" y1="294.3" x2="104.2" y2="294.3" stroke="#777" stroke-width="1"/>
<line x1="35" y1="294.3" x2="35" y2="363.3" stroke="#888" stroke-width="0.9"/>
<line x1="35" y1="363.3" x2="104.2" y2="363.3" stroke="#888" stroke-width="1"/>
<line x1="33.5" y1="294.3" x2="35" y2="294.3" stroke="#999" stroke-width="0.6"/>
<text x="32.4" y="295.4" font-size="2.8" text-anchor="middle" font-weight="normal" fill="#aaa">1</text>
<line x1="33.5" y1="308.1" x2="35" y2="308.1" stroke="#999" stroke-width="0.6"/>
<text x="32.4" y="309.2" font-size="2.8" text-anchor="middle" font-weight="normal" fill="#aaa">1</text>
<line x1="33.5" y1="321.9" x2="35" y2="321.9" stroke="#999" stroke-width="0.6"/>
<text x="32.4" y="323" font-size="2.8" text-anchor="middle" font-weight="normal" fill="#aaa">1</text>
<line x1="33.5" y1="335.7" x2="35" y2="335.7" stroke="#999" stroke-width="0.6"/>
<text x="32.4" y="336.8" font-size="2.8" text-anchor="middle" font-weight="normal" fill="#aaa">1</text>
<line x1="33.5" y1="349.5" x2="35" y2="349.5" stroke="#999" stroke-width="0.6"/>
<text x="32.4" y="350.6" font-size="2.8" text-anchor="middle" font-weight="normal" fill="#aaa">1</text>
<line x1="33.5" y1="363.3" x2="35" y2="363.3" stroke="#999" stroke-width="0.6"/>
<text x="32.4" y="364.4" font-size="2.8" text-anchor="middle" font-weight="normal" fill="#aaa">1</text>
<line x1="35" y1="363.3" x2="35" y2="364.8" stroke="#999" stroke-width="0.6"/>
<text x="35" y="366.9" font-size="2.8" text-anchor="middle" font-weight="normal" fill="#999">10³</text>
<line x1="52.3" y1="363.3" x2="52.3" y2="364.8" stroke="#999" stroke-width="0.6"/>
<text x="52.3" y="366.9" font-size="2.8" text-anchor="middle" font-weight="normal" fill="#999">10³</text>
<line x1="69.6" y1="363.3" x2="69.6" y2="364.8" stroke="#999" stroke-width="0.6"/>
<text x="69.6" y="366.9" font-size="2.8" text-anchor="middle" font-weight="normal" fill="#999">10³</text>
<line x1="86.9" y1="363.3" x2="86.9" y2="364.8" stroke="#999" stroke-width="0.6"/>
<text x="86.9" y="366.9" font-size="2.8" text-anchor="middle" font-weight="normal" fill="#999">10³</text>
<line x1="104.2" y1="363.3" x2="104.2" y2="364.8" stroke="#999" stroke-width="0.6"/>
<text x="104.2" y="366.9" font-size="2.8" text-anchor="middle" font-weight="normal" fill="#999">10³</text>
<text x="69" y="371.3" font-size="3" text-anchor="middle" font-weight="normal" fill="#888">FITC-A</text>
<text x="28.4" y="330" font-size="3" fill="#999" text-anchor="middle" transform="rotate(-90 28.4 330)">Count</text>
<text x="67" y="292.7" font-size="2.6" text-anchor="middle" font-weight="normal" fill="#e77">FITC-A subset</text>
<line x1="77.8" y1="297.2" x2="104" y2="297.2" stroke="#ff00e0" stroke-width="1.5"/>
<text x="36" y="306.9" font-size="11.2" text-anchor="start" font-weight="normal" fill="#111">4.36</text>
<text x="66" y="288.7" font-size="12" text-anchor="middle" font-weight="normal" fill="#000">Control</text>
<path d="M140.6 363.3 L140.6 363 L145 361 L150.4 356.7 L151.8 360.2 L154 358 L157.4 354.6 L159.5 349 L161.5 342 L163 334 L164.3 326.8 L165.4 318 L166.4 308.7 L168.2 300.3 L169.9 310 L171 318 L172 326.8 L173 338 L174 350.5 L175.5 358 L176.9 362.5 L179 363.2 L179 363.3 Z" fill="#fde6e6" stroke="none"/>
<path d="M140.6 363 L145 361 L150.4 356.7 L151.8 360.2 L154 358 L157.4 354.6 L159.5 349 L161.5 342 L163 334 L164.3 326.8 L165.4 318 L166.4 308.7 L168.2 300.3 L169.9 310 L171 318 L172 326.8 L173 338 L174 350.5 L175.5 358 L176.9 362.5 L179 363.2" fill="none" stroke="#f03030" stroke-width="0.8" stroke-dasharray="2.2 0.8"/>
<line x1="125" y1="294.3" x2="194.2" y2="294.3" stroke="#777" stroke-width="1"/>
<line x1="125" y1="294.3" x2="125" y2="363.3" stroke="#888" stroke-width="0.9"/>
<line x1="125" y1="363.3" x2="194.2" y2="363.3" stroke="#888" stroke-width="1"/>
<line x1="123.5" y1="294.3" x2="125" y2="294.3" stroke="#999" stroke-width="0.6"/>
<text x="122.4" y="295.4" font-size="2.8" text-anchor="middle" font-weight="normal" fill="#aaa">1</text>
<line x1="123.5" y1="308.1" x2="125" y2="308.1" stroke="#999" stroke-width="0.6"/>
<text x="122.4" y="309.2" font-size="2.8" text-anchor="middle" font-weight="normal" fill="#aaa">1</text>
<line x1="123.5" y1="321.9" x2="125" y2="321.9" stroke="#999" stroke-width="0.6"/>
<text x="122.4" y="323" font-size="2.8" text-anchor="middle" font-weight="normal" fill="#aaa">1</text>
<line x1="123.5" y1="335.7" x2="125" y2="335.7" stroke="#999" stroke-width="0.6"/>
<text x="122.4" y="336.8" font-size="2.8" text-anchor="middle" font-weight="normal" fill="#aaa">1</text>
<line x1="123.5" y1="349.5" x2="125" y2="349.5" stroke="#999" stroke-width="0.6"/>
<text x="122.4" y="350.6" font-size="2.8" text-anchor="middle" font-weight="normal" fill="#aaa">1</text>
<line x1="123.5" y1="363.3" x2="125" y2="363.3" stroke="#999" stroke-width="0.6"/>
<text x="122.4" y="364.4" font-size="2.8" text-anchor="middle" font-weight="normal" fill="#aaa">1</text>
<line x1="125" y1="363.3" x2="125" y2="364.8" stroke="#999" stroke-width="0.6"/>
<text x="125" y="366.9" font-size="2.8" text-anchor="middle" font-weight="normal" fill="#999">10³</text>
<line x1="142.3" y1="363.3" x2="142.3" y2="364.8" stroke="#999" stroke-width="0.6"/>
<text x="142.3" y="366.9" font-size="2.8" text-anchor="middle" font-weight="normal" fill="#999">10³</text>
<line x1="159.6" y1="363.3" x2="159.6" y2="364.8" stroke="#999" stroke-width="0.6"/>
<text x="159.6" y="366.9" font-size="2.8" text-anchor="middle" font-weight="normal" fill="#999">10³</text>
<line x1="176.9" y1="363.3" x2="176.9" y2="364.8" stroke="#999" stroke-width="0.6"/>
<text x="176.9" y="366.9" font-size="2.8" text-anchor="middle" font-weight="normal" fill="#999">10³</text>
<line x1="194.2" y1="363.3" x2="194.2" y2="364.8" stroke="#999" stroke-width="0.6"/>
<text x="194.2" y="366.9" font-size="2.8" text-anchor="middle" font-weight="normal" fill="#999">10³</text>
<text x="159" y="371.3" font-size="3" text-anchor="middle" font-weight="normal" fill="#888">FITC-A</text>
<text x="118.4" y="330" font-size="3" fill="#999" text-anchor="middle" transform="rotate(-90 118.4 330)">Count</text>
<text x="157" y="292.7" font-size="2.6" text-anchor="middle" font-weight="normal" fill="#e77">FITC-A subset</text>
<line x1="167.8" y1="297.2" x2="194" y2="297.2" stroke="#ff00e0" stroke-width="1.5"/>
<text x="126.4" y="306.9" font-size="11.2" text-anchor="start" font-weight="normal" fill="#111">6.32</text>
<text x="158" y="288.7" font-size="12" text-anchor="middle" font-weight="normal" fill="#000">1 μmol/L</text>
<path d="M232.7 363.3 L232.7 363 L241.8 361.9 L246 357.4 L249 353.5 L251.5 349 L253.5 343 L255 337.9 L257.1 324 L259.2 310.8 L261.3 301.7 L262.7 312.9 L264.3 331 L266.2 351.9 L268.2 361.6 L271 363.2 L271 363.3 Z" fill="#fde6e6" stroke="none"/>
<path d="M232.7 363 L241.8 361.9 L246 357.4 L249 353.5 L251.5 349 L253.5 343 L255 337.9 L257.1 324 L259.2 310.8 L261.3 301.7 L262.7 312.9 L264.3 331 L266.2 351.9 L268.2 361.6 L271 363.2" fill="none" stroke="#f03030" stroke-width="0.8" stroke-dasharray="2.2 0.8"/>
<line x1="214.8" y1="294.3" x2="284" y2="294.3" stroke="#777" stroke-width="1"/>
<line x1="214.8" y1="294.3" x2="214.8" y2="363.3" stroke="#888" stroke-width="0.9"/>
<line x1="214.8" y1="363.3" x2="284" y2="363.3" stroke="#888" stroke-width="1"/>
<line x1="213.3" y1="294.3" x2="214.8" y2="294.3" stroke="#999" stroke-width="0.6"/>
<text x="212.2" y="295.4" font-size="2.8" text-anchor="middle" font-weight="normal" fill="#aaa">1</text>
<line x1="213.3" y1="308.1" x2="214.8" y2="308.1" stroke="#999" stroke-width="0.6"/>
<text x="212.2" y="309.2" font-size="2.8" text-anchor="middle" font-weight="normal" fill="#aaa">1</text>
<line x1="213.3" y1="321.9" x2="214.8" y2="321.9" stroke="#999" stroke-width="0.6"/>
<text x="212.2" y="323" font-size="2.8" text-anchor="middle" font-weight="normal" fill="#aaa">1</text>
<line x1="213.3" y1="335.7" x2="214.8" y2="335.7" stroke="#999" stroke-width="0.6"/>
<text x="212.2" y="336.8" font-size="2.8" text-anchor="middle" font-weight="normal" fill="#aaa">1</text>
<line x1="213.3" y1="349.5" x2="214.8" y2="349.5" stroke="#999" stroke-width="0.6"/>
<text x="212.2" y="350.6" font-size="2.8" text-anchor="middle" font-weight="normal" fill="#aaa">1</text>
<line x1="213.3" y1="363.3" x2="214.8" y2="363.3" stroke="#999" stroke-width="0.6"/>
<text x="212.2" y="364.4" font-size="2.8" text-anchor="middle" font-weight="normal" fill="#aaa">1</text>
<line x1="214.8" y1="363.3" x2="214.8" y2="364.8" stroke="#999" stroke-width="0.6"/>
<text x="214.8" y="366.9" font-size="2.8" text-anchor="middle" font-weight="normal" fill="#999">10³</text>
<line x1="232.1" y1="363.3" x2="232.1" y2="364.8" stroke="#999" stroke-width="0.6"/>
<text x="232.1" y="366.9" font-size="2.8" text-anchor="middle" font-weight="normal" fill="#999">10³</text>
<line x1="249.4" y1="363.3" x2="249.4" y2="364.8" stroke="#999" stroke-width="0.6"/>
<text x="249.4" y="366.9" font-size="2.8" text-anchor="middle" font-weight="normal" fill="#999">10³</text>
<line x1="266.7" y1="363.3" x2="266.7" y2="364.8" stroke="#999" stroke-width="0.6"/>
<text x="266.7" y="366.9" font-size="2.8" text-anchor="middle" font-weight="normal" fill="#999">10³</text>
<line x1="284" y1="363.3" x2="284" y2="364.8" stroke="#999" stroke-width="0.6"/>
<text x="284" y="366.9" font-size="2.8" text-anchor="middle" font-weight="normal" fill="#999">10³</text>
<text x="248.8" y="371.3" font-size="3" text-anchor="middle" font-weight="normal" fill="#888">FITC-A</text>
<text x="208.2" y="330" font-size="3" fill="#999" text-anchor="middle" transform="rotate(-90 208.2 330)">Count</text>
<text x="246.8" y="292.7" font-size="2.6" text-anchor="middle" font-weight="normal" fill="#e77">FITC-A subset</text>
<line x1="257.8" y1="297.2" x2="284" y2="297.2" stroke="#ff00e0" stroke-width="1.5"/>
<text x="216" y="306.9" font-size="11.2" text-anchor="start" font-weight="normal" fill="#111">17.16</text>
<text x="247" y="288.7" font-size="12" text-anchor="middle" font-weight="normal" fill="#000">2 μmol/L</text>
<path d="M333.2 363.3 L333.2 363 L341.5 361.6 L345 357.4 L347.1 346.3 L348.5 331 L349.9 312.9 L351.3 300.3 L352.7 311.5 L354.1 331 L355.5 347.7 L357.5 360.2 L361 363.2 L361 363.3 Z" fill="#fde6e6" stroke="none"/>
<path d="M333.2 363 L341.5 361.6 L345 357.4 L347.1 346.3 L348.5 331 L349.9 312.9 L351.3 300.3 L352.7 311.5 L354.1 331 L355.5 347.7 L357.5 360.2 L361 363.2" fill="none" stroke="#f03030" stroke-width="0.8" stroke-dasharray="2.2 0.8"/>
<line x1="304.5" y1="294.3" x2="373.7" y2="294.3" stroke="#777" stroke-width="1"/>
<line x1="304.5" y1="294.3" x2="304.5" y2="363.3" stroke="#888" stroke-width="0.9"/>
<line x1="304.5" y1="363.3" x2="373.7" y2="363.3" stroke="#888" stroke-width="1"/>
<line x1="303" y1="294.3" x2="304.5" y2="294.3" stroke="#999" stroke-width="0.6"/>
<text x="301.9" y="295.4" font-size="2.8" text-anchor="middle" font-weight="normal" fill="#aaa">1</text>
<line x1="303" y1="308.1" x2="304.5" y2="308.1" stroke="#999" stroke-width="0.6"/>
<text x="301.9" y="309.2" font-size="2.8" text-anchor="middle" font-weight="normal" fill="#aaa">1</text>
<line x1="303" y1="321.9" x2="304.5" y2="321.9" stroke="#999" stroke-width="0.6"/>
<text x="301.9" y="323" font-size="2.8" text-anchor="middle" font-weight="normal" fill="#aaa">1</text>
<line x1="303" y1="335.7" x2="304.5" y2="335.7" stroke="#999" stroke-width="0.6"/>
<text x="301.9" y="336.8" font-size="2.8" text-anchor="middle" font-weight="normal" fill="#aaa">1</text>
<line x1="303" y1="349.5" x2="304.5" y2="349.5" stroke="#999" stroke-width="0.6"/>
<text x="301.9" y="350.6" font-size="2.8" text-anchor="middle" font-weight="normal" fill="#aaa">1</text>
<line x1="303" y1="363.3" x2="304.5" y2="363.3" stroke="#999" stroke-width="0.6"/>
<text x="301.9" y="364.4" font-size="2.8" text-anchor="middle" font-weight="normal" fill="#aaa">1</text>
<line x1="304.5" y1="363.3" x2="304.5" y2="364.8" stroke="#999" stroke-width="0.6"/>
<text x="304.5" y="366.9" font-size="2.8" text-anchor="middle" font-weight="normal" fill="#999">10³</text>
<line x1="321.8" y1="363.3" x2="321.8" y2="364.8" stroke="#999" stroke-width="0.6"/>
<text x="321.8" y="366.9" font-size="2.8" text-anchor="middle" font-weight="normal" fill="#999">10³</text>
<line x1="339.1" y1="363.3" x2="339.1" y2="364.8" stroke="#999" stroke-width="0.6"/>
<text x="339.1" y="366.9" font-size="2.8" text-anchor="middle" font-weight="normal" fill="#999">10³</text>
<line x1="356.4" y1="363.3" x2="356.4" y2="364.8" stroke="#999" stroke-width="0.6"/>
<text x="356.4" y="366.9" font-size="2.8" text-anchor="middle" font-weight="normal" fill="#999">10³</text>
<line x1="373.7" y1="363.3" x2="373.7" y2="364.8" stroke="#999" stroke-width="0.6"/>
<text x="373.7" y="366.9" font-size="2.8" text-anchor="middle" font-weight="normal" fill="#999">10³</text>
<text x="338.5" y="371.3" font-size="3" text-anchor="middle" font-weight="normal" fill="#888">FITC-A</text>
<text x="297.9" y="330" font-size="3" fill="#999" text-anchor="middle" transform="rotate(-90 297.9 330)">Count</text>
<text x="336.5" y="292.7" font-size="2.6" text-anchor="middle" font-weight="normal" fill="#e77">FITC-A subset</text>
<line x1="347.8" y1="297.2" x2="374" y2="297.2" stroke="#ff00e0" stroke-width="1.5"/>
<text x="306" y="306.9" font-size="11.2" text-anchor="start" font-weight="normal" fill="#111">32.91</text>
<text x="341" y="288.7" font-size="12" text-anchor="middle" font-weight="normal" fill="#000">3 μmol/L</text>
<path d="M423.2 363.3 L423.2 363 L435.7 361.9 L438.5 357.4 L440.6 346.3 L442.7 331 L444.1 314.2 L445.2 301 L446.6 311.5 L447.5 326.8 L448.9 344.9 L451 360.2 L454.5 363.2 L454.5 363.3 Z" fill="#fde6e6" stroke="none"/>
<path d="M423.2 363 L435.7 361.9 L438.5 357.4 L440.6 346.3 L442.7 331 L444.1 314.2 L445.2 301 L446.6 311.5 L447.5 326.8 L448.9 344.9 L451 360.2 L454.5 363.2" fill="none" stroke="#f03030" stroke-width="0.8" stroke-dasharray="2.2 0.8"/>
<line x1="394.3" y1="294.3" x2="463.5" y2="294.3" stroke="#777" stroke-width="1"/>
<line x1="394.3" y1="294.3" x2="394.3" y2="363.3" stroke="#888" stroke-width="0.9"/>
<line x1="394.3" y1="363.3" x2="463.5" y2="363.3" stroke="#888" stroke-width="1"/>
<line x1="392.8" y1="294.3" x2="394.3" y2="294.3" stroke="#999" stroke-width="0.6"/>
<text x="391.7" y="295.4" font-size="2.8" text-anchor="middle" font-weight="normal" fill="#aaa">1</text>
<line x1="392.8" y1="308.1" x2="394.3" y2="308.1" stroke="#999" stroke-width="0.6"/>
<text x="391.7" y="309.2" font-size="2.8" text-anchor="middle" font-weight="normal" fill="#aaa">1</text>
<line x1="392.8" y1="321.9" x2="394.3" y2="321.9" stroke="#999" stroke-width="0.6"/>
<text x="391.7" y="323" font-size="2.8" text-anchor="middle" font-weight="normal" fill="#aaa">1</text>
<line x1="392.8" y1="335.7" x2="394.3" y2="335.7" stroke="#999" stroke-width="0.6"/>
<text x="391.7" y="336.8" font-size="2.8" text-anchor="middle" font-weight="normal" fill="#aaa">1</text>
<line x1="392.8" y1="349.5" x2="394.3" y2="349.5" stroke="#999" stroke-width="0.6"/>
<text x="391.7" y="350.6" font-size="2.8" text-anchor="middle" font-weight="normal" fill="#aaa">1</text>
<line x1="392.8" y1="363.3" x2="394.3" y2="363.3" stroke="#999" stroke-width="0.6"/>
<text x="391.7" y="364.4" font-size="2.8" text-anchor="middle" font-weight="normal" fill="#aaa">1</text>
<line x1="394.3" y1="363.3" x2="394.3" y2="364.8" stroke="#999" stroke-width="0.6"/>
<text x="394.3" y="366.9" font-size="2.8" text-anchor="middle" font-weight="normal" fill="#999">10³</text>
<line x1="411.6" y1="363.3" x2="411.6" y2="364.8" stroke="#999" stroke-width="0.6"/>
<text x="411.6" y="366.9" font-size="2.8" text-anchor="middle" font-weight="normal" fill="#999">10³</text>
<line x1="428.9" y1="363.3" x2="428.9" y2="364.8" stroke="#999" stroke-width="0.6"/>
<text x="428.9" y="366.9" font-size="2.8" text-anchor="middle" font-weight="normal" fill="#999">10³</text>
<line x1="446.2" y1="363.3" x2="446.2" y2="364.8" stroke="#999" stroke-width="0.6"/>
<text x="446.2" y="366.9" font-size="2.8" text-anchor="middle" font-weight="normal" fill="#999">10³</text>
<line x1="463.5" y1="363.3" x2="463.5" y2="364.8" stroke="#999" stroke-width="0.6"/>
<text x="463.5" y="366.9" font-size="2.8" text-anchor="middle" font-weight="normal" fill="#999">10³</text>
<text x="428.3" y="371.3" font-size="3" text-anchor="middle" font-weight="normal" fill="#888">FITC-A</text>
<text x="387.7" y="330" font-size="3" fill="#999" text-anchor="middle" transform="rotate(-90 387.7 330)">Count</text>
<text x="426.3" y="292.7" font-size="2.6" text-anchor="middle" font-weight="normal" fill="#e77">FITC-A subset</text>
<line x1="443" y1="297.2" x2="468.6" y2="297.2" stroke="#ff00e0" stroke-width="1.5"/>
<text x="397.8" y="306.9" font-size="11.2" text-anchor="start" font-weight="normal" fill="#111">38.77</text>
<text x="429.6" y="288.7" font-size="12" text-anchor="middle" font-weight="normal" fill="#000">Erastin</text>
<rect x="529.5" y="290.7" width="132.2" height="20.7" fill="url(#acg)" stroke="#444" stroke-width="1"/>
<svg x="530" y="291.2" width="131.2" height="19.7" overflow="hidden"><g transform="translate(-530 -291.2)">
<rect x="529.5" y="290.7" width="132.2" height="20.7" fill="url(#acr)"/>
<g filter="url(#bl1)" fill="#c2c2c2"><rect x="535" y="302.04" width="20" height="3.52" rx="1.76"/><ellipse cx="537.2" cy="303.8" rx="2.2" ry="2"/><ellipse cx="552.8" cy="303.8" rx="2.2" ry="2"/></g>
<g filter="url(#bl1)" fill="#c6c6c6"><rect x="559.5" y="302.04" width="19" height="3.52" rx="1.76"/><ellipse cx="561.7" cy="303.8" rx="2.2" ry="2"/><ellipse cx="576.3" cy="303.8" rx="2.2" ry="2"/></g>
<g filter="url(#bl1)" fill="url(#b2g)"><rect x="583.5" y="301.6" width="19" height="4.4" rx="2.2"/><ellipse cx="586.25" cy="303.8" rx="2.75" ry="2.5"/><ellipse cx="599.75" cy="303.8" rx="2.75" ry="2.5"/></g>
<g filter="url(#bl1)" fill="#101010"><rect x="606.5" y="300.72" width="22" height="6.16" rx="3.08"/><ellipse cx="610.35" cy="303.8" rx="3.85" ry="3.5"/><ellipse cx="624.65" cy="303.8" rx="3.85" ry="3.5"/></g>
<g filter="url(#bl1)" fill="#000"><rect x="633" y="299.62" width="27" height="8.36" rx="4.18"/><ellipse cx="638.23" cy="303.8" rx="5.23" ry="4.75"/><ellipse cx="654.77" cy="303.8" rx="5.23" ry="4.75"/></g>
</g></svg>
<text x="521.2" y="305.05" font-size="11.3" text-anchor="end" font-weight="normal" fill="#111">ACSL4</text>
<line x1="662.2" y1="303.8" x2="667.7" y2="303.8" stroke="#222" stroke-width="1"/>
<text x="668.7" y="307.1" font-size="11" text-anchor="start" font-weight="normal" fill="#111">79</text>
<rect x="529.5" y="314.6" width="132.2" height="20.8" fill="#e6e6e6" stroke="#444" stroke-width="1"/>
<svg x="530" y="315.1" width="131.2" height="19.8" overflow="hidden"><g transform="translate(-530 -315.1)">
<g filter="url(#bl1)" fill="#000"><rect x="533.25" y="321.94" width="22.5" height="7.92" rx="3.96"/><ellipse cx="538.2" cy="325.9" rx="4.95" ry="4.5"/><ellipse cx="550.8" cy="325.9" rx="4.95" ry="4.5"/></g>
<g filter="url(#bl1)" fill="#000"><rect x="561.75" y="321.72" width="22.5" height="8.36" rx="4.18"/><ellipse cx="566.98" cy="325.9" rx="5.23" ry="4.75"/><ellipse cx="579.02" cy="325.9" rx="5.23" ry="4.75"/></g>
<g filter="url(#bl1)" fill="#000"><rect x="588" y="321.94" width="20" height="7.92" rx="3.96"/><ellipse cx="592.95" cy="325.9" rx="4.95" ry="4.5"/><ellipse cx="603.05" cy="325.9" rx="4.95" ry="4.5"/></g>
<g filter="url(#bl1)" fill="#050505"><rect x="612.6" y="322.38" width="20" height="7.04" rx="3.52"/><ellipse cx="617" cy="325.9" rx="4.4" ry="4"/><ellipse cx="628.2" cy="325.9" rx="4.4" ry="4"/></g>
<g filter="url(#bl1)" fill="#222"><rect x="638.25" y="323.48" width="19.5" height="4.84" rx="2.42"/><ellipse cx="641.27" cy="325.9" rx="3.03" ry="2.75"/><ellipse cx="654.73" cy="325.9" rx="3.03" ry="2.75"/></g>
</g></svg>
<text x="521.2" y="329.65" font-size="11.3" text-anchor="end" font-weight="normal" fill="#111">FTH1</text>
<line x1="662.2" y1="325.9" x2="667.7" y2="325.9" stroke="#222" stroke-width="1"/>
<text x="668.7" y="329.2" font-size="11" text-anchor="start" font-weight="normal" fill="#111">21</text>
<rect x="528.5" y="338.3" width="132.5" height="21.5" fill="#e6e6e6" stroke="#444" stroke-width="1"/>
<svg x="529" y="338.8" width="131.5" height="20.5" overflow="hidden"><g transform="translate(-529 -338.8)">
<g filter="url(#bl1)" fill="#000"><rect x="532.7" y="345.56" width="18" height="7.48" rx="3.74"/><ellipse cx="537.38" cy="349.3" rx="4.68" ry="4.25"/><ellipse cx="546.03" cy="349.3" rx="4.68" ry="4.25"/></g>
<g filter="url(#bl1)" fill="#000"><rect x="557.75" y="345.78" width="19.5" height="7.04" rx="3.52"/><ellipse cx="562.15" cy="349.3" rx="4.4" ry="4"/><ellipse cx="572.85" cy="349.3" rx="4.4" ry="4"/></g>
<g filter="url(#bl1)" fill="#0c0c0c"><rect x="586.05" y="346.66" width="17.5" height="5.28" rx="2.64"/><ellipse cx="589.35" cy="349.3" rx="3.3" ry="3"/><ellipse cx="600.25" cy="349.3" rx="3.3" ry="3"/></g>
<g filter="url(#bl1)" fill="#161616"><rect x="613.05" y="347.1" width="18.5" height="4.4" rx="2.2"/><ellipse cx="615.8" cy="349.3" rx="2.75" ry="2.5"/><ellipse cx="628.8" cy="349.3" rx="2.75" ry="2.5"/></g>
<g filter="url(#bl1)" fill="#cbcbcb"><rect x="642.5" y="347.76" width="13" height="3.08" rx="1.54"/><ellipse cx="644.42" cy="349.3" rx="1.93" ry="1.75"/><ellipse cx="653.58" cy="349.3" rx="1.93" ry="1.75"/></g>
</g></svg>
<text x="521.2" y="353.65" font-size="11.3" text-anchor="end" font-weight="normal" fill="#111">GPX4</text>
<line x1="661.5" y1="349.3" x2="667" y2="349.3" stroke="#222" stroke-width="1"/>
<text x="668" y="352.6" font-size="11" text-anchor="start" font-weight="normal" fill="#111">17</text>
<rect x="529.5" y="362.3" width="132.2" height="21.7" fill="#e6e6e6" stroke="#444" stroke-width="1"/>
<svg x="530" y="362.8" width="131.2" height="20.7" overflow="hidden"><g transform="translate(-530 -362.8)">
<g filter="url(#bl1)" fill="#000"><rect x="532.4" y="370.5" width="26" height="6.6" rx="3.3"/><ellipse cx="536.52" cy="373.8" rx="4.12" ry="3.75"/><ellipse cx="554.27" cy="373.8" rx="4.12" ry="3.75"/></g>
<g filter="url(#bl1)" fill="#000"><rect x="561.5" y="370.28" width="21" height="7.04" rx="3.52"/><ellipse cx="565.9" cy="373.8" rx="4.4" ry="4"/><ellipse cx="578.1" cy="373.8" rx="4.4" ry="4"/></g>
<g filter="url(#bl1)" fill="#000"><rect x="585.55" y="370.28" width="22.5" height="7.04" rx="3.52"/><ellipse cx="589.95" cy="373.8" rx="4.4" ry="4"/><ellipse cx="603.65" cy="373.8" rx="4.4" ry="4"/></g>
<g filter="url(#bl1)" fill="#000"><rect x="610.5" y="370.28" width="22" height="7.04" rx="3.52"/><ellipse cx="614.9" cy="373.8" rx="4.4" ry="4"/><ellipse cx="628.1" cy="373.8" rx="4.4" ry="4"/></g>
<g filter="url(#bl1)" fill="#000"><rect x="635.05" y="370.28" width="23.5" height="7.04" rx="3.52"/><ellipse cx="639.45" cy="373.8" rx="4.4" ry="4"/><ellipse cx="654.15" cy="373.8" rx="4.4" ry="4"/></g>
</g></svg>
<text x="521.2" y="378.05" font-size="11.3" text-anchor="end" font-weight="normal" fill="#111">GAPDH</text>
<line x1="662.2" y1="373.8" x2="667.7" y2="373.8" stroke="#222" stroke-width="1"/>
<text x="668.7" y="377.1" font-size="11" text-anchor="start" font-weight="normal" fill="#111">36</text>
<text x="598.5" y="271.3" font-size="12.2" text-anchor="middle" font-weight="normal" fill="#111">TMX, μmol/L</text>
<line x1="567.4" y1="276" x2="620.4" y2="276" stroke="#000" stroke-width="1.5"/>
<text x="545" y="288" font-size="10.2" text-anchor="middle" font-weight="normal" fill="#111">Ctrl</text>
<text x="570" y="288" font-size="10.2" text-anchor="middle" font-weight="normal" fill="#111">1</text>
<text x="593.6" y="288" font-size="10.2" text-anchor="middle" font-weight="normal" fill="#111">2</text>
<text x="617" y="288" font-size="10.2" text-anchor="middle" font-weight="normal" fill="#111">3</text>
<text x="646.4" y="288" font-size="10.2" text-anchor="middle" font-weight="normal" fill="#111">Erastin</text>
<text x="676.6" y="291" font-size="10" text-anchor="middle" font-weight="normal" fill="#111">kDa</text></svg>
</body></html>
